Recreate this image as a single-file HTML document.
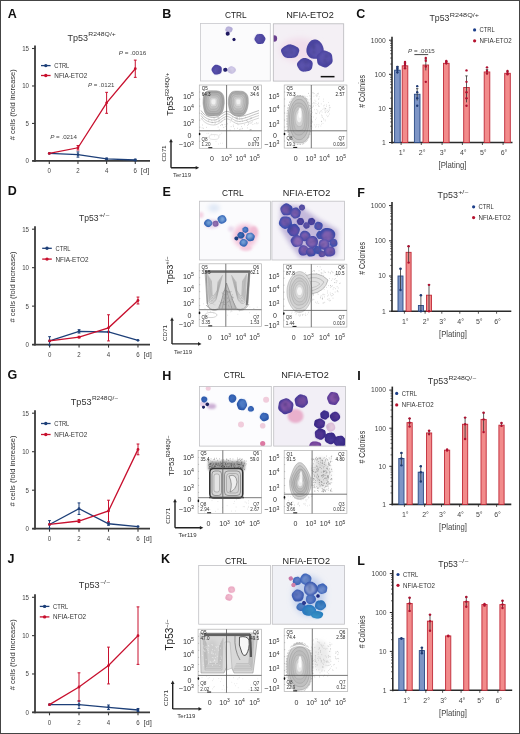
<!DOCTYPE html>
<html><head><meta charset="utf-8"><style>
html,body{margin:0;padding:0;background:#fff;}
svg{display:block;font-family:"Liberation Sans", sans-serif;will-change:transform;}
</style></head><body>
<svg width="520" height="734" viewBox="0 0 520 734">
<defs>
<filter id="bs" x="-50%" y="-50%" width="200%" height="200%"><feGaussianBlur stdDeviation="0.35"/></filter>
<filter id="bc" x="-50%" y="-50%" width="200%" height="200%"><feGaussianBlur stdDeviation="0.55"/></filter>
<filter id="b1" x="-50%" y="-50%" width="200%" height="200%"><feGaussianBlur stdDeviation="1"/></filter>
<filter id="b2" x="-50%" y="-50%" width="200%" height="200%"><feGaussianBlur stdDeviation="2"/></filter>
<filter id="b3" x="-50%" y="-50%" width="200%" height="200%"><feGaussianBlur stdDeviation="3"/></filter>
</defs>
<rect x="0" y="0" width="520" height="734" fill="#fff"/>
<text x="7.70" y="17.90" font-size="12.5" text-anchor="start" fill="#111" font-weight="bold" >A</text>
<text x="162.20" y="17.80" font-size="12.5" text-anchor="start" fill="#111" font-weight="bold" >B</text>
<text x="356.30" y="18.10" font-size="12.5" text-anchor="start" fill="#111" font-weight="bold" >C</text>
<text x="67.50" y="40.50" font-size="9.2" text-anchor="start" fill="#333" textLength="20.50" lengthAdjust="spacingAndGlyphs" >Tp53</text>
<text x="88.30" y="36.30" font-size="5.2" text-anchor="start" fill="#333" textLength="27.50" lengthAdjust="spacingAndGlyphs" >R248Q/+</text>
<text transform="translate(15.30,104.70) rotate(-90)" font-size="7.8" text-anchor="middle" fill="#333" textLength="71" lengthAdjust="spacingAndGlyphs"># cells (fold increase)</text>
<line x1="35.00" y1="45.50" x2="35.00" y2="161.80" stroke="#3a3a3a" stroke-width="1.8" />
<line x1="32.20" y1="160.90" x2="150.00" y2="160.90" stroke="#3a3a3a" stroke-width="1.8" />
<line x1="32.00" y1="160.90" x2="35.00" y2="160.90" stroke="#3a3a3a" stroke-width="1.1" />
<text x="29.00" y="163.30" font-size="6.8" text-anchor="end" fill="#444" textLength="3.40" lengthAdjust="spacingAndGlyphs" >0</text>
<line x1="32.00" y1="123.43" x2="35.00" y2="123.43" stroke="#3a3a3a" stroke-width="1.1" />
<text x="29.00" y="125.83" font-size="6.8" text-anchor="end" fill="#444" textLength="3.40" lengthAdjust="spacingAndGlyphs" >5</text>
<line x1="32.00" y1="85.97" x2="35.00" y2="85.97" stroke="#3a3a3a" stroke-width="1.1" />
<text x="29.00" y="88.37" font-size="6.8" text-anchor="end" fill="#444" textLength="6.80" lengthAdjust="spacingAndGlyphs" >10</text>
<line x1="32.00" y1="48.50" x2="35.00" y2="48.50" stroke="#3a3a3a" stroke-width="1.1" />
<text x="29.00" y="50.90" font-size="6.8" text-anchor="end" fill="#444" textLength="6.80" lengthAdjust="spacingAndGlyphs" >15</text>
<line x1="49.30" y1="160.90" x2="49.30" y2="163.90" stroke="#3a3a3a" stroke-width="1.1" />
<text x="49.30" y="173.40" font-size="6.8" text-anchor="middle" fill="#444" textLength="3.40" lengthAdjust="spacingAndGlyphs" >0</text>
<line x1="77.96" y1="160.90" x2="77.96" y2="163.90" stroke="#3a3a3a" stroke-width="1.1" />
<text x="77.96" y="173.40" font-size="6.8" text-anchor="middle" fill="#444" textLength="3.40" lengthAdjust="spacingAndGlyphs" >2</text>
<line x1="106.62" y1="160.90" x2="106.62" y2="163.90" stroke="#3a3a3a" stroke-width="1.1" />
<text x="106.62" y="173.40" font-size="6.8" text-anchor="middle" fill="#444" textLength="3.40" lengthAdjust="spacingAndGlyphs" >4</text>
<line x1="135.28" y1="160.90" x2="135.28" y2="163.90" stroke="#3a3a3a" stroke-width="1.1" />
<text x="135.28" y="173.40" font-size="6.8" text-anchor="middle" fill="#444" textLength="3.40" lengthAdjust="spacingAndGlyphs" >6</text>
<text x="140.78" y="173.40" font-size="6.8" text-anchor="start" fill="#444" textLength="8.50" lengthAdjust="spacingAndGlyphs" >[d]</text>
<line x1="41.00" y1="65.60" x2="50.60" y2="65.60" stroke="#1d3f78" stroke-width="1.3" />
<circle cx="45.80" cy="65.60" r="1.7" fill="#1d3f78"/>
<text x="54.30" y="68.00" font-size="7.0" text-anchor="start" fill="#333" textLength="15.00" lengthAdjust="spacingAndGlyphs" >CTRL</text>
<line x1="41.00" y1="75.50" x2="50.60" y2="75.50" stroke="#c8102e" stroke-width="1.3" />
<circle cx="45.80" cy="75.50" r="1.7" fill="#c8102e"/>
<text x="54.30" y="77.90" font-size="7.0" text-anchor="start" fill="#333" textLength="33.00" lengthAdjust="spacingAndGlyphs" >NFIA-ETO2</text>
<polyline points="49.30,153.41 77.96,154.53 106.62,158.88 135.28,160.00" fill="none" stroke="#1d3f78" stroke-width="1.3"/>
<circle cx="49.30" cy="153.41" r="1.4" fill="#1d3f78"/>
<line x1="77.96" y1="151.91" x2="77.96" y2="157.15" stroke="#1d3f78" stroke-width="1.0" />
<line x1="76.56" y1="151.91" x2="79.36" y2="151.91" stroke="#1d3f78" stroke-width="1.0" />
<line x1="76.56" y1="157.15" x2="79.36" y2="157.15" stroke="#1d3f78" stroke-width="1.0" />
<circle cx="77.96" cy="154.53" r="1.4" fill="#1d3f78"/>
<line x1="106.62" y1="158.13" x2="106.62" y2="159.63" stroke="#1d3f78" stroke-width="1.0" />
<line x1="105.22" y1="158.13" x2="108.02" y2="158.13" stroke="#1d3f78" stroke-width="1.0" />
<line x1="105.22" y1="159.63" x2="108.02" y2="159.63" stroke="#1d3f78" stroke-width="1.0" />
<circle cx="106.62" cy="158.88" r="1.4" fill="#1d3f78"/>
<line x1="135.28" y1="159.25" x2="135.28" y2="160.75" stroke="#1d3f78" stroke-width="1.0" />
<line x1="133.88" y1="159.25" x2="136.68" y2="159.25" stroke="#1d3f78" stroke-width="1.0" />
<line x1="133.88" y1="160.75" x2="136.68" y2="160.75" stroke="#1d3f78" stroke-width="1.0" />
<circle cx="135.28" cy="160.00" r="1.4" fill="#1d3f78"/>
<polyline points="49.30,153.41 77.96,147.79 106.62,102.83 135.28,68.73" fill="none" stroke="#c8102e" stroke-width="1.3"/>
<circle cx="49.30" cy="153.41" r="1.4" fill="#c8102e"/>
<line x1="77.96" y1="145.54" x2="77.96" y2="150.03" stroke="#c8102e" stroke-width="1.0" />
<line x1="76.56" y1="145.54" x2="79.36" y2="145.54" stroke="#c8102e" stroke-width="1.0" />
<line x1="76.56" y1="150.03" x2="79.36" y2="150.03" stroke="#c8102e" stroke-width="1.0" />
<circle cx="77.96" cy="147.79" r="1.4" fill="#c8102e"/>
<line x1="106.62" y1="92.34" x2="106.62" y2="113.32" stroke="#c8102e" stroke-width="1.0" />
<line x1="105.22" y1="92.34" x2="108.02" y2="92.34" stroke="#c8102e" stroke-width="1.0" />
<line x1="105.22" y1="113.32" x2="108.02" y2="113.32" stroke="#c8102e" stroke-width="1.0" />
<circle cx="106.62" cy="102.83" r="1.4" fill="#c8102e"/>
<line x1="135.28" y1="60.11" x2="135.28" y2="77.35" stroke="#c8102e" stroke-width="1.0" />
<line x1="133.88" y1="60.11" x2="136.68" y2="60.11" stroke="#c8102e" stroke-width="1.0" />
<line x1="133.88" y1="77.35" x2="136.68" y2="77.35" stroke="#c8102e" stroke-width="1.0" />
<circle cx="135.28" cy="68.73" r="1.4" fill="#c8102e"/>
<text x="50.20" y="139.00" font-size="6.2" text-anchor="start" fill="#444" textLength="26.80" lengthAdjust="spacingAndGlyphs" ><tspan font-style="italic">P</tspan> = .0214</text>
<text x="88.00" y="87.20" font-size="6.2" text-anchor="start" fill="#444" textLength="26.50" lengthAdjust="spacingAndGlyphs" ><tspan font-style="italic">P</tspan> = .0121</text>
<text x="118.75" y="54.70" font-size="6.2" text-anchor="start" fill="#444" textLength="27.50" lengthAdjust="spacingAndGlyphs" ><tspan font-style="italic">P</tspan> = .0016</text>
<text x="429.50" y="21.30" font-size="9.2" text-anchor="start" fill="#333" textLength="20.00" lengthAdjust="spacingAndGlyphs" >Tp53</text>
<text x="449.80" y="17.10" font-size="5.2" text-anchor="start" fill="#333" textLength="29.30" lengthAdjust="spacingAndGlyphs" >R248Q/+</text>
<text transform="translate(364.60,91.35) rotate(-90)" font-size="8.4" text-anchor="middle" fill="#333" textLength="32.7" lengthAdjust="spacingAndGlyphs"># Colonies</text>
<line x1="392.00" y1="36.70" x2="392.00" y2="143.40" stroke="#2a2a2a" stroke-width="1.6" />
<line x1="391.20" y1="142.50" x2="512.50" y2="142.50" stroke="#2a2a2a" stroke-width="1.6" />
<line x1="389.00" y1="142.50" x2="392.00" y2="142.50" stroke="#2a2a2a" stroke-width="1.0" />
<text x="385.80" y="144.80" font-size="6.4" text-anchor="end" fill="#444" textLength="3.75" lengthAdjust="spacingAndGlyphs" >1</text>
<line x1="390.20" y1="132.23" x2="392.00" y2="132.23" stroke="#2a2a2a" stroke-width="0.7" />
<line x1="390.20" y1="126.23" x2="392.00" y2="126.23" stroke="#2a2a2a" stroke-width="0.7" />
<line x1="390.20" y1="121.97" x2="392.00" y2="121.97" stroke="#2a2a2a" stroke-width="0.7" />
<line x1="390.20" y1="118.67" x2="392.00" y2="118.67" stroke="#2a2a2a" stroke-width="0.7" />
<line x1="390.20" y1="115.97" x2="392.00" y2="115.97" stroke="#2a2a2a" stroke-width="0.7" />
<line x1="390.20" y1="113.68" x2="392.00" y2="113.68" stroke="#2a2a2a" stroke-width="0.7" />
<line x1="390.20" y1="111.70" x2="392.00" y2="111.70" stroke="#2a2a2a" stroke-width="0.7" />
<line x1="390.20" y1="109.96" x2="392.00" y2="109.96" stroke="#2a2a2a" stroke-width="0.7" />
<line x1="389.00" y1="108.40" x2="392.00" y2="108.40" stroke="#2a2a2a" stroke-width="1.0" />
<text x="385.80" y="110.70" font-size="6.4" text-anchor="end" fill="#444" textLength="7.50" lengthAdjust="spacingAndGlyphs" >10</text>
<line x1="390.20" y1="98.13" x2="392.00" y2="98.13" stroke="#2a2a2a" stroke-width="0.7" />
<line x1="390.20" y1="92.13" x2="392.00" y2="92.13" stroke="#2a2a2a" stroke-width="0.7" />
<line x1="390.20" y1="87.87" x2="392.00" y2="87.87" stroke="#2a2a2a" stroke-width="0.7" />
<line x1="390.20" y1="84.57" x2="392.00" y2="84.57" stroke="#2a2a2a" stroke-width="0.7" />
<line x1="390.20" y1="81.87" x2="392.00" y2="81.87" stroke="#2a2a2a" stroke-width="0.7" />
<line x1="390.20" y1="79.58" x2="392.00" y2="79.58" stroke="#2a2a2a" stroke-width="0.7" />
<line x1="390.20" y1="77.60" x2="392.00" y2="77.60" stroke="#2a2a2a" stroke-width="0.7" />
<line x1="390.20" y1="75.86" x2="392.00" y2="75.86" stroke="#2a2a2a" stroke-width="0.7" />
<line x1="389.00" y1="74.30" x2="392.00" y2="74.30" stroke="#2a2a2a" stroke-width="1.0" />
<text x="385.80" y="76.60" font-size="6.4" text-anchor="end" fill="#444" textLength="11.25" lengthAdjust="spacingAndGlyphs" >100</text>
<line x1="390.20" y1="64.03" x2="392.00" y2="64.03" stroke="#2a2a2a" stroke-width="0.7" />
<line x1="390.20" y1="58.03" x2="392.00" y2="58.03" stroke="#2a2a2a" stroke-width="0.7" />
<line x1="390.20" y1="53.77" x2="392.00" y2="53.77" stroke="#2a2a2a" stroke-width="0.7" />
<line x1="390.20" y1="50.47" x2="392.00" y2="50.47" stroke="#2a2a2a" stroke-width="0.7" />
<line x1="390.20" y1="47.77" x2="392.00" y2="47.77" stroke="#2a2a2a" stroke-width="0.7" />
<line x1="390.20" y1="45.48" x2="392.00" y2="45.48" stroke="#2a2a2a" stroke-width="0.7" />
<line x1="390.20" y1="43.50" x2="392.00" y2="43.50" stroke="#2a2a2a" stroke-width="0.7" />
<line x1="390.20" y1="41.76" x2="392.00" y2="41.76" stroke="#2a2a2a" stroke-width="0.7" />
<line x1="389.00" y1="40.20" x2="392.00" y2="40.20" stroke="#2a2a2a" stroke-width="1.0" />
<text x="385.80" y="42.50" font-size="6.4" text-anchor="end" fill="#444" textLength="15.00" lengthAdjust="spacingAndGlyphs" >1000</text>
<line x1="401.10" y1="142.50" x2="401.10" y2="145.00" stroke="#2a2a2a" stroke-width="0.8" />
<text x="402.00" y="155.30" font-size="7.0" text-anchor="middle" fill="#444" >1°</text>
<line x1="421.30" y1="142.50" x2="421.30" y2="145.00" stroke="#2a2a2a" stroke-width="0.8" />
<text x="422.20" y="155.30" font-size="7.0" text-anchor="middle" fill="#444" >2°</text>
<line x1="442.10" y1="142.50" x2="442.10" y2="145.00" stroke="#2a2a2a" stroke-width="0.8" />
<text x="443.00" y="155.30" font-size="7.0" text-anchor="middle" fill="#444" >3°</text>
<line x1="462.40" y1="142.50" x2="462.40" y2="145.00" stroke="#2a2a2a" stroke-width="0.8" />
<text x="463.30" y="155.30" font-size="7.0" text-anchor="middle" fill="#444" >4°</text>
<line x1="482.40" y1="142.50" x2="482.40" y2="145.00" stroke="#2a2a2a" stroke-width="0.8" />
<text x="483.30" y="155.30" font-size="7.0" text-anchor="middle" fill="#444" >5°</text>
<line x1="503.10" y1="142.50" x2="503.10" y2="145.00" stroke="#2a2a2a" stroke-width="0.8" />
<text x="504.00" y="155.30" font-size="7.0" text-anchor="middle" fill="#444" >6°</text>
<text x="452.50" y="168.30" font-size="8.4" text-anchor="middle" fill="#444" textLength="28.00" lengthAdjust="spacingAndGlyphs" >[Plating]</text>
<circle cx="474.60" cy="29.90" r="1.6" fill="#1d3f8a"/>
<text x="479.60" y="32.10" font-size="6.3" text-anchor="start" fill="#333" textLength="15.20" lengthAdjust="spacingAndGlyphs" >CTRL</text>
<circle cx="474.60" cy="40.80" r="1.6" fill="#b5122e"/>
<text x="479.60" y="43.00" font-size="6.3" text-anchor="start" fill="#333" textLength="32.00" lengthAdjust="spacingAndGlyphs" >NFIA-ETO2</text>
<rect x="394.60" y="70.19" width="5.60" height="72.31" fill="#7d95c6" stroke="#2b4a85" stroke-width="0.9"/>
<line x1="397.40" y1="66.44" x2="397.40" y2="73.58" stroke="#333" stroke-width="0.8" />
<line x1="396.20" y1="66.44" x2="398.60" y2="66.44" stroke="#333" stroke-width="0.8" />
<circle cx="397.40" cy="72.23" r="1.2" fill="#1f3a74"/>
<circle cx="397.40" cy="69.86" r="1.2" fill="#1f3a74"/>
<circle cx="397.40" cy="68.30" r="1.2" fill="#1f3a74"/>
<circle cx="397.40" cy="66.88" r="1.2" fill="#1f3a74"/>
<rect x="402.20" y="65.84" width="5.60" height="76.66" fill="#f28b8b" stroke="#c02a38" stroke-width="0.9"/>
<line x1="405.00" y1="62.96" x2="405.00" y2="68.30" stroke="#333" stroke-width="0.8" />
<line x1="403.80" y1="62.96" x2="406.20" y2="62.96" stroke="#333" stroke-width="0.8" />
<circle cx="405.00" cy="68.30" r="1.2" fill="#b01030"/>
<circle cx="405.00" cy="65.60" r="1.2" fill="#b01030"/>
<circle cx="405.00" cy="64.03" r="1.2" fill="#b01030"/>
<circle cx="405.00" cy="61.97" r="1.2" fill="#b01030"/>
<rect x="414.40" y="94.25" width="5.60" height="48.25" fill="#7d95c6" stroke="#2b4a85" stroke-width="0.9"/>
<line x1="417.20" y1="88.63" x2="417.20" y2="100.54" stroke="#333" stroke-width="0.8" />
<line x1="416.00" y1="88.63" x2="418.40" y2="88.63" stroke="#333" stroke-width="0.8" />
<circle cx="417.20" cy="105.70" r="1.2" fill="#1f3a74"/>
<circle cx="417.20" cy="98.13" r="1.2" fill="#1f3a74"/>
<circle cx="417.20" cy="92.13" r="1.2" fill="#1f3a74"/>
<circle cx="417.20" cy="86.13" r="1.2" fill="#1f3a74"/>
<rect x="423.00" y="65.03" width="5.60" height="77.47" fill="#f28b8b" stroke="#c02a38" stroke-width="0.9"/>
<line x1="425.80" y1="59.05" x2="425.80" y2="70.41" stroke="#333" stroke-width="0.8" />
<line x1="424.60" y1="59.05" x2="427.00" y2="59.05" stroke="#333" stroke-width="0.8" />
<circle cx="425.80" cy="81.87" r="1.2" fill="#b01030"/>
<circle cx="425.80" cy="66.44" r="1.2" fill="#b01030"/>
<circle cx="425.80" cy="60.73" r="1.2" fill="#b01030"/>
<circle cx="425.80" cy="58.03" r="1.2" fill="#b01030"/>
<rect x="443.50" y="63.31" width="5.60" height="79.19" fill="#f28b8b" stroke="#c02a38" stroke-width="0.9"/>
<line x1="446.30" y1="61.33" x2="446.30" y2="64.41" stroke="#333" stroke-width="0.8" />
<line x1="445.10" y1="61.33" x2="447.50" y2="61.33" stroke="#333" stroke-width="0.8" />
<circle cx="446.30" cy="63.31" r="1.2" fill="#b01030"/>
<circle cx="446.30" cy="61.97" r="1.2" fill="#b01030"/>
<circle cx="446.30" cy="61.03" r="1.2" fill="#b01030"/>
<rect x="463.70" y="87.50" width="5.60" height="55.00" fill="#f28b8b" stroke="#c02a38" stroke-width="0.9"/>
<line x1="466.50" y1="75.86" x2="466.50" y2="102.40" stroke="#333" stroke-width="0.8" />
<line x1="465.30" y1="75.86" x2="467.70" y2="75.86" stroke="#333" stroke-width="0.8" />
<circle cx="466.50" cy="105.70" r="1.2" fill="#b01030"/>
<circle cx="466.50" cy="98.13" r="1.2" fill="#b01030"/>
<circle cx="466.50" cy="92.13" r="1.2" fill="#b01030"/>
<circle cx="466.50" cy="81.87" r="1.2" fill="#b01030"/>
<circle cx="466.50" cy="70.41" r="1.2" fill="#b01030"/>
<rect x="484.20" y="71.97" width="5.60" height="70.53" fill="#f28b8b" stroke="#c02a38" stroke-width="0.9"/>
<line x1="487.00" y1="69.32" x2="487.00" y2="74.30" stroke="#333" stroke-width="0.8" />
<line x1="485.80" y1="69.32" x2="488.20" y2="69.32" stroke="#333" stroke-width="0.8" />
<circle cx="487.00" cy="73.58" r="1.2" fill="#b01030"/>
<circle cx="487.00" cy="71.00" r="1.2" fill="#b01030"/>
<circle cx="487.00" cy="67.34" r="1.2" fill="#b01030"/>
<rect x="504.70" y="73.30" width="5.60" height="69.20" fill="#f28b8b" stroke="#c02a38" stroke-width="0.9"/>
<line x1="507.50" y1="71.36" x2="507.50" y2="74.60" stroke="#333" stroke-width="0.8" />
<line x1="506.30" y1="71.36" x2="508.70" y2="71.36" stroke="#333" stroke-width="0.8" />
<circle cx="507.50" cy="74.30" r="1.2" fill="#b01030"/>
<circle cx="507.50" cy="72.89" r="1.2" fill="#b01030"/>
<circle cx="507.50" cy="71.00" r="1.2" fill="#b01030"/>
<text x="408.00" y="53.00" font-size="6.2" text-anchor="start" fill="#444" textLength="26.80" lengthAdjust="spacingAndGlyphs" ><tspan font-style="italic">P</tspan> = .0015</text>
<line x1="414.40" y1="54.60" x2="428.20" y2="54.60" stroke="#333" stroke-width="0.9" />
<text x="235.90" y="17.50" font-size="9.7" text-anchor="middle" fill="#222" textLength="21.70" lengthAdjust="spacingAndGlyphs" >CTRL</text>
<text x="310.00" y="17.50" font-size="9.7" text-anchor="middle" fill="#222" textLength="47.50" lengthAdjust="spacingAndGlyphs" >NFIA-ETO2</text>
<clipPath id="clip174"><rect x="200.40" y="23.50" width="69.90" height="57.50"/></clipPath>
<rect x="200.40" y="23.50" width="69.90" height="57.50" fill="#fbfbfc"/>
<g clip-path="url(#clip174)">
<path d="M232.58,29.50 L232.51,29.79 L232.43,30.07 L232.33,30.34 L232.21,30.61 L232.08,30.87 L231.93,31.13 L231.76,31.39 L231.56,31.63 L231.33,31.86 L231.06,32.07 L230.76,32.24 L230.43,32.37 L230.08,32.46 L229.72,32.50 L229.36,32.51 L229.00,32.48 L228.65,32.43 L228.32,32.36 L227.99,32.27 L227.67,32.18 L227.35,32.07 L227.04,31.94 L226.73,31.80 L226.44,31.63 L226.16,31.44 L225.92,31.21 L225.72,30.96 L225.56,30.69 L225.45,30.40 L225.40,30.10 L225.39,29.80 L225.42,29.50 L225.49,29.21 L225.57,28.93 L225.67,28.66 L225.79,28.39 L225.92,28.13 L226.07,27.87 L226.24,27.61 L226.44,27.37 L226.67,27.14 L226.94,26.93 L227.24,26.76 L227.57,26.63 L227.92,26.54 L228.28,26.50 L228.64,26.49 L229.00,26.52 L229.35,26.57 L229.68,26.64 L230.01,26.73 L230.33,26.82 L230.65,26.93 L230.96,27.06 L231.27,27.20 L231.56,27.37 L231.84,27.56 L232.08,27.79 L232.28,28.04 L232.44,28.31 L232.55,28.60 L232.60,28.90 L232.61,29.20 Z" fill="#aea6d4" filter="url(#bc)"/>
<path d="M231.00,29.67 L230.95,29.87 L230.91,30.07 L230.88,30.27 L230.85,30.48 L230.80,30.69 L230.72,30.90 L230.60,31.10 L230.43,31.28 L230.22,31.42 L229.99,31.52 L229.73,31.59 L229.48,31.63 L229.23,31.65 L228.98,31.68 L228.74,31.71 L228.50,31.75 L228.25,31.79 L227.99,31.81 L227.73,31.81 L227.46,31.76 L227.22,31.68 L227.00,31.55 L226.82,31.38 L226.67,31.20 L226.55,31.01 L226.44,30.82 L226.34,30.64 L226.23,30.46 L226.11,30.28 L225.99,30.09 L225.89,29.89 L225.82,29.67 L225.79,29.45 L225.83,29.23 L225.92,29.02 L226.06,28.83 L226.23,28.66 L226.41,28.50 L226.59,28.36 L226.77,28.22 L226.94,28.08 L227.11,27.93 L227.29,27.78 L227.49,27.64 L227.72,27.52 L227.97,27.44 L228.24,27.41 L228.50,27.43 L228.76,27.49 L229.00,27.57 L229.23,27.67 L229.45,27.77 L229.66,27.87 L229.88,27.95 L230.11,28.04 L230.33,28.14 L230.55,28.27 L230.75,28.42 L230.91,28.60 L231.01,28.80 L231.07,29.02 L231.07,29.24 L231.05,29.46 Z" fill="#c8c2e4" filter="url(#b1)" opacity="0.85"/>
<ellipse cx="228.63" cy="28.26" rx="0.78" ry="0.47" fill="#827c9f" opacity="0.3" filter="url(#b1)"/>
<ellipse cx="227.64" cy="30.42" rx="0.94" ry="0.71" fill="#827c9f" opacity="0.3" filter="url(#b1)"/>
<ellipse cx="231.09" cy="29.42" rx="0.78" ry="0.51" fill="#827c9f" opacity="0.3" filter="url(#b1)"/>
<path d="M235.84,70.00 L235.80,70.36 L235.70,70.72 L235.55,71.05 L235.35,71.37 L235.13,71.66 L234.89,71.94 L234.64,72.21 L234.37,72.46 L234.09,72.70 L233.79,72.93 L233.47,73.15 L233.12,73.35 L232.74,73.51 L232.34,73.63 L231.93,73.71 L231.50,73.72 L231.08,73.69 L230.66,73.60 L230.27,73.47 L229.90,73.30 L229.56,73.11 L229.23,72.91 L228.93,72.69 L228.63,72.46 L228.35,72.22 L228.08,71.96 L227.82,71.69 L227.59,71.39 L227.40,71.07 L227.26,70.72 L227.18,70.36 L227.16,70.00 L227.20,69.64 L227.30,69.28 L227.45,68.95 L227.65,68.63 L227.87,68.34 L228.11,68.06 L228.36,67.79 L228.63,67.54 L228.91,67.30 L229.21,67.07 L229.53,66.85 L229.88,66.65 L230.26,66.49 L230.66,66.37 L231.07,66.29 L231.50,66.28 L231.92,66.31 L232.34,66.40 L232.73,66.53 L233.10,66.70 L233.44,66.89 L233.77,67.09 L234.07,67.31 L234.37,67.54 L234.65,67.78 L234.92,68.04 L235.18,68.31 L235.41,68.61 L235.60,68.93 L235.74,69.28 L235.82,69.64 Z" fill="#c4bce0" filter="url(#bc)"/>
<path d="M234.61,69.91 L234.62,70.15 L234.60,70.39 L234.57,70.64 L234.52,70.89 L234.43,71.14 L234.31,71.38 L234.16,71.61 L233.98,71.82 L233.76,72.01 L233.51,72.17 L233.24,72.30 L232.95,72.40 L232.64,72.46 L232.34,72.49 L232.04,72.49 L231.74,72.46 L231.45,72.41 L231.17,72.35 L230.90,72.27 L230.64,72.18 L230.39,72.07 L230.14,71.96 L229.90,71.83 L229.66,71.69 L229.43,71.53 L229.22,71.35 L229.02,71.15 L228.86,70.93 L228.72,70.69 L228.63,70.44 L228.57,70.17 L228.56,69.91 L228.60,69.64 L228.67,69.38 L228.79,69.14 L228.93,68.91 L229.10,68.70 L229.29,68.50 L229.49,68.32 L229.70,68.16 L229.92,68.01 L230.15,67.86 L230.38,67.73 L230.63,67.61 L230.89,67.50 L231.16,67.41 L231.44,67.33 L231.74,67.28 L232.05,67.25 L232.35,67.26 L232.66,67.31 L232.96,67.39 L233.24,67.50 L233.50,67.65 L233.73,67.83 L233.93,68.03 L234.11,68.24 L234.25,68.47 L234.36,68.71 L234.44,68.95 L234.51,69.19 L234.56,69.43 L234.59,69.67 Z" fill="#dcd6ee" filter="url(#b1)" opacity="0.85"/>
<ellipse cx="233.90" cy="70.53" rx="1.12" ry="0.73" fill="#938da8" opacity="0.3" filter="url(#b1)"/>
<ellipse cx="230.25" cy="70.82" rx="1.22" ry="1.01" fill="#938da8" opacity="0.3" filter="url(#b1)"/>
<ellipse cx="230.35" cy="70.55" rx="1.06" ry="0.84" fill="#938da8" opacity="0.3" filter="url(#b1)"/>
<path d="M265.47,39.00 L265.38,39.51 L265.20,39.99 L264.97,40.45 L264.74,40.89 L264.51,41.32 L264.30,41.76 L264.07,42.21 L263.80,42.65 L263.46,43.06 L263.05,43.39 L262.57,43.63 L262.06,43.77 L261.53,43.85 L261.01,43.88 L260.50,43.90 L260.00,43.94 L259.49,43.98 L258.97,44.00 L258.43,43.98 L257.91,43.86 L257.42,43.65 L256.98,43.35 L256.62,42.97 L256.30,42.56 L256.02,42.14 L255.75,41.73 L255.46,41.33 L255.17,40.93 L254.89,40.49 L254.67,40.02 L254.54,39.52 L254.53,39.00 L254.62,38.49 L254.80,38.01 L255.03,37.55 L255.26,37.11 L255.49,36.68 L255.70,36.24 L255.93,35.79 L256.20,35.35 L256.54,34.94 L256.95,34.61 L257.43,34.37 L257.94,34.23 L258.47,34.15 L258.99,34.12 L259.50,34.10 L260.00,34.06 L260.51,34.02 L261.03,34.00 L261.57,34.02 L262.09,34.14 L262.58,34.35 L263.02,34.65 L263.38,35.03 L263.70,35.44 L263.98,35.86 L264.25,36.27 L264.54,36.67 L264.83,37.07 L265.11,37.51 L265.33,37.98 L265.46,38.48 Z" fill="#4c45a0" filter="url(#bc)"/>
<path d="M263.20,38.51 L263.13,38.88 L263.01,39.24 L262.84,39.57 L262.65,39.88 L262.44,40.17 L262.22,40.45 L262.00,40.72 L261.78,40.99 L261.54,41.25 L261.29,41.51 L261.01,41.76 L260.70,41.98 L260.36,42.16 L259.99,42.29 L259.60,42.36 L259.21,42.36 L258.82,42.29 L258.45,42.17 L258.10,42.01 L257.78,41.82 L257.48,41.62 L257.19,41.41 L256.91,41.20 L256.63,40.99 L256.36,40.76 L256.08,40.52 L255.83,40.25 L255.60,39.95 L255.41,39.62 L255.28,39.26 L255.21,38.89 L255.21,38.51 L255.28,38.14 L255.40,37.78 L255.57,37.45 L255.76,37.14 L255.97,36.85 L256.19,36.57 L256.41,36.30 L256.63,36.04 L256.87,35.77 L257.12,35.51 L257.40,35.26 L257.71,35.04 L258.05,34.86 L258.42,34.73 L258.81,34.67 L259.21,34.67 L259.59,34.73 L259.96,34.85 L260.31,35.01 L260.63,35.20 L260.93,35.40 L261.22,35.61 L261.50,35.82 L261.78,36.04 L262.05,36.26 L262.33,36.51 L262.58,36.77 L262.81,37.07 L263.00,37.40 L263.13,37.76 L263.20,38.13 Z" fill="#5d55ae" filter="url(#b1)" opacity="0.85"/>
<ellipse cx="260.95" cy="38.44" rx="0.93" ry="1.18" fill="#393478" opacity="0.3" filter="url(#b1)"/>
<ellipse cx="261.46" cy="40.77" rx="1.16" ry="1.50" fill="#393478" opacity="0.3" filter="url(#b1)"/>
<ellipse cx="262.11" cy="37.17" rx="1.08" ry="0.99" fill="#393478" opacity="0.3" filter="url(#b1)"/>
<path d="M221.73,69.70 L221.70,70.16 L221.66,70.63 L221.61,71.10 L221.52,71.58 L221.38,72.05 L221.17,72.50 L220.88,72.92 L220.52,73.27 L220.10,73.57 L219.65,73.79 L219.17,73.97 L218.70,74.11 L218.23,74.23 L217.76,74.34 L217.29,74.45 L216.80,74.54 L216.30,74.60 L215.78,74.61 L215.27,74.54 L214.78,74.39 L214.32,74.15 L213.92,73.85 L213.56,73.49 L213.25,73.11 L212.97,72.72 L212.71,72.33 L212.45,71.93 L212.20,71.53 L211.96,71.11 L211.75,70.66 L211.60,70.19 L211.53,69.70 L211.55,69.20 L211.66,68.72 L211.85,68.26 L212.10,67.83 L212.39,67.43 L212.69,67.06 L213.00,66.70 L213.31,66.34 L213.63,65.99 L213.98,65.64 L214.37,65.33 L214.80,65.05 L215.27,64.85 L215.77,64.73 L216.29,64.70 L216.80,64.74 L217.30,64.85 L217.77,65.00 L218.23,65.16 L218.68,65.33 L219.13,65.51 L219.58,65.70 L220.03,65.92 L220.46,66.18 L220.85,66.50 L221.19,66.88 L221.45,67.31 L221.62,67.78 L221.72,68.27 L221.76,68.75 L221.75,69.23 Z" fill="#4c45a0" filter="url(#bc)"/>
<path d="M220.73,70.19 L220.70,70.55 L220.57,70.90 L220.37,71.21 L220.16,71.50 L219.95,71.77 L219.77,72.05 L219.61,72.35 L219.45,72.66 L219.25,72.98 L219.00,73.25 L218.69,73.46 L218.33,73.59 L217.95,73.62 L217.58,73.60 L217.22,73.56 L216.87,73.53 L216.53,73.53 L216.17,73.56 L215.80,73.57 L215.42,73.55 L215.05,73.45 L214.73,73.27 L214.46,73.01 L214.25,72.70 L214.10,72.38 L213.95,72.06 L213.80,71.76 L213.62,71.48 L213.42,71.19 L213.22,70.89 L213.07,70.55 L213.01,70.19 L213.04,69.83 L213.17,69.48 L213.37,69.17 L213.58,68.88 L213.79,68.61 L213.97,68.33 L214.13,68.03 L214.29,67.71 L214.49,67.40 L214.74,67.12 L215.05,66.91 L215.41,66.79 L215.79,66.75 L216.16,66.77 L216.52,66.81 L216.87,66.84 L217.21,66.84 L217.57,66.82 L217.94,66.80 L218.32,66.83 L218.69,66.92 L219.01,67.11 L219.28,67.36 L219.49,67.67 L219.64,68.00 L219.79,68.32 L219.94,68.61 L220.12,68.90 L220.32,69.18 L220.52,69.49 L220.67,69.83 Z" fill="#5d55ae" filter="url(#b1)" opacity="0.85"/>
<ellipse cx="219.13" cy="69.55" rx="1.34" ry="1.21" fill="#393478" opacity="0.3" filter="url(#b1)"/>
<ellipse cx="218.48" cy="71.90" rx="1.13" ry="1.28" fill="#393478" opacity="0.3" filter="url(#b1)"/>
<ellipse cx="218.89" cy="71.72" rx="1.51" ry="0.75" fill="#393478" opacity="0.3" filter="url(#b1)"/>
<path d="M229.64,33.70 L229.66,33.89 L229.65,34.09 L229.63,34.29 L229.59,34.48 L229.52,34.67 L229.42,34.85 L229.30,35.01 L229.15,35.15 L228.99,35.27 L228.82,35.37 L228.63,35.45 L228.45,35.51 L228.26,35.56 L228.08,35.59 L227.89,35.62 L227.70,35.64 L227.51,35.66 L227.31,35.65 L227.11,35.63 L226.92,35.59 L226.73,35.52 L226.55,35.42 L226.39,35.30 L226.25,35.15 L226.13,34.99 L226.03,34.82 L225.95,34.63 L225.89,34.45 L225.84,34.26 L225.81,34.08 L225.78,33.89 L225.76,33.70 L225.74,33.51 L225.75,33.31 L225.77,33.11 L225.81,32.92 L225.88,32.73 L225.98,32.55 L226.10,32.39 L226.25,32.25 L226.41,32.13 L226.58,32.03 L226.77,31.95 L226.95,31.89 L227.14,31.84 L227.32,31.81 L227.51,31.78 L227.70,31.76 L227.89,31.74 L228.09,31.75 L228.29,31.77 L228.48,31.81 L228.67,31.88 L228.85,31.98 L229.01,32.10 L229.15,32.25 L229.27,32.41 L229.37,32.58 L229.45,32.77 L229.51,32.95 L229.56,33.14 L229.59,33.32 L229.62,33.51 Z" fill="#1b185e" filter="url(#bc)"/>
<path d="M235.64,39.50 L235.64,39.66 L235.62,39.82 L235.58,39.98 L235.52,40.13 L235.43,40.27 L235.33,40.39 L235.22,40.50 L235.10,40.60 L234.98,40.70 L234.86,40.78 L234.73,40.86 L234.60,40.94 L234.46,41.01 L234.31,41.07 L234.16,41.11 L234.00,41.14 L233.84,41.14 L233.68,41.12 L233.52,41.08 L233.37,41.02 L233.23,40.93 L233.11,40.83 L233.00,40.72 L232.90,40.60 L232.80,40.48 L232.72,40.36 L232.64,40.23 L232.56,40.10 L232.49,39.96 L232.43,39.81 L232.39,39.66 L232.36,39.50 L232.36,39.34 L232.38,39.18 L232.42,39.02 L232.48,38.87 L232.57,38.73 L232.67,38.61 L232.78,38.50 L232.90,38.40 L233.02,38.30 L233.14,38.22 L233.27,38.14 L233.40,38.06 L233.54,37.99 L233.69,37.93 L233.84,37.89 L234.00,37.86 L234.16,37.86 L234.32,37.88 L234.48,37.92 L234.63,37.98 L234.77,38.07 L234.89,38.17 L235.00,38.28 L235.10,38.40 L235.20,38.52 L235.28,38.64 L235.36,38.77 L235.44,38.90 L235.51,39.04 L235.57,39.19 L235.61,39.34 Z" fill="#1b185e" filter="url(#bc)"/>
<path d="M227.34,69.80 L227.35,69.99 L227.35,70.19 L227.33,70.39 L227.28,70.58 L227.21,70.77 L227.11,70.95 L226.98,71.11 L226.83,71.25 L226.66,71.37 L226.47,71.47 L226.28,71.55 L226.09,71.61 L225.89,71.66 L225.70,71.69 L225.50,71.72 L225.30,71.74 L225.10,71.76 L224.89,71.75 L224.68,71.73 L224.48,71.69 L224.28,71.62 L224.09,71.52 L223.92,71.40 L223.77,71.25 L223.65,71.09 L223.55,70.92 L223.46,70.73 L223.40,70.55 L223.35,70.36 L223.31,70.18 L223.28,69.99 L223.26,69.80 L223.25,69.61 L223.25,69.41 L223.27,69.21 L223.32,69.02 L223.39,68.83 L223.49,68.65 L223.62,68.49 L223.77,68.35 L223.94,68.23 L224.13,68.13 L224.32,68.05 L224.51,67.99 L224.71,67.94 L224.90,67.91 L225.10,67.88 L225.30,67.86 L225.50,67.84 L225.71,67.85 L225.92,67.87 L226.12,67.91 L226.32,67.98 L226.51,68.08 L226.68,68.20 L226.83,68.35 L226.95,68.51 L227.05,68.68 L227.14,68.87 L227.20,69.05 L227.25,69.24 L227.29,69.42 L227.32,69.61 Z" fill="#25226e" filter="url(#bc)"/>
</g>
<rect x="200.40" y="23.50" width="69.90" height="57.50" fill="none" stroke="#c8c8cc" stroke-width="0.8"/>
<clipPath id="clip202"><rect x="273.30" y="23.80" width="70.40" height="57.30"/></clipPath>
<rect x="273.30" y="23.80" width="70.40" height="57.30" fill="#f4f0f5"/>
<g clip-path="url(#clip202)">
<ellipse cx="300.00" cy="50.00" rx="20.00" ry="12.00" fill="#f0d8e8" fill-opacity="0.8" filter="url(#b3)"/>
<ellipse cx="274.10" cy="38.50" rx="3.00" ry="3.20" fill="#6b3f8f" fill-opacity="1" filter="url(#bs)"/>
<path d="M299.12,51.40 L298.94,52.05 L298.73,52.68 L298.52,53.31 L298.28,53.93 L298.02,54.56 L297.70,55.19 L297.29,55.79 L296.76,56.35 L296.11,56.84 L295.36,57.23 L294.53,57.52 L293.66,57.71 L292.78,57.83 L291.91,57.89 L291.05,57.94 L290.20,57.97 L289.34,58.00 L288.46,58.00 L287.57,57.95 L286.68,57.82 L285.82,57.59 L285.03,57.25 L284.32,56.81 L283.73,56.29 L283.24,55.72 L282.83,55.12 L282.49,54.51 L282.17,53.91 L281.87,53.31 L281.58,52.70 L281.31,52.06 L281.12,51.40 L281.03,50.72 L281.08,50.03 L281.29,49.36 L281.66,48.73 L282.15,48.15 L282.74,47.63 L283.37,47.17 L284.03,46.74 L284.69,46.33 L285.36,45.92 L286.04,45.52 L286.77,45.15 L287.55,44.81 L288.40,44.55 L289.29,44.40 L290.20,44.37 L291.10,44.46 L291.98,44.66 L292.80,44.93 L293.57,45.25 L294.31,45.59 L295.03,45.94 L295.74,46.30 L296.45,46.68 L297.15,47.09 L297.80,47.56 L298.36,48.10 L298.80,48.71 L299.09,49.36 L299.23,50.04 L299.23,50.73 Z" fill="#4c45a0" filter="url(#bc)"/>
<path d="M296.00,51.92 L295.88,52.38 L295.78,52.83 L295.70,53.28 L295.62,53.76 L295.49,54.24 L295.29,54.72 L294.99,55.17 L294.58,55.57 L294.06,55.88 L293.46,56.11 L292.83,56.27 L292.18,56.36 L291.56,56.42 L290.95,56.48 L290.36,56.55 L289.75,56.63 L289.13,56.72 L288.48,56.77 L287.81,56.76 L287.15,56.66 L286.54,56.47 L285.99,56.17 L285.54,55.80 L285.17,55.39 L284.86,54.95 L284.60,54.52 L284.34,54.11 L284.06,53.70 L283.76,53.29 L283.47,52.87 L283.21,52.41 L283.04,51.92 L282.98,51.42 L283.07,50.92 L283.30,50.44 L283.64,50.01 L284.06,49.62 L284.52,49.28 L284.97,48.96 L285.41,48.64 L285.83,48.31 L286.26,47.97 L286.72,47.63 L287.23,47.31 L287.80,47.05 L288.42,46.87 L289.09,46.80 L289.75,46.84 L290.40,46.97 L291.01,47.16 L291.57,47.39 L292.11,47.62 L292.65,47.83 L293.19,48.03 L293.76,48.23 L294.33,48.46 L294.88,48.74 L295.37,49.08 L295.77,49.49 L296.03,49.96 L296.16,50.45 L296.18,50.96 L296.11,51.45 Z" fill="#5d55ae" filter="url(#b1)" opacity="0.85"/>
<ellipse cx="286.09" cy="52.64" rx="2.68" ry="1.43" fill="#393478" opacity="0.3" filter="url(#b1)"/>
<ellipse cx="291.78" cy="52.80" rx="1.82" ry="1.48" fill="#393478" opacity="0.3" filter="url(#b1)"/>
<ellipse cx="290.56" cy="48.78" rx="1.71" ry="1.83" fill="#393478" opacity="0.3" filter="url(#b1)"/>
<path d="M323.65,49.50 L323.69,50.47 L323.64,51.44 L323.48,52.40 L323.22,53.34 L322.85,54.23 L322.38,55.07 L321.83,55.82 L321.20,56.50 L320.52,57.08 L319.78,57.57 L319.02,57.98 L318.23,58.30 L317.43,58.54 L316.62,58.71 L315.81,58.82 L315.00,58.87 L314.18,58.85 L313.37,58.77 L312.55,58.62 L311.73,58.39 L310.94,58.07 L310.16,57.67 L309.43,57.16 L308.75,56.55 L308.13,55.86 L307.60,55.08 L307.16,54.23 L306.82,53.32 L306.58,52.38 L306.44,51.42 L306.40,50.46 L306.45,49.50 L306.57,48.56 L306.77,47.65 L307.02,46.77 L307.33,45.91 L307.68,45.09 L308.08,44.29 L308.54,43.52 L309.04,42.78 L309.61,42.09 L310.23,41.44 L310.91,40.87 L311.65,40.37 L312.44,39.97 L313.27,39.68 L314.13,39.51 L315.00,39.47 L315.87,39.54 L316.72,39.74 L317.54,40.06 L318.32,40.47 L319.04,40.97 L319.72,41.53 L320.34,42.16 L320.91,42.84 L321.43,43.55 L321.90,44.30 L322.33,45.08 L322.71,45.90 L323.04,46.75 L323.31,47.63 L323.52,48.55 Z" fill="#4c45a0" filter="url(#bc)"/>
<path d="M322.09,50.54 L322.10,51.19 L322.08,51.85 L322.01,52.52 L321.89,53.19 L321.72,53.86 L321.48,54.51 L321.17,55.13 L320.79,55.70 L320.34,56.21 L319.83,56.65 L319.27,57.00 L318.68,57.25 L318.06,57.42 L317.44,57.50 L316.82,57.49 L316.21,57.42 L315.62,57.29 L315.05,57.11 L314.50,56.90 L313.96,56.65 L313.44,56.38 L312.93,56.07 L312.43,55.73 L311.95,55.35 L311.48,54.92 L311.04,54.43 L310.65,53.89 L310.31,53.29 L310.03,52.65 L309.83,51.97 L309.73,51.26 L309.71,50.54 L309.78,49.82 L309.93,49.13 L310.16,48.46 L310.45,47.85 L310.80,47.27 L311.18,46.75 L311.60,46.27 L312.03,45.82 L312.48,45.41 L312.95,45.03 L313.43,44.68 L313.94,44.35 L314.47,44.05 L315.02,43.80 L315.60,43.59 L316.21,43.45 L316.83,43.39 L317.47,43.41 L318.09,43.53 L318.70,43.75 L319.28,44.06 L319.81,44.46 L320.29,44.93 L320.70,45.47 L321.05,46.05 L321.34,46.67 L321.57,47.31 L321.75,47.95 L321.88,48.60 L321.98,49.24 L322.05,49.89 Z" fill="#5d55ae" filter="url(#b1)" opacity="0.85"/>
<ellipse cx="313.59" cy="46.07" rx="1.48" ry="2.47" fill="#393478" opacity="0.3" filter="url(#b1)"/>
<ellipse cx="313.68" cy="52.35" rx="1.94" ry="1.97" fill="#393478" opacity="0.3" filter="url(#b1)"/>
<ellipse cx="313.51" cy="47.70" rx="1.53" ry="2.28" fill="#393478" opacity="0.3" filter="url(#b1)"/>
<path d="M312.59,64.90 L312.50,65.54 L312.39,66.18 L312.28,66.82 L312.13,67.47 L311.92,68.13 L311.63,68.76 L311.22,69.35 L310.71,69.88 L310.09,70.31 L309.41,70.65 L308.68,70.90 L307.94,71.08 L307.20,71.22 L306.47,71.34 L305.74,71.45 L305.00,71.55 L304.24,71.62 L303.46,71.63 L302.68,71.56 L301.92,71.39 L301.20,71.10 L300.55,70.71 L299.98,70.23 L299.50,69.70 L299.08,69.13 L298.71,68.56 L298.36,67.99 L298.02,67.42 L297.69,66.83 L297.38,66.22 L297.14,65.58 L296.99,64.90 L296.97,64.21 L297.09,63.53 L297.35,62.88 L297.72,62.27 L298.16,61.71 L298.65,61.20 L299.16,60.72 L299.68,60.26 L300.20,59.80 L300.74,59.34 L301.33,58.91 L301.97,58.52 L302.67,58.21 L303.43,58.00 L304.21,57.91 L305.00,57.95 L305.77,58.08 L306.51,58.29 L307.21,58.55 L307.89,58.83 L308.55,59.11 L309.21,59.40 L309.88,59.72 L310.53,60.08 L311.14,60.50 L311.68,61.01 L312.12,61.58 L312.43,62.22 L312.61,62.89 L312.68,63.57 L312.66,64.24 Z" fill="#4c45a0" filter="url(#bc)"/>
<path d="M310.46,65.36 L310.36,65.85 L310.18,66.33 L309.93,66.77 L309.64,67.19 L309.33,67.57 L309.01,67.94 L308.69,68.30 L308.36,68.66 L308.02,69.01 L307.64,69.36 L307.23,69.69 L306.78,69.99 L306.27,70.23 L305.73,70.40 L305.15,70.48 L304.58,70.48 L304.01,70.40 L303.46,70.24 L302.95,70.02 L302.48,69.77 L302.03,69.50 L301.61,69.22 L301.20,68.94 L300.79,68.66 L300.38,68.36 L299.98,68.03 L299.60,67.67 L299.27,67.27 L298.99,66.83 L298.79,66.36 L298.69,65.86 L298.70,65.36 L298.79,64.86 L298.98,64.39 L299.22,63.94 L299.51,63.53 L299.82,63.14 L300.14,62.77 L300.46,62.41 L300.79,62.06 L301.14,61.70 L301.51,61.35 L301.92,61.02 L302.38,60.73 L302.88,60.49 L303.43,60.32 L304.00,60.23 L304.58,60.23 L305.14,60.32 L305.69,60.47 L306.20,60.69 L306.67,60.94 L307.12,61.21 L307.54,61.49 L307.95,61.77 L308.36,62.06 L308.77,62.36 L309.17,62.68 L309.55,63.04 L309.89,63.44 L310.16,63.88 L310.36,64.35 L310.46,64.85 Z" fill="#5d55ae" filter="url(#b1)" opacity="0.85"/>
<ellipse cx="307.09" cy="62.76" rx="1.47" ry="1.23" fill="#393478" opacity="0.3" filter="url(#b1)"/>
<ellipse cx="306.22" cy="68.25" rx="2.31" ry="1.66" fill="#393478" opacity="0.3" filter="url(#b1)"/>
<ellipse cx="305.10" cy="61.66" rx="2.16" ry="1.97" fill="#393478" opacity="0.3" filter="url(#b1)"/>
<path d="M332.49,59.00 L332.59,59.81 L332.63,60.64 L332.57,61.48 L332.35,62.29 L331.97,63.03 L331.46,63.68 L330.86,64.24 L330.23,64.74 L329.60,65.20 L329.00,65.67 L328.39,66.16 L327.75,66.65 L327.06,67.08 L326.31,67.39 L325.51,67.55 L324.70,67.52 L323.91,67.34 L323.16,67.05 L322.44,66.72 L321.75,66.40 L321.04,66.10 L320.33,65.79 L319.60,65.44 L318.91,65.00 L318.31,64.44 L317.83,63.76 L317.49,63.00 L317.29,62.18 L317.18,61.37 L317.10,60.57 L317.02,59.79 L316.91,59.00 L316.81,58.19 L316.77,57.36 L316.83,56.52 L317.05,55.71 L317.43,54.97 L317.94,54.32 L318.54,53.76 L319.17,53.26 L319.80,52.80 L320.40,52.33 L321.01,51.84 L321.65,51.35 L322.34,50.92 L323.09,50.61 L323.89,50.45 L324.70,50.48 L325.49,50.66 L326.24,50.95 L326.96,51.28 L327.65,51.60 L328.36,51.90 L329.07,52.21 L329.80,52.56 L330.49,53.00 L331.09,53.56 L331.57,54.24 L331.91,55.00 L332.11,55.82 L332.22,56.63 L332.30,57.43 L332.38,58.21 Z" fill="#4c45a0" filter="url(#bc)"/>
<path d="M330.94,57.95 L330.88,58.56 L330.68,59.15 L330.38,59.68 L330.03,60.16 L329.71,60.63 L329.42,61.10 L329.17,61.61 L328.92,62.14 L328.61,62.67 L328.22,63.14 L327.74,63.50 L327.18,63.70 L326.58,63.77 L325.99,63.73 L325.42,63.66 L324.88,63.61 L324.34,63.61 L323.78,63.65 L323.20,63.68 L322.61,63.64 L322.03,63.48 L321.52,63.17 L321.10,62.73 L320.77,62.21 L320.53,61.65 L320.30,61.12 L320.06,60.62 L319.78,60.14 L319.46,59.65 L319.16,59.13 L318.92,58.56 L318.82,57.95 L318.87,57.33 L319.08,56.75 L319.38,56.22 L319.72,55.73 L320.05,55.27 L320.33,54.80 L320.58,54.29 L320.84,53.76 L321.14,53.23 L321.53,52.76 L322.02,52.40 L322.58,52.19 L323.18,52.13 L323.77,52.16 L324.34,52.23 L324.88,52.28 L325.42,52.28 L325.97,52.25 L326.55,52.21 L327.15,52.25 L327.73,52.42 L328.24,52.73 L328.66,53.17 L328.98,53.69 L329.23,54.24 L329.45,54.78 L329.69,55.28 L329.98,55.76 L330.29,56.24 L330.60,56.77 L330.83,57.34 Z" fill="#5d55ae" filter="url(#b1)" opacity="0.85"/>
<ellipse cx="326.56" cy="56.24" rx="1.91" ry="2.12" fill="#393478" opacity="0.3" filter="url(#b1)"/>
<ellipse cx="324.49" cy="60.70" rx="1.70" ry="1.90" fill="#393478" opacity="0.3" filter="url(#b1)"/>
<ellipse cx="326.73" cy="62.89" rx="1.47" ry="2.02" fill="#393478" opacity="0.3" filter="url(#b1)"/>
</g>
<rect x="273.30" y="23.80" width="70.40" height="57.30" fill="none" stroke="#b8b8bc" stroke-width="0.8"/>
<rect x="320.7" y="75.9" width="13.8" height="1.5" fill="#111"/>
<clipPath id="fclip230"><rect x="199.30" y="85.00" width="62.30" height="63.30"/></clipPath>
<rect x="199.30" y="85.00" width="62.30" height="63.30" fill="#fff"/>
<g clip-path="url(#fclip230)">
<path d="M201,110.5 C205,116.5 210,117.5 214,117.5 C219,117.5 222,112.5 226,111.5 C230,110.5 234,116.5 239,116.5 C245,116.5 252,112.5 259,110.5" fill="none" stroke="#777" stroke-width="0.5"/>
<path d="M201,113 C205,119 210,120 214,120 C219,120 222,115 226,114 C230,113 234,119 239,119 C245,119 252,115 259,113" fill="none" stroke="#888" stroke-width="0.5"/>
<path d="M201,115.5 C205,121.5 210,122.5 214,122.5 C219,122.5 222,117.5 226,116.5 C230,115.5 234,121.5 239,121.5 C245,121.5 252,117.5 259,115.5" fill="none" stroke="#999" stroke-width="0.5"/>
<path d="M201,118 C205,124 210,125 214,125 C219,125 222,120 226,119 C230,118 234,124 239,124 C245,124 252,120 259,118" fill="none" stroke="#aaa" stroke-width="0.5"/>
<path d="M224.26,103.50 L223.73,107.03 L223.42,108.68 L223.09,109.96 L222.74,111.02 L222.34,111.92 L221.91,112.68 L221.44,113.33 L220.94,113.88 L220.40,114.35 L219.83,114.73 L219.21,115.06 L218.55,115.33 L217.81,115.55 L216.95,115.72 L215.85,115.85 L213.50,115.93 L211.13,115.96 L210.00,115.93 L209.09,115.83 L208.31,115.66 L207.61,115.41 L206.98,115.07 L206.42,114.63 L205.91,114.10 L205.45,113.47 L205.04,112.73 L204.68,111.89 L204.37,110.94 L204.09,109.84 L203.82,108.56 L203.56,106.93 L203.06,103.50 L203.12,100.10 L203.22,98.52 L203.36,97.29 L203.54,96.24 L203.76,95.32 L204.03,94.50 L204.36,93.76 L204.75,93.09 L205.21,92.50 L205.76,91.99 L206.41,91.56 L207.17,91.21 L208.06,90.96 L209.14,90.79 L210.53,90.72 L213.50,90.73 L216.44,90.83 L217.79,91.00 L218.82,91.24 L219.66,91.55 L220.39,91.91 L221.02,92.32 L221.57,92.79 L222.07,93.31 L222.51,93.90 L222.91,94.56 L223.27,95.30 L223.58,96.16 L223.84,97.17 L224.04,98.39 L224.18,100.00 Z" fill="#a6a6a6" stroke="#888" stroke-width="0.45"/>
<path d="M222.35,103.18 L221.94,106.09 L221.72,107.48 L221.49,108.56 L221.24,109.48 L220.96,110.28 L220.63,110.97 L220.27,111.56 L219.86,112.06 L219.42,112.48 L218.93,112.82 L218.40,113.09 L217.81,113.29 L217.16,113.43 L216.41,113.52 L215.48,113.56 L213.50,113.56 L211.53,113.52 L210.60,113.45 L209.87,113.34 L209.23,113.18 L208.66,112.98 L208.13,112.72 L207.64,112.39 L207.19,111.99 L206.77,111.52 L206.38,110.95 L206.04,110.29 L205.73,109.51 L205.45,108.60 L205.21,107.51 L204.97,106.12 L204.55,103.18 L204.62,100.27 L204.75,98.94 L204.91,97.92 L205.11,97.07 L205.35,96.34 L205.62,95.70 L205.93,95.12 L206.28,94.60 L206.68,94.13 L207.14,93.71 L207.66,93.35 L208.27,93.03 L208.99,92.77 L209.86,92.57 L211.01,92.45 L213.50,92.39 L216.00,92.41 L217.16,92.51 L218.05,92.68 L218.79,92.93 L219.41,93.24 L219.93,93.61 L220.39,94.05 L220.77,94.53 L221.11,95.08 L221.39,95.68 L221.64,96.35 L221.85,97.10 L222.03,97.95 L222.17,98.98 L222.28,100.30 Z" fill="#b0b0b0" stroke="#8e8e8e" stroke-width="0.45"/>
<path d="M220.85,102.86 L220.46,105.26 L220.21,106.37 L219.95,107.21 L219.68,107.89 L219.39,108.47 L219.09,108.96 L218.78,109.40 L218.46,109.79 L218.13,110.14 L217.79,110.48 L217.41,110.78 L216.99,111.05 L216.51,111.27 L215.92,111.45 L215.16,111.56 L213.50,111.60 L211.84,111.57 L211.07,111.46 L210.48,111.30 L210.00,111.07 L209.57,110.80 L209.20,110.49 L208.86,110.15 L208.54,109.79 L208.23,109.39 L207.93,108.95 L207.63,108.45 L207.34,107.88 L207.06,107.20 L206.80,106.36 L206.55,105.26 L206.15,102.86 L206.17,100.46 L206.26,99.35 L206.40,98.51 L206.59,97.83 L206.82,97.25 L207.08,96.76 L207.36,96.32 L207.67,95.93 L208.01,95.58 L208.38,95.24 L208.80,94.94 L209.28,94.67 L209.85,94.45 L210.55,94.27 L211.48,94.16 L213.50,94.12 L215.52,94.15 L216.45,94.26 L217.16,94.42 L217.73,94.65 L218.22,94.92 L218.63,95.23 L219.00,95.57 L219.33,95.93 L219.63,96.33 L219.91,96.77 L220.16,97.27 L220.39,97.84 L220.58,98.52 L220.72,99.36 L220.82,100.46 Z" fill="#bababa" stroke="#999" stroke-width="0.45"/>
<path d="M219.12,102.54 L218.83,104.38 L218.65,105.23 L218.46,105.88 L218.26,106.42 L218.05,106.87 L217.82,107.26 L217.58,107.59 L217.32,107.88 L217.05,108.12 L216.77,108.34 L216.46,108.53 L216.12,108.69 L215.75,108.83 L215.30,108.94 L214.74,109.03 L213.50,109.08 L212.25,109.10 L211.66,109.08 L211.18,109.03 L210.78,108.92 L210.42,108.77 L210.10,108.57 L209.82,108.32 L209.57,108.03 L209.35,107.68 L209.15,107.29 L208.97,106.85 L208.81,106.36 L208.66,105.80 L208.52,105.14 L208.37,104.31 L208.10,102.54 L208.11,100.77 L208.14,99.94 L208.20,99.29 L208.27,98.73 L208.38,98.24 L208.51,97.80 L208.69,97.41 L208.89,97.07 L209.15,96.77 L209.45,96.51 L209.80,96.31 L210.21,96.15 L210.68,96.04 L211.25,95.98 L211.97,95.96 L213.50,95.98 L215.01,96.03 L215.70,96.12 L216.23,96.24 L216.68,96.38 L217.06,96.55 L217.40,96.74 L217.70,96.97 L217.98,97.22 L218.23,97.51 L218.45,97.84 L218.64,98.22 L218.81,98.67 L218.94,99.21 L219.04,99.86 L219.10,100.70 Z" fill="#c6c6c6" stroke="#a4a4a4" stroke-width="0.45"/>
<path d="M217.26,102.22 L217.05,103.44 L216.93,104.01 L216.83,104.47 L216.74,104.86 L216.64,105.21 L216.53,105.53 L216.39,105.80 L216.23,106.04 L216.05,106.22 L215.83,106.36 L215.60,106.46 L215.34,106.53 L215.06,106.58 L214.74,106.62 L214.35,106.66 L213.50,106.69 L212.64,106.72 L212.23,106.72 L211.90,106.70 L211.61,106.64 L211.37,106.53 L211.16,106.38 L210.97,106.19 L210.82,105.96 L210.68,105.71 L210.55,105.44 L210.43,105.15 L210.29,104.83 L210.16,104.47 L210.01,104.04 L209.86,103.48 L209.63,102.22 L209.62,100.95 L209.65,100.35 L209.72,99.90 L209.82,99.54 L209.95,99.24 L210.09,98.98 L210.25,98.76 L210.42,98.55 L210.59,98.36 L210.78,98.17 L210.99,98.00 L211.25,97.85 L211.55,97.73 L211.93,97.64 L212.43,97.61 L213.50,97.62 L214.56,97.67 L215.03,97.75 L215.40,97.85 L215.70,97.96 L215.96,98.07 L216.21,98.19 L216.43,98.33 L216.65,98.48 L216.84,98.67 L217.00,98.89 L217.13,99.17 L217.22,99.51 L217.27,99.91 L217.29,100.38 L217.28,100.98 Z" fill="#d6d6d6" stroke="#b4b4b4" stroke-width="0.45"/>
<path d="M215.58,101.90 L215.48,102.58 L215.42,102.90 L215.37,103.16 L215.31,103.37 L215.25,103.57 L215.18,103.73 L215.10,103.88 L215.01,104.01 L214.92,104.13 L214.81,104.22 L214.68,104.29 L214.55,104.35 L214.39,104.39 L214.21,104.41 L213.98,104.41 L213.50,104.41 L213.03,104.39 L212.81,104.36 L212.64,104.31 L212.49,104.26 L212.36,104.20 L212.24,104.13 L212.13,104.05 L212.03,103.96 L211.93,103.85 L211.83,103.72 L211.74,103.57 L211.66,103.40 L211.59,103.19 L211.52,102.94 L211.45,102.61 L211.34,101.90 L211.35,101.19 L211.38,100.87 L211.41,100.62 L211.47,100.42 L211.53,100.25 L211.60,100.10 L211.69,99.97 L211.78,99.86 L211.89,99.76 L212.00,99.67 L212.13,99.59 L212.28,99.53 L212.45,99.47 L212.65,99.42 L212.92,99.39 L213.50,99.37 L214.09,99.36 L214.37,99.37 L214.59,99.40 L214.77,99.44 L214.92,99.50 L215.06,99.58 L215.17,99.68 L215.27,99.80 L215.35,99.93 L215.41,100.08 L215.46,100.25 L215.50,100.44 L215.53,100.65 L215.56,100.90 L215.57,101.22 Z" fill="#f0f0f0"/>
<path d="M248.28,103.50 L247.71,106.90 L247.35,108.45 L246.99,109.63 L246.61,110.59 L246.23,111.41 L245.85,112.13 L245.46,112.79 L245.06,113.38 L244.64,113.94 L244.18,114.44 L243.68,114.89 L243.10,115.28 L242.42,115.59 L241.61,115.80 L240.56,115.91 L238.30,115.92 L236.06,115.83 L235.03,115.65 L234.24,115.39 L233.59,115.07 L233.01,114.71 L232.49,114.30 L232.00,113.86 L231.54,113.38 L231.09,112.85 L230.65,112.25 L230.23,111.54 L229.84,110.72 L229.47,109.73 L229.14,108.51 L228.83,106.92 L228.32,103.50 L228.40,100.10 L228.54,98.55 L228.75,97.37 L229.01,96.41 L229.30,95.59 L229.62,94.87 L229.98,94.21 L230.36,93.62 L230.79,93.06 L231.27,92.56 L231.84,92.11 L232.50,91.72 L233.30,91.41 L234.27,91.20 L235.55,91.09 L238.30,91.08 L241.03,91.17 L242.28,91.35 L243.22,91.61 L244.00,91.93 L244.66,92.29 L245.24,92.70 L245.76,93.14 L246.24,93.62 L246.68,94.15 L247.09,94.75 L247.45,95.46 L247.76,96.28 L248.01,97.27 L248.18,98.49 L248.27,100.08 Z" fill="#acacac" stroke="#888" stroke-width="0.45"/>
<path d="M246.69,103.18 L246.24,106.05 L245.93,107.36 L245.60,108.33 L245.26,109.12 L244.94,109.80 L244.64,110.43 L244.36,111.03 L244.07,111.61 L243.74,112.14 L243.36,112.59 L242.90,112.93 L242.36,113.14 L241.74,113.25 L241.02,113.27 L240.13,113.25 L238.30,113.23 L236.47,113.22 L235.60,113.21 L234.88,113.19 L234.26,113.10 L233.70,112.92 L233.23,112.61 L232.83,112.18 L232.50,111.66 L232.22,111.07 L231.95,110.45 L231.67,109.79 L231.37,109.09 L231.04,108.30 L230.71,107.33 L230.38,106.04 L229.91,103.18 L229.94,100.31 L230.07,99.00 L230.27,98.03 L230.52,97.24 L230.77,96.56 L231.01,95.93 L231.26,95.33 L231.53,94.75 L231.85,94.22 L232.26,93.77 L232.77,93.43 L233.39,93.22 L234.13,93.11 L235.00,93.09 L236.07,93.11 L238.30,93.13 L240.52,93.14 L241.59,93.15 L242.44,93.17 L243.19,93.26 L243.82,93.44 L244.35,93.75 L244.78,94.18 L245.11,94.70 L245.37,95.29 L245.60,95.91 L245.82,96.57 L246.05,97.27 L246.28,98.06 L246.48,99.03 L246.63,100.32 Z" fill="#b6b6b6" stroke="#8e8e8e" stroke-width="0.45"/>
<path d="M244.99,102.86 L244.58,105.13 L244.33,106.16 L244.10,106.95 L243.89,107.63 L243.69,108.24 L243.49,108.79 L243.27,109.31 L243.03,109.77 L242.74,110.17 L242.41,110.50 L242.02,110.74 L241.57,110.89 L241.07,110.98 L240.49,111.01 L239.78,111.01 L238.30,110.99 L236.82,110.97 L236.12,110.95 L235.55,110.90 L235.05,110.82 L234.60,110.69 L234.20,110.48 L233.84,110.19 L233.54,109.82 L233.28,109.37 L233.06,108.85 L232.87,108.27 L232.69,107.65 L232.50,106.95 L232.30,106.14 L232.07,105.11 L231.67,102.86 L231.62,100.57 L231.62,99.47 L231.67,98.61 L231.80,97.90 L231.99,97.31 L232.24,96.83 L232.53,96.43 L232.86,96.09 L233.21,95.79 L233.59,95.52 L233.99,95.26 L234.44,95.01 L234.96,94.79 L235.59,94.60 L236.44,94.46 L238.30,94.40 L240.17,94.43 L241.03,94.53 L241.67,94.71 L242.20,94.95 L242.64,95.22 L243.02,95.51 L243.37,95.81 L243.70,96.13 L244.02,96.48 L244.31,96.88 L244.57,97.35 L244.78,97.92 L244.93,98.60 L245.02,99.45 L245.03,100.55 Z" fill="#c0c0c0" stroke="#999" stroke-width="0.45"/>
<path d="M243.35,102.54 L243.05,104.26 L242.88,105.05 L242.75,105.68 L242.63,106.24 L242.51,106.74 L242.36,107.18 L242.17,107.56 L241.94,107.87 L241.67,108.09 L241.38,108.26 L241.06,108.39 L240.73,108.50 L240.37,108.61 L239.97,108.73 L239.45,108.85 L238.30,108.94 L237.13,108.98 L236.58,108.94 L236.15,108.83 L235.81,108.65 L235.52,108.43 L235.27,108.18 L235.03,107.93 L234.79,107.68 L234.54,107.42 L234.29,107.12 L234.06,106.77 L233.86,106.33 L233.69,105.79 L233.56,105.13 L233.46,104.29 L233.25,102.54 L233.31,100.82 L233.36,100.03 L233.41,99.40 L233.46,98.84 L233.52,98.34 L233.63,97.90 L233.80,97.52 L234.02,97.21 L234.30,96.99 L234.63,96.82 L234.98,96.69 L235.37,96.58 L235.79,96.47 L236.27,96.35 L236.90,96.23 L238.30,96.14 L239.73,96.10 L240.40,96.14 L240.90,96.25 L241.31,96.43 L241.64,96.65 L241.92,96.90 L242.18,97.15 L242.43,97.40 L242.67,97.66 L242.90,97.96 L243.11,98.31 L243.27,98.75 L243.37,99.29 L243.41,99.95 L243.40,100.79 Z" fill="#cacaca" stroke="#a4a4a4" stroke-width="0.45"/>
<path d="M241.85,102.22 L241.63,103.42 L241.49,103.96 L241.37,104.39 L241.27,104.75 L241.17,105.08 L241.08,105.39 L240.96,105.67 L240.83,105.91 L240.66,106.10 L240.46,106.23 L240.24,106.32 L240.00,106.38 L239.74,106.43 L239.45,106.48 L239.08,106.53 L238.30,106.59 L237.50,106.63 L237.11,106.63 L236.81,106.59 L236.56,106.50 L236.35,106.35 L236.17,106.18 L236.02,105.98 L235.87,105.77 L235.72,105.57 L235.56,105.35 L235.41,105.11 L235.25,104.82 L235.11,104.47 L235.00,104.03 L234.90,103.45 L234.75,102.22 L234.80,101.02 L234.86,100.48 L234.93,100.05 L234.98,99.69 L235.04,99.36 L235.11,99.05 L235.20,98.77 L235.33,98.53 L235.51,98.34 L235.72,98.21 L235.97,98.12 L236.25,98.06 L236.56,98.01 L236.91,97.96 L237.34,97.91 L238.30,97.85 L239.28,97.81 L239.74,97.81 L240.11,97.85 L240.41,97.94 L240.65,98.09 L240.84,98.26 L241.01,98.46 L241.15,98.67 L241.30,98.87 L241.44,99.09 L241.58,99.33 L241.71,99.62 L241.80,99.97 L241.86,100.41 L241.87,100.99 Z" fill="#d8d8d8" stroke="#b4b4b4" stroke-width="0.45"/>
<path d="M240.27,101.90 L240.15,102.57 L240.07,102.87 L240.01,103.10 L239.94,103.30 L239.89,103.48 L239.83,103.65 L239.77,103.80 L239.69,103.94 L239.61,104.05 L239.51,104.15 L239.39,104.21 L239.26,104.26 L239.11,104.28 L238.94,104.29 L238.74,104.29 L238.30,104.29 L237.87,104.29 L237.66,104.28 L237.49,104.27 L237.34,104.25 L237.21,104.21 L237.09,104.14 L236.99,104.06 L236.90,103.95 L236.83,103.81 L236.76,103.66 L236.70,103.49 L236.65,103.31 L236.60,103.10 L236.53,102.87 L236.46,102.56 L236.35,101.90 L236.33,101.22 L236.33,100.90 L236.35,100.65 L236.39,100.44 L236.44,100.27 L236.52,100.13 L236.61,100.01 L236.70,99.91 L236.81,99.82 L236.91,99.74 L237.03,99.66 L237.16,99.59 L237.32,99.52 L237.50,99.47 L237.75,99.43 L238.30,99.41 L238.85,99.42 L239.10,99.45 L239.29,99.51 L239.44,99.58 L239.57,99.65 L239.69,99.74 L239.79,99.83 L239.89,99.92 L239.98,100.02 L240.07,100.14 L240.15,100.28 L240.21,100.44 L240.25,100.65 L240.27,100.90 L240.28,101.22 Z" fill="#f0f0f0"/>
<path d="M214.6,124.1h0.6 M222.1,124.9h0.6 M236.7,117.9h0.6 M201.8,127.9h0.6 M215.8,120.0h0.6 M257.8,123.1h0.6 M248.7,123.2h0.6 M237.4,119.0h0.6 M237.2,128.3h0.6 M230.8,126.6h0.6 M239.3,117.8h0.6 M244.2,124.7h0.6 M218.2,117.4h0.6 M250.3,123.1h0.6 M242.0,128.4h0.6 M241.7,129.0h0.6 M223.5,127.4h0.6 M226.3,129.2h0.6 M251.1,118.3h0.6 M208.8,119.8h0.6 M256.0,122.7h0.6 M236.7,120.9h0.6 M229.9,122.0h0.6 M221.0,124.6h0.6 M234.3,128.8h0.6 M239.9,129.1h0.6 M249.8,129.9h0.6 M239.3,119.1h0.6 M250.1,129.5h0.6 M252.6,124.4h0.6 M241.7,119.7h0.6 M248.4,124.5h0.6 M217.2,117.8h0.6 M249.7,129.9h0.6 M206.0,127.4h0.6 M224.4,119.0h0.6 M217.8,127.0h0.6 M250.7,117.6h0.6 M236.0,117.6h0.6 M242.0,121.3h0.6 M251.2,129.7h0.6 M229.8,130.0h0.6 M218.7,118.0h0.6 M235.2,117.4h0.6 M212.3,122.3h0.6 M235.8,119.0h0.6 M203.4,128.3h0.6 M218.9,129.5h0.6 M252.1,121.9h0.6 M227.2,123.8h0.6 M237.7,124.7h0.6 M232.9,125.1h0.6 M254.6,123.6h0.6 M225.6,126.4h0.6 M214.5,120.9h0.6 M256.7,123.8h0.6 M232.3,117.1h0.6 M224.7,124.5h0.6 M202.1,125.0h0.6 M237.0,117.8h0.6 M236.8,123.1h0.6 M239.7,121.6h0.6 M241.3,126.6h0.6 M202.3,117.8h0.6 M239.5,129.5h0.6 M215.3,122.9h0.6 M234.8,121.2h0.6 M221.7,121.1h0.6 M222.0,124.7h0.6 M218.1,121.9h0.6 M245.0,117.3h0.6 M233.4,126.6h0.6 M218.7,119.9h0.6 M246.8,120.1h0.6 M211.7,122.7h0.6 M240.8,118.3h0.6 M219.4,121.3h0.6 M248.5,122.7h0.6 M249.8,119.2h0.6 M220.2,125.5h0.6 M251.4,122.9h0.6 M213.8,118.6h0.6 M231.2,119.5h0.6 M247.0,127.9h0.6 M211.5,120.6h0.6 M247.0,125.3h0.6 M247.0,121.5h0.6 M208.4,120.8h0.6 M246.3,120.5h0.6 M220.7,122.4h0.6" stroke="#777" stroke-width="0.60" stroke-opacity="0.7" fill="none"/>
<path d="M208.0,133.4h0.6 M211.3,134.2h0.6 M204.4,137.6h0.6 M222.3,143.2h0.6 M219.1,135.1h0.6 M214.3,135.9h0.6 M206.6,133.5h0.6 M207.5,145.0h0.6 M220.4,143.3h0.6 M219.8,134.7h0.6 M209.5,140.8h0.6 M218.4,144.0h0.6 M221.5,133.2h0.6 M215.7,141.4h0.6" stroke="#999" stroke-width="0.60" stroke-opacity="0.6" fill="none"/>
<ellipse cx="214.00" cy="137.00" rx="5.00" ry="2.50" fill="none" stroke="#bbb" stroke-width="0.4" stroke-opacity="1"/>
</g>
<rect x="199.30" y="85.00" width="62.30" height="63.30" fill="none" stroke="#b0b0b0" stroke-width="0.7"/>
<line x1="226.60" y1="85.00" x2="226.60" y2="148.30" stroke="#555" stroke-width="0.8" />
<line x1="199.30" y1="130.80" x2="261.60" y2="130.80" stroke="#555" stroke-width="0.8" />
<text x="201.70" y="90.00" font-size="4.6" text-anchor="start" fill="#222" >Q5</text>
<text x="201.70" y="95.50" font-size="4.6" text-anchor="start" fill="#222" >64.3</text>
<text x="259.20" y="90.00" font-size="4.6" text-anchor="end" fill="#222" >Q6</text>
<text x="259.20" y="95.50" font-size="4.6" text-anchor="end" fill="#222" >34.6</text>
<text x="201.50" y="140.60" font-size="4.6" text-anchor="start" fill="#333" >Q8</text>
<text x="201.50" y="146.10" font-size="4.6" text-anchor="start" fill="#333" >1.20</text>
<text x="259.40" y="140.60" font-size="4.6" text-anchor="end" fill="#333" >Q7</text>
<text x="259.40" y="146.10" font-size="4.6" text-anchor="end" fill="#333" >0.073</text>
<line x1="199.30" y1="92.03" x2="200.30" y2="92.03" stroke="#777" stroke-width="0.4" />
<line x1="199.30" y1="99.07" x2="200.30" y2="99.07" stroke="#777" stroke-width="0.4" />
<line x1="199.30" y1="106.10" x2="200.30" y2="106.10" stroke="#777" stroke-width="0.4" />
<line x1="199.30" y1="113.13" x2="200.30" y2="113.13" stroke="#777" stroke-width="0.4" />
<line x1="199.30" y1="120.17" x2="200.30" y2="120.17" stroke="#777" stroke-width="0.4" />
<line x1="199.30" y1="127.20" x2="200.30" y2="127.20" stroke="#777" stroke-width="0.4" />
<line x1="199.30" y1="134.23" x2="200.30" y2="134.23" stroke="#777" stroke-width="0.4" />
<line x1="199.30" y1="141.27" x2="200.30" y2="141.27" stroke="#777" stroke-width="0.4" />
<ellipse cx="199.60" cy="134.00" rx="0.8" ry="1.3" fill="#111"/>
<rect x="208.30" y="147.10" width="4" height="1.1" fill="#222"/>
<clipPath id="fclip274"><rect x="284.20" y="85.00" width="62.70" height="63.10"/></clipPath>
<rect x="284.20" y="85.00" width="62.70" height="63.10" fill="#fff"/>
<g clip-path="url(#fclip274)">
<path d="M304.1,99.2h0.6 M318.4,93.2h0.6 M313.0,92.7h0.6 M324.7,112.2h0.6 M326.1,104.9h0.6 M318.4,106.5h0.6 M306.2,111.7h0.6 M302.3,106.3h0.6 M321.4,110.7h0.6 M311.2,126.9h0.6 M314.6,102.8h0.6 M315.7,103.6h0.6 M309.8,105.7h0.6 M328.9,110.2h0.6 M315.9,118.1h0.6 M328.9,108.1h0.6 M310.2,127.1h0.6 M301.2,106.4h0.6 M318.4,126.8h0.6 M308.3,93.5h0.6 M320.9,103.9h0.6 M309.8,115.6h0.6 M316.5,113.6h0.6 M310.1,123.3h0.6 M327.2,110.3h0.6 M309.3,118.5h0.6 M318.6,98.7h0.6 M309.5,121.4h0.6 M312.9,105.9h0.6 M316.4,109.6h0.6 M314.0,93.5h0.6 M328.1,111.8h0.6 M305.9,120.2h0.6 M317.5,110.2h0.6 M320.6,126.0h0.6 M318.6,124.8h0.6 M328.0,102.5h0.6 M308.7,118.9h0.6 M300.1,107.5h0.6 M324.8,119.8h0.6 M318.3,94.0h0.6 M329.2,114.0h0.6 M321.8,115.7h0.6 M302.2,98.9h0.6 M305.8,124.6h0.6 M305.4,107.2h0.6 M311.3,116.9h0.6 M319.4,113.3h0.6 M308.0,93.3h0.6 M315.9,113.4h0.6 M325.6,108.9h0.6 M307.5,114.9h0.6 M301.9,100.9h0.6 M304.0,113.2h0.6 M328.4,115.9h0.6 M325.0,112.6h0.6 M317.0,104.5h0.6 M312.2,92.6h0.6 M304.3,98.3h0.6 M322.3,117.4h0.6 M322.7,123.3h0.6 M311.0,121.6h0.6 M328.8,109.9h0.6 M324.7,108.2h0.6 M300.4,111.1h0.6 M305.4,111.3h0.6 M309.0,113.9h0.6 M302.6,122.5h0.6 M326.3,106.4h0.6 M304.7,110.0h0.6 M321.1,115.0h0.6 M317.0,93.6h0.6 M304.9,122.2h0.6 M316.1,95.2h0.6 M306.8,96.5h0.6 M305.2,121.4h0.6 M311.9,122.3h0.6 M315.6,95.2h0.6 M309.8,126.8h0.6 M306.8,98.9h0.6 M325.8,111.0h0.6 M313.9,124.8h0.6 M299.9,113.8h0.6 M305.4,97.1h0.6 M306.6,121.8h0.6 M312.9,93.7h0.6 M305.4,123.4h0.6 M323.1,99.1h0.6 M329.5,107.4h0.6 M302.4,108.5h0.6 M321.4,124.2h0.6 M324.2,105.2h0.6 M309.1,95.8h0.6 M313.2,102.6h0.6 M316.3,96.5h0.6 M308.7,99.9h0.6 M304.0,98.9h0.6 M305.1,98.4h0.6 M320.3,111.2h0.6 M302.0,115.3h0.6 M316.6,124.6h0.6 M311.8,107.3h0.6 M306.5,111.5h0.6 M319.5,112.2h0.6 M311.2,117.0h0.6 M315.1,113.2h0.6 M304.4,112.4h0.6 M304.6,101.1h0.6 M315.2,127.1h0.6 M324.2,110.0h0.6 M312.2,121.3h0.6 M324.9,120.9h0.6 M311.9,112.4h0.6 M310.3,106.4h0.6 M305.1,107.1h0.6 M300.3,101.4h0.6 M318.3,99.4h0.6 M318.9,96.7h0.6 M309.9,115.0h0.6 M304.1,102.3h0.6 M329.2,105.3h0.6 M306.6,103.3h0.6 M314.4,109.7h0.6 M323.4,118.5h0.6 M309.5,105.5h0.6 M303.6,97.7h0.6 M306.5,118.3h0.6 M315.3,119.6h0.6 M323.7,108.1h0.6 M328.8,105.8h0.6 M307.3,104.8h0.6 M325.2,108.5h0.6 M306.2,115.1h0.6 M325.2,108.8h0.6 M311.5,122.1h0.6 M323.1,119.8h0.6 M305.9,113.4h0.6 M316.9,94.0h0.6 M325.6,111.1h0.6 M311.7,127.2h0.6 M315.6,101.3h0.6 M313.3,117.0h0.6 M322.6,109.3h0.6 M305.4,102.2h0.6 M306.4,99.0h0.6 M313.8,103.8h0.6 M314.6,100.2h0.6 M304.9,107.8h0.6 M310.6,122.5h0.6 M304.6,112.4h0.6 M313.6,96.2h0.6 M321.8,112.1h0.6 M299.3,114.7h0.6 M323.0,101.4h0.6 M328.1,111.5h0.6 M303.1,116.0h0.6 M310.7,96.2h0.6 M298.8,112.0h0.6 M306.5,117.4h0.6 M318.2,103.6h0.6 M309.8,125.7h0.6 M327.4,116.6h0.6 M310.4,98.9h0.6 M310.8,125.5h0.6 M319.1,106.4h0.6 M302.3,111.8h0.6 M304.8,110.2h0.6 M321.0,121.3h0.6 M315.6,105.6h0.6 M315.8,126.2h0.6 M317.4,95.8h0.6 M327.4,112.4h0.6 M329.8,107.6h0.6 M312.9,106.2h0.6 M318.1,102.9h0.6 M304.5,96.1h0.6 M312.6,103.6h0.6 M310.0,126.6h0.6 M321.4,121.4h0.6 M308.5,113.7h0.6 M311.6,107.4h0.6 M321.7,117.0h0.6 M317.5,111.9h0.6 M301.7,102.9h0.6 M318.2,105.4h0.6 M305.8,114.2h0.6 M305.0,102.6h0.6 M323.1,105.9h0.6 M326.5,115.2h0.6 M321.4,121.6h0.6" stroke="#999" stroke-width="0.60" stroke-opacity="0.7" fill="none"/>
<path d="M310.44,120.00 L310.46,123.39 L310.39,126.06 L310.22,128.48 L309.94,130.72 L309.57,132.79 L309.08,134.69 L308.50,136.40 L307.81,137.91 L307.04,139.23 L306.19,140.33 L305.26,141.24 L304.26,141.95 L303.20,142.47 L302.06,142.82 L300.80,143.01 L299.20,143.05 L297.60,142.94 L296.36,142.68 L295.24,142.28 L294.19,141.73 L293.21,141.01 L292.29,140.12 L291.43,139.04 L290.65,137.78 L289.95,136.31 L289.34,134.66 L288.82,132.80 L288.41,130.76 L288.11,128.54 L287.91,126.11 L287.82,123.43 L287.84,120.00 L287.95,116.61 L288.15,114.02 L288.43,111.71 L288.79,109.61 L289.21,107.68 L289.70,105.89 L290.26,104.23 L290.88,102.70 L291.57,101.30 L292.34,100.03 L293.18,98.91 L294.11,97.95 L295.14,97.17 L296.27,96.58 L297.54,96.20 L299.20,96.05 L300.86,96.13 L302.15,96.44 L303.30,96.97 L304.34,97.73 L305.28,98.68 L306.14,99.82 L306.90,101.12 L307.58,102.57 L308.19,104.15 L308.72,105.86 L309.18,107.69 L309.57,109.66 L309.89,111.77 L310.15,114.07 L310.33,116.64 Z" fill="#cacaca" stroke="#888" stroke-width="0.45"/>
<path d="M308.88,119.52 L308.83,122.42 L308.68,124.65 L308.43,126.63 L308.10,128.40 L307.70,130.00 L307.23,131.46 L306.72,132.79 L306.17,134.01 L305.57,135.15 L304.93,136.19 L304.23,137.14 L303.46,137.97 L302.61,138.67 L301.66,139.20 L300.59,139.53 L299.20,139.65 L297.80,139.55 L296.73,139.24 L295.78,138.72 L294.93,138.03 L294.16,137.19 L293.46,136.23 L292.82,135.16 L292.23,134.01 L291.69,132.77 L291.18,131.43 L290.73,129.97 L290.33,128.37 L289.99,126.61 L289.74,124.64 L289.58,122.42 L289.52,119.52 L289.57,116.62 L289.72,114.39 L289.97,112.41 L290.30,110.64 L290.70,109.04 L291.17,107.58 L291.68,106.25 L292.23,105.03 L292.83,103.89 L293.47,102.85 L294.17,101.90 L294.94,101.07 L295.79,100.37 L296.74,99.84 L297.81,99.51 L299.20,99.39 L300.60,99.49 L301.67,99.80 L302.62,100.32 L303.47,101.01 L304.24,101.85 L304.94,102.81 L305.58,103.88 L306.17,105.03 L306.71,106.27 L307.22,107.61 L307.67,109.07 L308.07,110.67 L308.41,112.43 L308.66,114.40 L308.82,116.62 Z" fill="#c0c0c0" stroke="#909090" stroke-width="0.45"/>
<path d="M307.04,119.04 L307.00,121.39 L306.89,123.21 L306.71,124.82 L306.46,126.28 L306.15,127.61 L305.77,128.81 L305.35,129.89 L304.88,130.86 L304.37,131.72 L303.82,132.48 L303.22,133.14 L302.59,133.71 L301.90,134.19 L301.14,134.57 L300.30,134.84 L299.20,134.99 L298.09,135.02 L297.21,134.91 L296.42,134.66 L295.69,134.26 L295.01,133.71 L294.40,133.01 L293.84,132.17 L293.36,131.20 L292.93,130.10 L292.57,128.89 L292.28,127.58 L292.05,126.17 L291.88,124.68 L291.76,123.07 L291.69,121.30 L291.67,119.04 L291.70,116.78 L291.77,115.02 L291.90,113.42 L292.07,111.93 L292.31,110.53 L292.60,109.23 L292.95,108.02 L293.37,106.91 L293.85,105.93 L294.40,105.08 L295.01,104.36 L295.68,103.79 L296.41,103.38 L297.21,103.12 L298.08,103.01 L299.20,103.03 L300.30,103.19 L301.15,103.47 L301.90,103.86 L302.59,104.35 L303.23,104.93 L303.81,105.61 L304.36,106.38 L304.87,107.25 L305.33,108.22 L305.75,109.30 L306.12,110.50 L306.44,111.82 L306.69,113.28 L306.88,114.88 L307.00,116.69 Z" fill="#bcbcbc" stroke="#999" stroke-width="0.45"/>
<path d="M304.99,118.56 L304.94,120.29 L304.87,121.63 L304.78,122.85 L304.66,124.00 L304.50,125.10 L304.29,126.13 L304.02,127.07 L303.69,127.90 L303.29,128.60 L302.84,129.16 L302.35,129.59 L301.82,129.92 L301.26,130.16 L300.68,130.35 L300.03,130.50 L299.20,130.60 L298.36,130.66 L297.69,130.63 L297.08,130.49 L296.51,130.21 L296.00,129.78 L295.54,129.21 L295.14,128.52 L294.80,127.72 L294.50,126.85 L294.24,125.92 L294.01,124.96 L293.80,123.95 L293.61,122.86 L293.44,121.68 L293.32,120.33 L293.24,118.56 L293.24,116.76 L293.30,115.37 L293.45,114.13 L293.66,113.03 L293.92,112.04 L294.22,111.15 L294.54,110.34 L294.89,109.59 L295.25,108.87 L295.64,108.20 L296.07,107.58 L296.54,107.04 L297.07,106.60 L297.67,106.30 L298.34,106.16 L299.20,106.16 L300.05,106.31 L300.70,106.58 L301.27,106.93 L301.79,107.33 L302.28,107.77 L302.74,108.26 L303.18,108.80 L303.60,109.41 L303.98,110.12 L304.32,110.95 L304.60,111.90 L304.80,112.97 L304.94,114.14 L305.01,115.42 L305.02,116.81 Z" fill="#c4c4c4" stroke="#a0a0a0" stroke-width="0.45"/>
<path d="M303.19,118.08 L303.18,119.28 L303.15,120.22 L303.09,121.07 L303.00,121.87 L302.88,122.62 L302.72,123.31 L302.53,123.95 L302.30,124.53 L302.04,125.04 L301.74,125.48 L301.41,125.84 L301.06,126.12 L300.67,126.33 L300.25,126.46 L299.79,126.51 L299.20,126.49 L298.62,126.42 L298.17,126.28 L297.78,126.09 L297.41,125.84 L297.07,125.55 L296.75,125.20 L296.46,124.81 L296.18,124.36 L295.93,123.84 L295.71,123.27 L295.51,122.63 L295.34,121.93 L295.21,121.15 L295.12,120.29 L295.07,119.33 L295.05,118.08 L295.08,116.84 L295.14,115.88 L295.25,115.04 L295.38,114.27 L295.55,113.57 L295.74,112.94 L295.96,112.37 L296.21,111.85 L296.47,111.39 L296.76,110.97 L297.07,110.60 L297.40,110.29 L297.77,110.02 L298.16,109.81 L298.61,109.66 L299.20,109.57 L299.79,109.56 L300.26,109.63 L300.68,109.78 L301.06,110.00 L301.42,110.31 L301.74,110.70 L302.02,111.15 L302.28,111.68 L302.50,112.26 L302.68,112.90 L302.84,113.59 L302.96,114.33 L303.06,115.11 L303.13,115.95 L303.17,116.88 Z" fill="#d4d4d4" stroke="#aaa" stroke-width="0.45"/>
<path d="M301.50,117.60 L301.48,118.29 L301.44,118.81 L301.38,119.27 L301.30,119.69 L301.20,120.07 L301.10,120.43 L300.99,120.75 L300.86,121.06 L300.73,121.34 L300.58,121.60 L300.41,121.84 L300.22,122.04 L300.02,122.20 L299.79,122.31 L299.53,122.37 L299.20,122.38 L298.87,122.34 L298.62,122.25 L298.39,122.12 L298.19,121.96 L298.01,121.77 L297.84,121.55 L297.68,121.32 L297.54,121.06 L297.40,120.77 L297.27,120.46 L297.16,120.11 L297.07,119.73 L296.99,119.30 L296.93,118.83 L296.90,118.29 L296.90,117.60 L296.92,116.91 L296.96,116.39 L297.02,115.93 L297.10,115.51 L297.20,115.13 L297.30,114.77 L297.41,114.45 L297.54,114.14 L297.67,113.86 L297.82,113.60 L297.99,113.36 L298.18,113.16 L298.38,113.00 L298.61,112.89 L298.87,112.83 L299.20,112.82 L299.53,112.86 L299.78,112.95 L300.01,113.08 L300.21,113.24 L300.39,113.43 L300.56,113.65 L300.72,113.88 L300.86,114.14 L301.00,114.43 L301.13,114.74 L301.24,115.09 L301.33,115.47 L301.41,115.90 L301.47,116.37 L301.50,116.91 Z" fill="#f0f0f0"/>
<path d="M311.50,120.00 L311.45,123.54 L311.30,126.28 L311.06,128.74 L310.71,131.00 L310.28,133.09 L309.75,135.01 L309.12,136.77 L308.41,138.35 L307.62,139.77 L306.74,141.01 L305.77,142.06 L304.72,142.94 L303.59,143.62 L302.35,144.11 L300.98,144.40 L299.20,144.50 L297.42,144.40 L296.05,144.11 L294.81,143.62 L293.68,142.94 L292.63,142.06 L291.66,141.01 L290.78,139.77 L289.99,138.35 L289.28,136.77 L288.65,135.01 L288.12,133.09 L287.69,131.00 L287.34,128.74 L287.10,126.28 L286.95,123.54 L286.90,120.00 L286.95,116.46 L287.10,113.72 L287.34,111.26 L287.69,109.00 L288.12,106.91 L288.65,104.99 L289.28,103.23 L289.99,101.65 L290.78,100.23 L291.66,98.99 L292.63,97.94 L293.68,97.06 L294.81,96.38 L296.05,95.89 L297.42,95.60 L299.20,95.50 L300.98,95.60 L302.35,95.89 L303.59,96.38 L304.72,97.06 L305.77,97.94 L306.74,98.99 L307.62,100.23 L308.41,101.65 L309.12,103.23 L309.75,104.99 L310.28,106.91 L310.71,109.00 L311.06,111.26 L311.30,113.72 L311.45,116.46 Z" fill="none" stroke="#555" stroke-width="0.6" stroke-dasharray="0.6 1"/>
<ellipse cx="300.00" cy="113.00" rx="1.60" ry="5.00" fill="#fff" fill-opacity="0.9" filter="url(#bs)"/>
</g>
<rect x="284.20" y="85.00" width="62.70" height="63.10" fill="none" stroke="#b0b0b0" stroke-width="0.7"/>
<line x1="311.30" y1="85.00" x2="311.30" y2="148.10" stroke="#555" stroke-width="0.8" />
<line x1="284.20" y1="130.80" x2="346.90" y2="130.80" stroke="#555" stroke-width="0.8" />
<text x="286.60" y="90.00" font-size="4.6" text-anchor="start" fill="#222" >Q5</text>
<text x="286.60" y="95.50" font-size="4.6" text-anchor="start" fill="#222" >78.3</text>
<text x="344.50" y="90.00" font-size="4.6" text-anchor="end" fill="#222" >Q6</text>
<text x="344.50" y="95.50" font-size="4.6" text-anchor="end" fill="#222" >2.57</text>
<text x="286.40" y="140.40" font-size="4.6" text-anchor="start" fill="#333" >Q8</text>
<text x="286.40" y="145.90" font-size="4.6" text-anchor="start" fill="#333" >19.1</text>
<text x="344.70" y="140.40" font-size="4.6" text-anchor="end" fill="#333" >Q7</text>
<text x="344.70" y="145.90" font-size="4.6" text-anchor="end" fill="#333" >0.036</text>
<line x1="284.20" y1="92.01" x2="285.20" y2="92.01" stroke="#777" stroke-width="0.4" />
<line x1="284.20" y1="99.02" x2="285.20" y2="99.02" stroke="#777" stroke-width="0.4" />
<line x1="284.20" y1="106.03" x2="285.20" y2="106.03" stroke="#777" stroke-width="0.4" />
<line x1="284.20" y1="113.04" x2="285.20" y2="113.04" stroke="#777" stroke-width="0.4" />
<line x1="284.20" y1="120.06" x2="285.20" y2="120.06" stroke="#777" stroke-width="0.4" />
<line x1="284.20" y1="127.07" x2="285.20" y2="127.07" stroke="#777" stroke-width="0.4" />
<line x1="284.20" y1="134.08" x2="285.20" y2="134.08" stroke="#777" stroke-width="0.4" />
<line x1="284.20" y1="141.09" x2="285.20" y2="141.09" stroke="#777" stroke-width="0.4" />
<ellipse cx="284.50" cy="134.00" rx="0.8" ry="1.3" fill="#111"/>
<rect x="293.20" y="146.90" width="4" height="1.1" fill="#222"/>
<text x="194.00" y="98.90" font-size="7.3" text-anchor="end" fill="#333">10<tspan font-size="5.26" dy="-2.77">5</tspan></text>
<text x="194.00" y="111.10" font-size="7.3" text-anchor="end" fill="#333">10<tspan font-size="5.26" dy="-2.77">4</tspan></text>
<text x="194.00" y="126.10" font-size="7.3" text-anchor="end" fill="#333">10<tspan font-size="5.26" dy="-2.77">3</tspan></text>
<text x="191.40" y="137.90" font-size="7.0" text-anchor="end" fill="#333" >0</text>
<text x="194.00" y="147.30" font-size="7.3" text-anchor="end" fill="#333">−10<tspan font-size="5.26" dy="-2.77">3</tspan></text>
<text x="212.00" y="160.80" font-size="7.0" text-anchor="middle" fill="#333" >0</text>
<text x="221.10" y="160.80" font-size="7.0" fill="#333">10<tspan font-size="5.0" dy="-2.7">3</tspan></text>
<text x="235.40" y="160.80" font-size="7.0" fill="#333">10<tspan font-size="5.0" dy="-2.7">4</tspan></text>
<text x="249.30" y="160.80" font-size="7.0" fill="#333">10<tspan font-size="5.0" dy="-2.7">5</tspan></text>
<text x="279.50" y="99.40" font-size="7.3" text-anchor="end" fill="#333">10<tspan font-size="5.26" dy="-2.77">5</tspan></text>
<text x="279.50" y="111.50" font-size="7.3" text-anchor="end" fill="#333">10<tspan font-size="5.26" dy="-2.77">4</tspan></text>
<text x="279.50" y="126.90" font-size="7.3" text-anchor="end" fill="#333">10<tspan font-size="5.26" dy="-2.77">3</tspan></text>
<text x="276.90" y="137.50" font-size="7.0" text-anchor="end" fill="#333" >0</text>
<text x="279.50" y="146.90" font-size="7.3" text-anchor="end" fill="#333">−10<tspan font-size="5.26" dy="-2.77">3</tspan></text>
<text x="295.80" y="160.80" font-size="7.0" text-anchor="middle" fill="#333" >0</text>
<text x="305.60" y="160.80" font-size="7.0" fill="#333">10<tspan font-size="5.0" dy="-2.7">3</tspan></text>
<text x="319.10" y="160.80" font-size="7.0" fill="#333">10<tspan font-size="5.0" dy="-2.7">4</tspan></text>
<text x="335.40" y="160.80" font-size="7.0" fill="#333">10<tspan font-size="5.0" dy="-2.7">5</tspan></text>
<path d="M171.00,167.70 L171.00,141.80 M171.00,167.70 L196.20,167.70" stroke="#222" stroke-width="1.4" fill="none"/>
<path d="M169.20,142.30 L171.00,138.80 L172.80,142.30 Z" fill="#222"/>
<path d="M195.70,165.90 L199.20,167.70 L195.70,169.50 Z" fill="#222"/>
<text transform="translate(166.40,153.40) rotate(-90)" font-size="6.2" text-anchor="middle" fill="#333" textLength="16" lengthAdjust="spacingAndGlyphs">CD71</text>
<text x="173.00" y="176.90" font-size="6.2" text-anchor="start" fill="#333" textLength="18.00" lengthAdjust="spacingAndGlyphs" >Ter119</text>
<text transform="translate(172.6,94.2) rotate(-90)" font-size="8.6" text-anchor="middle" fill="#222">Tp53<tspan font-size="5.8" dy="-3.4">R248Q/+</tspan></text>
<text x="7.80" y="195.10" font-size="12.5" text-anchor="start" fill="#111" font-weight="bold" >D</text>
<text x="162.60" y="196.40" font-size="12.5" text-anchor="start" fill="#111" font-weight="bold" >E</text>
<text x="357.20" y="196.60" font-size="12.5" text-anchor="start" fill="#111" font-weight="bold" >F</text>
<text x="79.00" y="220.80" font-size="9.2" text-anchor="start" fill="#333" textLength="19.60" lengthAdjust="spacingAndGlyphs" >Tp53</text>
<text x="98.90" y="216.60" font-size="5.2" text-anchor="start" fill="#333" textLength="10.50" lengthAdjust="spacingAndGlyphs" >+/−</text>
<text transform="translate(15.30,286.90) rotate(-90)" font-size="7.8" text-anchor="middle" fill="#333" textLength="71" lengthAdjust="spacingAndGlyphs"># cells (fold increase)</text>
<line x1="35.00" y1="226.20" x2="35.00" y2="345.50" stroke="#3a3a3a" stroke-width="1.8" />
<line x1="32.20" y1="344.60" x2="150.00" y2="344.60" stroke="#3a3a3a" stroke-width="1.8" />
<line x1="32.00" y1="344.60" x2="35.00" y2="344.60" stroke="#3a3a3a" stroke-width="1.1" />
<text x="29.00" y="347.00" font-size="6.8" text-anchor="end" fill="#444" textLength="3.40" lengthAdjust="spacingAndGlyphs" >0</text>
<line x1="32.00" y1="306.13" x2="35.00" y2="306.13" stroke="#3a3a3a" stroke-width="1.1" />
<text x="29.00" y="308.53" font-size="6.8" text-anchor="end" fill="#444" textLength="3.40" lengthAdjust="spacingAndGlyphs" >5</text>
<line x1="32.00" y1="267.67" x2="35.00" y2="267.67" stroke="#3a3a3a" stroke-width="1.1" />
<text x="29.00" y="270.07" font-size="6.8" text-anchor="end" fill="#444" textLength="6.80" lengthAdjust="spacingAndGlyphs" >10</text>
<line x1="32.00" y1="229.20" x2="35.00" y2="229.20" stroke="#3a3a3a" stroke-width="1.1" />
<text x="29.00" y="231.60" font-size="6.8" text-anchor="end" fill="#444" textLength="6.80" lengthAdjust="spacingAndGlyphs" >15</text>
<line x1="49.60" y1="344.60" x2="49.60" y2="347.60" stroke="#3a3a3a" stroke-width="1.1" />
<text x="49.60" y="357.10" font-size="6.8" text-anchor="middle" fill="#444" textLength="3.40" lengthAdjust="spacingAndGlyphs" >0</text>
<line x1="79.06" y1="344.60" x2="79.06" y2="347.60" stroke="#3a3a3a" stroke-width="1.1" />
<text x="79.06" y="357.10" font-size="6.8" text-anchor="middle" fill="#444" textLength="3.40" lengthAdjust="spacingAndGlyphs" >2</text>
<line x1="108.52" y1="344.60" x2="108.52" y2="347.60" stroke="#3a3a3a" stroke-width="1.1" />
<text x="108.52" y="357.10" font-size="6.8" text-anchor="middle" fill="#444" textLength="3.40" lengthAdjust="spacingAndGlyphs" >4</text>
<line x1="137.98" y1="344.60" x2="137.98" y2="347.60" stroke="#3a3a3a" stroke-width="1.1" />
<text x="137.98" y="357.10" font-size="6.8" text-anchor="middle" fill="#444" textLength="3.40" lengthAdjust="spacingAndGlyphs" >6</text>
<text x="143.48" y="357.10" font-size="6.8" text-anchor="start" fill="#444" textLength="8.50" lengthAdjust="spacingAndGlyphs" >[d]</text>
<line x1="42.20" y1="248.30" x2="51.80" y2="248.30" stroke="#1d3f78" stroke-width="1.3" />
<circle cx="47.00" cy="248.30" r="1.7" fill="#1d3f78"/>
<text x="55.50" y="250.70" font-size="7.0" text-anchor="start" fill="#333" textLength="15.00" lengthAdjust="spacingAndGlyphs" >CTRL</text>
<line x1="42.20" y1="259.10" x2="51.80" y2="259.10" stroke="#c8102e" stroke-width="1.3" />
<circle cx="47.00" cy="259.10" r="1.7" fill="#c8102e"/>
<text x="55.50" y="261.50" font-size="7.0" text-anchor="start" fill="#333" textLength="33.00" lengthAdjust="spacingAndGlyphs" >NFIA-ETO2</text>
<polyline points="49.60,340.91 79.06,331.37 108.52,331.98 137.98,340.29" fill="none" stroke="#1d3f78" stroke-width="1.3"/>
<line x1="49.60" y1="336.68" x2="49.60" y2="345.14" stroke="#1d3f78" stroke-width="1.0" />
<line x1="48.20" y1="336.68" x2="51.00" y2="336.68" stroke="#1d3f78" stroke-width="1.0" />
<line x1="48.20" y1="345.14" x2="51.00" y2="345.14" stroke="#1d3f78" stroke-width="1.0" />
<circle cx="49.60" cy="340.91" r="1.4" fill="#1d3f78"/>
<line x1="79.06" y1="329.67" x2="79.06" y2="333.06" stroke="#1d3f78" stroke-width="1.0" />
<line x1="77.66" y1="329.67" x2="80.46" y2="329.67" stroke="#1d3f78" stroke-width="1.0" />
<line x1="77.66" y1="333.06" x2="80.46" y2="333.06" stroke="#1d3f78" stroke-width="1.0" />
<circle cx="79.06" cy="331.37" r="1.4" fill="#1d3f78"/>
<circle cx="108.52" cy="331.98" r="1.4" fill="#1d3f78"/>
<circle cx="137.98" cy="340.29" r="1.4" fill="#1d3f78"/>
<polyline points="49.60,340.91 79.06,337.14 108.52,327.83 137.98,300.52" fill="none" stroke="#c8102e" stroke-width="1.3"/>
<circle cx="49.60" cy="340.91" r="1.4" fill="#c8102e"/>
<line x1="79.06" y1="336.37" x2="79.06" y2="337.91" stroke="#c8102e" stroke-width="1.0" />
<line x1="77.66" y1="336.37" x2="80.46" y2="336.37" stroke="#c8102e" stroke-width="1.0" />
<line x1="77.66" y1="337.91" x2="80.46" y2="337.91" stroke="#c8102e" stroke-width="1.0" />
<circle cx="79.06" cy="337.14" r="1.4" fill="#c8102e"/>
<line x1="108.52" y1="314.75" x2="108.52" y2="340.91" stroke="#c8102e" stroke-width="1.0" />
<line x1="107.12" y1="314.75" x2="109.92" y2="314.75" stroke="#c8102e" stroke-width="1.0" />
<line x1="107.12" y1="340.91" x2="109.92" y2="340.91" stroke="#c8102e" stroke-width="1.0" />
<circle cx="108.52" cy="327.83" r="1.4" fill="#c8102e"/>
<line x1="137.98" y1="297.06" x2="137.98" y2="303.98" stroke="#c8102e" stroke-width="1.0" />
<line x1="136.58" y1="297.06" x2="139.38" y2="297.06" stroke="#c8102e" stroke-width="1.0" />
<line x1="136.58" y1="303.98" x2="139.38" y2="303.98" stroke="#c8102e" stroke-width="1.0" />
<circle cx="137.98" cy="300.52" r="1.4" fill="#c8102e"/>
<text x="437.60" y="198.00" font-size="9.2" text-anchor="start" fill="#333" textLength="20.30" lengthAdjust="spacingAndGlyphs" >Tp53</text>
<text x="458.20" y="193.80" font-size="5.2" text-anchor="start" fill="#333" textLength="10.40" lengthAdjust="spacingAndGlyphs" >+/−</text>
<text transform="translate(364.60,258.40) rotate(-90)" font-size="8.4" text-anchor="middle" fill="#333" textLength="32.7" lengthAdjust="spacingAndGlyphs"># Colonies</text>
<line x1="392.00" y1="202.10" x2="392.00" y2="312.10" stroke="#2a2a2a" stroke-width="1.6" />
<line x1="391.20" y1="311.20" x2="511.30" y2="311.20" stroke="#2a2a2a" stroke-width="1.6" />
<line x1="389.00" y1="311.20" x2="392.00" y2="311.20" stroke="#2a2a2a" stroke-width="1.0" />
<text x="385.80" y="313.50" font-size="6.4" text-anchor="end" fill="#444" textLength="3.75" lengthAdjust="spacingAndGlyphs" >1</text>
<line x1="390.20" y1="300.60" x2="392.00" y2="300.60" stroke="#2a2a2a" stroke-width="0.7" />
<line x1="390.20" y1="294.41" x2="392.00" y2="294.41" stroke="#2a2a2a" stroke-width="0.7" />
<line x1="390.20" y1="290.01" x2="392.00" y2="290.01" stroke="#2a2a2a" stroke-width="0.7" />
<line x1="390.20" y1="286.60" x2="392.00" y2="286.60" stroke="#2a2a2a" stroke-width="0.7" />
<line x1="390.20" y1="283.81" x2="392.00" y2="283.81" stroke="#2a2a2a" stroke-width="0.7" />
<line x1="390.20" y1="281.45" x2="392.00" y2="281.45" stroke="#2a2a2a" stroke-width="0.7" />
<line x1="390.20" y1="279.41" x2="392.00" y2="279.41" stroke="#2a2a2a" stroke-width="0.7" />
<line x1="390.20" y1="277.61" x2="392.00" y2="277.61" stroke="#2a2a2a" stroke-width="0.7" />
<line x1="389.00" y1="276.00" x2="392.00" y2="276.00" stroke="#2a2a2a" stroke-width="1.0" />
<text x="385.80" y="278.30" font-size="6.4" text-anchor="end" fill="#444" textLength="7.50" lengthAdjust="spacingAndGlyphs" >10</text>
<line x1="390.20" y1="265.40" x2="392.00" y2="265.40" stroke="#2a2a2a" stroke-width="0.7" />
<line x1="390.20" y1="259.21" x2="392.00" y2="259.21" stroke="#2a2a2a" stroke-width="0.7" />
<line x1="390.20" y1="254.81" x2="392.00" y2="254.81" stroke="#2a2a2a" stroke-width="0.7" />
<line x1="390.20" y1="251.40" x2="392.00" y2="251.40" stroke="#2a2a2a" stroke-width="0.7" />
<line x1="390.20" y1="248.61" x2="392.00" y2="248.61" stroke="#2a2a2a" stroke-width="0.7" />
<line x1="390.20" y1="246.25" x2="392.00" y2="246.25" stroke="#2a2a2a" stroke-width="0.7" />
<line x1="390.20" y1="244.21" x2="392.00" y2="244.21" stroke="#2a2a2a" stroke-width="0.7" />
<line x1="390.20" y1="242.41" x2="392.00" y2="242.41" stroke="#2a2a2a" stroke-width="0.7" />
<line x1="389.00" y1="240.80" x2="392.00" y2="240.80" stroke="#2a2a2a" stroke-width="1.0" />
<text x="385.80" y="243.10" font-size="6.4" text-anchor="end" fill="#444" textLength="11.25" lengthAdjust="spacingAndGlyphs" >100</text>
<line x1="390.20" y1="230.20" x2="392.00" y2="230.20" stroke="#2a2a2a" stroke-width="0.7" />
<line x1="390.20" y1="224.01" x2="392.00" y2="224.01" stroke="#2a2a2a" stroke-width="0.7" />
<line x1="390.20" y1="219.61" x2="392.00" y2="219.61" stroke="#2a2a2a" stroke-width="0.7" />
<line x1="390.20" y1="216.20" x2="392.00" y2="216.20" stroke="#2a2a2a" stroke-width="0.7" />
<line x1="390.20" y1="213.41" x2="392.00" y2="213.41" stroke="#2a2a2a" stroke-width="0.7" />
<line x1="390.20" y1="211.05" x2="392.00" y2="211.05" stroke="#2a2a2a" stroke-width="0.7" />
<line x1="390.20" y1="209.01" x2="392.00" y2="209.01" stroke="#2a2a2a" stroke-width="0.7" />
<line x1="390.20" y1="207.21" x2="392.00" y2="207.21" stroke="#2a2a2a" stroke-width="0.7" />
<line x1="389.00" y1="205.60" x2="392.00" y2="205.60" stroke="#2a2a2a" stroke-width="1.0" />
<text x="385.80" y="207.90" font-size="6.4" text-anchor="end" fill="#444" textLength="15.00" lengthAdjust="spacingAndGlyphs" >1000</text>
<line x1="404.40" y1="311.20" x2="404.40" y2="313.70" stroke="#2a2a2a" stroke-width="0.8" />
<text x="405.30" y="324.00" font-size="7.0" text-anchor="middle" fill="#444" >1°</text>
<line x1="425.10" y1="311.20" x2="425.10" y2="313.70" stroke="#2a2a2a" stroke-width="0.8" />
<text x="426.00" y="324.00" font-size="7.0" text-anchor="middle" fill="#444" >2°</text>
<line x1="441.80" y1="311.20" x2="441.80" y2="313.70" stroke="#2a2a2a" stroke-width="0.8" />
<text x="442.70" y="324.00" font-size="7.0" text-anchor="middle" fill="#444" >3°</text>
<line x1="459.80" y1="311.20" x2="459.80" y2="313.70" stroke="#2a2a2a" stroke-width="0.8" />
<text x="460.70" y="324.00" font-size="7.0" text-anchor="middle" fill="#444" >4°</text>
<line x1="478.40" y1="311.20" x2="478.40" y2="313.70" stroke="#2a2a2a" stroke-width="0.8" />
<text x="479.30" y="324.00" font-size="7.0" text-anchor="middle" fill="#444" >5°</text>
<line x1="496.60" y1="311.20" x2="496.60" y2="313.70" stroke="#2a2a2a" stroke-width="0.8" />
<text x="497.50" y="324.00" font-size="7.0" text-anchor="middle" fill="#444" >6°</text>
<text x="453.00" y="337.00" font-size="8.4" text-anchor="middle" fill="#444" textLength="28.00" lengthAdjust="spacingAndGlyphs" >[Plating]</text>
<circle cx="473.60" cy="206.80" r="1.6" fill="#1d3f8a"/>
<text x="478.60" y="209.00" font-size="6.3" text-anchor="start" fill="#333" textLength="15.20" lengthAdjust="spacingAndGlyphs" >CTRL</text>
<circle cx="473.60" cy="217.60" r="1.6" fill="#b5122e"/>
<text x="478.60" y="219.80" font-size="6.3" text-anchor="start" fill="#333" textLength="32.00" lengthAdjust="spacingAndGlyphs" >NFIA-ETO2</text>
<rect x="398.00" y="276.00" width="5.00" height="35.20" fill="#7d95c6" stroke="#2b4a85" stroke-width="0.9"/>
<line x1="400.50" y1="268.81" x2="400.50" y2="290.01" stroke="#333" stroke-width="0.8" />
<line x1="399.30" y1="268.81" x2="401.70" y2="268.81" stroke="#333" stroke-width="0.8" />
<circle cx="400.50" cy="290.01" r="1.2" fill="#1f3a74"/>
<circle cx="400.50" cy="268.81" r="1.2" fill="#1f3a74"/>
<rect x="406.10" y="252.34" width="5.00" height="58.86" fill="#f28b8b" stroke="#c02a38" stroke-width="0.9"/>
<line x1="408.60" y1="246.25" x2="408.60" y2="262.62" stroke="#333" stroke-width="0.8" />
<line x1="407.40" y1="246.25" x2="409.80" y2="246.25" stroke="#333" stroke-width="0.8" />
<circle cx="408.60" cy="262.62" r="1.2" fill="#b01030"/>
<circle cx="408.60" cy="246.25" r="1.2" fill="#b01030"/>
<rect x="418.40" y="305.52" width="5.00" height="5.68" fill="#7d95c6" stroke="#2b4a85" stroke-width="0.9"/>
<line x1="420.90" y1="295.19" x2="420.90" y2="311.20" stroke="#333" stroke-width="0.8" />
<line x1="419.70" y1="295.19" x2="422.10" y2="295.19" stroke="#333" stroke-width="0.8" />
<circle cx="420.90" cy="311.20" r="1.2" fill="#1f3a74"/>
<circle cx="420.90" cy="295.19" r="1.2" fill="#1f3a74"/>
<rect x="426.50" y="295.19" width="5.00" height="16.01" fill="#f28b8b" stroke="#c02a38" stroke-width="0.9"/>
<line x1="429.00" y1="284.86" x2="429.00" y2="311.20" stroke="#333" stroke-width="0.8" />
<line x1="427.80" y1="284.86" x2="430.20" y2="284.86" stroke="#333" stroke-width="0.8" />
<circle cx="429.00" cy="311.20" r="1.2" fill="#b01030"/>
<circle cx="429.00" cy="284.86" r="1.2" fill="#b01030"/>
<text x="232.90" y="195.60" font-size="9.7" text-anchor="middle" fill="#222" textLength="21.60" lengthAdjust="spacingAndGlyphs" >CTRL</text>
<text x="306.50" y="195.60" font-size="9.7" text-anchor="middle" fill="#222" textLength="47.40" lengthAdjust="spacingAndGlyphs" >NFIA-ETO2</text>
<clipPath id="clip464"><rect x="199.50" y="201.20" width="70.90" height="58.80"/></clipPath>
<rect x="199.50" y="201.20" width="70.90" height="58.80" fill="#fbfbfd"/>
<g clip-path="url(#clip464)">
<ellipse cx="245.00" cy="236.00" rx="12.00" ry="12.00" fill="#f4c4da" fill-opacity="1.0" filter="url(#b2)"/>
<ellipse cx="254.00" cy="232.00" rx="4.00" ry="6.00" fill="#f0b8d0" fill-opacity="0.9" filter="url(#b1)"/>
<ellipse cx="246.00" cy="248.00" rx="6.00" ry="3.00" fill="#f4c8dc" fill-opacity="0.9" filter="url(#b1)"/>
<ellipse cx="214.00" cy="208.00" rx="6.00" ry="4.00" fill="#d8e4f4" fill-opacity="0.8" filter="url(#b2)"/>
<ellipse cx="231.00" cy="229.00" rx="3.00" ry="3.00" fill="#e8d8ec" fill-opacity="0.8" filter="url(#b1)"/>
<ellipse cx="201.00" cy="215.00" rx="2.50" ry="3.00" fill="#f2c8dc" fill-opacity="0.8" filter="url(#b1)"/>
<ellipse cx="212.00" cy="224.00" rx="8.00" ry="5.00" fill="#e8d0e8" fill-opacity="0.6" filter="url(#b1)"/>
<path d="M212.34,223.20 L212.30,223.58 L212.20,223.96 L212.06,224.31 L211.87,224.64 L211.66,224.96 L211.43,225.25 L211.19,225.53 L210.93,225.79 L210.66,226.05 L210.38,226.30 L210.07,226.53 L209.74,226.73 L209.38,226.91 L209.00,227.03 L208.61,227.11 L208.20,227.13 L207.80,227.09 L207.40,227.00 L207.03,226.86 L206.68,226.69 L206.35,226.49 L206.04,226.27 L205.75,226.04 L205.47,225.79 L205.20,225.54 L204.94,225.27 L204.70,224.98 L204.48,224.66 L204.30,224.32 L204.16,223.96 L204.08,223.59 L204.06,223.20 L204.10,222.82 L204.20,222.44 L204.34,222.09 L204.53,221.76 L204.74,221.44 L204.97,221.15 L205.21,220.87 L205.47,220.61 L205.74,220.35 L206.02,220.10 L206.33,219.87 L206.66,219.67 L207.02,219.49 L207.40,219.37 L207.79,219.29 L208.20,219.27 L208.60,219.31 L209.00,219.40 L209.37,219.54 L209.72,219.71 L210.05,219.91 L210.36,220.13 L210.65,220.36 L210.93,220.61 L211.20,220.86 L211.46,221.13 L211.70,221.42 L211.92,221.74 L212.10,222.08 L212.24,222.44 L212.32,222.81 Z" fill="#2a5cb0" filter="url(#bc)"/>
<path d="M211.49,222.86 L211.44,223.11 L211.39,223.36 L211.36,223.62 L211.32,223.88 L211.26,224.15 L211.18,224.42 L211.04,224.67 L210.86,224.89 L210.63,225.07 L210.36,225.20 L210.08,225.28 L209.79,225.34 L209.52,225.37 L209.25,225.40 L208.98,225.44 L208.71,225.49 L208.44,225.54 L208.15,225.57 L207.85,225.56 L207.56,225.51 L207.28,225.40 L207.04,225.23 L206.84,225.03 L206.68,224.79 L206.54,224.55 L206.42,224.31 L206.31,224.08 L206.18,223.85 L206.05,223.62 L205.92,223.39 L205.81,223.13 L205.73,222.86 L205.70,222.58 L205.74,222.30 L205.84,222.03 L206.00,221.79 L206.18,221.57 L206.39,221.38 L206.59,221.20 L206.78,221.02 L206.97,220.84 L207.16,220.65 L207.36,220.46 L207.59,220.28 L207.84,220.13 L208.12,220.04 L208.42,220.00 L208.71,220.02 L209.00,220.09 L209.27,220.20 L209.52,220.32 L209.76,220.45 L210.00,220.57 L210.24,220.68 L210.49,220.80 L210.75,220.92 L210.99,221.08 L211.21,221.27 L211.39,221.50 L211.50,221.76 L211.56,222.04 L211.57,222.32 L211.54,222.59 Z" fill="#8ab4e4" filter="url(#b1)" opacity="0.85"/>
<ellipse cx="206.00" cy="222.61" rx="0.82" ry="0.93" fill="#204584" opacity="0.3" filter="url(#b1)"/>
<ellipse cx="209.49" cy="224.64" rx="0.96" ry="0.77" fill="#204584" opacity="0.3" filter="url(#b1)"/>
<ellipse cx="208.61" cy="222.41" rx="1.04" ry="0.92" fill="#204584" opacity="0.3" filter="url(#b1)"/>
<path d="M218.52,223.70 L218.54,223.99 L218.53,224.28 L218.50,224.58 L218.43,224.87 L218.33,225.16 L218.18,225.42 L218.00,225.67 L217.78,225.88 L217.53,226.06 L217.27,226.20 L217.00,226.32 L216.72,226.41 L216.44,226.48 L216.16,226.54 L215.88,226.59 L215.60,226.62 L215.31,226.64 L215.02,226.63 L214.72,226.60 L214.43,226.53 L214.14,226.43 L213.88,226.28 L213.63,226.10 L213.42,225.88 L213.24,225.63 L213.10,225.37 L212.98,225.10 L212.89,224.82 L212.82,224.54 L212.76,224.26 L212.71,223.98 L212.68,223.70 L212.66,223.41 L212.67,223.12 L212.70,222.82 L212.77,222.53 L212.87,222.24 L213.02,221.98 L213.20,221.73 L213.42,221.52 L213.67,221.34 L213.93,221.20 L214.20,221.08 L214.48,220.99 L214.76,220.92 L215.04,220.86 L215.32,220.81 L215.60,220.78 L215.89,220.76 L216.18,220.77 L216.48,220.80 L216.77,220.87 L217.06,220.97 L217.32,221.12 L217.57,221.30 L217.78,221.52 L217.96,221.77 L218.10,222.03 L218.22,222.30 L218.31,222.58 L218.38,222.86 L218.44,223.14 L218.49,223.42 Z" fill="#7a5aa0" filter="url(#bc)"/>
<path d="M217.21,223.78 L217.21,223.99 L217.21,224.19 L217.18,224.40 L217.14,224.61 L217.08,224.81 L217.00,225.01 L216.89,225.20 L216.76,225.38 L216.60,225.54 L216.42,225.67 L216.23,225.78 L216.02,225.86 L215.81,225.91 L215.59,225.94 L215.37,225.94 L215.16,225.91 L214.95,225.87 L214.76,225.82 L214.56,225.75 L214.38,225.68 L214.20,225.59 L214.02,225.50 L213.84,225.39 L213.67,225.27 L213.51,225.14 L213.36,224.99 L213.22,224.82 L213.10,224.64 L213.01,224.44 L212.94,224.23 L212.90,224.01 L212.89,223.78 L212.92,223.56 L212.97,223.35 L213.05,223.14 L213.15,222.95 L213.27,222.78 L213.41,222.61 L213.55,222.46 L213.70,222.33 L213.86,222.20 L214.02,222.08 L214.19,221.97 L214.37,221.87 L214.55,221.78 L214.75,221.70 L214.95,221.64 L215.16,221.59 L215.38,221.57 L215.60,221.58 L215.82,221.62 L216.03,221.68 L216.23,221.78 L216.42,221.90 L216.58,222.05 L216.73,222.22 L216.85,222.40 L216.95,222.59 L217.03,222.79 L217.09,222.98 L217.14,223.18 L217.17,223.38 L217.20,223.58 Z" fill="#9a7ab8" filter="url(#b1)" opacity="0.85"/>
<path d="M226.46,219.40 L226.49,219.82 L226.46,220.25 L226.36,220.66 L226.20,221.06 L225.98,221.43 L225.71,221.76 L225.40,222.06 L225.07,222.33 L224.72,222.57 L224.37,222.78 L224.00,222.97 L223.63,223.16 L223.25,223.32 L222.85,223.47 L222.43,223.58 L222.00,223.66 L221.56,223.68 L221.11,223.65 L220.68,223.56 L220.26,223.41 L219.87,223.20 L219.52,222.94 L219.21,222.65 L218.93,222.33 L218.68,222.00 L218.46,221.66 L218.26,221.31 L218.07,220.96 L217.89,220.59 L217.74,220.21 L217.62,219.81 L217.54,219.40 L217.51,218.98 L217.54,218.55 L217.64,218.14 L217.80,217.74 L218.02,217.37 L218.29,217.04 L218.60,216.74 L218.93,216.47 L219.28,216.23 L219.63,216.02 L220.00,215.83 L220.37,215.64 L220.75,215.48 L221.15,215.33 L221.57,215.22 L222.00,215.14 L222.44,215.12 L222.89,215.15 L223.32,215.24 L223.74,215.39 L224.13,215.60 L224.48,215.86 L224.79,216.15 L225.07,216.47 L225.32,216.80 L225.54,217.14 L225.74,217.49 L225.93,217.84 L226.11,218.21 L226.26,218.59 L226.38,218.99 Z" fill="#2a5cb0" filter="url(#bc)"/>
<path d="M225.27,219.25 L225.21,219.55 L225.11,219.85 L224.97,220.12 L224.81,220.38 L224.64,220.62 L224.46,220.84 L224.27,221.07 L224.09,221.29 L223.89,221.51 L223.68,221.72 L223.45,221.93 L223.19,222.11 L222.91,222.26 L222.60,222.36 L222.28,222.42 L221.95,222.41 L221.63,222.36 L221.32,222.26 L221.04,222.13 L220.77,221.98 L220.52,221.81 L220.28,221.64 L220.05,221.46 L219.82,221.29 L219.59,221.10 L219.36,220.90 L219.15,220.68 L218.96,220.43 L218.80,220.16 L218.69,219.87 L218.63,219.56 L218.64,219.25 L218.69,218.94 L218.79,218.65 L218.93,218.37 L219.09,218.12 L219.27,217.88 L219.45,217.65 L219.63,217.43 L219.82,217.21 L220.01,216.99 L220.22,216.78 L220.45,216.57 L220.71,216.39 L221.00,216.24 L221.30,216.13 L221.63,216.08 L221.95,216.08 L222.27,216.14 L222.58,216.23 L222.87,216.37 L223.14,216.52 L223.39,216.69 L223.62,216.86 L223.86,217.03 L224.09,217.21 L224.32,217.40 L224.54,217.60 L224.76,217.82 L224.95,218.06 L225.10,218.34 L225.21,218.63 L225.27,218.94 Z" fill="#8ab4e4" filter="url(#b1)" opacity="0.85"/>
<ellipse cx="219.86" cy="220.21" rx="1.03" ry="0.81" fill="#204584" opacity="0.3" filter="url(#b1)"/>
<ellipse cx="219.68" cy="218.62" rx="0.67" ry="1.05" fill="#204584" opacity="0.3" filter="url(#b1)"/>
<ellipse cx="220.05" cy="218.72" rx="1.31" ry="0.91" fill="#204584" opacity="0.3" filter="url(#b1)"/>
<path d="M248.31,229.80 L248.34,230.09 L248.36,230.39 L248.34,230.69 L248.27,230.99 L248.13,231.26 L247.95,231.50 L247.72,231.71 L247.48,231.88 L247.24,232.05 L247.01,232.21 L246.78,232.38 L246.54,232.55 L246.28,232.70 L246.00,232.83 L245.70,232.89 L245.40,232.89 L245.10,232.83 L244.82,232.73 L244.55,232.60 L244.29,232.48 L244.03,232.36 L243.77,232.24 L243.50,232.12 L243.24,231.96 L243.01,231.76 L242.82,231.52 L242.69,231.25 L242.61,230.96 L242.56,230.66 L242.54,230.37 L242.52,230.08 L242.49,229.80 L242.46,229.51 L242.44,229.21 L242.46,228.91 L242.53,228.61 L242.67,228.34 L242.85,228.10 L243.08,227.89 L243.32,227.72 L243.56,227.55 L243.79,227.39 L244.02,227.22 L244.26,227.05 L244.52,226.90 L244.80,226.77 L245.10,226.71 L245.40,226.71 L245.70,226.77 L245.98,226.87 L246.25,227.00 L246.51,227.12 L246.77,227.24 L247.03,227.36 L247.30,227.48 L247.56,227.64 L247.79,227.84 L247.98,228.08 L248.11,228.35 L248.19,228.64 L248.24,228.94 L248.26,229.23 L248.28,229.52 Z" fill="#2a5cb0" filter="url(#bc)"/>
<path d="M247.35,229.55 L247.33,229.77 L247.25,229.98 L247.14,230.17 L247.01,230.35 L246.89,230.52 L246.78,230.69 L246.69,230.87 L246.59,231.06 L246.48,231.26 L246.33,231.42 L246.15,231.55 L245.94,231.63 L245.71,231.65 L245.49,231.64 L245.28,231.61 L245.07,231.60 L244.87,231.60 L244.66,231.61 L244.45,231.62 L244.22,231.61 L244.01,231.55 L243.81,231.44 L243.66,231.28 L243.54,231.09 L243.44,230.89 L243.36,230.69 L243.27,230.51 L243.16,230.34 L243.04,230.16 L242.93,229.97 L242.84,229.77 L242.80,229.55 L242.82,229.33 L242.90,229.12 L243.01,228.92 L243.14,228.75 L243.26,228.58 L243.37,228.41 L243.46,228.23 L243.56,228.03 L243.67,227.84 L243.82,227.67 L244.00,227.54 L244.21,227.47 L244.44,227.44 L244.66,227.46 L244.87,227.48 L245.07,227.50 L245.28,227.50 L245.48,227.49 L245.70,227.48 L245.93,227.49 L246.14,227.55 L246.34,227.66 L246.49,227.82 L246.61,228.01 L246.71,228.21 L246.79,228.40 L246.88,228.58 L246.99,228.76 L247.10,228.93 L247.22,229.12 L247.31,229.33 Z" fill="#6a94d4" filter="url(#b1)" opacity="0.85"/>
<path d="M244.59,235.30 L244.60,235.63 L244.54,235.96 L244.41,236.28 L244.23,236.56 L244.03,236.83 L243.82,237.07 L243.61,237.32 L243.41,237.58 L243.21,237.83 L242.97,238.08 L242.70,238.30 L242.39,238.46 L242.05,238.55 L241.69,238.58 L241.34,238.56 L241.00,238.52 L240.67,238.47 L240.34,238.43 L240.00,238.40 L239.66,238.35 L239.32,238.27 L238.99,238.13 L238.70,237.94 L238.46,237.69 L238.28,237.41 L238.13,237.11 L238.00,236.81 L237.88,236.52 L237.75,236.23 L237.61,235.94 L237.49,235.63 L237.41,235.30 L237.40,234.97 L237.46,234.64 L237.59,234.32 L237.77,234.04 L237.97,233.77 L238.18,233.53 L238.39,233.28 L238.59,233.02 L238.79,232.77 L239.03,232.52 L239.30,232.30 L239.61,232.14 L239.95,232.05 L240.31,232.02 L240.66,232.04 L241.00,232.08 L241.33,232.13 L241.66,232.17 L242.00,232.20 L242.34,232.25 L242.68,232.33 L243.01,232.47 L243.30,232.66 L243.54,232.91 L243.72,233.19 L243.87,233.49 L244.00,233.79 L244.12,234.08 L244.25,234.37 L244.39,234.66 L244.51,234.97 Z" fill="#244f9c" filter="url(#bc)"/>
<path d="M243.12,235.38 L243.04,235.61 L242.95,235.83 L242.86,236.04 L242.78,236.24 L242.70,236.45 L242.62,236.67 L242.52,236.89 L242.40,237.11 L242.24,237.30 L242.04,237.46 L241.81,237.57 L241.56,237.64 L241.30,237.67 L241.05,237.67 L240.80,237.65 L240.57,237.63 L240.33,237.62 L240.09,237.62 L239.85,237.61 L239.60,237.59 L239.34,237.54 L239.10,237.45 L238.89,237.31 L238.71,237.14 L238.57,236.93 L238.47,236.70 L238.40,236.47 L238.34,236.25 L238.28,236.03 L238.22,235.82 L238.15,235.60 L238.08,235.38 L238.03,235.14 L238.01,234.90 L238.04,234.66 L238.12,234.42 L238.25,234.21 L238.43,234.03 L238.63,233.88 L238.83,233.75 L239.04,233.63 L239.24,233.51 L239.44,233.38 L239.63,233.25 L239.84,233.12 L240.07,233.01 L240.31,232.92 L240.57,232.88 L240.83,232.90 L241.08,232.96 L241.31,233.07 L241.52,233.20 L241.72,233.35 L241.90,233.50 L242.08,233.64 L242.27,233.78 L242.46,233.91 L242.66,234.06 L242.84,234.23 L242.99,234.43 L243.10,234.65 L243.16,234.89 L243.16,235.14 Z" fill="#4a78c0" filter="url(#b1)" opacity="0.85"/>
<ellipse cx="242.00" cy="236.37" rx="0.89" ry="0.97" fill="#1b3b75" opacity="0.3" filter="url(#b1)"/>
<ellipse cx="242.61" cy="236.12" rx="0.53" ry="0.61" fill="#1b3b75" opacity="0.3" filter="url(#b1)"/>
<ellipse cx="240.66" cy="236.48" rx="0.80" ry="0.86" fill="#1b3b75" opacity="0.3" filter="url(#b1)"/>
<path d="M238.34,238.40 L238.32,238.59 L238.29,238.78 L238.25,238.96 L238.20,239.15 L238.13,239.33 L238.05,239.50 L237.95,239.67 L237.83,239.83 L237.70,239.98 L237.54,240.11 L237.37,240.22 L237.19,240.31 L237.00,240.38 L236.80,240.42 L236.60,240.43 L236.40,240.43 L236.20,240.40 L236.01,240.35 L235.83,240.28 L235.65,240.20 L235.49,240.11 L235.33,240.01 L235.18,239.89 L235.03,239.77 L234.90,239.63 L234.77,239.49 L234.65,239.33 L234.55,239.17 L234.47,238.99 L234.40,238.80 L234.36,238.60 L234.34,238.40 L234.34,238.20 L234.37,238.00 L234.43,237.80 L234.51,237.62 L234.61,237.44 L234.73,237.28 L234.86,237.14 L235.00,237.00 L235.16,236.89 L235.32,236.79 L235.49,236.70 L235.66,236.62 L235.84,236.55 L236.02,236.50 L236.21,236.45 L236.40,236.43 L236.60,236.42 L236.79,236.42 L236.99,236.45 L237.18,236.51 L237.37,236.58 L237.55,236.68 L237.71,236.80 L237.86,236.94 L237.99,237.10 L238.10,237.27 L238.18,237.45 L238.25,237.63 L238.29,237.83 L238.32,238.02 L238.34,238.21 Z" fill="#1d3f80" filter="url(#bc)"/>
<path d="M254.71,237.00 L254.60,237.41 L254.48,237.81 L254.36,238.20 L254.25,238.60 L254.13,239.01 L253.98,239.42 L253.77,239.80 L253.49,240.15 L253.14,240.43 L252.74,240.63 L252.31,240.78 L251.88,240.88 L251.46,240.98 L251.05,241.08 L250.63,241.19 L250.20,241.29 L249.75,241.35 L249.29,241.35 L248.85,241.26 L248.43,241.08 L248.06,240.83 L247.73,240.54 L247.42,240.23 L247.13,239.93 L246.83,239.64 L246.52,239.35 L246.21,239.04 L245.95,238.68 L245.75,238.29 L245.64,237.87 L245.63,237.43 L245.69,237.00 L245.80,236.59 L245.92,236.19 L246.04,235.80 L246.15,235.40 L246.27,234.99 L246.42,234.58 L246.63,234.20 L246.91,233.85 L247.26,233.57 L247.66,233.37 L248.09,233.22 L248.52,233.12 L248.94,233.02 L249.35,232.92 L249.77,232.81 L250.20,232.71 L250.65,232.65 L251.11,232.65 L251.55,232.74 L251.97,232.92 L252.34,233.17 L252.67,233.46 L252.98,233.77 L253.27,234.07 L253.57,234.36 L253.88,234.65 L254.19,234.96 L254.45,235.32 L254.65,235.71 L254.76,236.13 L254.77,236.57 Z" fill="#2a5cb0" filter="url(#bc)"/>
<path d="M253.26,236.42 L253.15,236.72 L253.02,237.00 L252.91,237.27 L252.83,237.55 L252.76,237.85 L252.68,238.15 L252.56,238.45 L252.38,238.72 L252.13,238.94 L251.83,239.08 L251.51,239.17 L251.18,239.21 L250.87,239.25 L250.57,239.30 L250.28,239.38 L249.97,239.47 L249.65,239.55 L249.32,239.58 L248.98,239.54 L248.68,239.42 L248.41,239.22 L248.18,238.98 L247.99,238.74 L247.80,238.50 L247.59,238.29 L247.37,238.09 L247.13,237.87 L246.91,237.64 L246.73,237.36 L246.63,237.06 L246.62,236.74 L246.68,236.42 L246.80,236.12 L246.92,235.84 L247.03,235.57 L247.12,235.29 L247.19,235.00 L247.27,234.69 L247.39,234.39 L247.57,234.12 L247.81,233.91 L248.11,233.76 L248.44,233.68 L248.76,233.63 L249.08,233.60 L249.37,233.55 L249.67,233.47 L249.97,233.38 L250.30,233.30 L250.63,233.26 L250.96,233.31 L251.27,233.43 L251.54,233.62 L251.76,233.86 L251.96,234.11 L252.15,234.34 L252.35,234.56 L252.58,234.76 L252.82,234.97 L253.04,235.21 L253.22,235.48 L253.32,235.79 L253.33,236.11 Z" fill="#9abce8" filter="url(#b1)" opacity="0.85"/>
<ellipse cx="251.81" cy="238.81" rx="1.33" ry="1.08" fill="#204584" opacity="0.3" filter="url(#b1)"/>
<ellipse cx="250.73" cy="237.74" rx="0.96" ry="1.20" fill="#204584" opacity="0.3" filter="url(#b1)"/>
<ellipse cx="250.94" cy="238.26" rx="0.81" ry="0.87" fill="#204584" opacity="0.3" filter="url(#b1)"/>
<path d="M247.69,242.80 L247.62,243.18 L247.51,243.54 L247.37,243.89 L247.20,244.22 L247.01,244.53 L246.81,244.84 L246.60,245.14 L246.36,245.43 L246.11,245.71 L245.83,245.97 L245.52,246.20 L245.17,246.40 L244.80,246.56 L244.41,246.66 L244.00,246.70 L243.60,246.69 L243.20,246.62 L242.82,246.52 L242.46,246.38 L242.11,246.22 L241.78,246.04 L241.46,245.85 L241.14,245.65 L240.84,245.43 L240.54,245.18 L240.27,244.92 L240.02,244.62 L239.81,244.29 L239.64,243.94 L239.54,243.57 L239.50,243.18 L239.51,242.80 L239.58,242.42 L239.69,242.06 L239.83,241.71 L240.00,241.38 L240.19,241.07 L240.39,240.76 L240.60,240.46 L240.84,240.17 L241.09,239.89 L241.37,239.63 L241.68,239.40 L242.03,239.20 L242.40,239.04 L242.79,238.94 L243.20,238.90 L243.60,238.91 L244.00,238.98 L244.38,239.08 L244.74,239.22 L245.09,239.38 L245.42,239.56 L245.74,239.75 L246.06,239.95 L246.36,240.17 L246.66,240.42 L246.93,240.68 L247.18,240.98 L247.39,241.31 L247.56,241.66 L247.66,242.03 L247.70,242.42 Z" fill="#2a5cb0" filter="url(#bc)"/>
<path d="M246.42,242.40 L246.33,242.66 L246.23,242.91 L246.13,243.15 L246.04,243.39 L245.95,243.64 L245.86,243.89 L245.76,244.14 L245.61,244.39 L245.43,244.61 L245.20,244.79 L244.93,244.92 L244.65,244.99 L244.35,245.02 L244.06,245.02 L243.78,245.01 L243.51,244.99 L243.25,244.98 L242.97,244.98 L242.69,244.98 L242.40,244.95 L242.11,244.89 L241.83,244.78 L241.59,244.62 L241.39,244.41 L241.24,244.17 L241.12,243.91 L241.04,243.65 L240.97,243.40 L240.90,243.15 L240.82,242.90 L240.74,242.66 L240.66,242.40 L240.60,242.12 L240.58,241.84 L240.62,241.56 L240.72,241.30 L240.87,241.06 L241.08,240.85 L241.30,240.67 L241.54,240.52 L241.77,240.38 L242.00,240.24 L242.22,240.09 L242.44,239.94 L242.68,239.79 L242.94,239.65 L243.22,239.56 L243.51,239.52 L243.81,239.54 L244.10,239.62 L244.36,239.74 L244.60,239.90 L244.82,240.07 L245.04,240.23 L245.25,240.39 L245.46,240.54 L245.69,240.70 L245.91,240.87 L246.12,241.07 L246.29,241.30 L246.41,241.56 L246.47,241.84 L246.47,242.12 Z" fill="#8ab4e4" filter="url(#b1)" opacity="0.85"/>
<ellipse cx="245.13" cy="243.22" rx="1.04" ry="1.12" fill="#204584" opacity="0.3" filter="url(#b1)"/>
<ellipse cx="244.05" cy="244.00" rx="0.96" ry="0.80" fill="#204584" opacity="0.3" filter="url(#b1)"/>
<ellipse cx="241.56" cy="243.62" rx="0.88" ry="0.70" fill="#204584" opacity="0.3" filter="url(#b1)"/>
</g>
<rect x="199.50" y="201.20" width="70.90" height="58.80" fill="none" stroke="#c0c0c4" stroke-width="0.8"/>
<clipPath id="clip506"><rect x="271.90" y="201.20" width="72.70" height="58.80"/></clipPath>
<rect x="271.90" y="201.20" width="72.70" height="58.80" fill="#f5f3f8"/>
<g clip-path="url(#clip506)">
<path d="M281,204 L300,206 L320,220 L338,230 L337,256 L300,258 L291,246 L280,228 Z" fill="#7a62b0" opacity="0.4" filter="url(#b2)"/>
<ellipse cx="318.00" cy="262.00" rx="10.00" ry="4.00" fill="#e0b8d8" fill-opacity="0.8" filter="url(#b2)"/>
<path d="M304.98,207.50 L305.02,207.80 L305.03,208.10 L304.97,208.40 L304.85,208.68 L304.68,208.93 L304.48,209.16 L304.26,209.36 L304.05,209.55 L303.84,209.74 L303.63,209.94 L303.41,210.14 L303.17,210.32 L302.90,210.46 L302.61,210.54 L302.30,210.56 L302.00,210.52 L301.71,210.45 L301.43,210.36 L301.16,210.27 L300.89,210.19 L300.61,210.11 L300.32,210.01 L300.05,209.87 L299.81,209.69 L299.61,209.47 L299.46,209.20 L299.35,208.92 L299.28,208.63 L299.22,208.34 L299.16,208.07 L299.09,207.79 L299.02,207.50 L298.98,207.20 L298.97,206.90 L299.03,206.60 L299.15,206.32 L299.32,206.07 L299.52,205.84 L299.74,205.64 L299.95,205.45 L300.16,205.26 L300.37,205.06 L300.59,204.86 L300.83,204.68 L301.10,204.54 L301.39,204.46 L301.70,204.44 L302.00,204.48 L302.29,204.55 L302.57,204.64 L302.84,204.73 L303.11,204.81 L303.39,204.89 L303.68,204.99 L303.95,205.13 L304.19,205.31 L304.39,205.53 L304.54,205.80 L304.65,206.08 L304.72,206.37 L304.78,206.66 L304.84,206.93 L304.91,207.21 Z" fill="#4a48a0" filter="url(#bc)"/>
<path d="M304.04,207.82 L304.00,208.03 L303.97,208.22 L303.94,208.43 L303.91,208.63 L303.87,208.85 L303.81,209.06 L303.71,209.26 L303.57,209.43 L303.39,209.57 L303.20,209.67 L302.98,209.74 L302.77,209.78 L302.56,209.81 L302.36,209.83 L302.16,209.87 L301.96,209.90 L301.75,209.94 L301.53,209.96 L301.31,209.96 L301.09,209.92 L300.89,209.83 L300.71,209.70 L300.56,209.54 L300.43,209.35 L300.33,209.16 L300.24,208.97 L300.15,208.79 L300.06,208.61 L299.96,208.43 L299.87,208.24 L299.78,208.04 L299.72,207.82 L299.70,207.60 L299.73,207.38 L299.81,207.17 L299.92,206.98 L300.06,206.81 L300.22,206.66 L300.37,206.52 L300.51,206.38 L300.65,206.23 L300.80,206.08 L300.95,205.93 L301.12,205.79 L301.31,205.67 L301.52,205.60 L301.74,205.57 L301.96,205.58 L302.18,205.64 L302.38,205.73 L302.57,205.82 L302.75,205.92 L302.93,206.02 L303.11,206.11 L303.30,206.20 L303.49,206.30 L303.67,206.42 L303.83,206.57 L303.96,206.75 L304.05,206.96 L304.10,207.18 L304.10,207.40 L304.08,207.62 Z" fill="#6a58a8" filter="url(#b1)" opacity="0.85"/>
<path d="M292.43,209.50 L292.32,210.07 L292.18,210.63 L292.05,211.18 L291.90,211.74 L291.73,212.30 L291.52,212.85 L291.24,213.39 L290.88,213.88 L290.44,214.30 L289.93,214.64 L289.38,214.89 L288.80,215.05 L288.22,215.15 L287.64,215.22 L287.07,215.26 L286.50,215.30 L285.93,215.33 L285.34,215.34 L284.74,215.29 L284.15,215.17 L283.58,214.97 L283.05,214.66 L282.59,214.27 L282.19,213.81 L281.87,213.30 L281.60,212.77 L281.37,212.24 L281.15,211.72 L280.94,211.19 L280.74,210.65 L280.56,210.09 L280.43,209.50 L280.37,208.90 L280.42,208.29 L280.56,207.70 L280.81,207.14 L281.15,206.64 L281.54,206.18 L281.96,205.77 L282.39,205.39 L282.83,205.02 L283.27,204.66 L283.72,204.30 L284.21,203.96 L284.73,203.67 L285.30,203.45 L285.89,203.32 L286.50,203.30 L287.10,203.39 L287.68,203.57 L288.23,203.81 L288.74,204.09 L289.23,204.38 L289.72,204.68 L290.20,204.99 L290.68,205.32 L291.15,205.69 L291.58,206.11 L291.95,206.59 L292.24,207.12 L292.42,207.70 L292.51,208.31 L292.50,208.91 Z" fill="#3d4aa8" filter="url(#bc)"/>
<path d="M289.86,209.69 L289.87,210.09 L289.85,210.50 L289.81,210.91 L289.73,211.33 L289.60,211.74 L289.44,212.14 L289.22,212.52 L288.95,212.88 L288.64,213.20 L288.29,213.47 L287.90,213.68 L287.48,213.84 L287.05,213.94 L286.62,213.99 L286.18,213.99 L285.76,213.94 L285.35,213.86 L284.95,213.75 L284.57,213.62 L284.19,213.47 L283.83,213.30 L283.47,213.11 L283.12,212.90 L282.78,212.66 L282.46,212.39 L282.15,212.09 L281.88,211.76 L281.64,211.39 L281.45,210.99 L281.31,210.57 L281.24,210.13 L281.22,209.69 L281.27,209.24 L281.38,208.81 L281.54,208.40 L281.74,208.02 L281.98,207.67 L282.25,207.34 L282.54,207.04 L282.85,206.77 L283.16,206.52 L283.49,206.28 L283.82,206.06 L284.18,205.86 L284.54,205.68 L284.93,205.52 L285.34,205.39 L285.76,205.30 L286.20,205.27 L286.64,205.28 L287.07,205.35 L287.50,205.49 L287.90,205.68 L288.27,205.92 L288.61,206.22 L288.89,206.55 L289.14,206.91 L289.34,207.29 L289.50,207.69 L289.62,208.09 L289.72,208.48 L289.79,208.88 L289.83,209.28 Z" fill="#7a5aa8" filter="url(#b1)" opacity="0.85"/>
<ellipse cx="286.51" cy="207.24" rx="1.66" ry="1.15" fill="#2e387e" opacity="0.3" filter="url(#b1)"/>
<ellipse cx="288.97" cy="209.88" rx="1.68" ry="1.43" fill="#2e387e" opacity="0.3" filter="url(#b1)"/>
<ellipse cx="289.41" cy="208.67" rx="0.93" ry="1.73" fill="#2e387e" opacity="0.3" filter="url(#b1)"/>
<path d="M300.67,213.00 L300.55,213.53 L300.43,214.04 L300.31,214.54 L300.21,215.06 L300.08,215.59 L299.90,216.11 L299.65,216.60 L299.30,217.02 L298.88,217.36 L298.41,217.61 L297.92,217.79 L297.43,217.94 L296.96,218.08 L296.48,218.23 L296.00,218.39 L295.50,218.53 L294.98,218.60 L294.45,218.58 L293.94,218.44 L293.47,218.19 L293.05,217.86 L292.66,217.49 L292.31,217.12 L291.95,216.75 L291.58,216.40 L291.21,216.03 L290.86,215.62 L290.56,215.16 L290.35,214.65 L290.25,214.10 L290.25,213.55 L290.33,213.00 L290.45,212.47 L290.57,211.96 L290.69,211.46 L290.79,210.94 L290.92,210.41 L291.10,209.89 L291.35,209.40 L291.70,208.98 L292.12,208.64 L292.59,208.39 L293.08,208.21 L293.57,208.06 L294.04,207.92 L294.52,207.77 L295.00,207.61 L295.50,207.47 L296.02,207.40 L296.55,207.42 L297.06,207.56 L297.53,207.81 L297.95,208.14 L298.34,208.51 L298.69,208.88 L299.05,209.25 L299.42,209.60 L299.79,209.97 L300.14,210.38 L300.44,210.84 L300.65,211.35 L300.75,211.90 L300.75,212.45 Z" fill="#3d4aa8" filter="url(#bc)"/>
<path d="M299.12,213.23 L299.06,213.63 L298.94,214.02 L298.77,214.38 L298.58,214.71 L298.37,215.02 L298.16,215.32 L297.94,215.61 L297.73,215.90 L297.50,216.19 L297.25,216.47 L296.97,216.74 L296.67,216.98 L296.33,217.17 L295.97,217.31 L295.59,217.38 L295.20,217.38 L294.82,217.31 L294.46,217.18 L294.12,217.01 L293.80,216.80 L293.51,216.59 L293.23,216.36 L292.95,216.13 L292.68,215.90 L292.41,215.66 L292.14,215.40 L291.89,215.11 L291.66,214.78 L291.48,214.43 L291.35,214.04 L291.28,213.64 L291.28,213.23 L291.35,212.83 L291.47,212.45 L291.63,212.09 L291.82,211.75 L292.03,211.44 L292.24,211.14 L292.46,210.85 L292.68,210.56 L292.91,210.28 L293.16,209.99 L293.43,209.73 L293.74,209.49 L294.07,209.29 L294.44,209.15 L294.82,209.08 L295.20,209.09 L295.58,209.15 L295.94,209.28 L296.28,209.46 L296.60,209.66 L296.90,209.88 L297.18,210.10 L297.45,210.33 L297.73,210.56 L298.00,210.81 L298.26,211.07 L298.52,211.36 L298.74,211.68 L298.93,212.04 L299.06,212.42 L299.12,212.82 Z" fill="#8a64b0" filter="url(#b1)" opacity="0.85"/>
<ellipse cx="297.64" cy="213.91" rx="1.08" ry="1.63" fill="#2e387e" opacity="0.3" filter="url(#b1)"/>
<ellipse cx="295.96" cy="211.72" rx="1.25" ry="0.99" fill="#2e387e" opacity="0.3" filter="url(#b1)"/>
<ellipse cx="294.34" cy="212.87" rx="1.46" ry="1.19" fill="#2e387e" opacity="0.3" filter="url(#b1)"/>
<path d="M291.91,222.50 L291.99,223.11 L292.00,223.73 L291.91,224.35 L291.72,224.96 L291.41,225.51 L291.01,226.01 L290.55,226.45 L290.04,226.83 L289.51,227.17 L288.99,227.48 L288.46,227.78 L287.92,228.08 L287.37,228.37 L286.78,228.62 L286.15,228.80 L285.50,228.90 L284.84,228.89 L284.19,228.76 L283.58,228.53 L283.01,228.23 L282.48,227.88 L281.99,227.51 L281.52,227.13 L281.05,226.74 L280.59,226.34 L280.14,225.92 L279.71,225.45 L279.35,224.93 L279.07,224.36 L278.91,223.75 L278.85,223.12 L278.91,222.50 L279.05,221.89 L279.25,221.31 L279.47,220.76 L279.70,220.21 L279.95,219.67 L280.20,219.12 L280.50,218.58 L280.85,218.06 L281.27,217.58 L281.77,217.17 L282.33,216.85 L282.95,216.63 L283.59,216.50 L284.24,216.46 L284.88,216.46 L285.50,216.50 L286.11,216.55 L286.73,216.60 L287.35,216.67 L287.99,216.78 L288.61,216.95 L289.21,217.20 L289.77,217.54 L290.25,217.97 L290.64,218.48 L290.94,219.03 L291.18,219.61 L291.36,220.18 L291.51,220.76 L291.66,221.33 L291.79,221.91 Z" fill="#3a50b0" filter="url(#bc)"/>
<path d="M290.45,221.96 L290.41,222.42 L290.24,222.86 L290.00,223.25 L289.72,223.62 L289.45,223.96 L289.22,224.31 L289.02,224.69 L288.81,225.09 L288.57,225.49 L288.25,225.84 L287.85,226.10 L287.40,226.26 L286.91,226.31 L286.43,226.28 L285.97,226.23 L285.53,226.19 L285.09,226.19 L284.64,226.22 L284.17,226.24 L283.68,226.21 L283.21,226.09 L282.80,225.86 L282.46,225.53 L282.20,225.14 L281.99,224.73 L281.81,224.33 L281.62,223.95 L281.39,223.60 L281.13,223.23 L280.88,222.84 L280.69,222.42 L280.61,221.96 L280.65,221.50 L280.82,221.07 L281.06,220.67 L281.34,220.31 L281.61,219.96 L281.84,219.61 L282.04,219.23 L282.25,218.83 L282.49,218.43 L282.81,218.08 L283.21,217.82 L283.66,217.66 L284.15,217.61 L284.63,217.64 L285.09,217.69 L285.53,217.73 L285.97,217.73 L286.42,217.70 L286.89,217.68 L287.38,217.71 L287.85,217.83 L288.26,218.06 L288.60,218.39 L288.86,218.78 L289.07,219.19 L289.25,219.59 L289.44,219.97 L289.67,220.32 L289.93,220.69 L290.18,221.08 L290.37,221.51 Z" fill="#7a5aa8" filter="url(#b1)" opacity="0.85"/>
<ellipse cx="287.44" cy="223.73" rx="1.94" ry="1.06" fill="#2c3c84" opacity="0.3" filter="url(#b1)"/>
<ellipse cx="284.98" cy="220.48" rx="1.26" ry="1.54" fill="#2c3c84" opacity="0.3" filter="url(#b1)"/>
<ellipse cx="287.91" cy="225.06" rx="1.65" ry="1.23" fill="#2c3c84" opacity="0.3" filter="url(#b1)"/>
<path d="M304.19,221.50 L304.21,221.87 L304.14,222.22 L304.01,222.56 L303.82,222.87 L303.61,223.16 L303.39,223.43 L303.19,223.71 L302.99,223.99 L302.77,224.27 L302.53,224.54 L302.25,224.77 L301.93,224.94 L301.57,225.04 L301.21,225.07 L300.85,225.05 L300.50,225.01 L300.16,224.96 L299.82,224.92 L299.47,224.88 L299.12,224.83 L298.77,224.74 L298.43,224.59 L298.14,224.38 L297.89,224.11 L297.70,223.80 L297.55,223.47 L297.42,223.15 L297.29,222.83 L297.15,222.52 L297.01,222.19 L296.89,221.86 L296.81,221.50 L296.79,221.13 L296.86,220.78 L296.99,220.44 L297.18,220.13 L297.39,219.84 L297.61,219.57 L297.81,219.29 L298.01,219.01 L298.23,218.73 L298.47,218.46 L298.75,218.23 L299.07,218.06 L299.43,217.96 L299.79,217.93 L300.15,217.95 L300.50,217.99 L300.84,218.04 L301.18,218.08 L301.53,218.12 L301.88,218.17 L302.23,218.26 L302.57,218.41 L302.86,218.62 L303.11,218.89 L303.30,219.20 L303.45,219.53 L303.58,219.85 L303.71,220.17 L303.85,220.48 L303.99,220.81 L304.11,221.14 Z" fill="#3d3a98" filter="url(#bc)"/>
<path d="M302.66,221.44 L302.58,221.69 L302.49,221.92 L302.39,222.15 L302.31,222.38 L302.23,222.61 L302.15,222.85 L302.05,223.09 L301.92,223.32 L301.76,223.53 L301.55,223.71 L301.32,223.83 L301.06,223.91 L300.80,223.93 L300.53,223.93 L300.28,223.91 L300.04,223.90 L299.80,223.89 L299.55,223.88 L299.30,223.87 L299.04,223.85 L298.78,223.80 L298.53,223.69 L298.31,223.55 L298.12,223.35 L297.98,223.12 L297.88,222.88 L297.80,222.63 L297.74,222.39 L297.69,222.15 L297.62,221.92 L297.55,221.68 L297.48,221.44 L297.42,221.18 L297.40,220.91 L297.43,220.65 L297.52,220.39 L297.66,220.16 L297.84,219.97 L298.04,219.80 L298.25,219.65 L298.47,219.52 L298.67,219.39 L298.87,219.26 L299.08,219.12 L299.29,218.97 L299.52,218.85 L299.77,218.76 L300.04,218.71 L300.30,218.73 L300.56,218.80 L300.80,218.91 L301.02,219.06 L301.22,219.22 L301.41,219.38 L301.60,219.54 L301.79,219.69 L301.99,219.84 L302.19,220.00 L302.38,220.19 L302.53,220.40 L302.65,220.65 L302.70,220.91 L302.71,221.17 Z" fill="#5a4aa0" filter="url(#b1)" opacity="0.85"/>
<ellipse cx="299.51" cy="222.35" rx="0.65" ry="0.76" fill="#2e2c72" opacity="0.3" filter="url(#b1)"/>
<ellipse cx="299.78" cy="221.71" rx="0.61" ry="0.69" fill="#2e2c72" opacity="0.3" filter="url(#b1)"/>
<ellipse cx="300.52" cy="219.85" rx="0.98" ry="0.85" fill="#2e2c72" opacity="0.3" filter="url(#b1)"/>
<path d="M309.60,225.50 L309.62,225.81 L309.62,226.12 L309.60,226.44 L309.53,226.76 L309.42,227.06 L309.25,227.34 L309.04,227.58 L308.79,227.79 L308.52,227.96 L308.24,228.11 L307.96,228.23 L307.68,228.35 L307.40,228.47 L307.11,228.58 L306.81,228.68 L306.50,228.75 L306.18,228.77 L305.85,228.75 L305.54,228.66 L305.25,228.53 L304.98,228.35 L304.74,228.14 L304.52,227.92 L304.31,227.69 L304.11,227.46 L303.91,227.23 L303.72,226.99 L303.54,226.73 L303.38,226.45 L303.27,226.14 L303.20,225.82 L303.20,225.50 L303.25,225.18 L303.35,224.87 L303.47,224.58 L303.62,224.31 L303.77,224.04 L303.93,223.78 L304.09,223.52 L304.26,223.26 L304.46,223.01 L304.69,222.78 L304.94,222.59 L305.23,222.44 L305.54,222.35 L305.86,222.30 L306.19,222.31 L306.50,222.35 L306.80,222.40 L307.10,222.47 L307.40,222.54 L307.70,222.61 L308.00,222.70 L308.29,222.82 L308.58,222.97 L308.84,223.16 L309.06,223.40 L309.24,223.67 L309.36,223.97 L309.45,224.28 L309.51,224.59 L309.54,224.89 L309.57,225.20 Z" fill="#4a48a0" filter="url(#bc)"/>
<path d="M309.11,225.07 L309.04,225.29 L308.99,225.50 L308.97,225.71 L308.95,225.94 L308.91,226.17 L308.84,226.40 L308.73,226.61 L308.56,226.78 L308.35,226.90 L308.13,226.98 L307.91,227.04 L307.69,227.09 L307.49,227.16 L307.29,227.25 L307.08,227.35 L306.85,227.43 L306.62,227.47 L306.38,227.45 L306.16,227.37 L305.96,227.24 L305.78,227.08 L305.62,226.91 L305.47,226.76 L305.30,226.62 L305.12,226.49 L304.93,226.35 L304.76,226.19 L304.62,226.00 L304.54,225.77 L304.51,225.53 L304.54,225.30 L304.60,225.07 L304.66,224.85 L304.71,224.64 L304.74,224.43 L304.76,224.20 L304.80,223.97 L304.86,223.74 L304.98,223.53 L305.15,223.36 L305.35,223.24 L305.58,223.16 L305.80,223.10 L306.02,223.05 L306.22,222.98 L306.42,222.89 L306.63,222.79 L306.85,222.71 L307.09,222.67 L307.33,222.69 L307.55,222.77 L307.75,222.90 L307.93,223.06 L308.08,223.23 L308.24,223.38 L308.41,223.52 L308.59,223.65 L308.77,223.79 L308.95,223.95 L309.09,224.14 L309.17,224.37 L309.19,224.60 L309.16,224.84 Z" fill="#6a58a8" filter="url(#b1)" opacity="0.85"/>
<ellipse cx="307.94" cy="226.25" rx="0.68" ry="0.72" fill="#383678" opacity="0.3" filter="url(#b1)"/>
<ellipse cx="307.03" cy="227.29" rx="0.84" ry="0.78" fill="#383678" opacity="0.3" filter="url(#b1)"/>
<ellipse cx="308.05" cy="226.31" rx="0.66" ry="0.79" fill="#383678" opacity="0.3" filter="url(#b1)"/>
<path d="M315.13,221.50 L315.04,221.85 L314.93,222.18 L314.82,222.51 L314.73,222.84 L314.63,223.17 L314.51,223.51 L314.35,223.84 L314.13,224.13 L313.86,224.37 L313.54,224.56 L313.20,224.68 L312.85,224.77 L312.51,224.84 L312.18,224.91 L311.84,224.99 L311.50,225.07 L311.14,225.13 L310.78,225.13 L310.42,225.07 L310.08,224.93 L309.78,224.72 L309.51,224.48 L309.27,224.22 L309.04,223.96 L308.81,223.71 L308.57,223.46 L308.33,223.19 L308.11,222.90 L307.95,222.58 L307.85,222.23 L307.82,221.86 L307.87,221.50 L307.96,221.15 L308.07,220.82 L308.18,220.49 L308.27,220.16 L308.37,219.83 L308.49,219.49 L308.65,219.16 L308.87,218.87 L309.14,218.63 L309.46,218.44 L309.80,218.32 L310.15,218.23 L310.49,218.16 L310.82,218.09 L311.16,218.01 L311.50,217.93 L311.86,217.87 L312.22,217.87 L312.58,217.93 L312.92,218.07 L313.22,218.28 L313.49,218.52 L313.73,218.78 L313.96,219.04 L314.19,219.29 L314.43,219.54 L314.67,219.81 L314.89,220.10 L315.05,220.42 L315.15,220.77 L315.18,221.14 Z" fill="#3a3a98" filter="url(#bc)"/>
<path d="M314.37,221.85 L314.28,222.10 L314.18,222.34 L314.09,222.57 L314.03,222.80 L313.97,223.05 L313.91,223.30 L313.81,223.55 L313.67,223.78 L313.47,223.96 L313.23,224.08 L312.97,224.15 L312.71,224.19 L312.46,224.22 L312.22,224.26 L311.99,224.33 L311.74,224.41 L311.48,224.47 L311.22,224.50 L310.95,224.46 L310.70,224.36 L310.49,224.20 L310.31,224.00 L310.15,223.79 L310.00,223.60 L309.84,223.42 L309.66,223.25 L309.47,223.07 L309.29,222.87 L309.15,222.64 L309.07,222.39 L309.06,222.12 L309.11,221.85 L309.20,221.60 L309.30,221.37 L309.39,221.14 L309.46,220.91 L309.51,220.66 L309.58,220.41 L309.67,220.16 L309.82,219.93 L310.01,219.75 L310.25,219.63 L310.51,219.56 L310.77,219.52 L311.02,219.49 L311.26,219.45 L311.50,219.38 L311.74,219.30 L312.00,219.24 L312.27,219.21 L312.53,219.24 L312.78,219.35 L312.99,219.51 L313.17,219.71 L313.33,219.92 L313.48,220.11 L313.64,220.29 L313.82,220.46 L314.02,220.64 L314.19,220.84 L314.34,221.07 L314.42,221.32 L314.43,221.59 Z" fill="#5a4aa0" filter="url(#b1)" opacity="0.85"/>
<ellipse cx="312.24" cy="220.87" rx="0.63" ry="0.99" fill="#2c2c72" opacity="0.3" filter="url(#b1)"/>
<ellipse cx="313.06" cy="221.55" rx="0.56" ry="0.85" fill="#2c2c72" opacity="0.3" filter="url(#b1)"/>
<ellipse cx="310.33" cy="220.79" rx="0.69" ry="1.08" fill="#2c2c72" opacity="0.3" filter="url(#b1)"/>
<path d="M322.65,226.00 L322.58,226.40 L322.49,226.79 L322.38,227.18 L322.25,227.55 L322.11,227.93 L321.94,228.30 L321.74,228.66 L321.50,229.00 L321.23,229.32 L320.91,229.60 L320.55,229.83 L320.16,230.01 L319.75,230.13 L319.33,230.18 L318.91,230.19 L318.50,230.15 L318.10,230.08 L317.71,229.99 L317.32,229.88 L316.95,229.75 L316.57,229.61 L316.20,229.44 L315.84,229.24 L315.50,229.00 L315.18,228.73 L314.90,228.41 L314.67,228.05 L314.49,227.66 L314.37,227.25 L314.32,226.83 L314.31,226.41 L314.35,226.00 L314.42,225.60 L314.51,225.21 L314.62,224.82 L314.75,224.45 L314.89,224.07 L315.06,223.70 L315.26,223.34 L315.50,223.00 L315.77,222.68 L316.09,222.40 L316.45,222.17 L316.84,221.99 L317.25,221.87 L317.67,221.82 L318.09,221.81 L318.50,221.85 L318.90,221.92 L319.29,222.01 L319.68,222.12 L320.05,222.25 L320.43,222.39 L320.80,222.56 L321.16,222.76 L321.50,223.00 L321.82,223.27 L322.10,223.59 L322.33,223.95 L322.51,224.34 L322.63,224.75 L322.68,225.17 L322.69,225.59 Z" fill="#3a50b0" filter="url(#bc)"/>
<path d="M321.55,226.13 L321.46,226.42 L321.36,226.70 L321.25,226.96 L321.15,227.23 L321.06,227.50 L320.97,227.78 L320.86,228.06 L320.71,228.33 L320.51,228.58 L320.27,228.78 L319.99,228.92 L319.69,229.00 L319.38,229.03 L319.08,229.03 L318.79,229.01 L318.50,229.00 L318.22,228.99 L317.93,228.99 L317.64,228.98 L317.33,228.96 L317.03,228.89 L316.74,228.77 L316.48,228.59 L316.27,228.36 L316.11,228.09 L315.99,227.81 L315.91,227.52 L315.83,227.24 L315.76,226.96 L315.68,226.69 L315.59,226.42 L315.50,226.13 L315.44,225.83 L315.42,225.52 L315.46,225.21 L315.57,224.91 L315.73,224.65 L315.94,224.42 L316.18,224.22 L316.43,224.06 L316.68,223.90 L316.91,223.75 L317.14,223.58 L317.38,223.41 L317.63,223.25 L317.90,223.10 L318.19,222.99 L318.50,222.95 L318.81,222.97 L319.11,223.06 L319.39,223.20 L319.65,223.37 L319.88,223.56 L320.10,223.74 L320.32,223.91 L320.55,224.08 L320.79,224.26 L321.02,224.45 L321.24,224.67 L321.42,224.92 L321.55,225.21 L321.61,225.51 L321.61,225.82 Z" fill="#6a58a8" filter="url(#b1)" opacity="0.85"/>
<ellipse cx="317.48" cy="226.63" rx="0.77" ry="1.26" fill="#2c3c84" opacity="0.3" filter="url(#b1)"/>
<ellipse cx="319.40" cy="223.83" rx="0.68" ry="1.11" fill="#2c3c84" opacity="0.3" filter="url(#b1)"/>
<ellipse cx="320.09" cy="224.74" rx="0.64" ry="0.91" fill="#2c3c84" opacity="0.3" filter="url(#b1)"/>
<path d="M299.83,230.00 L299.68,230.61 L299.47,231.19 L299.25,231.74 L299.03,232.29 L298.83,232.85 L298.61,233.42 L298.35,233.98 L298.01,234.51 L297.57,234.96 L297.05,235.31 L296.47,235.55 L295.86,235.70 L295.26,235.79 L294.67,235.87 L294.09,235.97 L293.50,236.07 L292.89,236.16 L292.27,236.19 L291.64,236.12 L291.05,235.93 L290.50,235.61 L290.03,235.20 L289.61,234.74 L289.24,234.26 L288.87,233.80 L288.50,233.34 L288.11,232.88 L287.74,232.38 L287.43,231.84 L287.21,231.25 L287.13,230.63 L287.17,230.00 L287.32,229.39 L287.53,228.81 L287.75,228.26 L287.97,227.71 L288.17,227.15 L288.39,226.58 L288.65,226.02 L288.99,225.49 L289.43,225.04 L289.95,224.69 L290.53,224.45 L291.14,224.30 L291.74,224.21 L292.33,224.13 L292.91,224.03 L293.50,223.93 L294.11,223.84 L294.73,223.81 L295.36,223.88 L295.95,224.07 L296.50,224.39 L296.97,224.80 L297.39,225.26 L297.76,225.74 L298.13,226.20 L298.50,226.66 L298.89,227.12 L299.26,227.62 L299.57,228.16 L299.79,228.75 L299.87,229.37 Z" fill="#3a4aa8" filter="url(#bc)"/>
<path d="M298.69,230.84 L298.64,231.30 L298.52,231.75 L298.34,232.16 L298.10,232.55 L297.84,232.90 L297.56,233.23 L297.27,233.54 L296.98,233.84 L296.69,234.13 L296.39,234.43 L296.06,234.71 L295.71,234.98 L295.32,235.21 L294.90,235.39 L294.45,235.51 L293.99,235.54 L293.53,235.50 L293.09,235.38 L292.67,235.19 L292.29,234.96 L291.94,234.69 L291.61,234.41 L291.30,234.12 L291.00,233.84 L290.70,233.54 L290.41,233.24 L290.12,232.91 L289.86,232.56 L289.62,232.17 L289.44,231.75 L289.33,231.30 L289.29,230.84 L289.34,230.39 L289.46,229.94 L289.65,229.53 L289.88,229.14 L290.14,228.79 L290.43,228.46 L290.71,228.15 L291.00,227.85 L291.29,227.56 L291.60,227.26 L291.92,226.98 L292.28,226.71 L292.67,226.48 L293.09,226.29 L293.53,226.18 L293.99,226.15 L294.45,226.19 L294.89,226.31 L295.31,226.50 L295.70,226.73 L296.05,227.00 L296.37,227.28 L296.68,227.56 L296.98,227.85 L297.28,228.15 L297.57,228.45 L297.86,228.78 L298.13,229.13 L298.36,229.52 L298.54,229.94 L298.65,230.38 Z" fill="#6a50a8" filter="url(#b1)" opacity="0.85"/>
<ellipse cx="290.84" cy="229.71" rx="1.35" ry="1.76" fill="#2c387e" opacity="0.3" filter="url(#b1)"/>
<ellipse cx="290.37" cy="228.34" rx="0.94" ry="1.41" fill="#2c387e" opacity="0.3" filter="url(#b1)"/>
<ellipse cx="292.43" cy="228.63" rx="1.01" ry="1.61" fill="#2c387e" opacity="0.3" filter="url(#b1)"/>
<path d="M310.58,236.00 L310.56,236.53 L310.48,237.05 L310.32,237.55 L310.11,238.04 L309.83,238.49 L309.51,238.90 L309.15,239.28 L308.76,239.62 L308.34,239.92 L307.91,240.19 L307.46,240.43 L306.99,240.64 L306.52,240.81 L306.02,240.96 L305.52,241.07 L305.00,241.14 L304.47,241.17 L303.94,241.14 L303.40,241.07 L302.88,240.93 L302.37,240.73 L301.90,240.47 L301.46,240.16 L301.06,239.79 L300.72,239.38 L300.43,238.94 L300.20,238.47 L300.02,237.99 L299.89,237.49 L299.82,236.99 L299.78,236.50 L299.78,236.00 L299.81,235.51 L299.88,235.02 L299.99,234.54 L300.13,234.06 L300.31,233.58 L300.53,233.13 L300.80,232.68 L301.12,232.27 L301.49,231.89 L301.91,231.55 L302.37,231.26 L302.86,231.03 L303.38,230.86 L303.92,230.76 L304.46,230.72 L305.00,230.74 L305.53,230.82 L306.04,230.94 L306.54,231.11 L307.01,231.32 L307.46,231.56 L307.90,231.83 L308.31,232.12 L308.70,232.44 L309.07,232.79 L309.41,233.16 L309.72,233.57 L310.00,234.01 L310.23,234.47 L310.41,234.96 L310.53,235.48 Z" fill="#3d4aa8" filter="url(#bc)"/>
<path d="M308.84,236.06 L308.87,236.44 L308.83,236.83 L308.73,237.20 L308.56,237.55 L308.34,237.87 L308.07,238.15 L307.78,238.40 L307.48,238.62 L307.18,238.82 L306.87,239.01 L306.56,239.19 L306.25,239.37 L305.92,239.55 L305.58,239.71 L305.21,239.84 L304.82,239.92 L304.42,239.95 L304.02,239.92 L303.64,239.82 L303.27,239.66 L302.94,239.44 L302.65,239.19 L302.39,238.91 L302.16,238.62 L301.95,238.32 L301.76,238.03 L301.57,237.73 L301.38,237.43 L301.20,237.12 L301.03,236.78 L300.90,236.43 L300.81,236.06 L300.78,235.67 L300.81,235.29 L300.91,234.92 L301.08,234.57 L301.31,234.25 L301.57,233.96 L301.86,233.72 L302.16,233.50 L302.47,233.30 L302.77,233.11 L303.08,232.92 L303.40,232.74 L303.72,232.57 L304.07,232.41 L304.44,232.28 L304.82,232.19 L305.22,232.16 L305.62,232.19 L306.01,232.29 L306.37,232.46 L306.70,232.67 L307.00,232.93 L307.25,233.21 L307.48,233.50 L307.69,233.79 L307.89,234.09 L308.08,234.38 L308.27,234.68 L308.45,235.00 L308.61,235.33 L308.75,235.69 Z" fill="#8a64b0" filter="url(#b1)" opacity="0.85"/>
<ellipse cx="306.42" cy="237.85" rx="1.31" ry="1.48" fill="#2e387e" opacity="0.3" filter="url(#b1)"/>
<ellipse cx="306.13" cy="237.18" rx="0.86" ry="0.94" fill="#2e387e" opacity="0.3" filter="url(#b1)"/>
<ellipse cx="303.37" cy="238.24" rx="1.56" ry="1.19" fill="#2e387e" opacity="0.3" filter="url(#b1)"/>
<path d="M303.04,241.00 L302.96,241.57 L302.88,242.13 L302.78,242.70 L302.67,243.27 L302.50,243.85 L302.27,244.41 L301.95,244.93 L301.54,245.39 L301.05,245.77 L300.50,246.07 L299.92,246.30 L299.33,246.46 L298.75,246.58 L298.17,246.68 L297.59,246.78 L297.00,246.86 L296.40,246.93 L295.78,246.94 L295.16,246.88 L294.55,246.73 L293.98,246.47 L293.46,246.13 L293.01,245.70 L292.63,245.23 L292.30,244.73 L292.00,244.23 L291.72,243.73 L291.45,243.22 L291.19,242.71 L290.94,242.17 L290.75,241.60 L290.64,241.00 L290.62,240.39 L290.71,239.79 L290.92,239.21 L291.21,238.68 L291.57,238.19 L291.96,237.74 L292.36,237.32 L292.77,236.91 L293.18,236.50 L293.61,236.10 L294.08,235.71 L294.59,235.37 L295.15,235.09 L295.75,234.91 L296.37,234.83 L297.00,234.86 L297.61,234.98 L298.20,235.17 L298.76,235.40 L299.29,235.64 L299.82,235.89 L300.35,236.15 L300.88,236.43 L301.40,236.75 L301.88,237.12 L302.31,237.56 L302.66,238.07 L302.91,238.63 L303.05,239.22 L303.11,239.82 L303.09,240.42 Z" fill="#4a4aa8" filter="url(#bc)"/>
<path d="M301.99,241.39 L302.04,241.81 L302.04,242.25 L301.99,242.68 L301.88,243.11 L301.71,243.53 L301.49,243.91 L301.21,244.27 L300.88,244.58 L300.51,244.84 L300.11,245.06 L299.70,245.22 L299.27,245.34 L298.85,245.42 L298.42,245.47 L298.00,245.49 L297.58,245.49 L297.17,245.46 L296.75,245.42 L296.34,245.35 L295.92,245.26 L295.51,245.14 L295.10,244.98 L294.71,244.77 L294.34,244.53 L293.99,244.24 L293.69,243.90 L293.44,243.53 L293.24,243.13 L293.11,242.70 L293.04,242.26 L293.02,241.82 L293.07,241.39 L293.16,240.97 L293.29,240.56 L293.45,240.17 L293.63,239.81 L293.84,239.45 L294.06,239.11 L294.30,238.79 L294.56,238.47 L294.85,238.16 L295.15,237.87 L295.49,237.60 L295.86,237.36 L296.25,237.16 L296.68,237.00 L297.12,236.89 L297.58,236.85 L298.04,236.86 L298.49,236.94 L298.93,237.08 L299.34,237.28 L299.72,237.52 L300.06,237.79 L300.37,238.10 L300.65,238.42 L300.89,238.76 L301.11,239.10 L301.31,239.46 L301.49,239.82 L301.65,240.19 L301.79,240.58 L301.91,240.98 Z" fill="#9a70b8" filter="url(#b1)" opacity="0.85"/>
<ellipse cx="294.36" cy="240.38" rx="1.45" ry="1.06" fill="#38387e" opacity="0.3" filter="url(#b1)"/>
<ellipse cx="294.80" cy="243.69" rx="0.95" ry="1.15" fill="#38387e" opacity="0.3" filter="url(#b1)"/>
<ellipse cx="298.76" cy="241.75" rx="1.27" ry="1.00" fill="#38387e" opacity="0.3" filter="url(#b1)"/>
<path d="M317.98,242.00 L317.96,242.57 L317.89,243.13 L317.78,243.70 L317.63,244.26 L317.43,244.81 L317.17,245.34 L316.86,245.86 L316.48,246.34 L316.05,246.77 L315.56,247.16 L315.02,247.48 L314.45,247.73 L313.85,247.91 L313.24,248.02 L312.62,248.05 L312.00,248.02 L311.40,247.93 L310.81,247.79 L310.24,247.60 L309.70,247.37 L309.18,247.11 L308.68,246.81 L308.19,246.49 L307.74,246.13 L307.30,245.73 L306.90,245.30 L306.53,244.83 L306.22,244.32 L305.95,243.78 L305.76,243.20 L305.63,242.61 L305.58,242.00 L305.62,241.39 L305.73,240.79 L305.92,240.21 L306.18,239.67 L306.49,239.15 L306.86,238.68 L307.27,238.24 L307.71,237.85 L308.18,237.50 L308.67,237.18 L309.18,236.89 L309.71,236.64 L310.25,236.43 L310.82,236.25 L311.40,236.11 L312.00,236.02 L312.61,235.99 L313.23,236.02 L313.84,236.12 L314.45,236.29 L315.02,236.53 L315.56,236.84 L316.06,237.21 L316.50,237.64 L316.89,238.12 L317.21,238.63 L317.47,239.17 L317.67,239.73 L317.82,240.29 L317.92,240.86 L317.97,241.43 Z" fill="#4a4aa8" filter="url(#bc)"/>
<path d="M316.37,242.12 L316.23,242.55 L316.03,242.95 L315.82,243.32 L315.63,243.69 L315.48,244.06 L315.35,244.46 L315.20,244.88 L314.99,245.28 L314.70,245.63 L314.33,245.89 L313.90,246.05 L313.44,246.13 L312.99,246.15 L312.56,246.16 L312.14,246.19 L311.72,246.27 L311.29,246.36 L310.84,246.42 L310.38,246.42 L309.93,246.32 L309.52,246.10 L309.18,245.80 L308.91,245.44 L308.67,245.07 L308.45,244.72 L308.20,244.40 L307.92,244.09 L307.62,243.77 L307.34,243.41 L307.14,243.00 L307.05,242.56 L307.08,242.12 L307.22,241.69 L307.42,241.29 L307.63,240.92 L307.82,240.55 L307.97,240.18 L308.10,239.78 L308.25,239.36 L308.46,238.96 L308.75,238.61 L309.12,238.35 L309.55,238.18 L310.01,238.11 L310.46,238.09 L310.89,238.08 L311.31,238.04 L311.72,237.97 L312.16,237.88 L312.61,237.82 L313.07,237.82 L313.52,237.92 L313.93,238.13 L314.26,238.44 L314.54,238.80 L314.77,239.17 L315.00,239.52 L315.25,239.84 L315.53,240.15 L315.83,240.47 L316.10,240.83 L316.31,241.24 L316.40,241.67 Z" fill="#9068b0" filter="url(#b1)" opacity="0.85"/>
<ellipse cx="310.50" cy="241.88" rx="1.81" ry="1.01" fill="#38387e" opacity="0.3" filter="url(#b1)"/>
<ellipse cx="314.31" cy="240.89" rx="1.83" ry="1.16" fill="#38387e" opacity="0.3" filter="url(#b1)"/>
<ellipse cx="314.77" cy="241.55" rx="1.38" ry="0.97" fill="#38387e" opacity="0.3" filter="url(#b1)"/>
<path d="M324.85,235.00 L324.80,235.42 L324.68,235.83 L324.49,236.21 L324.29,236.57 L324.08,236.91 L323.88,237.26 L323.68,237.61 L323.47,237.97 L323.22,238.31 L322.91,238.60 L322.55,238.83 L322.15,238.98 L321.73,239.05 L321.31,239.07 L320.90,239.06 L320.50,239.05 L320.10,239.06 L319.69,239.06 L319.27,239.05 L318.85,238.98 L318.45,238.83 L318.09,238.61 L317.78,238.31 L317.53,237.97 L317.32,237.61 L317.12,237.26 L316.92,236.91 L316.72,236.57 L316.51,236.21 L316.33,235.83 L316.20,235.42 L316.15,235.00 L316.20,234.58 L316.32,234.17 L316.51,233.79 L316.71,233.43 L316.92,233.09 L317.12,232.74 L317.32,232.39 L317.53,232.03 L317.78,231.69 L318.09,231.40 L318.45,231.17 L318.85,231.02 L319.27,230.95 L319.69,230.93 L320.10,230.94 L320.50,230.95 L320.90,230.94 L321.31,230.94 L321.73,230.95 L322.15,231.02 L322.55,231.17 L322.91,231.39 L323.22,231.69 L323.47,232.03 L323.68,232.39 L323.88,232.74 L324.08,233.09 L324.28,233.43 L324.49,233.79 L324.67,234.17 L324.80,234.58 Z" fill="#3a50b0" filter="url(#bc)"/>
<path d="M323.69,235.50 L323.60,235.79 L323.51,236.06 L323.43,236.33 L323.35,236.61 L323.28,236.89 L323.19,237.18 L323.07,237.46 L322.91,237.73 L322.70,237.96 L322.45,238.14 L322.16,238.26 L321.86,238.33 L321.55,238.36 L321.25,238.36 L320.97,238.36 L320.69,238.37 L320.40,238.38 L320.11,238.40 L319.81,238.40 L319.50,238.37 L319.20,238.29 L318.92,238.15 L318.68,237.95 L318.48,237.71 L318.33,237.44 L318.21,237.15 L318.12,236.87 L318.03,236.60 L317.94,236.34 L317.84,236.07 L317.73,235.79 L317.64,235.50 L317.58,235.20 L317.58,234.88 L317.64,234.58 L317.76,234.29 L317.94,234.04 L318.16,233.82 L318.40,233.63 L318.64,233.45 L318.87,233.29 L319.09,233.11 L319.31,232.93 L319.54,232.75 L319.80,232.57 L320.07,232.43 L320.37,232.34 L320.69,232.32 L320.99,232.36 L321.29,232.47 L321.56,232.61 L321.81,232.78 L322.05,232.95 L322.28,233.12 L322.51,233.28 L322.76,233.43 L323.00,233.60 L323.24,233.79 L323.45,234.02 L323.62,234.29 L323.73,234.58 L323.77,234.89 L323.75,235.20 Z" fill="#5a58a8" filter="url(#b1)" opacity="0.85"/>
<ellipse cx="318.61" cy="235.66" rx="0.78" ry="0.94" fill="#2c3c84" opacity="0.3" filter="url(#b1)"/>
<ellipse cx="319.25" cy="234.13" rx="1.14" ry="0.97" fill="#2c3c84" opacity="0.3" filter="url(#b1)"/>
<ellipse cx="321.52" cy="235.16" rx="1.20" ry="0.92" fill="#2c3c84" opacity="0.3" filter="url(#b1)"/>
<path d="M335.26,235.00 L335.15,235.71 L334.96,236.41 L334.71,237.07 L334.39,237.71 L334.03,238.31 L333.62,238.87 L333.17,239.41 L332.69,239.92 L332.17,240.39 L331.61,240.83 L331.02,241.24 L330.38,241.60 L329.71,241.90 L329.00,242.15 L328.26,242.32 L327.50,242.40 L326.73,242.40 L325.97,242.31 L325.22,242.12 L324.50,241.85 L323.83,241.50 L323.22,241.07 L322.66,240.59 L322.16,240.06 L321.71,239.50 L321.33,238.91 L321.00,238.29 L320.72,237.66 L320.48,237.02 L320.29,236.36 L320.15,235.69 L320.06,235.00 L320.02,234.30 L320.06,233.60 L320.16,232.89 L320.35,232.19 L320.62,231.52 L320.98,230.87 L321.42,230.27 L321.94,229.73 L322.53,229.26 L323.17,228.86 L323.85,228.54 L324.57,228.29 L325.30,228.12 L326.04,228.02 L326.77,227.99 L327.50,228.00 L328.22,228.07 L328.93,228.19 L329.63,228.34 L330.32,228.55 L331.00,228.80 L331.66,229.10 L332.30,229.46 L332.90,229.88 L333.46,230.36 L333.97,230.90 L334.40,231.50 L334.76,232.15 L335.03,232.84 L335.20,233.55 L335.27,234.27 Z" fill="#3d4aa8" filter="url(#bc)"/>
<path d="M333.26,235.92 L333.25,236.45 L333.10,236.97 L332.82,237.44 L332.49,237.86 L332.14,238.25 L331.83,238.64 L331.56,239.06 L331.31,239.50 L331.02,239.96 L330.67,240.38 L330.23,240.72 L329.72,240.94 L329.16,241.03 L328.59,241.01 L328.04,240.93 L327.52,240.85 L327.01,240.81 L326.50,240.80 L325.95,240.81 L325.39,240.79 L324.83,240.68 L324.32,240.45 L323.90,240.10 L323.57,239.66 L323.33,239.18 L323.14,238.69 L322.94,238.23 L322.72,237.80 L322.45,237.37 L322.17,236.92 L321.93,236.44 L321.79,235.92 L321.79,235.38 L321.95,234.86 L322.22,234.39 L322.56,233.97 L322.90,233.58 L323.21,233.19 L323.48,232.77 L323.74,232.33 L324.02,231.87 L324.37,231.45 L324.81,231.11 L325.33,230.89 L325.89,230.80 L326.45,230.82 L327.00,230.90 L327.52,230.98 L328.03,231.02 L328.55,231.03 L329.09,231.02 L329.66,231.04 L330.21,231.15 L330.72,231.38 L331.15,231.73 L331.48,232.17 L331.72,232.65 L331.91,233.14 L332.10,233.60 L332.33,234.03 L332.60,234.46 L332.88,234.91 L333.12,235.39 Z" fill="#8a64b0" filter="url(#b1)" opacity="0.85"/>
<ellipse cx="331.63" cy="234.70" rx="1.51" ry="1.33" fill="#2e387e" opacity="0.3" filter="url(#b1)"/>
<ellipse cx="325.72" cy="237.77" rx="1.90" ry="1.09" fill="#2e387e" opacity="0.3" filter="url(#b1)"/>
<ellipse cx="330.97" cy="237.43" rx="1.28" ry="1.37" fill="#2e387e" opacity="0.3" filter="url(#b1)"/>
<path d="M329.62,244.50 L329.65,245.03 L329.58,245.55 L329.42,246.05 L329.17,246.52 L328.85,246.95 L328.50,247.34 L328.13,247.70 L327.75,248.05 L327.38,248.39 L326.99,248.73 L326.58,249.05 L326.13,249.35 L325.64,249.60 L325.11,249.77 L324.56,249.85 L324.00,249.84 L323.45,249.74 L322.93,249.58 L322.43,249.38 L321.96,249.16 L321.50,248.93 L321.04,248.69 L320.58,248.44 L320.12,248.16 L319.69,247.84 L319.30,247.47 L318.98,247.04 L318.75,246.56 L318.61,246.05 L318.55,245.52 L318.56,245.01 L318.62,244.50 L318.70,244.01 L318.79,243.52 L318.89,243.03 L319.00,242.54 L319.15,242.05 L319.35,241.56 L319.62,241.11 L319.98,240.69 L320.40,240.35 L320.88,240.08 L321.39,239.88 L321.92,239.74 L322.44,239.65 L322.96,239.57 L323.48,239.50 L324.00,239.44 L324.53,239.39 L325.08,239.38 L325.63,239.43 L326.17,239.55 L326.68,239.75 L327.15,240.04 L327.56,240.40 L327.90,240.81 L328.19,241.25 L328.45,241.69 L328.68,242.13 L328.91,242.58 L329.13,243.03 L329.34,243.50 L329.51,243.99 Z" fill="#4a4aa8" filter="url(#bc)"/>
<path d="M327.89,243.83 L327.85,244.18 L327.80,244.52 L327.72,244.87 L327.63,245.21 L327.51,245.55 L327.36,245.88 L327.18,246.21 L326.96,246.52 L326.70,246.81 L326.41,247.07 L326.07,247.30 L325.71,247.47 L325.32,247.60 L324.92,247.67 L324.52,247.69 L324.12,247.66 L323.72,247.59 L323.35,247.48 L322.99,247.34 L322.65,247.17 L322.33,246.99 L322.03,246.79 L321.74,246.57 L321.46,246.35 L321.19,246.11 L320.93,245.85 L320.69,245.56 L320.47,245.26 L320.28,244.93 L320.13,244.58 L320.02,244.21 L319.97,243.83 L319.97,243.45 L320.03,243.06 L320.15,242.69 L320.31,242.34 L320.53,242.02 L320.78,241.72 L321.06,241.46 L321.36,241.23 L321.68,241.03 L322.01,240.85 L322.34,240.69 L322.68,240.55 L323.03,240.43 L323.38,240.33 L323.74,240.24 L324.12,240.17 L324.50,240.14 L324.89,240.13 L325.29,240.17 L325.68,240.25 L326.07,240.38 L326.43,240.56 L326.76,240.79 L327.06,241.05 L327.31,241.35 L327.51,241.68 L327.67,242.03 L327.79,242.39 L327.86,242.76 L327.90,243.12 L327.91,243.48 Z" fill="#9a70b8" filter="url(#b1)" opacity="0.85"/>
<ellipse cx="322.69" cy="244.46" rx="1.64" ry="1.33" fill="#38387e" opacity="0.3" filter="url(#b1)"/>
<ellipse cx="325.60" cy="243.52" rx="1.39" ry="1.20" fill="#38387e" opacity="0.3" filter="url(#b1)"/>
<ellipse cx="322.57" cy="244.84" rx="1.04" ry="1.32" fill="#38387e" opacity="0.3" filter="url(#b1)"/>
<path d="M337.40,243.00 L337.42,243.39 L337.42,243.78 L337.38,244.18 L337.29,244.57 L337.14,244.95 L336.94,245.30 L336.69,245.62 L336.40,245.90 L336.07,246.14 L335.72,246.33 L335.36,246.48 L334.99,246.61 L334.62,246.71 L334.25,246.79 L333.88,246.85 L333.50,246.90 L333.11,246.92 L332.72,246.92 L332.32,246.88 L331.93,246.79 L331.55,246.64 L331.20,246.44 L330.88,246.19 L330.60,245.90 L330.36,245.57 L330.17,245.22 L330.02,244.86 L329.89,244.49 L329.79,244.12 L329.71,243.75 L329.65,243.38 L329.60,243.00 L329.58,242.61 L329.58,242.22 L329.62,241.82 L329.71,241.43 L329.86,241.05 L330.06,240.70 L330.31,240.38 L330.60,240.10 L330.93,239.86 L331.28,239.67 L331.64,239.52 L332.01,239.39 L332.38,239.29 L332.75,239.21 L333.12,239.15 L333.50,239.10 L333.89,239.08 L334.28,239.08 L334.68,239.12 L335.07,239.21 L335.45,239.36 L335.80,239.56 L336.12,239.81 L336.40,240.10 L336.64,240.43 L336.83,240.78 L336.98,241.14 L337.11,241.51 L337.21,241.88 L337.29,242.25 L337.35,242.62 Z" fill="#3a50b0" filter="url(#bc)"/>
<path d="M336.26,242.46 L336.30,242.74 L336.32,243.03 L336.30,243.32 L336.24,243.61 L336.13,243.89 L335.98,244.14 L335.79,244.37 L335.56,244.55 L335.31,244.71 L335.05,244.83 L334.78,244.92 L334.52,245.00 L334.26,245.07 L334.00,245.14 L333.73,245.20 L333.46,245.25 L333.18,245.29 L332.90,245.31 L332.60,245.29 L332.31,245.23 L332.04,245.13 L331.78,244.98 L331.56,244.78 L331.37,244.55 L331.21,244.30 L331.09,244.04 L331.00,243.78 L330.92,243.51 L330.85,243.25 L330.78,242.99 L330.72,242.73 L330.67,242.46 L330.63,242.18 L330.61,241.89 L330.63,241.60 L330.69,241.31 L330.79,241.03 L330.94,240.78 L331.14,240.55 L331.37,240.36 L331.62,240.21 L331.88,240.09 L332.14,239.99 L332.41,239.91 L332.67,239.84 L332.93,239.78 L333.19,239.72 L333.46,239.66 L333.74,239.62 L334.03,239.61 L334.32,239.62 L334.61,239.68 L334.89,239.79 L335.14,239.94 L335.37,240.13 L335.56,240.36 L335.71,240.61 L335.83,240.87 L335.93,241.14 L336.01,241.40 L336.08,241.67 L336.14,241.93 L336.20,242.19 Z" fill="#6a58a8" filter="url(#b1)" opacity="0.85"/>
<ellipse cx="334.65" cy="243.31" rx="1.02" ry="1.12" fill="#2c3c84" opacity="0.3" filter="url(#b1)"/>
<ellipse cx="335.59" cy="242.05" rx="0.85" ry="0.82" fill="#2c3c84" opacity="0.3" filter="url(#b1)"/>
<ellipse cx="332.71" cy="243.86" rx="0.83" ry="1.07" fill="#2c3c84" opacity="0.3" filter="url(#b1)"/>
<path d="M308.86,250.50 L308.85,251.03 L308.78,251.55 L308.63,252.06 L308.43,252.54 L308.17,253.00 L307.86,253.41 L307.51,253.79 L307.14,254.14 L306.73,254.44 L306.31,254.70 L305.87,254.94 L305.42,255.14 L304.96,255.31 L304.48,255.45 L304.00,255.55 L303.50,255.62 L302.99,255.65 L302.48,255.62 L301.97,255.55 L301.46,255.42 L300.98,255.22 L300.51,254.97 L300.09,254.66 L299.70,254.30 L299.37,253.89 L299.08,253.45 L298.86,252.98 L298.69,252.49 L298.56,252.00 L298.49,251.50 L298.46,251.00 L298.46,250.50 L298.50,250.01 L298.58,249.52 L298.68,249.04 L298.82,248.56 L299.00,248.09 L299.21,247.64 L299.48,247.20 L299.78,246.78 L300.13,246.40 L300.53,246.06 L300.97,245.76 L301.44,245.53 L301.94,245.35 L302.45,245.25 L302.98,245.20 L303.50,245.22 L304.01,245.30 L304.51,245.42 L304.99,245.60 L305.44,245.81 L305.88,246.05 L306.29,246.32 L306.68,246.62 L307.06,246.94 L307.41,247.29 L307.73,247.67 L308.03,248.08 L308.29,248.51 L308.52,248.98 L308.69,249.47 L308.81,249.98 Z" fill="#4a4aa8" filter="url(#bc)"/>
<path d="M308.00,249.79 L308.00,250.17 L307.91,250.55 L307.73,250.89 L307.50,251.20 L307.26,251.48 L307.03,251.76 L306.84,252.05 L306.66,252.36 L306.46,252.69 L306.23,253.00 L305.94,253.25 L305.59,253.42 L305.21,253.50 L304.82,253.49 L304.44,253.43 L304.08,253.36 L303.74,253.32 L303.38,253.30 L303.01,253.31 L302.63,253.29 L302.25,253.22 L301.89,253.06 L301.60,252.82 L301.36,252.51 L301.20,252.16 L301.07,251.80 L300.94,251.46 L300.80,251.15 L300.63,250.84 L300.44,250.51 L300.27,250.16 L300.17,249.79 L300.16,249.40 L300.26,249.03 L300.44,248.68 L300.67,248.37 L300.91,248.09 L301.13,247.82 L301.33,247.52 L301.51,247.21 L301.70,246.88 L301.94,246.58 L302.23,246.32 L302.58,246.15 L302.96,246.08 L303.35,246.09 L303.72,246.15 L304.08,246.21 L304.43,246.26 L304.78,246.27 L305.15,246.27 L305.53,246.28 L305.92,246.36 L306.27,246.51 L306.57,246.76 L306.80,247.07 L306.97,247.42 L307.10,247.77 L307.22,248.11 L307.37,248.43 L307.54,248.74 L307.73,249.06 L307.89,249.41 Z" fill="#8a64b0" filter="url(#b1)" opacity="0.85"/>
<ellipse cx="303.39" cy="251.64" rx="1.33" ry="0.78" fill="#38387e" opacity="0.3" filter="url(#b1)"/>
<ellipse cx="305.11" cy="248.77" rx="1.42" ry="1.28" fill="#38387e" opacity="0.3" filter="url(#b1)"/>
<ellipse cx="304.47" cy="249.87" rx="1.39" ry="1.25" fill="#38387e" opacity="0.3" filter="url(#b1)"/>
<path d="M315.86,252.00 L315.80,252.44 L315.74,252.87 L315.67,253.30 L315.57,253.74 L315.44,254.18 L315.25,254.61 L314.99,255.01 L314.66,255.37 L314.26,255.66 L313.82,255.89 L313.36,256.06 L312.88,256.18 L312.41,256.27 L311.94,256.35 L311.47,256.43 L311.00,256.50 L310.51,256.55 L310.01,256.56 L309.51,256.51 L309.02,256.39 L308.56,256.20 L308.15,255.93 L307.79,255.60 L307.48,255.24 L307.21,254.86 L306.97,254.48 L306.74,254.09 L306.52,253.71 L306.31,253.31 L306.11,252.89 L305.96,252.46 L305.86,252.00 L305.85,251.53 L305.93,251.07 L306.10,250.63 L306.33,250.22 L306.62,249.85 L306.94,249.50 L307.26,249.18 L307.59,248.86 L307.92,248.55 L308.27,248.24 L308.64,247.94 L309.05,247.68 L309.51,247.47 L309.99,247.33 L310.49,247.27 L311.00,247.30 L311.49,247.39 L311.97,247.54 L312.42,247.71 L312.85,247.89 L313.28,248.08 L313.70,248.28 L314.13,248.49 L314.55,248.74 L314.94,249.02 L315.29,249.37 L315.56,249.76 L315.76,250.19 L315.88,250.64 L315.92,251.10 L315.91,251.56 Z" fill="#3d4aa8" filter="url(#bc)"/>
<path d="M314.15,251.35 L314.20,251.67 L314.22,252.01 L314.18,252.35 L314.09,252.68 L313.94,252.99 L313.73,253.27 L313.47,253.52 L313.18,253.72 L312.86,253.89 L312.54,254.03 L312.22,254.15 L311.90,254.25 L311.59,254.35 L311.27,254.45 L310.94,254.54 L310.60,254.61 L310.24,254.66 L309.87,254.68 L309.51,254.65 L309.15,254.56 L308.81,254.42 L308.50,254.23 L308.24,253.99 L308.01,253.72 L307.83,253.43 L307.68,253.14 L307.55,252.84 L307.44,252.55 L307.33,252.26 L307.23,251.96 L307.13,251.66 L307.05,251.35 L306.99,251.02 L306.97,250.68 L307.01,250.35 L307.10,250.01 L307.26,249.70 L307.47,249.42 L307.72,249.18 L308.01,248.97 L308.33,248.80 L308.65,248.66 L308.97,248.55 L309.29,248.44 L309.60,248.34 L309.93,248.25 L310.25,248.16 L310.60,248.08 L310.95,248.03 L311.32,248.01 L311.68,248.05 L312.04,248.13 L312.38,248.27 L312.69,248.47 L312.95,248.70 L313.18,248.97 L313.36,249.26 L313.51,249.55 L313.64,249.85 L313.75,250.14 L313.86,250.44 L313.97,250.73 L314.06,251.03 Z" fill="#7a5aa8" filter="url(#b1)" opacity="0.85"/>
<ellipse cx="308.81" cy="253.83" rx="0.78" ry="1.26" fill="#2e387e" opacity="0.3" filter="url(#b1)"/>
<ellipse cx="310.05" cy="253.73" rx="1.36" ry="1.35" fill="#2e387e" opacity="0.3" filter="url(#b1)"/>
<ellipse cx="308.47" cy="251.84" rx="0.77" ry="0.79" fill="#2e387e" opacity="0.3" filter="url(#b1)"/>
<path d="M321.61,250.00 L321.62,250.41 L321.54,250.80 L321.39,251.18 L321.18,251.52 L320.95,251.84 L320.71,252.15 L320.49,252.45 L320.27,252.77 L320.03,253.08 L319.76,253.38 L319.44,253.64 L319.08,253.82 L318.69,253.93 L318.29,253.96 L317.89,253.94 L317.50,253.89 L317.12,253.84 L316.74,253.80 L316.36,253.77 L315.96,253.71 L315.57,253.61 L315.20,253.44 L314.88,253.19 L314.61,252.89 L314.40,252.54 L314.23,252.18 L314.08,251.83 L313.93,251.48 L313.77,251.13 L313.61,250.77 L313.48,250.40 L313.39,250.00 L313.38,249.59 L313.46,249.20 L313.61,248.82 L313.82,248.48 L314.05,248.16 L314.29,247.85 L314.51,247.55 L314.73,247.23 L314.97,246.92 L315.24,246.62 L315.56,246.36 L315.92,246.18 L316.31,246.07 L316.71,246.04 L317.11,246.06 L317.50,246.11 L317.88,246.16 L318.26,246.20 L318.64,246.23 L319.04,246.29 L319.43,246.39 L319.80,246.56 L320.12,246.81 L320.39,247.11 L320.60,247.46 L320.77,247.82 L320.92,248.17 L321.07,248.52 L321.23,248.87 L321.39,249.23 L321.52,249.60 Z" fill="#3a50b0" filter="url(#bc)"/>
<path d="M320.43,249.50 L320.49,249.79 L320.52,250.08 L320.50,250.38 L320.42,250.66 L320.28,250.93 L320.09,251.16 L319.87,251.35 L319.62,251.51 L319.38,251.65 L319.14,251.78 L318.91,251.91 L318.68,252.06 L318.44,252.21 L318.18,252.35 L317.91,252.46 L317.62,252.52 L317.32,252.52 L317.03,252.46 L316.76,252.34 L316.51,252.18 L316.29,251.99 L316.08,251.80 L315.89,251.62 L315.68,251.44 L315.47,251.27 L315.26,251.08 L315.05,250.88 L314.87,250.64 L314.73,250.38 L314.65,250.10 L314.63,249.80 L314.67,249.50 L314.75,249.22 L314.87,248.96 L314.98,248.71 L315.10,248.46 L315.20,248.21 L315.30,247.96 L315.41,247.69 L315.55,247.44 L315.72,247.19 L315.94,246.99 L316.19,246.83 L316.47,246.74 L316.77,246.70 L317.06,246.70 L317.34,246.72 L317.62,246.76 L317.89,246.79 L318.15,246.81 L318.43,246.83 L318.72,246.86 L319.00,246.91 L319.28,247.01 L319.54,247.16 L319.76,247.37 L319.93,247.61 L320.05,247.88 L320.13,248.16 L320.19,248.44 L320.24,248.71 L320.30,248.97 L320.36,249.23 Z" fill="#5a58a8" filter="url(#b1)" opacity="0.85"/>
<ellipse cx="316.14" cy="248.09" rx="0.92" ry="0.75" fill="#2c3c84" opacity="0.3" filter="url(#b1)"/>
<ellipse cx="317.06" cy="250.76" rx="0.68" ry="1.19" fill="#2c3c84" opacity="0.3" filter="url(#b1)"/>
<ellipse cx="317.33" cy="252.20" rx="0.73" ry="1.06" fill="#2c3c84" opacity="0.3" filter="url(#b1)"/>
<path d="M335.15,251.50 L335.19,252.00 L335.18,252.51 L335.12,253.03 L334.99,253.54 L334.78,254.03 L334.49,254.49 L334.13,254.91 L333.70,255.27 L333.23,255.58 L332.72,255.83 L332.20,256.03 L331.67,256.19 L331.13,256.32 L330.59,256.42 L330.05,256.51 L329.50,256.57 L328.94,256.60 L328.37,256.60 L327.79,256.54 L327.23,256.42 L326.68,256.23 L326.16,255.97 L325.70,255.65 L325.30,255.27 L324.95,254.85 L324.67,254.39 L324.45,253.92 L324.27,253.44 L324.13,252.96 L324.01,252.48 L323.92,251.99 L323.85,251.50 L323.81,251.00 L323.82,250.49 L323.88,249.97 L324.01,249.46 L324.22,248.97 L324.51,248.51 L324.87,248.09 L325.30,247.73 L325.77,247.42 L326.28,247.17 L326.80,246.97 L327.33,246.81 L327.87,246.68 L328.41,246.58 L328.95,246.49 L329.50,246.43 L330.06,246.40 L330.63,246.40 L331.21,246.46 L331.77,246.58 L332.32,246.77 L332.84,247.03 L333.30,247.35 L333.70,247.73 L334.05,248.15 L334.33,248.61 L334.55,249.08 L334.73,249.56 L334.87,250.04 L334.99,250.52 L335.08,251.01 Z" fill="#4a4aa8" filter="url(#bc)"/>
<path d="M333.82,251.05 L333.80,251.40 L333.77,251.75 L333.73,252.10 L333.67,252.47 L333.57,252.83 L333.43,253.19 L333.22,253.53 L332.96,253.83 L332.65,254.10 L332.28,254.30 L331.89,254.46 L331.48,254.55 L331.06,254.61 L330.65,254.62 L330.25,254.62 L329.86,254.60 L329.47,254.58 L329.08,254.56 L328.69,254.52 L328.28,254.47 L327.88,254.38 L327.48,254.25 L327.10,254.07 L326.76,253.83 L326.46,253.55 L326.23,253.22 L326.06,252.87 L325.95,252.50 L325.90,252.13 L325.88,251.76 L325.88,251.40 L325.90,251.05 L325.92,250.70 L325.95,250.35 L325.99,250.00 L326.05,249.64 L326.15,249.27 L326.29,248.91 L326.50,248.58 L326.76,248.27 L327.07,248.01 L327.44,247.80 L327.83,247.65 L328.24,247.55 L328.66,247.50 L329.07,247.48 L329.47,247.48 L329.86,247.50 L330.25,247.52 L330.64,247.54 L331.03,247.58 L331.44,247.64 L331.84,247.72 L332.24,247.85 L332.62,248.03 L332.96,248.27 L333.26,248.55 L333.49,248.88 L333.66,249.23 L333.77,249.60 L333.82,249.97 L333.84,250.34 L333.84,250.70 Z" fill="#8a64b0" filter="url(#b1)" opacity="0.85"/>
<ellipse cx="330.19" cy="252.37" rx="1.54" ry="1.34" fill="#38387e" opacity="0.3" filter="url(#b1)"/>
<ellipse cx="331.29" cy="252.13" rx="1.67" ry="1.48" fill="#38387e" opacity="0.3" filter="url(#b1)"/>
<ellipse cx="331.87" cy="250.67" rx="0.88" ry="1.05" fill="#38387e" opacity="0.3" filter="url(#b1)"/>
<path d="M325.58,254.00 L325.59,254.32 L325.55,254.65 L325.47,254.96 L325.34,255.26 L325.17,255.55 L324.97,255.81 L324.74,256.05 L324.48,256.26 L324.20,256.45 L323.91,256.61 L323.61,256.75 L323.30,256.86 L322.98,256.96 L322.66,257.03 L322.33,257.08 L322.00,257.12 L321.66,257.13 L321.32,257.11 L320.98,257.07 L320.64,256.99 L320.31,256.88 L320.00,256.74 L319.71,256.56 L319.44,256.34 L319.20,256.10 L319.00,255.83 L318.84,255.54 L318.72,255.24 L318.64,254.93 L318.59,254.62 L318.57,254.31 L318.58,254.00 L318.62,253.70 L318.68,253.40 L318.77,253.10 L318.87,252.82 L319.00,252.53 L319.15,252.26 L319.32,251.99 L319.53,251.74 L319.76,251.50 L320.02,251.29 L320.31,251.10 L320.62,250.95 L320.95,250.83 L321.29,250.75 L321.65,250.72 L322.00,250.72 L322.35,250.76 L322.69,250.84 L323.01,250.95 L323.32,251.08 L323.61,251.24 L323.89,251.42 L324.15,251.61 L324.39,251.82 L324.61,252.04 L324.82,252.27 L325.02,252.53 L325.19,252.79 L325.33,253.08 L325.45,253.37 L325.54,253.68 Z" fill="#4a48a0" filter="url(#bc)"/>
<path d="M324.72,254.09 L324.68,254.32 L324.61,254.55 L324.51,254.76 L324.39,254.95 L324.26,255.14 L324.11,255.32 L323.96,255.48 L323.80,255.64 L323.63,255.78 L323.45,255.92 L323.26,256.06 L323.06,256.18 L322.84,256.29 L322.61,256.38 L322.37,256.44 L322.11,256.48 L321.85,256.49 L321.59,256.47 L321.34,256.41 L321.10,256.32 L320.88,256.21 L320.67,256.06 L320.49,255.90 L320.33,255.72 L320.19,255.53 L320.08,255.33 L319.98,255.13 L319.90,254.93 L319.83,254.73 L319.77,254.52 L319.72,254.31 L319.68,254.09 L319.66,253.87 L319.66,253.65 L319.69,253.42 L319.74,253.19 L319.81,252.97 L319.92,252.76 L320.07,252.56 L320.24,252.38 L320.43,252.22 L320.65,252.09 L320.88,251.99 L321.13,251.92 L321.38,251.88 L321.63,251.86 L321.87,251.86 L322.11,251.87 L322.35,251.91 L322.58,251.95 L322.81,252.00 L323.03,252.07 L323.25,252.14 L323.47,252.23 L323.69,252.34 L323.89,252.46 L324.09,252.61 L324.27,252.77 L324.43,252.96 L324.55,253.17 L324.65,253.39 L324.71,253.62 L324.74,253.86 Z" fill="#7a5aa8" filter="url(#b1)" opacity="0.85"/>
<ellipse cx="320.66" cy="253.75" rx="0.65" ry="0.77" fill="#383678" opacity="0.3" filter="url(#b1)"/>
<ellipse cx="321.34" cy="255.12" rx="0.73" ry="0.63" fill="#383678" opacity="0.3" filter="url(#b1)"/>
<ellipse cx="322.03" cy="252.32" rx="0.99" ry="0.61" fill="#383678" opacity="0.3" filter="url(#b1)"/>
</g>
<rect x="271.90" y="201.20" width="72.70" height="58.80" fill="none" stroke="#c0c0c4" stroke-width="0.8"/>
<clipPath id="fclip615"><rect x="199.20" y="263.80" width="62.30" height="62.70"/></clipPath>
<rect x="199.20" y="263.80" width="62.30" height="62.70" fill="#fff"/>
<g clip-path="url(#fclip615)">
<path d="M205,271 L250,271 L248,303 Q245,311 237,309 L230,296 Q227,289 224,296 L218,309 Q209,312 207,303 Z" fill="#dedede" stroke="#888" stroke-width="0.6"/>
<path d="M207.5,274.0 L209.0,302.0 Q212.0,306.0 216.0,300.0 L222.5,275.0" fill="none" stroke="#9a9a9a" stroke-width="0.45"/>
<path d="M246.5,274.0 L245.0,302.0 Q242.0,306.0 238.0,300.0 L231.5,275.0" fill="none" stroke="#9a9a9a" stroke-width="0.45"/>
<path d="M208.3,275.3 L209.7,300.4 Q212.0,304.7 216.3,298.1 L221.6,276.3" fill="none" stroke="#9a9a9a" stroke-width="0.45"/>
<path d="M245.7,275.3 L244.3,300.4 Q242.0,304.7 237.7,298.1 L232.4,276.3" fill="none" stroke="#9a9a9a" stroke-width="0.45"/>
<path d="M209.1,276.6 L210.3,298.9 Q212.0,303.4 216.5,296.1 L220.7,277.6" fill="none" stroke="#9a9a9a" stroke-width="0.45"/>
<path d="M244.9,276.6 L243.7,298.9 Q242.0,303.4 237.5,296.1 L233.3,277.6" fill="none" stroke="#9a9a9a" stroke-width="0.45"/>
<path d="M209.8,277.9 L210.9,297.3 Q212.0,302.1 216.8,294.1 L219.8,278.9" fill="none" stroke="#9a9a9a" stroke-width="0.45"/>
<path d="M244.2,277.9 L243.1,297.3 Q242.0,302.1 237.2,294.1 L234.2,278.9" fill="none" stroke="#9a9a9a" stroke-width="0.45"/>
<path d="M210.6,279.2 L211.6,295.8 Q212.0,300.8 217.0,292.2 L218.9,280.2" fill="none" stroke="#9a9a9a" stroke-width="0.45"/>
<path d="M243.4,279.2 L242.4,295.8 Q242.0,300.8 237.0,292.2 L235.1,280.2" fill="none" stroke="#9a9a9a" stroke-width="0.45"/>
<path d="M211.4,280.5 L212.2,294.2 Q212.0,299.5 217.3,290.2 L217.9,281.5" fill="none" stroke="#9a9a9a" stroke-width="0.45"/>
<path d="M242.6,280.5 L241.8,294.2 Q242.0,299.5 236.7,290.2 L236.1,281.5" fill="none" stroke="#9a9a9a" stroke-width="0.45"/>
<path d="M219,309 L226.5,283 L236,309 Z" fill="#bdbdbd" stroke="#777" stroke-width="0.5"/>
<path d="M222,309 L226.5,290 L232,309" fill="none" stroke="#888" stroke-width="0.5"/>
<path d="M222.3,302.6h0.6 M228.8,306.9h0.6 M224.3,294.6h0.6 M229.8,301.9h0.6 M224.6,302.3h0.6 M225.8,304.0h0.6 M222.4,294.0h0.6 M231.8,296.4h0.6 M224.1,304.5h0.6 M228.6,292.7h0.6 M227.6,302.0h0.6 M223.0,301.7h0.6 M222.5,296.1h0.6 M222.0,293.7h0.6 M232.7,297.3h0.6 M232.9,297.9h0.6 M228.3,305.7h0.6 M229.2,292.0h0.6 M228.1,301.4h0.6 M223.2,291.7h0.6 M231.5,299.2h0.6 M223.3,298.1h0.6 M223.6,304.4h0.6 M227.0,291.8h0.6 M230.8,291.6h0.6 M224.4,290.5h0.6 M229.9,292.0h0.6 M227.3,291.7h0.6 M226.8,302.3h0.6 M227.4,298.2h0.6 M226.8,297.9h0.6 M228.1,291.7h0.6 M226.7,294.3h0.6 M231.4,306.9h0.6 M221.8,292.6h0.6 M229.4,300.3h0.6 M221.2,302.7h0.6 M232.3,297.6h0.6 M225.2,300.2h0.6 M232.3,294.7h0.6" stroke="#666" stroke-width="0.60" stroke-opacity="0.7" fill="none"/>
<rect x="205" y="270.4" width="45" height="2.4" fill="#6a6a6a" filter="url(#bs)"/>
<path d="M249.2,272 L246.8,305" stroke="#777" stroke-width="2" filter="url(#bs)"/>
<path d="M206.2,273 L207.5,304" stroke="#999" stroke-width="1.1" filter="url(#bs)"/>
<path d="M206,305 Q212,313 219,309 M236,309 Q244,313 249,304" fill="none" stroke="#888" stroke-width="0.6"/>
<ellipse cx="211.00" cy="315.00" rx="6.00" ry="2.60" fill="none" stroke="#aaa" stroke-width="0.5" stroke-opacity="1"/>
<path d="M227.9,310.1h0.6 M253.8,308.4h0.6 M230.9,310.6h0.6 M213.2,309.2h0.6 M237.6,314.3h0.6 M208.2,305.5h0.6 M208.0,314.6h0.6 M241.1,300.8h0.6 M257.0,317.4h0.6 M239.0,311.1h0.6 M211.7,300.3h0.6 M232.1,301.1h0.6 M213.5,304.4h0.6 M204.7,308.4h0.6 M227.2,315.2h0.6 M231.6,311.5h0.6 M230.5,311.9h0.6 M228.2,305.0h0.6 M257.9,317.9h0.6 M249.2,312.7h0.6 M220.3,304.1h0.6 M218.9,301.3h0.6 M245.1,307.2h0.6 M249.6,307.0h0.6 M255.7,315.3h0.6 M203.0,303.8h0.6 M253.1,308.5h0.6 M256.9,307.2h0.6 M207.0,311.3h0.6 M245.8,304.9h0.6 M207.8,306.0h0.6 M256.0,313.6h0.6 M209.5,304.4h0.6 M208.6,301.1h0.6 M246.8,303.2h0.6 M233.8,308.1h0.6 M213.5,313.2h0.6 M210.2,311.6h0.6 M209.4,307.6h0.6 M214.7,304.9h0.6" stroke="#999" stroke-width="0.60" stroke-opacity="0.6" fill="none"/>
</g>
<rect x="199.20" y="263.80" width="62.30" height="62.70" fill="none" stroke="#b0b0b0" stroke-width="0.7"/>
<line x1="225.80" y1="263.80" x2="225.80" y2="326.50" stroke="#555" stroke-width="0.8" />
<line x1="199.20" y1="309.70" x2="261.50" y2="309.70" stroke="#555" stroke-width="0.8" />
<text x="201.60" y="268.80" font-size="4.6" text-anchor="start" fill="#222" >Q5</text>
<text x="201.60" y="274.30" font-size="4.6" text-anchor="start" fill="#222" >33.5</text>
<text x="259.10" y="268.80" font-size="4.6" text-anchor="end" fill="#222" >Q6</text>
<text x="259.10" y="274.30" font-size="4.6" text-anchor="end" fill="#222" >62.1</text>
<text x="201.40" y="318.80" font-size="4.6" text-anchor="start" fill="#333" >Q8</text>
<text x="201.40" y="324.30" font-size="4.6" text-anchor="start" fill="#333" >3.35</text>
<text x="259.30" y="318.80" font-size="4.6" text-anchor="end" fill="#333" >Q7</text>
<text x="259.30" y="324.30" font-size="4.6" text-anchor="end" fill="#333" >1.53</text>
<line x1="199.20" y1="270.77" x2="200.20" y2="270.77" stroke="#777" stroke-width="0.4" />
<line x1="199.20" y1="277.73" x2="200.20" y2="277.73" stroke="#777" stroke-width="0.4" />
<line x1="199.20" y1="284.70" x2="200.20" y2="284.70" stroke="#777" stroke-width="0.4" />
<line x1="199.20" y1="291.67" x2="200.20" y2="291.67" stroke="#777" stroke-width="0.4" />
<line x1="199.20" y1="298.63" x2="200.20" y2="298.63" stroke="#777" stroke-width="0.4" />
<line x1="199.20" y1="305.60" x2="200.20" y2="305.60" stroke="#777" stroke-width="0.4" />
<line x1="199.20" y1="312.57" x2="200.20" y2="312.57" stroke="#777" stroke-width="0.4" />
<line x1="199.20" y1="319.53" x2="200.20" y2="319.53" stroke="#777" stroke-width="0.4" />
<ellipse cx="199.50" cy="312.90" rx="0.8" ry="1.3" fill="#111"/>
<rect x="208.20" y="325.30" width="4" height="1.1" fill="#222"/>
<clipPath id="fclip662"><rect x="283.50" y="264.20" width="63.40" height="62.90"/></clipPath>
<rect x="283.50" y="264.20" width="63.40" height="62.90" fill="#fff"/>
<g clip-path="url(#fclip662)">
<path d="M304.0,287.5h0.6 M316.2,278.8h0.6 M332.2,285.8h0.6 M317.3,301.9h0.6 M314.3,271.3h0.6 M304.8,279.5h0.6 M328.1,295.0h0.6 M330.0,300.4h0.6 M336.9,291.2h0.6 M334.8,292.1h0.6 M313.4,295.3h0.6 M321.5,282.8h0.6 M337.8,291.8h0.6 M314.0,284.7h0.6 M339.4,283.5h0.6 M329.9,293.0h0.6 M327.4,293.0h0.6 M314.2,279.7h0.6 M318.5,280.9h0.6 M328.6,300.1h0.6 M309.5,292.2h0.6 M308.6,277.6h0.6 M317.4,287.2h0.6 M317.1,266.5h0.6 M336.1,282.7h0.6 M312.5,294.0h0.6 M314.0,270.5h0.6 M327.3,291.0h0.6 M310.7,295.3h0.6 M325.2,272.5h0.6 M337.9,288.0h0.6 M307.0,290.8h0.6 M322.3,297.2h0.6 M306.6,295.8h0.6 M331.9,293.5h0.6 M327.3,299.3h0.6 M330.2,287.3h0.6 M311.1,297.6h0.6 M332.8,289.1h0.6 M322.7,294.8h0.6 M300.6,287.8h0.6 M300.6,287.2h0.6 M329.5,300.9h0.6 M314.3,291.2h0.6 M319.8,266.9h0.6 M330.3,285.4h0.6 M321.5,274.0h0.6 M320.1,286.8h0.6 M335.2,288.7h0.6 M339.9,283.1h0.6 M316.9,284.9h0.6 M312.2,300.1h0.6 M327.9,271.8h0.6 M321.9,298.7h0.6 M304.3,287.1h0.6 M318.5,303.4h0.6 M326.3,280.3h0.6 M315.2,302.2h0.6 M316.6,303.2h0.6 M303.4,283.5h0.6 M317.4,276.6h0.6 M317.8,294.4h0.6 M313.2,270.5h0.6 M332.7,298.2h0.6 M311.4,289.5h0.6 M301.8,292.4h0.6 M305.3,279.5h0.6 M337.2,276.0h0.6 M320.8,272.7h0.6 M303.9,275.5h0.6 M323.7,271.0h0.6 M313.0,294.4h0.6 M318.7,270.8h0.6 M336.8,286.7h0.6 M334.7,275.4h0.6 M335.3,274.1h0.6 M302.7,281.3h0.6 M315.4,289.1h0.6 M313.3,293.5h0.6 M335.2,278.6h0.6 M304.8,281.1h0.6 M330.4,294.8h0.6 M316.2,273.6h0.6 M320.3,297.1h0.6 M312.6,299.1h0.6 M323.8,289.4h0.6 M313.6,299.6h0.6 M321.0,269.6h0.6 M331.1,280.4h0.6 M333.7,287.5h0.6 M312.1,287.8h0.6 M314.2,275.4h0.6 M320.8,295.8h0.6 M321.6,284.4h0.6 M313.2,292.7h0.6 M324.0,296.9h0.6 M323.5,302.9h0.6 M303.3,284.9h0.6 M327.1,296.0h0.6 M305.6,274.2h0.6 M320.0,297.9h0.6 M331.2,271.3h0.6 M322.1,298.8h0.6 M320.9,273.1h0.6 M312.5,271.3h0.6 M334.7,282.6h0.6 M315.0,274.8h0.6 M318.7,274.3h0.6 M308.0,285.0h0.6 M317.4,291.6h0.6 M322.2,298.9h0.6 M320.0,289.1h0.6 M323.5,275.4h0.6 M334.2,279.3h0.6 M305.7,296.4h0.6 M329.0,278.5h0.6 M331.3,295.8h0.6 M328.6,272.6h0.6 M322.7,273.1h0.6 M312.4,278.4h0.6 M309.7,291.5h0.6 M310.5,293.0h0.6 M322.9,277.7h0.6 M322.8,294.2h0.6 M334.2,282.5h0.6 M337.3,290.7h0.6 M332.7,272.7h0.6 M309.2,297.6h0.6 M317.5,291.6h0.6 M332.1,272.0h0.6 M324.5,302.3h0.6 M331.0,286.6h0.6 M328.2,285.6h0.6 M328.8,298.7h0.6 M317.5,292.9h0.6 M324.5,294.7h0.6 M330.1,273.7h0.6 M333.2,294.4h0.6 M307.0,282.1h0.6 M304.1,282.4h0.6 M324.5,272.2h0.6 M311.0,275.2h0.6 M311.7,276.2h0.6 M307.6,292.0h0.6 M317.7,275.2h0.6 M332.5,278.9h0.6 M330.2,272.6h0.6 M335.9,280.7h0.6 M308.6,290.4h0.6 M306.5,274.7h0.6 M323.8,279.2h0.6 M326.1,287.4h0.6 M324.1,287.3h0.6 M330.0,285.5h0.6 M332.5,295.3h0.6 M305.3,272.6h0.6 M336.8,281.0h0.6 M323.2,284.0h0.6 M322.7,303.1h0.6 M311.0,286.3h0.6" stroke="#888" stroke-width="0.60" stroke-opacity="0.75" fill="none"/>
<path d="M305,276 Q318,270 328,280 Q325,292 311,294 Z" fill="#e2e2e2" stroke="#888" stroke-width="0.5"/>
<path d="M307,279 Q317,275 324,282 Q320,289 311,291" stroke="#999" stroke-width="0.5" fill="none"/>
<path d="M309,282 Q316,280 320,284 Q317,287 311,288" stroke="#aaa" stroke-width="0.5" fill="none"/>
<path d="M312.05,292.00 L311.98,294.23 L311.76,296.28 L311.40,298.21 L310.92,300.02 L310.34,301.71 L309.68,303.28 L308.95,304.73 L308.17,306.09 L307.32,307.35 L306.42,308.52 L305.46,309.58 L304.42,310.52 L303.31,311.30 L302.13,311.89 L300.87,312.26 L299.50,312.40 L298.13,312.29 L296.87,311.93 L295.68,311.35 L294.57,310.58 L293.53,309.63 L292.56,308.56 L291.67,307.37 L290.83,306.09 L290.06,304.72 L289.34,303.25 L288.69,301.68 L288.11,300.00 L287.63,298.20 L287.27,296.27 L287.04,294.23 L286.95,292.00 L287.02,289.77 L287.24,287.72 L287.60,285.79 L288.08,283.98 L288.66,282.29 L289.32,280.72 L290.05,279.27 L290.83,277.91 L291.68,276.65 L292.58,275.48 L293.54,274.42 L294.58,273.48 L295.69,272.70 L296.87,272.11 L298.13,271.74 L299.50,271.60 L300.87,271.71 L302.13,272.07 L303.32,272.65 L304.43,273.42 L305.47,274.37 L306.44,275.44 L307.33,276.63 L308.17,277.91 L308.94,279.28 L309.66,280.75 L310.31,282.32 L310.89,284.00 L311.37,285.80 L311.73,287.73 L311.96,289.77 Z" fill="#dcdcdc" stroke="#999" stroke-width="0.45"/>
<path d="M310.04,291.84 L309.99,293.72 L309.82,295.44 L309.55,297.09 L309.17,298.63 L308.70,300.08 L308.15,301.42 L307.52,302.65 L306.83,303.76 L306.09,304.77 L305.29,305.66 L304.45,306.45 L303.56,307.12 L302.63,307.68 L301.65,308.13 L300.62,308.44 L299.50,308.61 L298.36,308.63 L297.30,308.49 L296.27,308.18 L295.29,307.70 L294.35,307.04 L293.48,306.21 L292.68,305.23 L291.96,304.10 L291.33,302.85 L290.78,301.49 L290.34,300.05 L289.98,298.53 L289.70,296.95 L289.52,295.33 L289.41,293.65 L289.37,291.84 L289.42,290.04 L289.54,288.36 L289.73,286.74 L290.01,285.17 L290.37,283.66 L290.81,282.22 L291.35,280.86 L291.98,279.61 L292.69,278.47 L293.48,277.48 L294.35,276.64 L295.28,275.96 L296.27,275.46 L297.29,275.14 L298.36,274.99 L299.50,275.01 L300.63,275.19 L301.66,275.51 L302.64,275.96 L303.57,276.54 L304.45,277.23 L305.29,278.03 L306.07,278.94 L306.81,279.95 L307.50,281.07 L308.12,282.30 L308.67,283.63 L309.14,285.07 L309.52,286.61 L309.80,288.24 L309.98,289.97 Z" fill="#d2d2d2" stroke="#999" stroke-width="0.45"/>
<path d="M307.75,291.68 L307.67,293.14 L307.55,294.49 L307.40,295.80 L307.19,297.08 L306.93,298.34 L306.59,299.53 L306.16,300.65 L305.63,301.65 L305.02,302.51 L304.33,303.22 L303.60,303.77 L302.83,304.20 L302.04,304.52 L301.23,304.77 L300.40,304.96 L299.50,305.08 L298.59,305.14 L297.73,305.08 L296.89,304.88 L296.09,304.52 L295.33,303.99 L294.64,303.28 L294.03,302.43 L293.49,301.46 L293.01,300.42 L292.60,299.32 L292.23,298.19 L291.89,297.03 L291.58,295.81 L291.32,294.54 L291.13,293.18 L291.02,291.68 L291.02,290.16 L291.13,288.76 L291.35,287.43 L291.68,286.19 L292.09,285.05 L292.56,283.99 L293.07,283.02 L293.61,282.10 L294.17,281.23 L294.78,280.40 L295.42,279.64 L296.12,278.97 L296.89,278.44 L297.70,278.07 L298.57,277.88 L299.50,277.88 L300.42,278.06 L301.26,278.38 L302.04,278.80 L302.79,279.30 L303.51,279.85 L304.20,280.46 L304.87,281.14 L305.51,281.91 L306.11,282.78 L306.63,283.78 L307.07,284.90 L307.40,286.13 L307.62,287.44 L307.75,288.80 L307.78,290.20 Z" fill="#cacaca" stroke="#999" stroke-width="0.45"/>
<path d="M305.77,291.52 L305.76,292.64 L305.70,293.68 L305.58,294.70 L305.42,295.68 L305.19,296.62 L304.91,297.52 L304.57,298.36 L304.18,299.13 L303.73,299.82 L303.23,300.42 L302.68,300.92 L302.10,301.32 L301.49,301.61 L300.86,301.79 L300.20,301.88 L299.50,301.86 L298.81,301.76 L298.17,301.58 L297.57,301.31 L296.99,300.97 L296.44,300.57 L295.91,300.09 L295.41,299.54 L294.95,298.92 L294.52,298.23 L294.13,297.47 L293.78,296.64 L293.50,295.74 L293.27,294.77 L293.10,293.75 L293.01,292.68 L292.98,291.52 L293.03,290.36 L293.14,289.30 L293.32,288.29 L293.55,287.34 L293.84,286.46 L294.18,285.63 L294.56,284.87 L294.98,284.17 L295.43,283.54 L295.92,282.97 L296.43,282.47 L296.98,282.03 L297.55,281.66 L298.16,281.37 L298.80,281.17 L299.50,281.06 L300.21,281.06 L300.87,281.16 L301.51,281.36 L302.11,281.68 L302.69,282.11 L303.22,282.64 L303.71,283.26 L304.14,283.97 L304.53,284.75 L304.86,285.59 L305.13,286.48 L305.36,287.41 L305.53,288.37 L305.66,289.37 L305.74,290.40 Z" fill="#cecece" stroke="#a0a0a0" stroke-width="0.45"/>
<path d="M304.01,291.36 L303.97,292.16 L303.87,292.89 L303.74,293.57 L303.57,294.22 L303.37,294.82 L303.14,295.40 L302.90,295.93 L302.63,296.44 L302.33,296.92 L302.01,297.36 L301.67,297.76 L301.29,298.10 L300.88,298.37 L300.45,298.56 L299.99,298.67 L299.50,298.69 L299.01,298.62 L298.56,298.47 L298.14,298.25 L297.74,297.98 L297.37,297.65 L297.02,297.28 L296.69,296.88 L296.37,296.44 L296.08,295.97 L295.81,295.45 L295.57,294.88 L295.36,294.27 L295.19,293.61 L295.07,292.91 L295.00,292.16 L294.99,291.36 L295.03,290.56 L295.13,289.83 L295.26,289.15 L295.43,288.50 L295.63,287.90 L295.86,287.32 L296.10,286.79 L296.37,286.28 L296.67,285.80 L296.99,285.36 L297.33,284.96 L297.71,284.62 L298.12,284.35 L298.55,284.16 L299.01,284.05 L299.50,284.03 L299.99,284.10 L300.44,284.25 L300.86,284.47 L301.26,284.74 L301.63,285.07 L301.98,285.44 L302.31,285.84 L302.63,286.28 L302.92,286.75 L303.19,287.27 L303.43,287.84 L303.64,288.45 L303.81,289.11 L303.93,289.81 L304.00,290.56 Z" fill="#dadada" stroke="#aaa" stroke-width="0.45"/>
<path d="M302.01,291.20 L301.99,291.65 L301.94,292.05 L301.86,292.43 L301.75,292.78 L301.64,293.12 L301.52,293.44 L301.40,293.76 L301.26,294.07 L301.11,294.36 L300.93,294.61 L300.73,294.82 L300.50,294.97 L300.26,295.06 L300.02,295.11 L299.77,295.12 L299.50,295.12 L299.24,295.11 L298.99,295.09 L298.74,295.04 L298.50,294.95 L298.28,294.82 L298.07,294.62 L297.88,294.37 L297.73,294.08 L297.59,293.77 L297.47,293.45 L297.36,293.12 L297.26,292.78 L297.16,292.42 L297.07,292.05 L297.01,291.64 L296.99,291.20 L297.01,290.75 L297.06,290.35 L297.14,289.97 L297.25,289.62 L297.36,289.28 L297.48,288.96 L297.60,288.64 L297.74,288.33 L297.89,288.04 L298.07,287.79 L298.27,287.58 L298.50,287.43 L298.74,287.34 L298.98,287.29 L299.23,287.28 L299.50,287.28 L299.76,287.29 L300.01,287.31 L300.26,287.36 L300.50,287.45 L300.72,287.58 L300.93,287.78 L301.12,288.03 L301.27,288.32 L301.41,288.63 L301.53,288.95 L301.64,289.28 L301.74,289.62 L301.84,289.98 L301.93,290.35 L301.99,290.76 Z" fill="#f6f6f6"/>
<path d="M299.5,315.9h0.6 M296.3,310.0h0.6 M301.9,314.5h0.6 M302.9,314.3h0.6 M299.6,311.7h0.6 M295.5,312.7h0.6 M298.2,315.2h0.6 M304.1,310.7h0.6 M305.2,313.2h0.6 M305.6,315.6h0.6 M303.3,310.1h0.6 M304.0,310.3h0.6 M308.5,312.0h0.6 M299.6,316.2h0.6 M291.3,313.3h0.6 M294.0,312.1h0.6 M295.7,314.7h0.6 M298.7,314.1h0.6 M303.8,310.2h0.6 M308.3,312.7h0.6 M291.8,312.0h0.6 M305.4,315.2h0.6 M296.1,313.5h0.6 M302.1,315.4h0.6 M299.9,315.4h0.6 M295.0,311.6h0.6 M304.8,314.8h0.6 M300.4,314.7h0.6 M302.1,315.0h0.6 M307.2,314.3h0.6" stroke="#999" stroke-width="0.60" stroke-opacity="0.6" fill="none"/>
</g>
<rect x="283.50" y="264.20" width="63.40" height="62.90" fill="none" stroke="#b0b0b0" stroke-width="0.7"/>
<line x1="311.30" y1="264.20" x2="311.30" y2="327.10" stroke="#555" stroke-width="0.8" />
<line x1="283.50" y1="310.40" x2="346.90" y2="310.40" stroke="#555" stroke-width="0.8" />
<text x="285.90" y="269.20" font-size="4.6" text-anchor="start" fill="#222" >Q5</text>
<text x="285.90" y="274.70" font-size="4.6" text-anchor="start" fill="#222" >87.8</text>
<text x="344.50" y="269.20" font-size="4.6" text-anchor="end" fill="#222" >Q6</text>
<text x="344.50" y="274.70" font-size="4.6" text-anchor="end" fill="#222" >10.5</text>
<text x="285.70" y="319.40" font-size="4.6" text-anchor="start" fill="#333" >Q8</text>
<text x="285.70" y="324.90" font-size="4.6" text-anchor="start" fill="#333" >1.44</text>
<text x="344.70" y="319.40" font-size="4.6" text-anchor="end" fill="#333" >Q7</text>
<text x="344.70" y="324.90" font-size="4.6" text-anchor="end" fill="#333" >0.019</text>
<line x1="283.50" y1="271.19" x2="284.50" y2="271.19" stroke="#777" stroke-width="0.4" />
<line x1="283.50" y1="278.18" x2="284.50" y2="278.18" stroke="#777" stroke-width="0.4" />
<line x1="283.50" y1="285.17" x2="284.50" y2="285.17" stroke="#777" stroke-width="0.4" />
<line x1="283.50" y1="292.16" x2="284.50" y2="292.16" stroke="#777" stroke-width="0.4" />
<line x1="283.50" y1="299.14" x2="284.50" y2="299.14" stroke="#777" stroke-width="0.4" />
<line x1="283.50" y1="306.13" x2="284.50" y2="306.13" stroke="#777" stroke-width="0.4" />
<line x1="283.50" y1="313.12" x2="284.50" y2="313.12" stroke="#777" stroke-width="0.4" />
<line x1="283.50" y1="320.11" x2="284.50" y2="320.11" stroke="#777" stroke-width="0.4" />
<ellipse cx="283.80" cy="313.60" rx="0.8" ry="1.3" fill="#111"/>
<rect x="292.50" y="325.90" width="4" height="1.1" fill="#222"/>
<text x="194.00" y="279.20" font-size="7.3" text-anchor="end" fill="#333">10<tspan font-size="5.26" dy="-2.77">5</tspan></text>
<text x="194.00" y="291.90" font-size="7.3" text-anchor="end" fill="#333">10<tspan font-size="5.26" dy="-2.77">4</tspan></text>
<text x="194.00" y="305.80" font-size="7.3" text-anchor="end" fill="#333">10<tspan font-size="5.26" dy="-2.77">3</tspan></text>
<text x="191.40" y="318.00" font-size="7.0" text-anchor="end" fill="#333" >0</text>
<text x="194.00" y="326.50" font-size="7.3" text-anchor="end" fill="#333">−10<tspan font-size="5.26" dy="-2.77">3</tspan></text>
<text x="209.60" y="340.10" font-size="7.0" text-anchor="middle" fill="#333" >0</text>
<text x="220.40" y="340.10" font-size="7.0" fill="#333">10<tspan font-size="5.0" dy="-2.7">3</tspan></text>
<text x="235.40" y="340.10" font-size="7.0" fill="#333">10<tspan font-size="5.0" dy="-2.7">4</tspan></text>
<text x="249.30" y="340.10" font-size="7.0" fill="#333">10<tspan font-size="5.0" dy="-2.7">5</tspan></text>
<text x="279.50" y="279.40" font-size="7.3" text-anchor="end" fill="#333">10<tspan font-size="5.26" dy="-2.77">5</tspan></text>
<text x="279.50" y="291.90" font-size="7.3" text-anchor="end" fill="#333">10<tspan font-size="5.26" dy="-2.77">4</tspan></text>
<text x="279.50" y="306.30" font-size="7.3" text-anchor="end" fill="#333">10<tspan font-size="5.26" dy="-2.77">3</tspan></text>
<text x="276.90" y="318.10" font-size="7.0" text-anchor="end" fill="#333" >0</text>
<text x="279.50" y="327.50" font-size="7.3" text-anchor="end" fill="#333">−10<tspan font-size="5.26" dy="-2.77">3</tspan></text>
<text x="293.80" y="340.10" font-size="7.0" text-anchor="middle" fill="#333" >0</text>
<text x="303.10" y="340.10" font-size="7.0" fill="#333">10<tspan font-size="5.0" dy="-2.7">3</tspan></text>
<text x="319.10" y="340.10" font-size="7.0" fill="#333">10<tspan font-size="5.0" dy="-2.7">4</tspan></text>
<text x="334.50" y="340.10" font-size="7.0" fill="#333">10<tspan font-size="5.0" dy="-2.7">5</tspan></text>
<path d="M172.00,343.90 L172.00,320.30 M172.00,343.90 L198.50,343.90" stroke="#222" stroke-width="1.4" fill="none"/>
<path d="M170.20,320.80 L172.00,317.30 L173.80,320.80 Z" fill="#222"/>
<path d="M198.00,342.10 L201.50,343.90 L198.00,345.70 Z" fill="#222"/>
<text transform="translate(167.40,333.00) rotate(-90)" font-size="6.2" text-anchor="middle" fill="#333" textLength="16" lengthAdjust="spacingAndGlyphs">CD71</text>
<text x="174.00" y="354.00" font-size="6.2" text-anchor="start" fill="#333" textLength="18.00" lengthAdjust="spacingAndGlyphs" >Ter119</text>
<text transform="translate(172.6,270.3) rotate(-90)" font-size="8.6" text-anchor="middle" fill="#222">Tp53<tspan font-size="5.8" dy="-3.4">+/−</tspan></text>
<text x="7.50" y="379.20" font-size="12.5" text-anchor="start" fill="#111" font-weight="bold" >G</text>
<text x="162.30" y="379.50" font-size="12.5" text-anchor="start" fill="#111" font-weight="bold" >H</text>
<text x="357.20" y="380.10" font-size="12.5" text-anchor="start" fill="#111" font-weight="bold" >I</text>
<text x="70.80" y="404.50" font-size="9.2" text-anchor="start" fill="#333" textLength="20.80" lengthAdjust="spacingAndGlyphs" >Tp53</text>
<text x="91.90" y="400.30" font-size="5.2" text-anchor="start" fill="#333" textLength="26.30" lengthAdjust="spacingAndGlyphs" >R248Q/−</text>
<text transform="translate(15.30,470.95) rotate(-90)" font-size="7.8" text-anchor="middle" fill="#333" textLength="71" lengthAdjust="spacingAndGlyphs"># cells (fold increase)</text>
<line x1="35.00" y1="410.20" x2="35.00" y2="529.60" stroke="#3a3a3a" stroke-width="1.8" />
<line x1="32.20" y1="528.70" x2="150.00" y2="528.70" stroke="#3a3a3a" stroke-width="1.8" />
<line x1="32.00" y1="528.70" x2="35.00" y2="528.70" stroke="#3a3a3a" stroke-width="1.1" />
<text x="29.00" y="531.10" font-size="6.8" text-anchor="end" fill="#444" textLength="3.40" lengthAdjust="spacingAndGlyphs" >0</text>
<line x1="32.00" y1="490.20" x2="35.00" y2="490.20" stroke="#3a3a3a" stroke-width="1.1" />
<text x="29.00" y="492.60" font-size="6.8" text-anchor="end" fill="#444" textLength="3.40" lengthAdjust="spacingAndGlyphs" >5</text>
<line x1="32.00" y1="451.70" x2="35.00" y2="451.70" stroke="#3a3a3a" stroke-width="1.1" />
<text x="29.00" y="454.10" font-size="6.8" text-anchor="end" fill="#444" textLength="6.80" lengthAdjust="spacingAndGlyphs" >10</text>
<line x1="32.00" y1="413.20" x2="35.00" y2="413.20" stroke="#3a3a3a" stroke-width="1.1" />
<text x="29.00" y="415.60" font-size="6.8" text-anchor="end" fill="#444" textLength="6.80" lengthAdjust="spacingAndGlyphs" >15</text>
<line x1="49.50" y1="528.70" x2="49.50" y2="531.70" stroke="#3a3a3a" stroke-width="1.1" />
<text x="49.50" y="541.20" font-size="6.8" text-anchor="middle" fill="#444" textLength="3.40" lengthAdjust="spacingAndGlyphs" >0</text>
<line x1="79.00" y1="528.70" x2="79.00" y2="531.70" stroke="#3a3a3a" stroke-width="1.1" />
<text x="79.00" y="541.20" font-size="6.8" text-anchor="middle" fill="#444" textLength="3.40" lengthAdjust="spacingAndGlyphs" >2</text>
<line x1="108.50" y1="528.70" x2="108.50" y2="531.70" stroke="#3a3a3a" stroke-width="1.1" />
<text x="108.50" y="541.20" font-size="6.8" text-anchor="middle" fill="#444" textLength="3.40" lengthAdjust="spacingAndGlyphs" >4</text>
<line x1="138.00" y1="528.70" x2="138.00" y2="531.70" stroke="#3a3a3a" stroke-width="1.1" />
<text x="138.00" y="541.20" font-size="6.8" text-anchor="middle" fill="#444" textLength="3.40" lengthAdjust="spacingAndGlyphs" >6</text>
<text x="143.50" y="541.20" font-size="6.8" text-anchor="start" fill="#444" textLength="8.50" lengthAdjust="spacingAndGlyphs" >[d]</text>
<line x1="41.00" y1="423.50" x2="50.60" y2="423.50" stroke="#1d3f78" stroke-width="1.3" />
<circle cx="45.80" cy="423.50" r="1.7" fill="#1d3f78"/>
<text x="54.30" y="425.90" font-size="7.0" text-anchor="start" fill="#333" textLength="15.00" lengthAdjust="spacingAndGlyphs" >CTRL</text>
<line x1="41.00" y1="434.50" x2="50.60" y2="434.50" stroke="#c8102e" stroke-width="1.3" />
<circle cx="45.80" cy="434.50" r="1.7" fill="#c8102e"/>
<text x="54.30" y="436.90" font-size="7.0" text-anchor="start" fill="#333" textLength="33.00" lengthAdjust="spacingAndGlyphs" >NFIA-ETO2</text>
<polyline points="49.50,524.47 79.00,508.68 108.50,523.77 138.00,526.62" fill="none" stroke="#1d3f78" stroke-width="1.3"/>
<line x1="49.50" y1="520.62" x2="49.50" y2="528.32" stroke="#1d3f78" stroke-width="1.0" />
<line x1="48.10" y1="520.62" x2="50.90" y2="520.62" stroke="#1d3f78" stroke-width="1.0" />
<line x1="48.10" y1="528.32" x2="50.90" y2="528.32" stroke="#1d3f78" stroke-width="1.0" />
<circle cx="49.50" cy="524.47" r="1.4" fill="#1d3f78"/>
<line x1="79.00" y1="502.91" x2="79.00" y2="514.46" stroke="#1d3f78" stroke-width="1.0" />
<line x1="77.60" y1="502.91" x2="80.40" y2="502.91" stroke="#1d3f78" stroke-width="1.0" />
<line x1="77.60" y1="514.46" x2="80.40" y2="514.46" stroke="#1d3f78" stroke-width="1.0" />
<circle cx="79.00" cy="508.68" r="1.4" fill="#1d3f78"/>
<line x1="108.50" y1="522.23" x2="108.50" y2="525.31" stroke="#1d3f78" stroke-width="1.0" />
<line x1="107.10" y1="522.23" x2="109.90" y2="522.23" stroke="#1d3f78" stroke-width="1.0" />
<line x1="107.10" y1="525.31" x2="109.90" y2="525.31" stroke="#1d3f78" stroke-width="1.0" />
<circle cx="108.50" cy="523.77" r="1.4" fill="#1d3f78"/>
<circle cx="138.00" cy="526.62" r="1.4" fill="#1d3f78"/>
<polyline points="49.50,524.47 79.00,521.00 108.50,510.99 138.00,449.39" fill="none" stroke="#c8102e" stroke-width="1.3"/>
<circle cx="49.50" cy="524.47" r="1.4" fill="#c8102e"/>
<line x1="79.00" y1="519.46" x2="79.00" y2="522.54" stroke="#c8102e" stroke-width="1.0" />
<line x1="77.60" y1="519.46" x2="80.40" y2="519.46" stroke="#c8102e" stroke-width="1.0" />
<line x1="77.60" y1="522.54" x2="80.40" y2="522.54" stroke="#c8102e" stroke-width="1.0" />
<circle cx="79.00" cy="521.00" r="1.4" fill="#c8102e"/>
<line x1="108.50" y1="500.21" x2="108.50" y2="521.77" stroke="#c8102e" stroke-width="1.0" />
<line x1="107.10" y1="500.21" x2="109.90" y2="500.21" stroke="#c8102e" stroke-width="1.0" />
<line x1="107.10" y1="521.77" x2="109.90" y2="521.77" stroke="#c8102e" stroke-width="1.0" />
<circle cx="108.50" cy="510.99" r="1.4" fill="#c8102e"/>
<line x1="138.00" y1="444.00" x2="138.00" y2="454.78" stroke="#c8102e" stroke-width="1.0" />
<line x1="136.60" y1="444.00" x2="139.40" y2="444.00" stroke="#c8102e" stroke-width="1.0" />
<line x1="136.60" y1="454.78" x2="139.40" y2="454.78" stroke="#c8102e" stroke-width="1.0" />
<circle cx="138.00" cy="449.39" r="1.4" fill="#c8102e"/>
<text x="427.80" y="384.00" font-size="9.2" text-anchor="start" fill="#333" textLength="20.30" lengthAdjust="spacingAndGlyphs" >Tp53</text>
<text x="448.40" y="379.80" font-size="5.2" text-anchor="start" fill="#333" textLength="27.80" lengthAdjust="spacingAndGlyphs" >R248Q/−</text>
<text transform="translate(364.60,447.25) rotate(-90)" font-size="8.4" text-anchor="middle" fill="#333" textLength="32.7" lengthAdjust="spacingAndGlyphs"># Colonies</text>
<line x1="392.30" y1="386.60" x2="392.30" y2="505.30" stroke="#2a2a2a" stroke-width="1.6" />
<line x1="391.50" y1="504.40" x2="511.30" y2="504.40" stroke="#2a2a2a" stroke-width="1.6" />
<line x1="389.30" y1="504.40" x2="392.30" y2="504.40" stroke="#2a2a2a" stroke-width="1.0" />
<text x="386.10" y="506.70" font-size="6.4" text-anchor="end" fill="#444" textLength="3.75" lengthAdjust="spacingAndGlyphs" >1</text>
<line x1="390.50" y1="492.93" x2="392.30" y2="492.93" stroke="#2a2a2a" stroke-width="0.7" />
<line x1="390.50" y1="486.22" x2="392.30" y2="486.22" stroke="#2a2a2a" stroke-width="0.7" />
<line x1="390.50" y1="481.46" x2="392.30" y2="481.46" stroke="#2a2a2a" stroke-width="0.7" />
<line x1="390.50" y1="477.77" x2="392.30" y2="477.77" stroke="#2a2a2a" stroke-width="0.7" />
<line x1="390.50" y1="474.75" x2="392.30" y2="474.75" stroke="#2a2a2a" stroke-width="0.7" />
<line x1="390.50" y1="472.20" x2="392.30" y2="472.20" stroke="#2a2a2a" stroke-width="0.7" />
<line x1="390.50" y1="469.99" x2="392.30" y2="469.99" stroke="#2a2a2a" stroke-width="0.7" />
<line x1="390.50" y1="468.04" x2="392.30" y2="468.04" stroke="#2a2a2a" stroke-width="0.7" />
<line x1="389.30" y1="466.30" x2="392.30" y2="466.30" stroke="#2a2a2a" stroke-width="1.0" />
<text x="386.10" y="468.60" font-size="6.4" text-anchor="end" fill="#444" textLength="7.50" lengthAdjust="spacingAndGlyphs" >10</text>
<line x1="390.50" y1="454.83" x2="392.30" y2="454.83" stroke="#2a2a2a" stroke-width="0.7" />
<line x1="390.50" y1="448.12" x2="392.30" y2="448.12" stroke="#2a2a2a" stroke-width="0.7" />
<line x1="390.50" y1="443.36" x2="392.30" y2="443.36" stroke="#2a2a2a" stroke-width="0.7" />
<line x1="390.50" y1="439.67" x2="392.30" y2="439.67" stroke="#2a2a2a" stroke-width="0.7" />
<line x1="390.50" y1="436.65" x2="392.30" y2="436.65" stroke="#2a2a2a" stroke-width="0.7" />
<line x1="390.50" y1="434.10" x2="392.30" y2="434.10" stroke="#2a2a2a" stroke-width="0.7" />
<line x1="390.50" y1="431.89" x2="392.30" y2="431.89" stroke="#2a2a2a" stroke-width="0.7" />
<line x1="390.50" y1="429.94" x2="392.30" y2="429.94" stroke="#2a2a2a" stroke-width="0.7" />
<line x1="389.30" y1="428.20" x2="392.30" y2="428.20" stroke="#2a2a2a" stroke-width="1.0" />
<text x="386.10" y="430.50" font-size="6.4" text-anchor="end" fill="#444" textLength="11.25" lengthAdjust="spacingAndGlyphs" >100</text>
<line x1="390.50" y1="416.73" x2="392.30" y2="416.73" stroke="#2a2a2a" stroke-width="0.7" />
<line x1="390.50" y1="410.02" x2="392.30" y2="410.02" stroke="#2a2a2a" stroke-width="0.7" />
<line x1="390.50" y1="405.26" x2="392.30" y2="405.26" stroke="#2a2a2a" stroke-width="0.7" />
<line x1="390.50" y1="401.57" x2="392.30" y2="401.57" stroke="#2a2a2a" stroke-width="0.7" />
<line x1="390.50" y1="398.55" x2="392.30" y2="398.55" stroke="#2a2a2a" stroke-width="0.7" />
<line x1="390.50" y1="396.00" x2="392.30" y2="396.00" stroke="#2a2a2a" stroke-width="0.7" />
<line x1="390.50" y1="393.79" x2="392.30" y2="393.79" stroke="#2a2a2a" stroke-width="0.7" />
<line x1="390.50" y1="391.84" x2="392.30" y2="391.84" stroke="#2a2a2a" stroke-width="0.7" />
<line x1="389.30" y1="390.10" x2="392.30" y2="390.10" stroke="#2a2a2a" stroke-width="1.0" />
<text x="386.10" y="392.40" font-size="6.4" text-anchor="end" fill="#444" textLength="15.00" lengthAdjust="spacingAndGlyphs" >1000</text>
<line x1="404.40" y1="504.40" x2="404.40" y2="506.90" stroke="#2a2a2a" stroke-width="0.8" />
<text x="405.30" y="517.20" font-size="7.0" text-anchor="middle" fill="#444" >1°</text>
<line x1="424.60" y1="504.40" x2="424.60" y2="506.90" stroke="#2a2a2a" stroke-width="0.8" />
<text x="425.50" y="517.20" font-size="7.0" text-anchor="middle" fill="#444" >2°</text>
<line x1="441.50" y1="504.40" x2="441.50" y2="506.90" stroke="#2a2a2a" stroke-width="0.8" />
<text x="442.40" y="517.20" font-size="7.0" text-anchor="middle" fill="#444" >3°</text>
<line x1="459.60" y1="504.40" x2="459.60" y2="506.90" stroke="#2a2a2a" stroke-width="0.8" />
<text x="460.50" y="517.20" font-size="7.0" text-anchor="middle" fill="#444" >4°</text>
<line x1="478.40" y1="504.40" x2="478.40" y2="506.90" stroke="#2a2a2a" stroke-width="0.8" />
<text x="479.30" y="517.20" font-size="7.0" text-anchor="middle" fill="#444" >5°</text>
<line x1="496.60" y1="504.40" x2="496.60" y2="506.90" stroke="#2a2a2a" stroke-width="0.8" />
<text x="497.50" y="517.20" font-size="7.0" text-anchor="middle" fill="#444" >6°</text>
<text x="453.00" y="530.20" font-size="8.4" text-anchor="middle" fill="#444" textLength="28.00" lengthAdjust="spacingAndGlyphs" >[Plating]</text>
<circle cx="396.70" cy="393.40" r="1.6" fill="#1d3f8a"/>
<text x="401.70" y="395.60" font-size="6.3" text-anchor="start" fill="#333" textLength="15.20" lengthAdjust="spacingAndGlyphs" >CTRL</text>
<circle cx="396.70" cy="404.90" r="1.6" fill="#b5122e"/>
<text x="401.70" y="407.10" font-size="6.3" text-anchor="start" fill="#333" textLength="32.00" lengthAdjust="spacingAndGlyphs" >NFIA-ETO2</text>
<rect x="398.80" y="458.52" width="5.20" height="45.88" fill="#7d95c6" stroke="#2b4a85" stroke-width="0.9"/>
<line x1="401.40" y1="452.88" x2="401.40" y2="465.34" stroke="#333" stroke-width="0.8" />
<line x1="400.20" y1="452.88" x2="402.60" y2="452.88" stroke="#333" stroke-width="0.8" />
<circle cx="401.40" cy="465.34" r="1.2" fill="#1f3a74"/>
<circle cx="401.40" cy="458.52" r="1.2" fill="#1f3a74"/>
<circle cx="401.40" cy="452.88" r="1.2" fill="#1f3a74"/>
<rect x="407.00" y="422.63" width="5.20" height="81.77" fill="#f28b8b" stroke="#c02a38" stroke-width="0.9"/>
<line x1="409.60" y1="418.47" x2="409.60" y2="426.62" stroke="#333" stroke-width="0.8" />
<line x1="408.40" y1="418.47" x2="410.80" y2="418.47" stroke="#333" stroke-width="0.8" />
<circle cx="409.60" cy="426.62" r="1.2" fill="#b01030"/>
<circle cx="409.60" cy="422.63" r="1.2" fill="#b01030"/>
<circle cx="409.60" cy="418.47" r="1.2" fill="#b01030"/>
<rect x="418.20" y="472.20" width="5.20" height="32.20" fill="#7d95c6" stroke="#2b4a85" stroke-width="0.9"/>
<line x1="420.80" y1="466.30" x2="420.80" y2="481.46" stroke="#333" stroke-width="0.8" />
<line x1="419.60" y1="466.30" x2="422.00" y2="466.30" stroke="#333" stroke-width="0.8" />
<circle cx="420.80" cy="481.46" r="1.2" fill="#1f3a74"/>
<circle cx="420.80" cy="472.20" r="1.2" fill="#1f3a74"/>
<circle cx="420.80" cy="466.30" r="1.2" fill="#1f3a74"/>
<rect x="426.50" y="432.96" width="5.20" height="71.44" fill="#f28b8b" stroke="#c02a38" stroke-width="0.9"/>
<line x1="429.10" y1="430.70" x2="429.10" y2="435.33" stroke="#333" stroke-width="0.8" />
<line x1="427.90" y1="430.70" x2="430.30" y2="430.70" stroke="#333" stroke-width="0.8" />
<circle cx="429.10" cy="434.10" r="1.2" fill="#b01030"/>
<circle cx="429.10" cy="430.70" r="1.2" fill="#b01030"/>
<rect x="444.50" y="450.17" width="5.20" height="54.23" fill="#f28b8b" stroke="#c02a38" stroke-width="0.9"/>
<circle cx="447.10" cy="450.49" r="1.2" fill="#b01030"/>
<circle cx="447.10" cy="449.56" r="1.2" fill="#b01030"/>
<rect x="462.50" y="424.25" width="5.20" height="80.15" fill="#f28b8b" stroke="#c02a38" stroke-width="0.9"/>
<line x1="465.10" y1="417.58" x2="465.10" y2="439.02" stroke="#333" stroke-width="0.8" />
<line x1="463.90" y1="417.58" x2="466.30" y2="417.58" stroke="#333" stroke-width="0.8" />
<circle cx="465.10" cy="439.02" r="1.2" fill="#b01030"/>
<circle cx="465.10" cy="424.25" r="1.2" fill="#b01030"/>
<circle cx="465.10" cy="417.58" r="1.2" fill="#b01030"/>
<rect x="481.00" y="419.42" width="5.20" height="84.98" fill="#f28b8b" stroke="#c02a38" stroke-width="0.9"/>
<line x1="483.60" y1="412.71" x2="483.60" y2="432.10" stroke="#333" stroke-width="0.8" />
<line x1="482.40" y1="412.71" x2="484.80" y2="412.71" stroke="#333" stroke-width="0.8" />
<circle cx="483.60" cy="432.10" r="1.2" fill="#b01030"/>
<circle cx="483.60" cy="419.42" r="1.2" fill="#b01030"/>
<circle cx="483.60" cy="412.71" r="1.2" fill="#b01030"/>
<rect x="498.90" y="425.18" width="5.20" height="79.22" fill="#f28b8b" stroke="#c02a38" stroke-width="0.9"/>
<line x1="501.50" y1="422.99" x2="501.50" y2="426.62" stroke="#333" stroke-width="0.8" />
<line x1="500.30" y1="422.99" x2="502.70" y2="422.99" stroke="#333" stroke-width="0.8" />
<circle cx="501.50" cy="425.89" r="1.2" fill="#b01030"/>
<circle cx="501.50" cy="422.99" r="1.2" fill="#b01030"/>
<text x="234.40" y="377.70" font-size="9.7" text-anchor="middle" fill="#222" textLength="21.30" lengthAdjust="spacingAndGlyphs" >CTRL</text>
<text x="305.00" y="377.70" font-size="9.7" text-anchor="middle" fill="#222" textLength="47.50" lengthAdjust="spacingAndGlyphs" >NFIA-ETO2</text>
<clipPath id="clip880"><rect x="199.50" y="386.40" width="71.80" height="59.70"/></clipPath>
<rect x="199.50" y="386.40" width="71.80" height="59.70" fill="#fcfcfe"/>
<g clip-path="url(#clip880)">
<ellipse cx="211.60" cy="406.30" rx="4.50" ry="2.80" fill="#c8a8d0" fill-opacity="0.9" filter="url(#b1)"/>
<ellipse cx="266.10" cy="399.80" rx="3.00" ry="3.00" fill="#f0c8d8" fill-opacity="0.9" filter="url(#bs)"/>
<ellipse cx="241.00" cy="424.50" rx="3.00" ry="3.00" fill="#f0c8d8" fill-opacity="0.9" filter="url(#bs)"/>
<ellipse cx="262.70" cy="425.70" rx="2.80" ry="2.80" fill="#ecc8d8" fill-opacity="0.9" filter="url(#bs)"/>
<ellipse cx="262.70" cy="443.50" rx="2.60" ry="2.60" fill="#d86a98" fill-opacity="0.9" filter="url(#bs)"/>
<ellipse cx="208.20" cy="388.20" rx="2.50" ry="2.50" fill="#f0c8d8" fill-opacity="0.9" filter="url(#bs)"/>
<ellipse cx="203.00" cy="404.00" rx="3.00" ry="3.00" fill="#e8d0e8" fill-opacity="0.9" filter="url(#bs)"/>
<path d="M207.26,399.40 L207.22,399.70 L207.15,399.99 L207.05,400.26 L206.92,400.53 L206.78,400.78 L206.62,401.01 L206.44,401.24 L206.25,401.45 L206.04,401.65 L205.82,401.83 L205.59,402.00 L205.34,402.15 L205.07,402.27 L204.79,402.38 L204.50,402.45 L204.20,402.48 L203.90,402.48 L203.59,402.45 L203.30,402.37 L203.02,402.26 L202.75,402.11 L202.51,401.93 L202.29,401.73 L202.09,401.51 L201.91,401.28 L201.76,401.03 L201.63,400.77 L201.52,400.51 L201.43,400.24 L201.35,399.97 L201.30,399.69 L201.26,399.40 L201.25,399.11 L201.26,398.82 L201.31,398.52 L201.38,398.23 L201.49,397.95 L201.63,397.68 L201.80,397.43 L202.01,397.21 L202.24,397.01 L202.49,396.84 L202.76,396.71 L203.04,396.60 L203.33,396.53 L203.62,396.49 L203.91,396.48 L204.20,396.48 L204.48,396.51 L204.76,396.56 L205.04,396.63 L205.31,396.71 L205.58,396.82 L205.84,396.94 L206.09,397.09 L206.33,397.27 L206.55,397.47 L206.75,397.69 L206.92,397.94 L207.07,398.21 L207.17,398.50 L207.24,398.80 L207.27,399.10 Z" fill="#2a56a8" filter="url(#bc)"/>
<path d="M206.63,399.77 L206.60,399.97 L206.56,400.17 L206.54,400.37 L206.51,400.58 L206.47,400.79 L206.40,401.01 L206.30,401.21 L206.16,401.38 L205.99,401.52 L205.79,401.62 L205.58,401.69 L205.36,401.73 L205.16,401.76 L204.95,401.78 L204.75,401.81 L204.55,401.85 L204.34,401.89 L204.13,401.91 L203.91,401.91 L203.69,401.86 L203.48,401.78 L203.30,401.65 L203.15,401.48 L203.02,401.30 L202.92,401.11 L202.83,400.92 L202.75,400.74 L202.65,400.56 L202.56,400.38 L202.46,400.19 L202.37,399.99 L202.31,399.77 L202.30,399.55 L202.33,399.33 L202.40,399.12 L202.52,398.93 L202.66,398.76 L202.81,398.61 L202.96,398.46 L203.11,398.32 L203.25,398.18 L203.39,398.03 L203.54,397.88 L203.71,397.74 L203.90,397.62 L204.11,397.54 L204.33,397.51 L204.55,397.53 L204.77,397.59 L204.97,397.67 L205.16,397.77 L205.34,397.87 L205.52,397.97 L205.70,398.06 L205.89,398.14 L206.08,398.25 L206.26,398.37 L206.43,398.52 L206.56,398.70 L206.65,398.91 L206.69,399.12 L206.70,399.35 L206.67,399.56 Z" fill="#3d6cc0" filter="url(#b1)" opacity="0.85"/>
<path d="M209.16,404.30 L209.14,404.48 L209.10,404.66 L209.04,404.83 L208.95,404.98 L208.86,405.13 L208.75,405.27 L208.64,405.40 L208.53,405.53 L208.41,405.65 L208.28,405.77 L208.14,405.88 L207.99,405.97 L207.83,406.06 L207.66,406.12 L207.48,406.15 L207.30,406.16 L207.12,406.14 L206.94,406.10 L206.77,406.04 L206.62,405.95 L206.47,405.86 L206.33,405.75 L206.20,405.64 L206.07,405.53 L205.95,405.41 L205.83,405.28 L205.72,405.14 L205.63,404.99 L205.54,404.83 L205.48,404.66 L205.45,404.48 L205.44,404.30 L205.46,404.12 L205.50,403.94 L205.56,403.77 L205.65,403.62 L205.74,403.47 L205.85,403.33 L205.96,403.20 L206.07,403.07 L206.19,402.95 L206.32,402.83 L206.46,402.72 L206.61,402.63 L206.77,402.54 L206.94,402.48 L207.12,402.45 L207.30,402.44 L207.48,402.46 L207.66,402.50 L207.83,402.56 L207.98,402.65 L208.13,402.74 L208.27,402.85 L208.40,402.96 L208.53,403.07 L208.65,403.19 L208.77,403.32 L208.88,403.46 L208.97,403.61 L209.06,403.77 L209.12,403.94 L209.15,404.12 Z" fill="#1a2060" filter="url(#bc)"/>
<path d="M205.02,407.20 L205.00,407.35 L204.96,407.49 L204.91,407.63 L204.85,407.76 L204.78,407.89 L204.70,408.00 L204.62,408.12 L204.53,408.23 L204.43,408.33 L204.32,408.42 L204.20,408.51 L204.07,408.58 L203.94,408.65 L203.80,408.70 L203.65,408.73 L203.50,408.75 L203.35,408.74 L203.20,408.72 L203.05,408.68 L202.91,408.62 L202.78,408.55 L202.66,408.46 L202.55,408.36 L202.45,408.25 L202.37,408.13 L202.29,408.01 L202.22,407.88 L202.16,407.75 L202.11,407.62 L202.07,407.48 L202.04,407.34 L202.02,407.20 L202.01,407.05 L202.02,406.91 L202.04,406.76 L202.08,406.61 L202.14,406.47 L202.21,406.34 L202.30,406.22 L202.40,406.10 L202.52,406.01 L202.65,405.93 L202.79,405.86 L202.93,405.81 L203.07,405.78 L203.21,405.76 L203.36,405.75 L203.50,405.75 L203.64,405.76 L203.78,405.78 L203.92,405.81 L204.06,405.85 L204.19,405.90 L204.33,405.96 L204.45,406.04 L204.57,406.13 L204.68,406.23 L204.78,406.34 L204.87,406.47 L204.93,406.61 L204.98,406.75 L205.01,406.90 L205.03,407.05 Z" fill="#1a2060" filter="url(#bc)"/>
<path d="M236.31,398.50 L236.26,398.92 L236.17,399.33 L236.05,399.72 L235.88,400.10 L235.69,400.45 L235.48,400.77 L235.25,401.08 L234.99,401.37 L234.73,401.63 L234.44,401.88 L234.14,402.11 L233.83,402.31 L233.49,402.48 L233.14,402.62 L232.78,402.72 L232.40,402.78 L232.02,402.79 L231.63,402.75 L231.26,402.66 L230.90,402.51 L230.55,402.32 L230.24,402.08 L229.95,401.80 L229.70,401.49 L229.47,401.15 L229.28,400.80 L229.12,400.43 L228.99,400.06 L228.89,399.68 L228.80,399.29 L228.74,398.90 L228.71,398.50 L228.70,398.10 L228.72,397.69 L228.77,397.28 L228.86,396.88 L228.99,396.49 L229.16,396.11 L229.37,395.75 L229.62,395.43 L229.91,395.14 L230.22,394.90 L230.56,394.70 L230.92,394.55 L231.29,394.44 L231.66,394.38 L232.03,394.37 L232.40,394.38 L232.76,394.43 L233.12,394.51 L233.46,394.62 L233.80,394.75 L234.14,394.91 L234.46,395.09 L234.77,395.31 L235.07,395.55 L235.35,395.82 L235.60,396.13 L235.83,396.48 L236.01,396.85 L236.16,397.24 L236.26,397.65 L236.31,398.07 Z" fill="#2a56a8" filter="url(#bc)"/>
<path d="M235.36,398.60 L235.33,398.91 L235.24,399.20 L235.09,399.47 L234.93,399.72 L234.78,399.95 L234.64,400.19 L234.52,400.45 L234.40,400.72 L234.26,400.99 L234.07,401.23 L233.84,401.40 L233.57,401.51 L233.29,401.54 L233.01,401.53 L232.74,401.49 L232.48,401.47 L232.23,401.46 L231.96,401.48 L231.69,401.50 L231.40,401.48 L231.13,401.40 L230.88,401.24 L230.69,401.02 L230.53,400.75 L230.41,400.47 L230.31,400.20 L230.20,399.95 L230.06,399.71 L229.91,399.46 L229.76,399.20 L229.65,398.91 L229.60,398.60 L229.63,398.29 L229.73,397.99 L229.87,397.72 L230.03,397.48 L230.19,397.24 L230.32,397.00 L230.44,396.75 L230.56,396.48 L230.71,396.21 L230.89,395.97 L231.12,395.79 L231.39,395.69 L231.67,395.65 L231.96,395.67 L232.22,395.71 L232.48,395.73 L232.74,395.73 L233.00,395.71 L233.28,395.70 L233.56,395.72 L233.84,395.80 L234.08,395.96 L234.28,396.18 L234.43,396.44 L234.55,396.72 L234.65,396.99 L234.77,397.25 L234.90,397.49 L235.05,397.74 L235.20,398.00 L235.31,398.29 Z" fill="#4a78c8" filter="url(#b1)" opacity="0.85"/>
<ellipse cx="233.62" cy="399.78" rx="1.12" ry="1.01" fill="#20407e" opacity="0.3" filter="url(#b1)"/>
<ellipse cx="233.34" cy="399.05" rx="0.73" ry="1.20" fill="#20407e" opacity="0.3" filter="url(#b1)"/>
<ellipse cx="233.04" cy="399.02" rx="0.87" ry="1.13" fill="#20407e" opacity="0.3" filter="url(#b1)"/>
<path d="M247.02,404.60 L247.05,405.19 L246.96,405.77 L246.78,406.32 L246.52,406.82 L246.22,407.28 L245.92,407.72 L245.63,408.15 L245.35,408.60 L245.05,409.05 L244.72,409.49 L244.33,409.86 L243.88,410.15 L243.39,410.31 L242.89,410.36 L242.39,410.33 L241.90,410.26 L241.43,410.17 L240.96,410.10 L240.48,410.04 L239.99,409.96 L239.50,409.82 L239.03,409.58 L238.62,409.24 L238.28,408.80 L238.01,408.30 L237.80,407.78 L237.62,407.25 L237.44,406.74 L237.25,406.23 L237.06,405.72 L236.89,405.17 L236.78,404.60 L236.75,404.01 L236.84,403.43 L237.02,402.88 L237.28,402.38 L237.58,401.92 L237.88,401.48 L238.17,401.05 L238.45,400.60 L238.75,400.15 L239.08,399.71 L239.47,399.34 L239.92,399.05 L240.41,398.89 L240.91,398.84 L241.41,398.87 L241.90,398.94 L242.37,399.03 L242.84,399.10 L243.32,399.16 L243.81,399.24 L244.30,399.38 L244.77,399.62 L245.18,399.96 L245.52,400.40 L245.79,400.90 L246.00,401.42 L246.18,401.95 L246.36,402.46 L246.55,402.97 L246.74,403.48 L246.91,404.03 Z" fill="#2a56a8" filter="url(#bc)"/>
<path d="M246.23,403.92 L246.12,404.32 L245.99,404.71 L245.86,405.07 L245.74,405.44 L245.63,405.81 L245.52,406.19 L245.38,406.58 L245.21,406.95 L244.98,407.29 L244.69,407.57 L244.37,407.78 L244.01,407.90 L243.64,407.94 L243.28,407.94 L242.93,407.91 L242.59,407.88 L242.25,407.86 L241.91,407.86 L241.56,407.85 L241.20,407.81 L240.84,407.72 L240.49,407.56 L240.19,407.32 L239.93,407.00 L239.73,406.64 L239.59,406.24 L239.49,405.84 L239.40,405.45 L239.32,405.07 L239.23,404.69 L239.13,404.32 L239.03,403.92 L238.96,403.51 L238.93,403.08 L238.97,402.65 L239.09,402.24 L239.28,401.87 L239.53,401.55 L239.82,401.28 L240.11,401.05 L240.41,400.84 L240.69,400.63 L240.97,400.41 L241.25,400.18 L241.55,399.95 L241.87,399.75 L242.22,399.60 L242.59,399.53 L242.96,399.55 L243.32,399.67 L243.65,399.86 L243.96,400.09 L244.23,400.35 L244.49,400.61 L244.75,400.86 L245.02,401.10 L245.30,401.34 L245.58,401.60 L245.84,401.91 L246.06,402.25 L246.21,402.64 L246.29,403.07 L246.30,403.50 Z" fill="#5a88d0" filter="url(#b1)" opacity="0.85"/>
<ellipse cx="244.80" cy="404.48" rx="1.02" ry="1.02" fill="#20407e" opacity="0.3" filter="url(#b1)"/>
<ellipse cx="239.93" cy="406.85" rx="1.06" ry="1.45" fill="#20407e" opacity="0.3" filter="url(#b1)"/>
<ellipse cx="242.99" cy="403.49" rx="0.75" ry="1.24" fill="#20407e" opacity="0.3" filter="url(#b1)"/>
<path d="M253.94,408.90 L253.95,409.18 L253.93,409.46 L253.87,409.74 L253.77,410.01 L253.64,410.26 L253.47,410.50 L253.27,410.72 L253.05,410.91 L252.81,411.08 L252.56,411.22 L252.29,411.33 L252.02,411.43 L251.74,411.50 L251.47,411.55 L251.18,411.59 L250.90,411.61 L250.61,411.61 L250.33,411.59 L250.04,411.55 L249.75,411.48 L249.47,411.39 L249.20,411.27 L248.95,411.12 L248.71,410.94 L248.50,410.74 L248.32,410.51 L248.17,410.26 L248.06,410.00 L247.98,409.73 L247.93,409.45 L247.92,409.17 L247.94,408.90 L247.98,408.63 L248.04,408.37 L248.12,408.11 L248.23,407.87 L248.34,407.62 L248.48,407.39 L248.64,407.17 L248.81,406.95 L249.01,406.75 L249.22,406.56 L249.46,406.39 L249.72,406.25 L250.00,406.14 L250.29,406.06 L250.60,406.02 L250.90,406.01 L251.20,406.04 L251.50,406.10 L251.78,406.19 L252.05,406.31 L252.30,406.45 L252.54,406.61 L252.75,406.79 L252.95,406.98 L253.14,407.19 L253.31,407.40 L253.46,407.62 L253.60,407.86 L253.72,408.10 L253.82,408.36 L253.89,408.63 Z" fill="#2a56a8" filter="url(#bc)"/>
<path d="M252.63,408.87 L252.57,409.06 L252.53,409.24 L252.50,409.43 L252.48,409.63 L252.45,409.83 L252.39,410.03 L252.28,410.22 L252.12,410.36 L251.93,410.47 L251.72,410.54 L251.51,410.59 L251.31,410.64 L251.11,410.70 L250.93,410.78 L250.73,410.86 L250.52,410.93 L250.30,410.97 L250.08,410.95 L249.87,410.88 L249.68,410.77 L249.51,410.63 L249.37,410.48 L249.22,410.35 L249.06,410.23 L248.89,410.11 L248.72,409.99 L248.55,409.85 L248.43,409.68 L248.35,409.49 L248.33,409.28 L248.35,409.07 L248.41,408.87 L248.47,408.68 L248.51,408.50 L248.54,408.31 L248.56,408.11 L248.59,407.91 L248.65,407.71 L248.76,407.52 L248.92,407.38 L249.11,407.27 L249.32,407.20 L249.53,407.15 L249.73,407.10 L249.92,407.04 L250.11,406.96 L250.31,406.88 L250.52,406.81 L250.74,406.77 L250.96,406.79 L251.17,406.86 L251.36,406.98 L251.52,407.12 L251.67,407.26 L251.82,407.39 L251.97,407.51 L252.14,407.63 L252.32,407.75 L252.48,407.89 L252.61,408.06 L252.69,408.26 L252.71,408.46 L252.69,408.67 Z" fill="#4a78c8" filter="url(#b1)" opacity="0.85"/>
<path d="M268.77,417.00 L268.81,417.41 L268.82,417.82 L268.78,418.24 L268.68,418.65 L268.51,419.05 L268.26,419.41 L267.95,419.72 L267.60,419.99 L267.22,420.21 L266.84,420.40 L266.45,420.58 L266.06,420.75 L265.67,420.91 L265.27,421.07 L264.84,421.20 L264.40,421.28 L263.95,421.31 L263.49,421.26 L263.05,421.14 L262.65,420.95 L262.27,420.71 L261.93,420.44 L261.62,420.16 L261.33,419.87 L261.04,419.58 L260.75,419.28 L260.47,418.96 L260.21,418.62 L260.00,418.25 L259.84,417.85 L259.77,417.43 L259.77,417.00 L259.85,416.58 L259.99,416.18 L260.17,415.80 L260.36,415.44 L260.57,415.09 L260.78,414.74 L261.00,414.39 L261.24,414.05 L261.51,413.72 L261.84,413.42 L262.21,413.17 L262.62,412.99 L263.06,412.87 L263.51,412.83 L263.96,412.84 L264.40,412.88 L264.83,412.95 L265.25,413.02 L265.67,413.10 L266.09,413.19 L266.52,413.31 L266.93,413.46 L267.33,413.66 L267.69,413.93 L267.99,414.25 L268.23,414.61 L268.41,415.00 L268.53,415.40 L268.61,415.81 L268.67,416.21 L268.72,416.60 Z" fill="#2a56a8" filter="url(#bc)"/>
<path d="M267.08,416.42 L266.97,416.71 L266.84,416.98 L266.73,417.25 L266.64,417.52 L266.57,417.81 L266.50,418.11 L266.38,418.40 L266.19,418.66 L265.95,418.87 L265.65,419.02 L265.32,419.10 L265.00,419.14 L264.69,419.18 L264.39,419.23 L264.09,419.31 L263.79,419.40 L263.47,419.47 L263.13,419.50 L262.80,419.46 L262.49,419.34 L262.22,419.15 L262.00,418.92 L261.80,418.68 L261.61,418.45 L261.41,418.24 L261.19,418.04 L260.95,417.84 L260.72,417.60 L260.55,417.34 L260.45,417.04 L260.43,416.73 L260.50,416.42 L260.61,416.13 L260.74,415.85 L260.85,415.59 L260.93,415.32 L261.00,415.03 L261.08,414.73 L261.20,414.44 L261.38,414.17 L261.63,413.96 L261.93,413.82 L262.25,413.74 L262.58,413.69 L262.89,413.66 L263.19,413.61 L263.48,413.53 L263.79,413.44 L264.11,413.36 L264.45,413.33 L264.78,413.37 L265.09,413.50 L265.35,413.69 L265.58,413.92 L265.78,414.16 L265.97,414.39 L266.17,414.60 L266.39,414.80 L266.63,415.00 L266.86,415.23 L267.03,415.50 L267.13,415.80 L267.14,416.11 Z" fill="#4a78c8" filter="url(#b1)" opacity="0.85"/>
<ellipse cx="265.29" cy="419.33" rx="1.19" ry="0.77" fill="#20407e" opacity="0.3" filter="url(#b1)"/>
<ellipse cx="262.62" cy="415.53" rx="0.97" ry="0.71" fill="#20407e" opacity="0.3" filter="url(#b1)"/>
<ellipse cx="264.60" cy="415.90" rx="0.86" ry="1.17" fill="#20407e" opacity="0.3" filter="url(#b1)"/>
</g>
<rect x="199.50" y="386.40" width="71.80" height="59.70" fill="none" stroke="#c0c0c4" stroke-width="0.8"/>
<clipPath id="clip913"><rect x="273.70" y="386.40" width="71.70" height="59.70"/></clipPath>
<rect x="273.70" y="386.40" width="71.70" height="59.70" fill="#f2eff6"/>
<g clip-path="url(#clip913)">
<ellipse cx="295.50" cy="416.00" rx="8.00" ry="7.00" fill="#e8a8c8" fill-opacity="0.9" filter="url(#b1)"/>
<path d="M293.27,406.30 L293.13,407.04 L292.99,407.77 L292.88,408.50 L292.75,409.26 L292.57,410.02 L292.29,410.75 L291.88,411.42 L291.34,411.98 L290.70,412.43 L290.01,412.76 L289.30,413.02 L288.61,413.26 L287.93,413.52 L287.25,413.78 L286.54,414.04 L285.80,414.23 L285.03,414.30 L284.27,414.22 L283.53,413.96 L282.86,413.58 L282.26,413.11 L281.69,412.61 L281.15,412.12 L280.59,411.65 L280.02,411.17 L279.46,410.65 L278.95,410.06 L278.54,409.39 L278.28,408.64 L278.18,407.85 L278.21,407.07 L278.33,406.30 L278.47,405.56 L278.61,404.83 L278.72,404.10 L278.85,403.34 L279.03,402.58 L279.31,401.85 L279.72,401.18 L280.26,400.62 L280.90,400.17 L281.59,399.84 L282.30,399.58 L282.99,399.34 L283.67,399.08 L284.35,398.82 L285.06,398.56 L285.80,398.37 L286.57,398.30 L287.33,398.38 L288.07,398.64 L288.74,399.02 L289.34,399.49 L289.91,399.99 L290.45,400.48 L291.01,400.95 L291.58,401.43 L292.14,401.95 L292.65,402.54 L293.06,403.21 L293.32,403.96 L293.42,404.75 L293.39,405.53 Z" fill="#4a3a98" filter="url(#bc)"/>
<path d="M291.22,405.78 L291.12,406.30 L291.04,406.81 L290.97,407.34 L290.90,407.88 L290.79,408.43 L290.63,408.98 L290.37,409.50 L290.02,409.96 L289.58,410.32 L289.08,410.58 L288.54,410.76 L288.00,410.86 L287.47,410.93 L286.96,411.00 L286.46,411.08 L285.95,411.18 L285.42,411.28 L284.87,411.34 L284.31,411.33 L283.75,411.21 L283.23,410.99 L282.77,410.65 L282.39,410.23 L282.07,409.75 L281.82,409.25 L281.59,408.76 L281.37,408.28 L281.14,407.82 L280.89,407.35 L280.64,406.86 L280.42,406.33 L280.27,405.78 L280.23,405.20 L280.30,404.62 L280.50,404.08 L280.79,403.58 L281.14,403.14 L281.53,402.74 L281.91,402.38 L282.28,402.01 L282.64,401.64 L283.00,401.25 L283.38,400.85 L283.81,400.49 L284.29,400.19 L284.82,399.98 L285.38,399.90 L285.95,399.95 L286.49,400.10 L287.00,400.32 L287.48,400.58 L287.94,400.84 L288.39,401.08 L288.85,401.31 L289.33,401.54 L289.81,401.81 L290.28,402.13 L290.69,402.52 L291.02,402.99 L291.25,403.52 L291.36,404.09 L291.37,404.67 L291.31,405.23 Z" fill="#8a58a8" filter="url(#b1)" opacity="0.85"/>
<ellipse cx="284.96" cy="404.39" rx="1.60" ry="2.00" fill="#382c72" opacity="0.3" filter="url(#b1)"/>
<ellipse cx="287.91" cy="408.67" rx="2.27" ry="1.78" fill="#382c72" opacity="0.3" filter="url(#b1)"/>
<ellipse cx="285.48" cy="404.26" rx="1.63" ry="1.67" fill="#382c72" opacity="0.3" filter="url(#b1)"/>
<path d="M307.85,401.10 L307.95,401.76 L307.96,402.42 L307.84,403.08 L307.58,403.70 L307.20,404.26 L306.76,404.74 L306.28,405.19 L305.81,405.61 L305.35,406.04 L304.89,406.48 L304.41,406.92 L303.87,407.31 L303.28,407.62 L302.63,407.80 L301.96,407.83 L301.30,407.75 L300.66,407.59 L300.05,407.39 L299.45,407.19 L298.85,407.02 L298.23,406.84 L297.61,406.62 L297.01,406.32 L296.47,405.93 L296.03,405.42 L295.70,404.84 L295.47,404.21 L295.32,403.58 L295.19,402.95 L295.05,402.34 L294.90,401.73 L294.75,401.10 L294.65,400.44 L294.64,399.78 L294.76,399.12 L295.02,398.50 L295.40,397.94 L295.84,397.46 L296.32,397.01 L296.79,396.59 L297.25,396.16 L297.71,395.72 L298.19,395.28 L298.73,394.89 L299.32,394.58 L299.97,394.40 L300.64,394.37 L301.30,394.45 L301.94,394.61 L302.55,394.81 L303.15,395.01 L303.75,395.18 L304.37,395.36 L304.99,395.58 L305.59,395.88 L306.13,396.27 L306.57,396.78 L306.90,397.36 L307.13,397.99 L307.28,398.62 L307.41,399.25 L307.55,399.86 L307.70,400.47 Z" fill="#4a3a98" filter="url(#bc)"/>
<path d="M306.43,400.99 L306.44,401.44 L306.42,401.89 L306.37,402.34 L306.28,402.80 L306.15,403.25 L305.97,403.70 L305.73,404.12 L305.44,404.51 L305.09,404.86 L304.70,405.15 L304.27,405.39 L303.82,405.57 L303.34,405.68 L302.86,405.73 L302.39,405.73 L301.92,405.68 L301.47,405.59 L301.03,405.47 L300.61,405.32 L300.20,405.16 L299.80,404.97 L299.41,404.76 L299.02,404.53 L298.65,404.27 L298.29,403.97 L297.96,403.64 L297.65,403.28 L297.39,402.87 L297.18,402.43 L297.03,401.97 L296.95,401.48 L296.93,400.99 L296.98,400.51 L297.10,400.03 L297.28,399.58 L297.50,399.16 L297.77,398.77 L298.06,398.42 L298.38,398.09 L298.72,397.79 L299.06,397.51 L299.42,397.25 L299.79,397.01 L300.18,396.79 L300.58,396.58 L301.01,396.41 L301.46,396.27 L301.92,396.18 L302.40,396.13 L302.89,396.15 L303.37,396.23 L303.84,396.37 L304.28,396.59 L304.69,396.86 L305.05,397.18 L305.37,397.55 L305.64,397.94 L305.86,398.36 L306.03,398.80 L306.17,399.23 L306.27,399.67 L306.35,400.11 L306.40,400.55 Z" fill="#7a50a0" filter="url(#b1)" opacity="0.85"/>
<ellipse cx="302.63" cy="404.79" rx="1.04" ry="1.62" fill="#382c72" opacity="0.3" filter="url(#b1)"/>
<ellipse cx="301.10" cy="397.64" rx="1.32" ry="1.15" fill="#382c72" opacity="0.3" filter="url(#b1)"/>
<ellipse cx="298.60" cy="401.44" rx="1.28" ry="1.33" fill="#382c72" opacity="0.3" filter="url(#b1)"/>
<path d="M339.47,398.50 L339.48,399.16 L339.36,399.81 L339.13,400.42 L338.82,400.98 L338.47,401.49 L338.12,401.99 L337.78,402.49 L337.45,403.00 L337.10,403.51 L336.69,404.00 L336.22,404.41 L335.68,404.71 L335.09,404.89 L334.48,404.93 L333.88,404.90 L333.30,404.82 L332.73,404.74 L332.17,404.68 L331.59,404.62 L330.99,404.53 L330.41,404.36 L329.85,404.09 L329.37,403.69 L328.97,403.20 L328.65,402.63 L328.40,402.05 L328.17,401.47 L327.95,400.90 L327.71,400.34 L327.47,399.76 L327.26,399.14 L327.13,398.50 L327.12,397.84 L327.24,397.19 L327.47,396.58 L327.78,396.02 L328.13,395.51 L328.48,395.01 L328.82,394.51 L329.15,394.00 L329.50,393.49 L329.91,393.00 L330.38,392.59 L330.92,392.29 L331.51,392.11 L332.12,392.07 L332.72,392.10 L333.30,392.18 L333.87,392.26 L334.43,392.32 L335.01,392.38 L335.61,392.47 L336.19,392.64 L336.75,392.91 L337.23,393.31 L337.63,393.80 L337.95,394.37 L338.20,394.95 L338.43,395.53 L338.65,396.10 L338.89,396.66 L339.13,397.24 L339.34,397.86 Z" fill="#5a3a98" filter="url(#bc)"/>
<path d="M338.09,397.89 L338.01,398.36 L337.87,398.82 L337.68,399.24 L337.46,399.64 L337.22,400.01 L336.98,400.36 L336.73,400.70 L336.47,401.04 L336.21,401.38 L335.92,401.71 L335.61,402.03 L335.26,402.31 L334.87,402.54 L334.45,402.71 L334.01,402.79 L333.56,402.79 L333.13,402.71 L332.71,402.55 L332.31,402.35 L331.95,402.11 L331.61,401.85 L331.28,401.59 L330.97,401.32 L330.65,401.04 L330.34,400.76 L330.03,400.45 L329.74,400.10 L329.48,399.72 L329.27,399.30 L329.12,398.85 L329.04,398.37 L329.04,397.89 L329.12,397.41 L329.26,396.96 L329.44,396.53 L329.67,396.14 L329.90,395.77 L330.15,395.42 L330.40,395.07 L330.65,394.73 L330.92,394.40 L331.20,394.06 L331.52,393.75 L331.87,393.46 L332.26,393.23 L332.68,393.07 L333.12,392.99 L333.56,392.99 L334.00,393.07 L334.42,393.22 L334.81,393.43 L335.18,393.67 L335.52,393.92 L335.84,394.19 L336.16,394.46 L336.47,394.73 L336.79,395.02 L337.10,395.33 L337.39,395.67 L337.65,396.06 L337.86,396.48 L338.01,396.93 L338.09,397.41 Z" fill="#8a58a8" filter="url(#b1)" opacity="0.85"/>
<ellipse cx="334.79" cy="395.73" rx="1.51" ry="1.13" fill="#442c72" opacity="0.3" filter="url(#b1)"/>
<ellipse cx="336.61" cy="397.34" rx="1.49" ry="1.70" fill="#442c72" opacity="0.3" filter="url(#b1)"/>
<ellipse cx="335.19" cy="397.67" rx="1.39" ry="1.93" fill="#442c72" opacity="0.3" filter="url(#b1)"/>
<path d="M329.08,415.00 L329.14,415.44 L329.16,415.89 L329.12,416.34 L329.00,416.78 L328.79,417.19 L328.50,417.54 L328.16,417.84 L327.81,418.11 L327.46,418.36 L327.12,418.62 L326.78,418.88 L326.42,419.15 L326.03,419.38 L325.61,419.55 L325.16,419.63 L324.70,419.62 L324.25,419.52 L323.83,419.37 L323.43,419.19 L323.04,419.01 L322.64,418.85 L322.24,418.68 L321.83,418.49 L321.45,418.25 L321.10,417.95 L320.83,417.58 L320.65,417.17 L320.53,416.73 L320.47,416.28 L320.42,415.85 L320.38,415.43 L320.32,415.00 L320.26,414.56 L320.24,414.11 L320.28,413.66 L320.40,413.22 L320.61,412.81 L320.90,412.46 L321.24,412.16 L321.59,411.89 L321.94,411.64 L322.28,411.38 L322.62,411.12 L322.98,410.85 L323.37,410.62 L323.79,410.45 L324.24,410.37 L324.70,410.38 L325.15,410.48 L325.57,410.63 L325.97,410.81 L326.36,410.99 L326.76,411.15 L327.16,411.32 L327.57,411.51 L327.95,411.75 L328.30,412.05 L328.57,412.42 L328.75,412.83 L328.87,413.27 L328.93,413.72 L328.98,414.15 L329.02,414.57 Z" fill="#3a2a88" filter="url(#bc)"/>
<path d="M328.67,414.74 L328.64,415.08 L328.53,415.39 L328.36,415.68 L328.16,415.95 L327.98,416.20 L327.82,416.45 L327.68,416.73 L327.54,417.02 L327.37,417.31 L327.14,417.56 L326.87,417.75 L326.56,417.86 L326.22,417.90 L325.89,417.88 L325.57,417.84 L325.26,417.82 L324.96,417.82 L324.65,417.84 L324.32,417.85 L323.98,417.83 L323.66,417.74 L323.37,417.58 L323.14,417.34 L322.95,417.05 L322.82,416.75 L322.69,416.46 L322.56,416.19 L322.40,415.93 L322.22,415.67 L322.05,415.38 L321.91,415.07 L321.86,414.74 L321.89,414.41 L322.00,414.10 L322.17,413.81 L322.36,413.54 L322.55,413.29 L322.71,413.04 L322.85,412.76 L322.99,412.47 L323.16,412.18 L323.38,411.93 L323.66,411.74 L323.97,411.63 L324.31,411.59 L324.64,411.61 L324.96,411.65 L325.26,411.67 L325.57,411.67 L325.88,411.65 L326.21,411.64 L326.54,411.66 L326.87,411.75 L327.16,411.91 L327.39,412.15 L327.57,412.44 L327.71,412.74 L327.84,413.03 L327.97,413.30 L328.13,413.56 L328.31,413.82 L328.48,414.10 L328.61,414.41 Z" fill="#4a3a98" filter="url(#b1)" opacity="0.85"/>
<ellipse cx="323.21" cy="416.17" rx="0.70" ry="0.90" fill="#2c2066" opacity="0.3" filter="url(#b1)"/>
<ellipse cx="325.55" cy="413.80" rx="1.07" ry="1.00" fill="#2c2066" opacity="0.3" filter="url(#b1)"/>
<ellipse cx="325.93" cy="414.60" rx="1.13" ry="0.85" fill="#2c2066" opacity="0.3" filter="url(#b1)"/>
<path d="M340.14,416.70 L340.14,417.19 L340.07,417.67 L339.93,418.14 L339.72,418.58 L339.45,418.99 L339.14,419.36 L338.80,419.69 L338.44,420.00 L338.07,420.29 L337.68,420.55 L337.28,420.80 L336.87,421.04 L336.44,421.25 L335.98,421.42 L335.50,421.56 L335.00,421.63 L334.49,421.64 L333.99,421.57 L333.50,421.43 L333.04,421.23 L332.62,420.98 L332.23,420.68 L331.88,420.35 L331.56,420.00 L331.26,419.64 L330.99,419.27 L330.73,418.89 L330.48,418.50 L330.26,418.08 L330.08,417.64 L329.94,417.18 L329.86,416.70 L329.86,416.21 L329.93,415.73 L330.07,415.26 L330.28,414.82 L330.55,414.41 L330.86,414.04 L331.20,413.71 L331.56,413.40 L331.93,413.11 L332.32,412.85 L332.72,412.60 L333.13,412.36 L333.56,412.15 L334.02,411.98 L334.50,411.84 L335.00,411.77 L335.51,411.76 L336.01,411.83 L336.50,411.97 L336.96,412.17 L337.38,412.42 L337.77,412.72 L338.12,413.05 L338.44,413.40 L338.74,413.76 L339.01,414.13 L339.27,414.51 L339.52,414.90 L339.74,415.32 L339.92,415.76 L340.06,416.22 Z" fill="#3a2a88" filter="url(#bc)"/>
<path d="M339.00,416.25 L338.89,416.58 L338.76,416.90 L338.63,417.20 L338.51,417.50 L338.40,417.81 L338.28,418.12 L338.15,418.45 L337.97,418.76 L337.74,419.04 L337.46,419.27 L337.13,419.44 L336.77,419.54 L336.41,419.58 L336.04,419.57 L335.69,419.55 L335.35,419.53 L335.02,419.51 L334.68,419.51 L334.33,419.50 L333.96,419.47 L333.60,419.39 L333.26,419.26 L332.95,419.06 L332.69,418.80 L332.50,418.50 L332.35,418.17 L332.25,417.84 L332.17,417.51 L332.09,417.20 L332.00,416.89 L331.90,416.57 L331.80,416.25 L331.72,415.90 L331.70,415.55 L331.74,415.19 L331.86,414.86 L332.05,414.55 L332.30,414.28 L332.58,414.06 L332.88,413.87 L333.17,413.70 L333.46,413.52 L333.74,413.34 L334.02,413.15 L334.32,412.96 L334.64,412.80 L334.99,412.67 L335.35,412.61 L335.72,412.63 L336.08,412.73 L336.42,412.88 L336.72,413.08 L337.00,413.30 L337.26,413.51 L337.52,413.72 L337.79,413.91 L338.06,414.11 L338.34,414.33 L338.60,414.58 L338.82,414.87 L338.98,415.19 L339.06,415.54 L339.06,415.90 Z" fill="#5a3a98" filter="url(#b1)" opacity="0.85"/>
<ellipse cx="333.92" cy="416.78" rx="1.47" ry="1.41" fill="#2c2066" opacity="0.3" filter="url(#b1)"/>
<ellipse cx="335.13" cy="418.41" rx="0.78" ry="1.03" fill="#2c2066" opacity="0.3" filter="url(#b1)"/>
<ellipse cx="332.21" cy="415.70" rx="1.41" ry="0.89" fill="#2c2066" opacity="0.3" filter="url(#b1)"/>
<path d="M324.90,423.60 L324.80,424.07 L324.71,424.54 L324.63,425.01 L324.54,425.50 L324.41,425.99 L324.20,426.46 L323.90,426.88 L323.50,427.24 L323.04,427.52 L322.54,427.73 L322.03,427.90 L321.53,428.06 L321.04,428.23 L320.55,428.41 L320.04,428.57 L319.50,428.69 L318.94,428.74 L318.39,428.67 L317.86,428.51 L317.38,428.25 L316.94,427.95 L316.53,427.64 L316.13,427.33 L315.73,427.03 L315.31,426.73 L314.90,426.39 L314.53,426.01 L314.25,425.58 L314.06,425.10 L314.00,424.60 L314.02,424.09 L314.10,423.60 L314.20,423.13 L314.29,422.66 L314.37,422.19 L314.46,421.70 L314.59,421.21 L314.80,420.74 L315.10,420.32 L315.50,419.96 L315.96,419.68 L316.46,419.47 L316.97,419.30 L317.47,419.14 L317.96,418.97 L318.45,418.79 L318.96,418.63 L319.50,418.51 L320.06,418.46 L320.61,418.53 L321.14,418.69 L321.62,418.95 L322.06,419.25 L322.47,419.56 L322.87,419.87 L323.27,420.17 L323.69,420.47 L324.10,420.81 L324.47,421.19 L324.75,421.62 L324.94,422.10 L325.00,422.60 L324.98,423.11 Z" fill="#3a2a88" filter="url(#bc)"/>
<path d="M324.11,423.33 L324.00,423.67 L323.92,424.00 L323.87,424.33 L323.83,424.68 L323.77,425.05 L323.66,425.41 L323.46,425.73 L323.17,426.00 L322.82,426.19 L322.43,426.32 L322.04,426.41 L321.68,426.49 L321.33,426.60 L320.98,426.74 L320.62,426.89 L320.24,427.01 L319.83,427.08 L319.42,427.05 L319.04,426.92 L318.69,426.72 L318.39,426.46 L318.12,426.21 L317.85,425.97 L317.57,425.76 L317.26,425.55 L316.93,425.34 L316.63,425.08 L316.40,424.78 L316.25,424.43 L316.22,424.06 L316.27,423.69 L316.37,423.33 L316.47,422.99 L316.56,422.67 L316.61,422.33 L316.64,421.98 L316.70,421.61 L316.81,421.25 L317.02,420.93 L317.30,420.66 L317.66,420.47 L318.04,420.35 L318.43,420.26 L318.80,420.17 L319.14,420.06 L319.49,419.92 L319.85,419.78 L320.24,419.65 L320.64,419.59 L321.05,419.62 L321.43,419.74 L321.78,419.95 L322.08,420.20 L322.35,420.45 L322.62,420.69 L322.90,420.91 L323.22,421.11 L323.54,421.33 L323.84,421.58 L324.08,421.89 L324.22,422.23 L324.26,422.60 L324.21,422.98 Z" fill="#5a3a98" filter="url(#b1)" opacity="0.85"/>
<ellipse cx="320.82" cy="426.15" rx="1.38" ry="1.07" fill="#2c2066" opacity="0.3" filter="url(#b1)"/>
<ellipse cx="316.70" cy="422.36" rx="1.52" ry="1.23" fill="#2c2066" opacity="0.3" filter="url(#b1)"/>
<ellipse cx="317.75" cy="422.60" rx="1.05" ry="0.98" fill="#2c2066" opacity="0.3" filter="url(#b1)"/>
<path d="M335.21,427.10 L335.24,427.55 L335.23,428.00 L335.15,428.45 L335.00,428.88 L334.79,429.29 L334.53,429.66 L334.22,429.99 L333.88,430.28 L333.51,430.53 L333.14,430.75 L332.75,430.94 L332.36,431.11 L331.96,431.27 L331.56,431.41 L331.14,431.52 L330.70,431.61 L330.25,431.64 L329.80,431.63 L329.35,431.55 L328.92,431.40 L328.51,431.19 L328.14,430.93 L327.81,430.62 L327.52,430.28 L327.27,429.91 L327.05,429.54 L326.86,429.15 L326.69,428.76 L326.53,428.36 L326.39,427.96 L326.28,427.54 L326.19,427.10 L326.16,426.65 L326.17,426.20 L326.25,425.75 L326.40,425.32 L326.61,424.91 L326.87,424.54 L327.18,424.21 L327.52,423.92 L327.89,423.67 L328.26,423.45 L328.65,423.26 L329.04,423.09 L329.44,422.93 L329.84,422.79 L330.26,422.68 L330.70,422.59 L331.15,422.56 L331.60,422.57 L332.05,422.65 L332.48,422.80 L332.89,423.01 L333.26,423.27 L333.59,423.58 L333.88,423.92 L334.13,424.29 L334.35,424.66 L334.54,425.05 L334.71,425.44 L334.87,425.84 L335.01,426.24 L335.12,426.66 Z" fill="#d8b8d8" filter="url(#bc)"/>
<path d="M334.42,426.69 L334.31,427.00 L334.18,427.29 L334.07,427.58 L333.99,427.87 L333.92,428.18 L333.84,428.50 L333.72,428.81 L333.54,429.09 L333.29,429.32 L332.99,429.47 L332.67,429.56 L332.34,429.61 L332.03,429.64 L331.73,429.70 L331.44,429.78 L331.13,429.88 L330.81,429.96 L330.48,429.99 L330.14,429.95 L329.84,429.82 L329.57,429.62 L329.34,429.37 L329.15,429.11 L328.96,428.86 L328.75,428.64 L328.53,428.43 L328.29,428.21 L328.07,427.96 L327.89,427.67 L327.79,427.35 L327.78,427.02 L327.84,426.69 L327.96,426.37 L328.08,426.08 L328.19,425.80 L328.28,425.51 L328.35,425.20 L328.43,424.88 L328.55,424.56 L328.73,424.28 L328.97,424.06 L329.27,423.90 L329.60,423.81 L329.92,423.77 L330.24,423.73 L330.53,423.68 L330.83,423.59 L331.13,423.50 L331.46,423.41 L331.79,423.38 L332.12,423.43 L332.43,423.55 L332.70,423.76 L332.92,424.01 L333.12,424.27 L333.31,424.51 L333.51,424.74 L333.74,424.95 L333.97,425.17 L334.20,425.42 L334.38,425.70 L334.48,426.02 L334.49,426.36 Z" fill="#e8d0e0" filter="url(#b1)" opacity="0.85"/>
<ellipse cx="328.52" cy="426.28" rx="0.81" ry="1.33" fill="#a28aa2" opacity="0.3" filter="url(#b1)"/>
<ellipse cx="331.71" cy="425.37" rx="0.80" ry="0.92" fill="#a28aa2" opacity="0.3" filter="url(#b1)"/>
<ellipse cx="328.38" cy="426.96" rx="1.19" ry="1.26" fill="#a28aa2" opacity="0.3" filter="url(#b1)"/>
<path d="M325.85,434.00 L325.92,434.54 L325.95,435.10 L325.91,435.67 L325.75,436.22 L325.49,436.72 L325.13,437.16 L324.71,437.54 L324.27,437.87 L323.83,438.18 L323.41,438.50 L322.98,438.83 L322.54,439.16 L322.05,439.45 L321.53,439.66 L320.97,439.77 L320.40,439.75 L319.85,439.63 L319.32,439.43 L318.82,439.21 L318.33,438.99 L317.84,438.79 L317.34,438.58 L316.83,438.35 L316.35,438.05 L315.93,437.67 L315.59,437.21 L315.35,436.70 L315.21,436.15 L315.13,435.60 L315.08,435.06 L315.02,434.53 L314.95,434.00 L314.88,433.46 L314.85,432.90 L314.89,432.33 L315.05,431.78 L315.31,431.28 L315.67,430.84 L316.09,430.46 L316.53,430.13 L316.97,429.82 L317.39,429.50 L317.82,429.17 L318.26,428.84 L318.75,428.55 L319.27,428.34 L319.83,428.23 L320.40,428.25 L320.95,428.37 L321.48,428.57 L321.98,428.79 L322.47,429.01 L322.96,429.21 L323.46,429.42 L323.97,429.65 L324.45,429.95 L324.87,430.33 L325.21,430.79 L325.45,431.30 L325.59,431.85 L325.67,432.40 L325.72,432.94 L325.78,433.47 Z" fill="#3a2a88" filter="url(#bc)"/>
<path d="M323.64,434.62 L323.52,435.00 L323.38,435.37 L323.24,435.73 L323.11,436.08 L322.99,436.44 L322.87,436.81 L322.71,437.19 L322.51,437.55 L322.25,437.88 L321.93,438.14 L321.56,438.33 L321.16,438.44 L320.75,438.49 L320.35,438.48 L319.95,438.46 L319.58,438.44 L319.20,438.43 L318.82,438.43 L318.42,438.42 L318.01,438.39 L317.61,438.29 L317.23,438.13 L316.88,437.89 L316.60,437.59 L316.39,437.23 L316.23,436.85 L316.11,436.47 L316.02,436.09 L315.92,435.72 L315.81,435.36 L315.69,435.00 L315.58,434.62 L315.50,434.21 L315.47,433.80 L315.52,433.39 L315.66,432.99 L315.88,432.64 L316.16,432.33 L316.48,432.08 L316.81,431.85 L317.14,431.65 L317.45,431.44 L317.76,431.22 L318.08,430.99 L318.41,430.77 L318.77,430.57 L319.16,430.44 L319.58,430.37 L319.99,430.40 L320.39,430.52 L320.76,430.70 L321.10,430.93 L321.41,431.18 L321.71,431.43 L322.00,431.66 L322.31,431.89 L322.62,432.12 L322.93,432.37 L323.23,432.66 L323.47,433.00 L323.64,433.38 L323.72,433.79 L323.72,434.21 Z" fill="#5a3a98" filter="url(#b1)" opacity="0.85"/>
<ellipse cx="320.17" cy="430.76" rx="1.31" ry="1.26" fill="#2c2066" opacity="0.3" filter="url(#b1)"/>
<ellipse cx="318.73" cy="436.07" rx="1.07" ry="0.90" fill="#2c2066" opacity="0.3" filter="url(#b1)"/>
<ellipse cx="318.80" cy="434.46" rx="1.19" ry="1.19" fill="#2c2066" opacity="0.3" filter="url(#b1)"/>
<path d="M336.43,438.30 L336.46,438.89 L336.39,439.47 L336.21,440.03 L335.95,440.56 L335.62,441.03 L335.24,441.47 L334.85,441.87 L334.46,442.26 L334.06,442.64 L333.65,443.02 L333.22,443.38 L332.74,443.71 L332.23,443.99 L331.67,444.18 L331.09,444.27 L330.50,444.26 L329.92,444.15 L329.37,443.97 L328.85,443.74 L328.35,443.49 L327.86,443.24 L327.38,442.97 L326.89,442.70 L326.41,442.39 L325.96,442.03 L325.55,441.61 L325.21,441.13 L324.96,440.59 L324.81,440.03 L324.75,439.44 L324.77,438.86 L324.83,438.30 L324.91,437.75 L325.01,437.21 L325.11,436.67 L325.23,436.12 L325.38,435.57 L325.60,435.02 L325.89,434.51 L326.26,434.06 L326.70,433.67 L327.21,433.37 L327.75,433.15 L328.30,433.00 L328.86,432.89 L329.41,432.80 L329.95,432.73 L330.50,432.66 L331.06,432.61 L331.64,432.59 L332.22,432.64 L332.79,432.78 L333.33,433.01 L333.82,433.33 L334.25,433.73 L334.62,434.18 L334.92,434.67 L335.19,435.16 L335.44,435.66 L335.68,436.15 L335.91,436.66 L336.13,437.18 L336.31,437.73 Z" fill="#3a2a88" filter="url(#bc)"/>
<path d="M334.76,438.45 L334.72,438.88 L334.60,439.30 L334.43,439.69 L334.21,440.05 L333.96,440.38 L333.70,440.68 L333.43,440.97 L333.16,441.25 L332.89,441.53 L332.60,441.80 L332.30,442.07 L331.97,442.32 L331.60,442.54 L331.21,442.71 L330.79,442.81 L330.36,442.85 L329.93,442.80 L329.52,442.69 L329.13,442.52 L328.77,442.30 L328.44,442.05 L328.13,441.79 L327.85,441.52 L327.57,441.25 L327.29,440.98 L327.01,440.69 L326.74,440.39 L326.49,440.06 L326.28,439.69 L326.11,439.30 L326.00,438.88 L325.97,438.45 L326.01,438.02 L326.12,437.61 L326.30,437.22 L326.52,436.86 L326.76,436.53 L327.03,436.22 L327.30,435.93 L327.57,435.65 L327.84,435.38 L328.12,435.10 L328.43,434.83 L328.76,434.58 L329.12,434.37 L329.52,434.20 L329.93,434.09 L330.36,434.06 L330.79,434.10 L331.21,434.21 L331.60,434.39 L331.96,434.61 L332.29,434.85 L332.59,435.12 L332.88,435.38 L333.16,435.65 L333.44,435.93 L333.71,436.21 L333.98,436.52 L334.23,436.85 L334.45,437.21 L334.62,437.61 L334.73,438.02 Z" fill="#4a3a98" filter="url(#b1)" opacity="0.85"/>
<ellipse cx="331.35" cy="436.64" rx="1.65" ry="1.13" fill="#2c2066" opacity="0.3" filter="url(#b1)"/>
<ellipse cx="331.89" cy="435.79" rx="1.10" ry="1.64" fill="#2c2066" opacity="0.3" filter="url(#b1)"/>
<ellipse cx="327.80" cy="438.35" rx="1.06" ry="1.72" fill="#2c2066" opacity="0.3" filter="url(#b1)"/>
<path d="M346.11,441.70 L345.97,442.29 L345.77,442.85 L345.55,443.38 L345.35,443.92 L345.16,444.46 L344.96,445.01 L344.70,445.56 L344.37,446.07 L343.94,446.50 L343.43,446.83 L342.86,447.06 L342.28,447.20 L341.70,447.30 L341.13,447.38 L340.57,447.48 L340.00,447.59 L339.41,447.68 L338.81,447.70 L338.20,447.63 L337.63,447.43 L337.10,447.12 L336.65,446.72 L336.25,446.27 L335.88,445.82 L335.52,445.37 L335.15,444.94 L334.78,444.49 L334.41,444.01 L334.11,443.49 L333.91,442.91 L333.84,442.31 L333.89,441.70 L334.03,441.11 L334.23,440.55 L334.45,440.02 L334.65,439.48 L334.84,438.94 L335.04,438.39 L335.30,437.84 L335.63,437.33 L336.06,436.90 L336.57,436.57 L337.14,436.34 L337.72,436.20 L338.30,436.10 L338.87,436.02 L339.43,435.92 L340.00,435.81 L340.59,435.72 L341.19,435.70 L341.80,435.77 L342.37,435.97 L342.90,436.28 L343.35,436.68 L343.75,437.13 L344.12,437.58 L344.48,438.03 L344.85,438.46 L345.22,438.91 L345.59,439.39 L345.89,439.91 L346.09,440.49 L346.16,441.09 Z" fill="#3a2a88" filter="url(#bc)"/>
<path d="M343.62,441.72 L343.66,442.16 L343.62,442.61 L343.51,443.04 L343.32,443.44 L343.07,443.81 L342.78,444.13 L342.45,444.42 L342.12,444.67 L341.78,444.91 L341.44,445.12 L341.10,445.34 L340.75,445.55 L340.39,445.75 L340.00,445.93 L339.59,446.08 L339.16,446.18 L338.72,446.22 L338.28,446.18 L337.85,446.06 L337.44,445.87 L337.07,445.63 L336.75,445.33 L336.46,445.01 L336.21,444.67 L335.98,444.33 L335.76,443.99 L335.55,443.65 L335.34,443.30 L335.13,442.94 L334.95,442.56 L334.80,442.15 L334.70,441.72 L334.67,441.28 L334.71,440.83 L334.82,440.40 L335.01,440.00 L335.26,439.63 L335.55,439.30 L335.87,439.02 L336.21,438.76 L336.55,438.53 L336.89,438.31 L337.23,438.10 L337.58,437.89 L337.94,437.69 L338.33,437.51 L338.73,437.36 L339.16,437.26 L339.61,437.22 L340.05,437.26 L340.48,437.38 L340.88,437.56 L341.25,437.81 L341.58,438.11 L341.86,438.43 L342.12,438.76 L342.35,439.10 L342.57,439.44 L342.78,439.79 L342.99,440.13 L343.19,440.50 L343.37,440.88 L343.52,441.29 Z" fill="#4a3a98" filter="url(#b1)" opacity="0.85"/>
<ellipse cx="337.41" cy="439.99" rx="1.42" ry="1.62" fill="#2c2066" opacity="0.3" filter="url(#b1)"/>
<ellipse cx="341.77" cy="443.68" rx="1.67" ry="1.77" fill="#2c2066" opacity="0.3" filter="url(#b1)"/>
<ellipse cx="339.39" cy="443.99" rx="0.92" ry="1.77" fill="#2c2066" opacity="0.3" filter="url(#b1)"/>
<path d="M321.13,445.40 L321.03,445.78 L320.90,446.16 L320.74,446.52 L320.56,446.88 L320.35,447.24 L320.11,447.59 L319.83,447.93 L319.49,448.26 L319.09,448.56 L318.64,448.83 L318.13,449.05 L317.57,449.22 L316.99,449.33 L316.39,449.39 L315.79,449.39 L315.20,449.36 L314.63,449.29 L314.07,449.20 L313.52,449.09 L312.98,448.97 L312.45,448.83 L311.92,448.67 L311.40,448.48 L310.91,448.26 L310.46,448.00 L310.06,447.69 L309.72,447.35 L309.47,446.98 L309.31,446.59 L309.22,446.19 L309.21,445.79 L309.27,445.40 L309.37,445.02 L309.50,444.64 L309.66,444.28 L309.84,443.92 L310.05,443.56 L310.29,443.21 L310.57,442.87 L310.91,442.54 L311.31,442.24 L311.76,441.97 L312.27,441.75 L312.83,441.58 L313.41,441.47 L314.01,441.41 L314.61,441.41 L315.20,441.44 L315.77,441.51 L316.33,441.60 L316.88,441.71 L317.42,441.83 L317.95,441.97 L318.48,442.13 L319.00,442.32 L319.49,442.54 L319.94,442.80 L320.34,443.11 L320.68,443.45 L320.93,443.82 L321.09,444.21 L321.18,444.61 L321.19,445.01 Z" fill="#6a3a98" filter="url(#bc)"/>
<path d="M319.61,445.24 L319.65,445.52 L319.65,445.81 L319.60,446.10 L319.50,446.39 L319.33,446.66 L319.12,446.92 L318.84,447.16 L318.53,447.36 L318.17,447.54 L317.79,447.68 L317.38,447.79 L316.97,447.87 L316.56,447.93 L316.15,447.96 L315.74,447.97 L315.33,447.97 L314.93,447.95 L314.53,447.92 L314.13,447.88 L313.73,447.82 L313.33,447.73 L312.94,447.63 L312.56,447.49 L312.19,447.33 L311.86,447.14 L311.57,446.91 L311.33,446.67 L311.14,446.40 L311.01,446.11 L310.94,445.82 L310.92,445.53 L310.97,445.24 L311.05,444.96 L311.18,444.69 L311.33,444.43 L311.51,444.18 L311.71,443.95 L311.93,443.72 L312.16,443.50 L312.42,443.29 L312.69,443.09 L312.99,442.89 L313.31,442.71 L313.67,442.55 L314.05,442.42 L314.46,442.31 L314.89,442.24 L315.33,442.21 L315.78,442.22 L316.22,442.27 L316.64,442.37 L317.04,442.50 L317.40,442.65 L317.74,442.84 L318.04,443.04 L318.30,443.26 L318.54,443.48 L318.75,443.71 L318.95,443.95 L319.12,444.19 L319.27,444.44 L319.41,444.70 L319.52,444.96 Z" fill="#8a58a8" filter="url(#b1)" opacity="0.85"/>
<ellipse cx="314.35" cy="446.83" rx="1.46" ry="0.93" fill="#502c72" opacity="0.3" filter="url(#b1)"/>
<ellipse cx="314.27" cy="446.69" rx="1.09" ry="1.15" fill="#502c72" opacity="0.3" filter="url(#b1)"/>
<ellipse cx="315.14" cy="443.75" rx="1.33" ry="0.83" fill="#502c72" opacity="0.3" filter="url(#b1)"/>
</g>
<rect x="273.70" y="386.40" width="71.70" height="59.70" fill="none" stroke="#c0c0c4" stroke-width="0.8"/>
<clipPath id="fclip974"><rect x="198.10" y="450.40" width="63.40" height="63.00"/></clipPath>
<rect x="198.10" y="450.40" width="63.40" height="63.00" fill="#fff"/>
<g clip-path="url(#fclip974)">
<rect x="208" y="461" width="37" height="10" rx="3" fill="#a0a0a0" filter="url(#b1)"/>
<path d="M213.4,463.5h0.7 M231.8,461.8h0.7 M215.4,464.3h0.7 M238.5,462.1h0.7 M226.7,459.9h0.7 M207.1,461.0h0.7 M229.8,458.6h0.7 M238.0,459.9h0.7 M216.1,458.3h0.7 M245.9,463.9h0.7 M241.1,462.9h0.7 M208.3,460.6h0.7 M226.4,458.9h0.7 M244.1,460.9h0.7 M213.0,464.5h0.7 M211.9,465.4h0.7 M224.7,462.4h0.7 M220.4,461.9h0.7 M214.3,458.3h0.7 M240.8,459.9h0.7 M237.4,459.7h0.7 M244.8,465.2h0.7 M236.4,464.1h0.7 M229.6,463.8h0.7 M211.8,461.8h0.7 M239.3,459.6h0.7 M243.0,465.1h0.7 M223.0,460.9h0.7 M224.6,461.1h0.7 M245.8,461.1h0.7 M208.0,458.7h0.7 M235.0,465.9h0.7 M226.3,461.9h0.7 M228.5,464.0h0.7 M215.7,462.9h0.7 M228.7,463.0h0.7 M214.0,459.4h0.7 M220.6,465.4h0.7 M220.5,462.8h0.7 M219.0,458.8h0.7 M209.6,464.5h0.7 M237.3,461.0h0.7 M233.7,463.4h0.7 M242.0,465.7h0.7 M222.9,465.9h0.7 M244.5,462.7h0.7 M241.4,461.9h0.7 M221.6,460.0h0.7 M241.2,459.3h0.7 M209.7,464.4h0.7 M237.2,461.9h0.7 M239.6,458.4h0.7 M217.1,460.3h0.7 M223.4,459.4h0.7 M209.7,460.7h0.7 M242.1,465.9h0.7 M236.1,461.8h0.7 M216.8,465.7h0.7 M227.5,463.8h0.7 M208.1,459.7h0.7 M239.7,464.4h0.7 M241.4,462.8h0.7 M223.6,462.6h0.7 M240.1,460.5h0.7 M227.8,460.2h0.7 M237.0,458.1h0.7 M233.7,465.6h0.7 M207.9,462.7h0.7 M232.1,464.8h0.7 M229.8,460.1h0.7 M222.8,465.7h0.7 M242.3,459.1h0.7 M210.7,458.8h0.7 M208.0,461.6h0.7 M212.5,464.9h0.7 M232.6,459.0h0.7 M228.0,460.6h0.7 M226.3,459.8h0.7 M213.5,459.5h0.7 M221.7,463.7h0.7" stroke="#444" stroke-width="0.66" stroke-opacity="0.7" fill="none"/>
<path d="M221.9,469.5h0.7 M239.2,464.5h0.7 M240.3,467.5h0.7 M209.6,469.7h0.7 M217.5,465.1h0.7 M223.7,467.1h0.7 M212.6,467.8h0.7 M238.8,466.6h0.7 M237.4,467.4h0.7 M238.5,464.3h0.7 M221.3,466.3h0.7 M211.8,469.8h0.7 M231.5,463.7h0.7 M229.6,465.9h0.7 M215.0,464.1h0.7 M225.0,463.5h0.7 M228.8,466.6h0.7 M212.7,469.1h0.7 M209.5,464.2h0.7 M238.2,464.5h0.7 M223.7,466.9h0.7 M224.1,466.5h0.7 M226.7,466.4h0.7 M210.1,468.7h0.7 M218.5,463.3h0.7 M223.1,468.7h0.7 M231.3,466.2h0.7 M225.7,464.5h0.7 M230.9,465.5h0.7 M210.4,463.9h0.7 M211.4,467.8h0.7 M240.6,468.3h0.7 M216.1,464.0h0.7 M243.2,465.6h0.7 M214.2,467.0h0.7 M230.9,466.8h0.7 M224.7,465.1h0.7 M226.3,466.2h0.7 M233.2,466.1h0.7 M221.1,469.9h0.7 M212.1,468.3h0.7 M223.4,468.6h0.7 M234.2,467.0h0.7 M230.6,464.6h0.7 M208.6,468.2h0.7 M217.6,463.8h0.7 M238.0,467.1h0.7 M209.2,466.6h0.7 M214.1,469.1h0.7 M218.0,469.6h0.7 M230.7,463.5h0.7 M223.1,469.8h0.7 M233.9,464.1h0.7 M221.6,464.9h0.7 M211.5,467.2h0.7 M233.7,464.5h0.7 M228.4,469.0h0.7 M241.0,464.2h0.7 M210.8,469.4h0.7 M220.1,464.2h0.7 M237.6,464.8h0.7 M234.6,467.8h0.7 M218.8,466.2h0.7 M218.7,468.6h0.7 M218.5,464.9h0.7 M239.7,464.9h0.7 M224.2,466.6h0.7 M208.1,465.0h0.7 M235.5,469.9h0.7 M220.6,466.3h0.7 M210.1,466.4h0.7 M221.3,466.5h0.7 M219.0,465.2h0.7 M241.8,468.4h0.7 M221.3,463.5h0.7 M209.9,463.7h0.7 M212.8,467.1h0.7 M227.3,463.9h0.7 M240.5,467.7h0.7 M234.3,469.3h0.7 M219.6,469.3h0.7 M244.1,469.4h0.7 M209.7,469.0h0.7 M244.4,463.7h0.7 M240.0,468.7h0.7 M209.2,468.0h0.7 M236.1,468.2h0.7 M210.1,469.8h0.7 M210.7,463.6h0.7 M243.0,466.4h0.7 M214.6,465.8h0.7 M231.1,464.9h0.7 M241.8,467.7h0.7 M222.3,465.6h0.7 M212.3,469.9h0.7 M219.4,469.6h0.7 M228.0,466.8h0.7 M214.5,466.5h0.7 M211.6,466.1h0.7 M230.7,469.5h0.7 M216.2,464.3h0.7 M237.1,463.9h0.7 M215.2,466.3h0.7 M223.8,470.0h0.7 M210.4,469.1h0.7 M225.1,464.0h0.7 M216.8,469.4h0.7 M214.5,466.0h0.7 M209.4,466.4h0.7 M233.9,468.2h0.7" stroke="#333" stroke-width="0.70" stroke-opacity="0.8" fill="none"/>
<rect x="209.8" y="468.5" width="33" height="29.5" rx="4" fill="#d0d0d0" stroke="#333" stroke-width="1.6"/>
<rect x="212" y="471" width="9.5" height="24.5" rx="3" fill="#d8d8d8" stroke="#666" stroke-width="0.6"/>
<rect x="214" y="474" width="5.5" height="18" rx="2" fill="#e4e4e4" stroke="#888" stroke-width="0.5"/>
<rect x="224.5" y="471" width="16" height="24.5" rx="3.5" fill="#d4d4d4" stroke="#666" stroke-width="0.6"/>
<rect x="226.5" y="473.5" width="12" height="19.5" rx="3" fill="none" stroke="#888" stroke-width="0.5"/>
<path d="M229,476 Q236,473 237,482 Q236,490 230,492 Q233,484 229,476 Z" fill="#eeeeee" stroke="#666" stroke-width="0.6"/>
<path d="M209,497.5 L244,497.5" stroke="#333" stroke-width="1.4"/>
<path d="M248.0,500.8h0.6 M204.1,512.0h0.6 M211.7,500.6h0.6 M233.6,503.5h0.6 M244.8,502.0h0.6 M248.1,503.2h0.6 M231.3,511.1h0.6 M235.2,511.0h0.6 M236.3,499.6h0.6 M244.4,506.7h0.6 M217.6,501.5h0.6 M242.9,506.6h0.6 M247.1,509.1h0.6 M248.2,506.4h0.6 M235.8,507.0h0.6 M215.1,511.4h0.6 M217.7,509.2h0.6 M247.9,507.5h0.6 M209.7,509.7h0.6 M234.4,501.4h0.6 M205.3,505.9h0.6 M204.5,511.0h0.6 M226.8,505.7h0.6 M222.2,507.6h0.6 M246.1,503.0h0.6" stroke="#999" stroke-width="0.60" stroke-opacity="0.6" fill="none"/>
</g>
<rect x="198.10" y="450.40" width="63.40" height="63.00" fill="none" stroke="#b0b0b0" stroke-width="0.7"/>
<line x1="222.80" y1="450.40" x2="222.80" y2="513.40" stroke="#555" stroke-width="0.8" />
<line x1="198.10" y1="497.70" x2="261.50" y2="497.70" stroke="#555" stroke-width="0.8" />
<text x="200.50" y="455.40" font-size="4.6" text-anchor="start" fill="#222" >Q5</text>
<text x="200.50" y="460.90" font-size="4.6" text-anchor="start" fill="#222" >35.4</text>
<text x="259.10" y="455.40" font-size="4.6" text-anchor="end" fill="#222" >Q6</text>
<text x="259.10" y="460.90" font-size="4.6" text-anchor="end" fill="#222" >59.0</text>
<text x="200.30" y="505.70" font-size="4.6" text-anchor="start" fill="#333" >Q8</text>
<text x="200.30" y="511.20" font-size="4.6" text-anchor="start" fill="#333" >2.94</text>
<text x="259.30" y="505.70" font-size="4.6" text-anchor="end" fill="#333" >Q7</text>
<text x="259.30" y="511.20" font-size="4.6" text-anchor="end" fill="#333" >2.67</text>
<line x1="198.10" y1="457.40" x2="199.10" y2="457.40" stroke="#777" stroke-width="0.4" />
<line x1="198.10" y1="464.40" x2="199.10" y2="464.40" stroke="#777" stroke-width="0.4" />
<line x1="198.10" y1="471.40" x2="199.10" y2="471.40" stroke="#777" stroke-width="0.4" />
<line x1="198.10" y1="478.40" x2="199.10" y2="478.40" stroke="#777" stroke-width="0.4" />
<line x1="198.10" y1="485.40" x2="199.10" y2="485.40" stroke="#777" stroke-width="0.4" />
<line x1="198.10" y1="492.40" x2="199.10" y2="492.40" stroke="#777" stroke-width="0.4" />
<line x1="198.10" y1="499.40" x2="199.10" y2="499.40" stroke="#777" stroke-width="0.4" />
<line x1="198.10" y1="506.40" x2="199.10" y2="506.40" stroke="#777" stroke-width="0.4" />
<ellipse cx="198.40" cy="500.90" rx="0.8" ry="1.3" fill="#111"/>
<rect x="207.10" y="512.20" width="4" height="1.1" fill="#222"/>
<clipPath id="fclip1010"><rect x="284.20" y="450.60" width="62.70" height="62.90"/></clipPath>
<rect x="284.20" y="450.60" width="62.70" height="62.90" fill="#fff"/>
<g clip-path="url(#fclip1010)">
<ellipse cx="321.00" cy="473.00" rx="9.00" ry="15.00" fill="#d4d4d4" fill-opacity="0.8" filter="url(#b2)"/>
<path d="M330.4,490.1h0.6 M329.7,459.0h0.6 M323.4,471.3h0.6 M322.1,460.7h0.6 M315.0,472.0h0.6 M315.6,472.4h0.6 M311.5,459.1h0.6 M325.9,471.2h0.6 M321.8,482.4h0.6 M318.5,458.1h0.6 M327.4,477.2h0.6 M324.8,478.4h0.6 M331.4,469.1h0.6 M327.0,469.3h0.6 M323.0,479.8h0.6 M317.6,459.1h0.6 M321.0,481.8h0.6 M323.4,472.1h0.6 M324.5,462.6h0.6 M314.7,467.6h0.6 M328.1,463.0h0.6 M313.4,459.5h0.6 M311.8,465.9h0.6 M323.0,485.5h0.6 M317.9,469.3h0.6 M317.1,467.0h0.6 M327.3,475.8h0.6 M316.4,459.9h0.6 M327.5,481.5h0.6 M328.4,464.6h0.6 M322.5,489.1h0.6 M323.4,490.0h0.6 M314.5,491.1h0.6 M312.2,471.0h0.6 M311.5,485.1h0.6 M325.4,491.1h0.6 M327.9,490.2h0.6 M322.3,491.6h0.6 M326.7,468.5h0.6 M331.5,469.6h0.6 M315.1,458.7h0.6 M320.8,463.1h0.6 M330.6,490.2h0.6 M315.5,459.7h0.6 M322.1,462.1h0.6 M322.4,485.3h0.6 M316.3,471.2h0.6 M329.9,472.0h0.6 M318.2,488.1h0.6 M328.1,488.2h0.6 M325.4,470.9h0.6 M325.6,485.9h0.6 M324.4,464.6h0.6 M317.2,470.7h0.6 M327.2,476.1h0.6 M322.5,485.8h0.6 M313.3,478.7h0.6 M318.0,476.1h0.6 M328.5,464.9h0.6 M331.0,458.8h0.6 M322.8,475.5h0.6 M315.9,476.2h0.6 M320.9,472.2h0.6 M326.1,456.1h0.6 M318.9,484.3h0.6 M314.0,487.2h0.6 M315.3,480.5h0.6 M314.6,472.2h0.6 M319.9,458.9h0.6 M325.7,473.3h0.6 M325.5,475.4h0.6 M322.7,474.9h0.6 M317.3,488.4h0.6 M312.8,487.6h0.6 M329.1,473.9h0.6 M327.3,480.2h0.6 M323.7,466.5h0.6 M317.7,468.6h0.6 M317.3,490.5h0.6 M318.2,470.0h0.6 M319.8,485.4h0.6 M321.0,475.9h0.6 M316.4,466.0h0.6 M312.9,463.8h0.6 M316.5,486.7h0.6 M321.6,460.0h0.6 M320.7,460.4h0.6 M322.9,471.9h0.6 M329.0,465.3h0.6 M328.9,464.9h0.6 M331.6,478.8h0.6 M311.9,485.1h0.6 M316.8,469.0h0.6 M314.1,486.1h0.6 M312.9,482.6h0.6 M319.3,480.5h0.6 M317.2,458.8h0.6 M330.2,479.6h0.6 M314.6,491.1h0.6 M330.1,462.6h0.6 M311.4,478.0h0.6 M313.9,482.3h0.6 M320.8,481.5h0.6 M323.0,483.7h0.6 M328.3,477.7h0.6 M323.4,467.8h0.6 M313.8,459.3h0.6 M329.0,463.4h0.6 M320.0,467.4h0.6 M324.0,475.2h0.6 M329.0,471.7h0.6 M318.6,479.4h0.6 M326.6,489.3h0.6 M317.5,487.9h0.6 M331.6,491.4h0.6 M313.7,469.7h0.6 M327.3,485.9h0.6 M311.8,470.2h0.6 M326.2,483.3h0.6 M322.2,463.6h0.6 M319.5,458.1h0.6 M317.6,471.4h0.6 M328.3,477.2h0.6 M319.7,464.9h0.6 M317.6,480.1h0.6 M320.4,462.2h0.6 M328.3,476.7h0.6 M331.3,475.3h0.6 M324.1,471.4h0.6 M323.8,489.1h0.6 M331.6,479.8h0.6 M320.0,458.3h0.6 M328.6,470.1h0.6 M319.0,458.1h0.6 M311.7,470.1h0.6 M331.5,482.7h0.6 M325.9,480.1h0.6 M316.7,462.1h0.6 M323.6,458.3h0.6 M323.3,474.5h0.6 M322.4,460.4h0.6 M312.4,473.0h0.6 M314.1,479.1h0.6 M317.5,478.3h0.6 M326.8,477.8h0.6 M322.2,463.1h0.6 M318.3,491.2h0.6 M316.6,466.2h0.6 M321.4,475.7h0.6 M327.6,466.6h0.6 M331.2,456.8h0.6 M327.6,476.5h0.6 M329.9,461.5h0.6 M325.5,490.1h0.6 M325.0,460.0h0.6 M330.3,490.9h0.6 M313.3,485.8h0.6 M312.7,458.9h0.6 M327.7,481.9h0.6 M331.1,478.7h0.6 M321.7,465.8h0.6 M323.0,491.7h0.6 M324.6,487.5h0.6 M315.1,482.5h0.6 M326.4,458.6h0.6 M328.2,462.3h0.6 M315.6,458.2h0.6 M324.9,461.1h0.6 M331.5,456.0h0.6 M328.0,483.3h0.6 M323.0,476.6h0.6 M327.8,478.9h0.6 M313.9,484.7h0.6 M318.4,477.0h0.6 M321.8,488.5h0.6 M319.7,486.7h0.6 M312.7,467.7h0.6 M325.1,478.0h0.6 M328.5,463.5h0.6 M327.9,484.6h0.6 M314.0,461.0h0.6 M323.2,491.1h0.6 M323.9,471.4h0.6 M321.6,485.1h0.6 M322.0,475.3h0.6 M323.5,489.6h0.6 M327.8,486.2h0.6 M316.6,477.6h0.6 M328.3,481.9h0.6 M331.0,488.9h0.6 M313.7,474.3h0.6 M318.5,463.4h0.6 M321.5,491.4h0.6 M327.1,459.6h0.6 M316.2,469.3h0.6 M329.6,472.5h0.6 M314.3,475.8h0.6 M316.2,457.4h0.6 M323.4,491.7h0.6 M327.3,482.5h0.6 M314.2,476.2h0.6 M324.4,483.3h0.6 M320.4,457.9h0.6 M330.5,465.6h0.6 M326.5,472.7h0.6 M327.4,468.2h0.6 M312.9,471.4h0.6 M321.1,484.5h0.6 M319.5,480.0h0.6 M318.9,482.4h0.6 M314.7,487.7h0.6 M330.8,456.9h0.6 M329.0,484.0h0.6 M325.6,459.8h0.6 M326.4,483.8h0.6 M324.2,490.7h0.6 M330.9,478.8h0.6 M330.4,461.2h0.6 M317.3,475.1h0.6 M322.0,490.3h0.6 M324.4,478.4h0.6 M324.0,490.0h0.6 M319.4,482.6h0.6 M323.6,470.5h0.6 M318.1,461.5h0.6 M311.2,468.1h0.6 M317.3,458.9h0.6 M321.2,468.6h0.6 M330.4,484.1h0.6 M325.0,486.5h0.6 M316.8,460.2h0.6 M323.8,464.2h0.6 M331.7,471.3h0.6 M329.6,464.8h0.6 M313.0,478.6h0.6 M325.6,465.2h0.6 M330.5,491.0h0.6 M325.4,491.3h0.6 M331.6,461.3h0.6 M326.3,482.9h0.6 M326.4,468.2h0.6 M322.4,477.2h0.6 M328.8,457.9h0.6 M318.9,467.3h0.6 M327.6,460.2h0.6 M312.3,460.2h0.6 M313.4,471.7h0.6 M329.2,468.8h0.6 M313.1,480.1h0.6 M318.0,476.6h0.6 M326.7,472.4h0.6 M326.4,478.3h0.6 M328.9,483.4h0.6 M329.9,482.9h0.6 M316.9,474.2h0.6 M327.2,484.2h0.6 M326.3,486.4h0.6 M328.3,475.5h0.6 M324.5,457.6h0.6 M321.0,482.2h0.6" stroke="#555" stroke-width="0.64" stroke-opacity="0.75" fill="none"/>
<path d="M311.22,481.00 L311.16,483.26 L311.00,485.21 L310.72,487.03 L310.34,488.71 L309.87,490.27 L309.31,491.70 L308.68,493.00 L307.98,494.18 L307.22,495.24 L306.41,496.18 L305.54,497.00 L304.62,497.70 L303.65,498.29 L302.61,498.75 L301.50,499.08 L300.20,499.27 L298.89,499.29 L297.73,499.15 L296.64,498.83 L295.61,498.33 L294.64,497.65 L293.74,496.78 L292.93,495.75 L292.20,494.56 L291.56,493.23 L291.02,491.79 L290.57,490.24 L290.21,488.60 L289.94,486.88 L289.75,485.08 L289.65,483.17 L289.62,481.00 L290.10,478.83 L290.60,476.93 L291.13,475.14 L291.70,473.43 L292.30,471.80 L292.93,470.25 L293.58,468.81 L294.26,467.47 L294.95,466.28 L295.66,465.23 L296.38,464.35 L297.10,463.65 L297.83,463.13 L298.58,462.79 L299.34,462.64 L300.20,462.67 L301.05,462.85 L301.79,463.19 L302.50,463.67 L303.19,464.27 L303.88,465.00 L304.57,465.83 L305.27,466.79 L305.98,467.85 L306.70,469.03 L307.42,470.34 L308.13,471.76 L308.83,473.31 L309.50,474.99 L310.12,476.79 L310.69,478.74 Z" fill="#d2d2d2" stroke="#888" stroke-width="0.45"/>
<path d="M309.15,481.32 L309.06,483.15 L308.94,484.73 L308.78,486.24 L308.58,487.69 L308.31,489.09 L307.95,490.43 L307.50,491.66 L306.95,492.76 L306.30,493.70 L305.58,494.47 L304.79,495.06 L303.96,495.52 L303.10,495.86 L302.21,496.13 L301.28,496.33 L300.20,496.47 L299.11,496.53 L298.14,496.48 L297.22,496.27 L296.34,495.89 L295.53,495.31 L294.79,494.54 L294.14,493.60 L293.58,492.54 L293.09,491.39 L292.66,490.18 L292.27,488.92 L291.91,487.62 L291.60,486.25 L291.32,484.78 L291.12,483.19 L291.00,481.32 L291.39,479.42 L291.83,477.77 L292.35,476.25 L292.93,474.85 L293.55,473.57 L294.17,472.41 L294.78,471.33 L295.37,470.33 L295.94,469.37 L296.50,468.47 L297.06,467.64 L297.63,466.91 L298.21,466.33 L298.83,465.92 L299.47,465.72 L300.20,465.73 L300.92,465.92 L301.54,466.27 L302.13,466.73 L302.71,467.28 L303.29,467.88 L303.88,468.54 L304.49,469.27 L305.13,470.11 L305.77,471.06 L306.40,472.16 L307.00,473.41 L307.54,474.78 L308.03,476.26 L308.44,477.83 L308.80,479.47 Z" fill="#c4c4c4" stroke="#888" stroke-width="0.45"/>
<path d="M307.40,481.64 L307.39,483.12 L307.32,484.42 L307.20,485.65 L307.02,486.82 L306.77,487.94 L306.47,489.00 L306.09,489.98 L305.65,490.88 L305.15,491.68 L304.59,492.37 L303.98,492.95 L303.32,493.40 L302.61,493.73 L301.87,493.94 L301.09,494.04 L300.20,494.02 L299.32,493.90 L298.56,493.68 L297.86,493.38 L297.19,492.99 L296.57,492.52 L295.97,491.97 L295.41,491.34 L294.89,490.63 L294.41,489.83 L293.98,488.94 L293.60,487.97 L293.28,486.90 L293.03,485.75 L292.85,484.51 L292.74,483.18 L292.71,481.64 L293.08,480.11 L293.47,478.79 L293.90,477.57 L294.35,476.43 L294.82,475.38 L295.31,474.41 L295.80,473.53 L296.28,472.72 L296.76,471.99 L297.23,471.33 L297.70,470.75 L298.16,470.24 L298.63,469.82 L299.12,469.49 L299.62,469.26 L300.20,469.13 L300.79,469.12 L301.31,469.23 L301.81,469.47 L302.31,469.83 L302.80,470.32 L303.28,470.93 L303.76,471.65 L304.23,472.47 L304.69,473.38 L305.13,474.36 L305.56,475.40 L305.96,476.51 L306.35,477.66 L306.72,478.88 L307.06,480.16 Z" fill="#b8b8b8" stroke="#888" stroke-width="0.45"/>
<path d="M305.92,481.96 L305.86,483.13 L305.75,484.13 L305.59,485.05 L305.38,485.90 L305.13,486.69 L304.86,487.43 L304.56,488.13 L304.22,488.78 L303.86,489.39 L303.47,489.96 L303.04,490.46 L302.57,490.89 L302.05,491.24 L301.50,491.49 L300.89,491.62 L300.20,491.65 L299.51,491.56 L298.92,491.37 L298.38,491.09 L297.88,490.74 L297.41,490.32 L296.97,489.85 L296.56,489.34 L296.18,488.78 L295.81,488.17 L295.48,487.50 L295.18,486.77 L294.93,485.97 L294.72,485.10 L294.58,484.15 L294.50,483.13 L294.48,481.96 L294.78,480.79 L295.09,479.79 L295.42,478.87 L295.78,478.02 L296.14,477.23 L296.50,476.49 L296.85,475.79 L297.20,475.14 L297.55,474.53 L297.90,473.96 L298.25,473.46 L298.60,473.03 L298.97,472.68 L299.35,472.43 L299.75,472.30 L300.20,472.27 L300.65,472.36 L301.04,472.55 L301.41,472.83 L301.77,473.18 L302.12,473.60 L302.47,474.07 L302.83,474.58 L303.20,475.14 L303.57,475.75 L303.95,476.42 L304.33,477.15 L304.70,477.95 L305.05,478.82 L305.38,479.77 L305.66,480.79 Z" fill="#bcbcbc" stroke="#909090" stroke-width="0.45"/>
<path d="M304.16,482.28 L304.14,483.09 L304.06,483.79 L303.93,484.42 L303.77,485.00 L303.60,485.54 L303.42,486.07 L303.24,486.58 L303.03,487.07 L302.79,487.54 L302.52,487.95 L302.20,488.27 L301.85,488.51 L301.47,488.65 L301.08,488.72 L300.66,488.74 L300.20,488.74 L299.74,488.72 L299.33,488.69 L298.94,488.62 L298.56,488.48 L298.20,488.27 L297.88,487.96 L297.59,487.56 L297.35,487.10 L297.15,486.60 L296.97,486.07 L296.80,485.54 L296.64,484.99 L296.49,484.41 L296.36,483.78 L296.27,483.09 L296.24,482.28 L296.43,481.47 L296.65,480.77 L296.89,480.14 L297.15,479.56 L297.40,479.02 L297.64,478.49 L297.87,477.98 L298.09,477.49 L298.33,477.02 L298.57,476.61 L298.82,476.29 L299.09,476.05 L299.36,475.91 L299.63,475.84 L299.90,475.82 L300.20,475.82 L300.50,475.84 L300.77,475.87 L301.04,475.94 L301.31,476.08 L301.58,476.29 L301.84,476.60 L302.08,477.00 L302.32,477.46 L302.54,477.96 L302.77,478.49 L303.00,479.02 L303.24,479.57 L303.49,480.15 L303.73,480.78 L303.96,481.47 Z" fill="#cccccc" stroke="#999" stroke-width="0.45"/>
<path d="M302.37,482.60 L302.34,483.04 L302.29,483.42 L302.24,483.77 L302.17,484.10 L302.10,484.42 L302.01,484.73 L301.91,485.02 L301.79,485.30 L301.65,485.55 L301.49,485.76 L301.31,485.92 L301.11,486.05 L300.90,486.13 L300.69,486.17 L300.46,486.19 L300.20,486.19 L299.94,486.17 L299.72,486.14 L299.50,486.09 L299.30,486.02 L299.10,485.90 L298.91,485.75 L298.74,485.55 L298.60,485.32 L298.47,485.04 L298.37,484.75 L298.29,484.43 L298.22,484.10 L298.17,483.77 L298.12,483.41 L298.08,483.04 L298.05,482.60 L298.13,482.15 L298.22,481.76 L298.33,481.39 L298.45,481.04 L298.59,480.72 L298.74,480.44 L298.89,480.18 L299.04,479.96 L299.19,479.75 L299.33,479.57 L299.46,479.39 L299.60,479.23 L299.74,479.09 L299.88,478.98 L300.03,478.90 L300.20,478.87 L300.37,478.89 L300.53,478.95 L300.67,479.06 L300.81,479.20 L300.94,479.37 L301.08,479.56 L301.21,479.76 L301.35,479.97 L301.50,480.20 L301.65,480.46 L301.80,480.74 L301.94,481.05 L302.08,481.39 L302.19,481.76 L302.29,482.15 Z" fill="#eeeeee"/>
<ellipse cx="301.00" cy="477.00" rx="1.50" ry="6.00" fill="#fff" fill-opacity="0.8" filter="url(#bs)"/>
<path d="M304.5,504.2h0.6 M290.7,506.0h0.6 M291.0,502.4h0.6 M288.4,503.3h0.6 M289.9,502.8h0.6 M304.8,503.4h0.6 M297.5,504.5h0.6 M311.7,496.3h0.6 M299.4,505.5h0.6 M305.2,499.9h0.6 M293.9,505.5h0.6 M288.2,503.4h0.6 M307.9,496.7h0.6 M294.5,498.4h0.6 M300.1,499.0h0.6 M309.2,505.2h0.6 M294.2,504.8h0.6 M287.8,496.1h0.6 M303.3,503.8h0.6 M307.3,505.9h0.6 M308.4,497.9h0.6 M305.3,505.2h0.6 M288.4,500.4h0.6 M290.0,496.6h0.6 M298.5,502.4h0.6 M311.3,496.4h0.6 M299.1,506.0h0.6 M305.9,500.9h0.6 M292.3,501.9h0.6 M292.8,502.1h0.6 M302.9,499.3h0.6 M306.7,499.4h0.6 M298.2,504.1h0.6 M292.5,497.0h0.6 M300.9,499.8h0.6 M308.7,497.7h0.6 M295.7,495.6h0.6 M297.7,498.4h0.6 M297.7,503.4h0.6 M287.0,505.9h0.6" stroke="#999" stroke-width="0.60" stroke-opacity="0.6" fill="none"/>
</g>
<rect x="284.20" y="450.60" width="62.70" height="62.90" fill="none" stroke="#b0b0b0" stroke-width="0.7"/>
<line x1="312.10" y1="450.60" x2="312.10" y2="513.50" stroke="#555" stroke-width="0.8" />
<line x1="284.20" y1="494.20" x2="346.90" y2="494.20" stroke="#555" stroke-width="0.8" />
<text x="286.60" y="455.60" font-size="4.6" text-anchor="start" fill="#222" >Q1</text>
<text x="286.60" y="461.10" font-size="4.6" text-anchor="start" fill="#222" >91.5</text>
<text x="344.50" y="455.60" font-size="4.6" text-anchor="end" fill="#222" >Q2</text>
<text x="344.50" y="461.10" font-size="4.6" text-anchor="end" fill="#222" >4.80</text>
<text x="286.40" y="505.80" font-size="4.6" text-anchor="start" fill="#333" >Q4</text>
<text x="286.40" y="511.30" font-size="4.6" text-anchor="start" fill="#333" >3.66</text>
<text x="344.70" y="505.80" font-size="4.6" text-anchor="end" fill="#333" >Q3</text>
<text x="344.70" y="511.30" font-size="4.6" text-anchor="end" fill="#333" >0.012</text>
<line x1="284.20" y1="457.59" x2="285.20" y2="457.59" stroke="#777" stroke-width="0.4" />
<line x1="284.20" y1="464.58" x2="285.20" y2="464.58" stroke="#777" stroke-width="0.4" />
<line x1="284.20" y1="471.57" x2="285.20" y2="471.57" stroke="#777" stroke-width="0.4" />
<line x1="284.20" y1="478.56" x2="285.20" y2="478.56" stroke="#777" stroke-width="0.4" />
<line x1="284.20" y1="485.54" x2="285.20" y2="485.54" stroke="#777" stroke-width="0.4" />
<line x1="284.20" y1="492.53" x2="285.20" y2="492.53" stroke="#777" stroke-width="0.4" />
<line x1="284.20" y1="499.52" x2="285.20" y2="499.52" stroke="#777" stroke-width="0.4" />
<line x1="284.20" y1="506.51" x2="285.20" y2="506.51" stroke="#777" stroke-width="0.4" />
<ellipse cx="284.50" cy="497.40" rx="0.8" ry="1.3" fill="#111"/>
<rect x="293.20" y="512.30" width="4" height="1.1" fill="#222"/>
<text x="194.00" y="460.30" font-size="7.3" text-anchor="end" fill="#333">10<tspan font-size="5.26" dy="-2.77">5</tspan></text>
<text x="194.00" y="474.60" font-size="7.3" text-anchor="end" fill="#333">10<tspan font-size="5.26" dy="-2.77">4</tspan></text>
<text x="194.00" y="490.80" font-size="7.3" text-anchor="end" fill="#333">10<tspan font-size="5.26" dy="-2.77">3</tspan></text>
<text x="191.40" y="502.00" font-size="7.0" text-anchor="end" fill="#333" >0</text>
<text x="194.00" y="512.00" font-size="7.3" text-anchor="end" fill="#333">−10<tspan font-size="5.26" dy="-2.77">3</tspan></text>
<text x="208.50" y="526.20" font-size="7.0" text-anchor="middle" fill="#333" >0</text>
<text x="219.30" y="526.20" font-size="7.0" fill="#333">10<tspan font-size="5.0" dy="-2.7">3</tspan></text>
<text x="234.30" y="526.20" font-size="7.0" fill="#333">10<tspan font-size="5.0" dy="-2.7">4</tspan></text>
<text x="249.30" y="526.20" font-size="7.0" fill="#333">10<tspan font-size="5.0" dy="-2.7">5</tspan></text>
<text x="279.50" y="460.80" font-size="7.3" text-anchor="end" fill="#333">10<tspan font-size="5.26" dy="-2.77">5</tspan></text>
<text x="279.50" y="474.80" font-size="7.3" text-anchor="end" fill="#333">10<tspan font-size="5.26" dy="-2.77">4</tspan></text>
<text x="279.50" y="490.80" font-size="7.3" text-anchor="end" fill="#333">10<tspan font-size="5.26" dy="-2.77">3</tspan></text>
<text x="276.90" y="502.00" font-size="7.0" text-anchor="end" fill="#333" >0</text>
<text x="279.50" y="512.30" font-size="7.3" text-anchor="end" fill="#333">−10<tspan font-size="5.26" dy="-2.77">3</tspan></text>
<text x="295.50" y="526.20" font-size="7.0" text-anchor="middle" fill="#333" >0</text>
<text x="305.60" y="526.20" font-size="7.0" fill="#333">10<tspan font-size="5.0" dy="-2.7">3</tspan></text>
<text x="319.80" y="526.20" font-size="7.0" fill="#333">10<tspan font-size="5.0" dy="-2.7">4</tspan></text>
<text x="334.80" y="526.20" font-size="7.0" fill="#333">10<tspan font-size="5.0" dy="-2.7">5</tspan></text>
<path d="M175.00,527.70 L175.00,501.80 M175.00,527.70 L200.40,527.70" stroke="#222" stroke-width="1.4" fill="none"/>
<path d="M173.20,502.30 L175.00,498.80 L176.80,502.30 Z" fill="#222"/>
<path d="M199.90,525.90 L203.40,527.70 L199.90,529.50 Z" fill="#222"/>
<text transform="translate(170.40,515.70) rotate(-90)" font-size="6.2" text-anchor="middle" fill="#333" textLength="16" lengthAdjust="spacingAndGlyphs">CD71</text>
<text x="178.50" y="537.00" font-size="6.2" text-anchor="start" fill="#333" textLength="18.00" lengthAdjust="spacingAndGlyphs" >Ter119</text>
<text transform="translate(173.6,455.8) rotate(-90)" font-size="7.8" text-anchor="middle" fill="#222">TP53<tspan font-size="5.4" dy="-3.2">R248Q/−</tspan></text>
<text x="7.50" y="563.40" font-size="12.5" text-anchor="start" fill="#111" font-weight="bold" >J</text>
<text x="161.00" y="563.30" font-size="12.5" text-anchor="start" fill="#111" font-weight="bold" >K</text>
<text x="357.20" y="565.00" font-size="12.5" text-anchor="start" fill="#111" font-weight="bold" >L</text>
<text x="78.80" y="588.40" font-size="9.2" text-anchor="start" fill="#333" textLength="20.90" lengthAdjust="spacingAndGlyphs" >Tp53</text>
<text x="100.00" y="584.20" font-size="5.2" text-anchor="start" fill="#333" textLength="10.10" lengthAdjust="spacingAndGlyphs" >−/−</text>
<text transform="translate(15.30,654.80) rotate(-90)" font-size="7.8" text-anchor="middle" fill="#333" textLength="71" lengthAdjust="spacingAndGlyphs"># cells (fold increase)</text>
<line x1="35.00" y1="594.30" x2="35.00" y2="713.20" stroke="#3a3a3a" stroke-width="1.8" />
<line x1="32.20" y1="712.30" x2="150.00" y2="712.30" stroke="#3a3a3a" stroke-width="1.8" />
<line x1="32.00" y1="712.30" x2="35.00" y2="712.30" stroke="#3a3a3a" stroke-width="1.1" />
<text x="29.00" y="714.70" font-size="6.8" text-anchor="end" fill="#444" textLength="3.40" lengthAdjust="spacingAndGlyphs" >0</text>
<line x1="32.00" y1="673.97" x2="35.00" y2="673.97" stroke="#3a3a3a" stroke-width="1.1" />
<text x="29.00" y="676.37" font-size="6.8" text-anchor="end" fill="#444" textLength="3.40" lengthAdjust="spacingAndGlyphs" >5</text>
<line x1="32.00" y1="635.63" x2="35.00" y2="635.63" stroke="#3a3a3a" stroke-width="1.1" />
<text x="29.00" y="638.03" font-size="6.8" text-anchor="end" fill="#444" textLength="6.80" lengthAdjust="spacingAndGlyphs" >10</text>
<line x1="32.00" y1="597.30" x2="35.00" y2="597.30" stroke="#3a3a3a" stroke-width="1.1" />
<text x="29.00" y="599.70" font-size="6.8" text-anchor="end" fill="#444" textLength="6.80" lengthAdjust="spacingAndGlyphs" >15</text>
<line x1="49.50" y1="712.30" x2="49.50" y2="715.30" stroke="#3a3a3a" stroke-width="1.1" />
<text x="49.50" y="724.80" font-size="6.8" text-anchor="middle" fill="#444" textLength="3.40" lengthAdjust="spacingAndGlyphs" >0</text>
<line x1="79.00" y1="712.30" x2="79.00" y2="715.30" stroke="#3a3a3a" stroke-width="1.1" />
<text x="79.00" y="724.80" font-size="6.8" text-anchor="middle" fill="#444" textLength="3.40" lengthAdjust="spacingAndGlyphs" >2</text>
<line x1="108.50" y1="712.30" x2="108.50" y2="715.30" stroke="#3a3a3a" stroke-width="1.1" />
<text x="108.50" y="724.80" font-size="6.8" text-anchor="middle" fill="#444" textLength="3.40" lengthAdjust="spacingAndGlyphs" >4</text>
<line x1="138.00" y1="712.30" x2="138.00" y2="715.30" stroke="#3a3a3a" stroke-width="1.1" />
<text x="138.00" y="724.80" font-size="6.8" text-anchor="middle" fill="#444" textLength="3.40" lengthAdjust="spacingAndGlyphs" >6</text>
<text x="143.50" y="724.80" font-size="6.8" text-anchor="start" fill="#444" textLength="8.50" lengthAdjust="spacingAndGlyphs" >[d]</text>
<line x1="39.80" y1="606.40" x2="49.40" y2="606.40" stroke="#1d3f78" stroke-width="1.3" />
<circle cx="44.60" cy="606.40" r="1.7" fill="#1d3f78"/>
<text x="53.10" y="608.80" font-size="7.0" text-anchor="start" fill="#333" textLength="15.00" lengthAdjust="spacingAndGlyphs" >CTRL</text>
<line x1="39.80" y1="616.90" x2="49.40" y2="616.90" stroke="#c8102e" stroke-width="1.3" />
<circle cx="44.60" cy="616.90" r="1.7" fill="#c8102e"/>
<text x="53.10" y="619.30" font-size="7.0" text-anchor="start" fill="#333" textLength="33.00" lengthAdjust="spacingAndGlyphs" >NFIA-ETO2</text>
<polyline points="49.50,704.63 79.00,704.63 108.50,707.32 138.00,710.00" fill="none" stroke="#1d3f78" stroke-width="1.3"/>
<circle cx="49.50" cy="704.63" r="1.4" fill="#1d3f78"/>
<line x1="79.00" y1="700.80" x2="79.00" y2="708.47" stroke="#1d3f78" stroke-width="1.0" />
<line x1="77.60" y1="700.80" x2="80.40" y2="700.80" stroke="#1d3f78" stroke-width="1.0" />
<line x1="77.60" y1="708.47" x2="80.40" y2="708.47" stroke="#1d3f78" stroke-width="1.0" />
<circle cx="79.00" cy="704.63" r="1.4" fill="#1d3f78"/>
<line x1="108.50" y1="705.02" x2="108.50" y2="709.62" stroke="#1d3f78" stroke-width="1.0" />
<line x1="107.10" y1="705.02" x2="109.90" y2="705.02" stroke="#1d3f78" stroke-width="1.0" />
<line x1="107.10" y1="709.62" x2="109.90" y2="709.62" stroke="#1d3f78" stroke-width="1.0" />
<circle cx="108.50" cy="707.32" r="1.4" fill="#1d3f78"/>
<line x1="138.00" y1="708.47" x2="138.00" y2="711.53" stroke="#1d3f78" stroke-width="1.0" />
<line x1="136.60" y1="708.47" x2="139.40" y2="708.47" stroke="#1d3f78" stroke-width="1.0" />
<line x1="136.60" y1="711.53" x2="139.40" y2="711.53" stroke="#1d3f78" stroke-width="1.0" />
<circle cx="138.00" cy="710.00" r="1.4" fill="#1d3f78"/>
<polyline points="49.50,704.63 79.00,687.00 108.50,665.53 138.00,635.63" fill="none" stroke="#c8102e" stroke-width="1.3"/>
<circle cx="49.50" cy="704.63" r="1.4" fill="#c8102e"/>
<line x1="79.00" y1="672.82" x2="79.00" y2="701.18" stroke="#c8102e" stroke-width="1.0" />
<line x1="77.60" y1="672.82" x2="80.40" y2="672.82" stroke="#c8102e" stroke-width="1.0" />
<line x1="77.60" y1="701.18" x2="80.40" y2="701.18" stroke="#c8102e" stroke-width="1.0" />
<circle cx="79.00" cy="687.00" r="1.4" fill="#c8102e"/>
<line x1="108.50" y1="647.13" x2="108.50" y2="683.93" stroke="#c8102e" stroke-width="1.0" />
<line x1="107.10" y1="647.13" x2="109.90" y2="647.13" stroke="#c8102e" stroke-width="1.0" />
<line x1="107.10" y1="683.93" x2="109.90" y2="683.93" stroke="#c8102e" stroke-width="1.0" />
<circle cx="108.50" cy="665.53" r="1.4" fill="#c8102e"/>
<line x1="138.00" y1="606.88" x2="138.00" y2="664.38" stroke="#c8102e" stroke-width="1.0" />
<line x1="136.60" y1="606.88" x2="139.40" y2="606.88" stroke="#c8102e" stroke-width="1.0" />
<line x1="136.60" y1="664.38" x2="139.40" y2="664.38" stroke="#c8102e" stroke-width="1.0" />
<circle cx="138.00" cy="635.63" r="1.4" fill="#c8102e"/>
<text x="438.30" y="567.00" font-size="9.2" text-anchor="start" fill="#333" textLength="19.60" lengthAdjust="spacingAndGlyphs" >Tp53</text>
<text x="458.20" y="562.80" font-size="5.2" text-anchor="start" fill="#333" textLength="10.40" lengthAdjust="spacingAndGlyphs" >−/−</text>
<text transform="translate(364.60,631.95) rotate(-90)" font-size="8.4" text-anchor="middle" fill="#333" textLength="32.7" lengthAdjust="spacingAndGlyphs"># Colonies</text>
<line x1="392.80" y1="570.10" x2="392.80" y2="691.20" stroke="#2a2a2a" stroke-width="1.6" />
<line x1="392.00" y1="690.30" x2="512.20" y2="690.30" stroke="#2a2a2a" stroke-width="1.6" />
<line x1="389.80" y1="690.30" x2="392.80" y2="690.30" stroke="#2a2a2a" stroke-width="1.0" />
<text x="386.60" y="692.60" font-size="6.4" text-anchor="end" fill="#444" textLength="3.75" lengthAdjust="spacingAndGlyphs" >1</text>
<line x1="391.00" y1="678.59" x2="392.80" y2="678.59" stroke="#2a2a2a" stroke-width="0.7" />
<line x1="391.00" y1="671.74" x2="392.80" y2="671.74" stroke="#2a2a2a" stroke-width="0.7" />
<line x1="391.00" y1="666.88" x2="392.80" y2="666.88" stroke="#2a2a2a" stroke-width="0.7" />
<line x1="391.00" y1="663.11" x2="392.80" y2="663.11" stroke="#2a2a2a" stroke-width="0.7" />
<line x1="391.00" y1="660.03" x2="392.80" y2="660.03" stroke="#2a2a2a" stroke-width="0.7" />
<line x1="391.00" y1="657.43" x2="392.80" y2="657.43" stroke="#2a2a2a" stroke-width="0.7" />
<line x1="391.00" y1="655.17" x2="392.80" y2="655.17" stroke="#2a2a2a" stroke-width="0.7" />
<line x1="391.00" y1="653.18" x2="392.80" y2="653.18" stroke="#2a2a2a" stroke-width="0.7" />
<line x1="389.80" y1="651.40" x2="392.80" y2="651.40" stroke="#2a2a2a" stroke-width="1.0" />
<text x="386.60" y="653.70" font-size="6.4" text-anchor="end" fill="#444" textLength="7.50" lengthAdjust="spacingAndGlyphs" >10</text>
<line x1="391.00" y1="639.69" x2="392.80" y2="639.69" stroke="#2a2a2a" stroke-width="0.7" />
<line x1="391.00" y1="632.84" x2="392.80" y2="632.84" stroke="#2a2a2a" stroke-width="0.7" />
<line x1="391.00" y1="627.98" x2="392.80" y2="627.98" stroke="#2a2a2a" stroke-width="0.7" />
<line x1="391.00" y1="624.21" x2="392.80" y2="624.21" stroke="#2a2a2a" stroke-width="0.7" />
<line x1="391.00" y1="621.13" x2="392.80" y2="621.13" stroke="#2a2a2a" stroke-width="0.7" />
<line x1="391.00" y1="618.53" x2="392.80" y2="618.53" stroke="#2a2a2a" stroke-width="0.7" />
<line x1="391.00" y1="616.27" x2="392.80" y2="616.27" stroke="#2a2a2a" stroke-width="0.7" />
<line x1="391.00" y1="614.28" x2="392.80" y2="614.28" stroke="#2a2a2a" stroke-width="0.7" />
<line x1="389.80" y1="612.50" x2="392.80" y2="612.50" stroke="#2a2a2a" stroke-width="1.0" />
<text x="386.60" y="614.80" font-size="6.4" text-anchor="end" fill="#444" textLength="11.25" lengthAdjust="spacingAndGlyphs" >100</text>
<line x1="391.00" y1="600.79" x2="392.80" y2="600.79" stroke="#2a2a2a" stroke-width="0.7" />
<line x1="391.00" y1="593.94" x2="392.80" y2="593.94" stroke="#2a2a2a" stroke-width="0.7" />
<line x1="391.00" y1="589.08" x2="392.80" y2="589.08" stroke="#2a2a2a" stroke-width="0.7" />
<line x1="391.00" y1="585.31" x2="392.80" y2="585.31" stroke="#2a2a2a" stroke-width="0.7" />
<line x1="391.00" y1="582.23" x2="392.80" y2="582.23" stroke="#2a2a2a" stroke-width="0.7" />
<line x1="391.00" y1="579.63" x2="392.80" y2="579.63" stroke="#2a2a2a" stroke-width="0.7" />
<line x1="391.00" y1="577.37" x2="392.80" y2="577.37" stroke="#2a2a2a" stroke-width="0.7" />
<line x1="391.00" y1="575.38" x2="392.80" y2="575.38" stroke="#2a2a2a" stroke-width="0.7" />
<line x1="389.80" y1="573.60" x2="392.80" y2="573.60" stroke="#2a2a2a" stroke-width="1.0" />
<text x="386.60" y="575.90" font-size="6.4" text-anchor="end" fill="#444" textLength="15.00" lengthAdjust="spacingAndGlyphs" >1000</text>
<line x1="405.80" y1="690.30" x2="405.80" y2="692.80" stroke="#2a2a2a" stroke-width="0.8" />
<text x="406.70" y="703.10" font-size="7.0" text-anchor="middle" fill="#444" >1°</text>
<line x1="425.80" y1="690.30" x2="425.80" y2="692.80" stroke="#2a2a2a" stroke-width="0.8" />
<text x="426.70" y="703.10" font-size="7.0" text-anchor="middle" fill="#444" >2°</text>
<line x1="442.60" y1="690.30" x2="442.60" y2="692.80" stroke="#2a2a2a" stroke-width="0.8" />
<text x="443.50" y="703.10" font-size="7.0" text-anchor="middle" fill="#444" >3°</text>
<line x1="461.10" y1="690.30" x2="461.10" y2="692.80" stroke="#2a2a2a" stroke-width="0.8" />
<text x="462.00" y="703.10" font-size="7.0" text-anchor="middle" fill="#444" >4°</text>
<line x1="479.80" y1="690.30" x2="479.80" y2="692.80" stroke="#2a2a2a" stroke-width="0.8" />
<text x="480.70" y="703.10" font-size="7.0" text-anchor="middle" fill="#444" >5°</text>
<line x1="497.90" y1="690.30" x2="497.90" y2="692.80" stroke="#2a2a2a" stroke-width="0.8" />
<text x="498.80" y="703.10" font-size="7.0" text-anchor="middle" fill="#444" >6°</text>
<text x="453.00" y="716.10" font-size="8.4" text-anchor="middle" fill="#444" textLength="28.00" lengthAdjust="spacingAndGlyphs" >[Plating]</text>
<circle cx="398.00" cy="574.50" r="1.6" fill="#1d3f8a"/>
<text x="403.00" y="576.70" font-size="6.3" text-anchor="start" fill="#333" textLength="15.20" lengthAdjust="spacingAndGlyphs" >CTRL</text>
<circle cx="398.00" cy="585.30" r="1.6" fill="#b5122e"/>
<text x="403.00" y="587.50" font-size="6.3" text-anchor="start" fill="#333" textLength="32.00" lengthAdjust="spacingAndGlyphs" >NFIA-ETO2</text>
<rect x="398.80" y="638.39" width="5.20" height="51.91" fill="#7d95c6" stroke="#2b4a85" stroke-width="0.9"/>
<circle cx="401.40" cy="638.87" r="1.2" fill="#1f3a74"/>
<circle cx="401.40" cy="638.08" r="1.2" fill="#1f3a74"/>
<rect x="407.00" y="603.54" width="5.20" height="86.76" fill="#f28b8b" stroke="#c02a38" stroke-width="0.9"/>
<line x1="409.60" y1="597.71" x2="409.60" y2="610.89" stroke="#333" stroke-width="0.8" />
<line x1="408.40" y1="597.71" x2="410.80" y2="597.71" stroke="#333" stroke-width="0.8" />
<circle cx="409.60" cy="610.89" r="1.2" fill="#b01030"/>
<circle cx="409.60" cy="603.54" r="1.2" fill="#b01030"/>
<circle cx="409.60" cy="597.71" r="1.2" fill="#b01030"/>
<rect x="419.30" y="650.58" width="5.20" height="39.72" fill="#7d95c6" stroke="#2b4a85" stroke-width="0.9"/>
<line x1="421.90" y1="647.63" x2="421.90" y2="653.18" stroke="#333" stroke-width="0.8" />
<line x1="420.70" y1="647.63" x2="423.10" y2="647.63" stroke="#333" stroke-width="0.8" />
<circle cx="421.90" cy="653.18" r="1.2" fill="#1f3a74"/>
<circle cx="421.90" cy="650.58" r="1.2" fill="#1f3a74"/>
<circle cx="421.90" cy="647.63" r="1.2" fill="#1f3a74"/>
<rect x="427.40" y="621.13" width="5.20" height="69.17" fill="#f28b8b" stroke="#c02a38" stroke-width="0.9"/>
<line x1="430.00" y1="614.66" x2="430.00" y2="630.73" stroke="#333" stroke-width="0.8" />
<line x1="428.80" y1="614.66" x2="431.20" y2="614.66" stroke="#333" stroke-width="0.8" />
<circle cx="430.00" cy="630.73" r="1.2" fill="#b01030"/>
<circle cx="430.00" cy="621.13" r="1.2" fill="#b01030"/>
<circle cx="430.00" cy="614.66" r="1.2" fill="#b01030"/>
<rect x="445.60" y="635.92" width="5.20" height="54.38" fill="#f28b8b" stroke="#c02a38" stroke-width="0.9"/>
<circle cx="448.20" cy="636.26" r="1.2" fill="#b01030"/>
<circle cx="448.20" cy="635.59" r="1.2" fill="#b01030"/>
<rect x="463.70" y="601.66" width="5.20" height="88.64" fill="#f28b8b" stroke="#c02a38" stroke-width="0.9"/>
<line x1="466.30" y1="597.02" x2="466.30" y2="606.82" stroke="#333" stroke-width="0.8" />
<line x1="465.10" y1="597.02" x2="467.50" y2="597.02" stroke="#333" stroke-width="0.8" />
<circle cx="466.30" cy="606.82" r="1.2" fill="#b01030"/>
<circle cx="466.30" cy="601.66" r="1.2" fill="#b01030"/>
<circle cx="466.30" cy="597.02" r="1.2" fill="#b01030"/>
<rect x="481.90" y="604.56" width="5.20" height="85.74" fill="#f28b8b" stroke="#c02a38" stroke-width="0.9"/>
<circle cx="484.50" cy="605.65" r="1.2" fill="#b01030"/>
<circle cx="484.50" cy="604.77" r="1.2" fill="#b01030"/>
<circle cx="484.50" cy="604.04" r="1.2" fill="#b01030"/>
<rect x="499.90" y="604.56" width="5.20" height="85.74" fill="#f28b8b" stroke="#c02a38" stroke-width="0.9"/>
<line x1="502.50" y1="600.79" x2="502.50" y2="608.07" stroke="#333" stroke-width="0.8" />
<line x1="501.30" y1="600.79" x2="503.70" y2="600.79" stroke="#333" stroke-width="0.8" />
<circle cx="502.50" cy="608.07" r="1.2" fill="#b01030"/>
<circle cx="502.50" cy="604.56" r="1.2" fill="#b01030"/>
<circle cx="502.50" cy="600.79" r="1.2" fill="#b01030"/>
<text x="236.00" y="563.70" font-size="9.7" text-anchor="middle" fill="#222" textLength="22.00" lengthAdjust="spacingAndGlyphs" >CTRL</text>
<text x="306.30" y="563.70" font-size="9.7" text-anchor="middle" fill="#222" textLength="47.50" lengthAdjust="spacingAndGlyphs" >NFIA-ETO2</text>
<clipPath id="clip1224"><rect x="198.70" y="565.40" width="71.70" height="58.80"/></clipPath>
<rect x="198.70" y="565.40" width="71.70" height="58.80" fill="#fefefe"/>
<g clip-path="url(#clip1224)">
<path d="M234.90,589.60 L234.92,589.92 L234.92,590.24 L234.88,590.57 L234.80,590.89 L234.68,591.20 L234.51,591.50 L234.30,591.76 L234.04,592.00 L233.76,592.20 L233.45,592.36 L233.13,592.48 L232.81,592.58 L232.49,592.66 L232.16,592.72 L231.83,592.77 L231.50,592.81 L231.16,592.83 L230.82,592.82 L230.47,592.79 L230.13,592.71 L229.80,592.60 L229.49,592.44 L229.20,592.24 L228.96,592.00 L228.75,591.73 L228.58,591.44 L228.44,591.14 L228.34,590.84 L228.25,590.53 L228.19,590.22 L228.13,589.91 L228.10,589.60 L228.08,589.28 L228.08,588.96 L228.12,588.63 L228.20,588.31 L228.32,588.00 L228.49,587.70 L228.70,587.44 L228.96,587.20 L229.24,587.00 L229.55,586.84 L229.87,586.72 L230.19,586.62 L230.51,586.54 L230.84,586.48 L231.17,586.43 L231.50,586.39 L231.84,586.37 L232.18,586.38 L232.53,586.41 L232.87,586.49 L233.20,586.60 L233.51,586.76 L233.80,586.96 L234.04,587.20 L234.25,587.47 L234.42,587.76 L234.56,588.06 L234.66,588.36 L234.75,588.67 L234.81,588.98 L234.87,589.29 Z" fill="#eaa4c0" filter="url(#bc)"/>
<path d="M234.30,589.78 L234.26,590.00 L234.22,590.22 L234.19,590.44 L234.16,590.67 L234.11,590.90 L234.03,591.13 L233.91,591.35 L233.75,591.55 L233.55,591.70 L233.32,591.81 L233.07,591.88 L232.82,591.93 L232.58,591.96 L232.34,591.99 L232.11,592.02 L231.88,592.06 L231.63,592.10 L231.38,592.13 L231.12,592.13 L230.86,592.08 L230.63,591.98 L230.41,591.84 L230.24,591.66 L230.09,591.46 L229.97,591.25 L229.87,591.04 L229.77,590.84 L229.66,590.64 L229.55,590.44 L229.43,590.24 L229.33,590.01 L229.26,589.78 L229.24,589.53 L229.28,589.29 L229.36,589.06 L229.50,588.85 L229.66,588.66 L229.84,588.49 L230.02,588.34 L230.19,588.19 L230.35,588.03 L230.52,587.86 L230.69,587.69 L230.89,587.54 L231.11,587.41 L231.36,587.33 L231.62,587.29 L231.88,587.31 L232.13,587.37 L232.36,587.47 L232.58,587.58 L232.79,587.69 L233.00,587.79 L233.21,587.89 L233.43,587.99 L233.66,588.10 L233.87,588.23 L234.06,588.40 L234.21,588.60 L234.32,588.82 L234.37,589.06 L234.37,589.31 L234.35,589.55 Z" fill="#f4c6d6" filter="url(#b1)" opacity="0.85"/>
<ellipse cx="232.53" cy="588.42" rx="0.88" ry="0.53" fill="#b07b90" opacity="0.3" filter="url(#b1)"/>
<ellipse cx="233.35" cy="589.67" rx="0.89" ry="0.51" fill="#b07b90" opacity="0.3" filter="url(#b1)"/>
<ellipse cx="230.38" cy="591.17" rx="0.59" ry="0.96" fill="#b07b90" opacity="0.3" filter="url(#b1)"/>
<path d="M232.48,597.40 L232.41,597.72 L232.33,598.03 L232.23,598.33 L232.11,598.62 L231.98,598.91 L231.83,599.20 L231.66,599.48 L231.46,599.75 L231.23,600.00 L230.96,600.22 L230.66,600.41 L230.33,600.55 L229.98,600.65 L229.62,600.70 L229.26,600.71 L228.90,600.68 L228.55,600.62 L228.22,600.54 L227.89,600.45 L227.57,600.34 L227.25,600.22 L226.94,600.09 L226.63,599.93 L226.34,599.75 L226.06,599.53 L225.82,599.29 L225.62,599.01 L225.46,598.71 L225.35,598.39 L225.30,598.06 L225.29,597.73 L225.32,597.40 L225.39,597.08 L225.47,596.77 L225.57,596.47 L225.69,596.18 L225.82,595.89 L225.97,595.60 L226.14,595.32 L226.34,595.05 L226.57,594.80 L226.84,594.58 L227.14,594.39 L227.47,594.25 L227.82,594.15 L228.18,594.10 L228.54,594.09 L228.90,594.12 L229.25,594.18 L229.58,594.26 L229.91,594.35 L230.23,594.46 L230.55,594.58 L230.86,594.71 L231.17,594.87 L231.46,595.05 L231.74,595.27 L231.98,595.51 L232.18,595.79 L232.34,596.09 L232.45,596.41 L232.50,596.74 L232.51,597.07 Z" fill="#eaa4c0" filter="url(#bc)"/>
<path d="M231.76,597.02 L231.76,597.25 L231.75,597.47 L231.72,597.70 L231.67,597.93 L231.60,598.15 L231.50,598.37 L231.37,598.58 L231.21,598.78 L231.02,598.95 L230.81,599.10 L230.58,599.22 L230.33,599.31 L230.07,599.37 L229.81,599.39 L229.55,599.39 L229.29,599.37 L229.05,599.32 L228.81,599.26 L228.58,599.19 L228.35,599.10 L228.14,599.01 L227.92,598.91 L227.71,598.79 L227.51,598.66 L227.31,598.51 L227.13,598.35 L226.97,598.16 L226.82,597.96 L226.71,597.74 L226.63,597.51 L226.58,597.27 L226.57,597.02 L226.60,596.78 L226.67,596.54 L226.76,596.32 L226.88,596.11 L227.03,595.91 L227.19,595.73 L227.36,595.57 L227.55,595.42 L227.73,595.28 L227.93,595.15 L228.13,595.03 L228.34,594.92 L228.57,594.82 L228.80,594.73 L229.04,594.66 L229.29,594.61 L229.56,594.59 L229.82,594.60 L230.08,594.64 L230.34,594.71 L230.58,594.82 L230.80,594.95 L231.00,595.12 L231.18,595.30 L231.32,595.50 L231.44,595.71 L231.54,595.92 L231.61,596.14 L231.67,596.36 L231.71,596.58 L231.74,596.80 Z" fill="#f4c6d6" filter="url(#b1)" opacity="0.85"/>
<ellipse cx="227.83" cy="596.41" rx="0.78" ry="0.74" fill="#b07b90" opacity="0.3" filter="url(#b1)"/>
<ellipse cx="228.19" cy="598.68" rx="0.73" ry="0.66" fill="#b07b90" opacity="0.3" filter="url(#b1)"/>
<ellipse cx="228.91" cy="599.30" rx="0.72" ry="0.81" fill="#b07b90" opacity="0.3" filter="url(#b1)"/>
</g>
<rect x="198.70" y="565.40" width="71.70" height="58.80" fill="none" stroke="#c0c0c4" stroke-width="0.8"/>
<clipPath id="clip1239"><rect x="272.30" y="565.40" width="72.30" height="58.80"/></clipPath>
<rect x="272.30" y="565.40" width="72.30" height="58.80" fill="#f0f1f6"/>
<g clip-path="url(#clip1239)">
<ellipse cx="309.00" cy="596.00" rx="16.00" ry="20.00" fill="#8aa8e0" fill-opacity="0.45" filter="url(#b3)"/>
<path d="M301.18,581.00 L301.08,581.40 L300.98,581.79 L300.89,582.18 L300.80,582.57 L300.70,582.98 L300.56,583.38 L300.35,583.75 L300.07,584.07 L299.73,584.33 L299.35,584.52 L298.96,584.66 L298.56,584.77 L298.18,584.88 L297.79,585.00 L297.41,585.12 L297.00,585.22 L296.58,585.28 L296.15,585.26 L295.74,585.15 L295.36,584.96 L295.02,584.71 L294.71,584.43 L294.42,584.14 L294.13,583.87 L293.84,583.60 L293.54,583.31 L293.25,583.00 L293.01,582.65 L292.84,582.26 L292.76,581.84 L292.76,581.42 L292.82,581.00 L292.92,580.60 L293.02,580.21 L293.11,579.82 L293.20,579.43 L293.30,579.02 L293.44,578.62 L293.65,578.25 L293.93,577.93 L294.27,577.67 L294.65,577.48 L295.04,577.34 L295.44,577.23 L295.82,577.12 L296.21,577.00 L296.59,576.88 L297.00,576.78 L297.42,576.72 L297.85,576.74 L298.26,576.85 L298.64,577.04 L298.98,577.29 L299.29,577.57 L299.58,577.86 L299.87,578.13 L300.16,578.40 L300.46,578.69 L300.75,579.00 L300.99,579.35 L301.16,579.74 L301.24,580.16 L301.24,580.58 Z" fill="#3a62b8" filter="url(#bc)"/>
<path d="M300.38,580.58 L300.32,580.86 L300.28,581.14 L300.24,581.42 L300.20,581.71 L300.14,582.01 L300.05,582.31 L299.91,582.58 L299.72,582.83 L299.47,583.02 L299.19,583.17 L298.90,583.26 L298.60,583.32 L298.31,583.36 L298.02,583.39 L297.75,583.44 L297.46,583.49 L297.17,583.54 L296.87,583.57 L296.56,583.57 L296.25,583.51 L295.96,583.38 L295.71,583.20 L295.50,582.97 L295.32,582.72 L295.18,582.45 L295.06,582.18 L294.94,581.93 L294.81,581.68 L294.67,581.43 L294.53,581.16 L294.41,580.88 L294.33,580.58 L294.30,580.27 L294.35,579.96 L294.45,579.66 L294.61,579.40 L294.81,579.16 L295.02,578.95 L295.23,578.75 L295.44,578.55 L295.64,578.35 L295.83,578.14 L296.05,577.93 L296.29,577.73 L296.55,577.57 L296.84,577.46 L297.15,577.42 L297.46,577.44 L297.77,577.52 L298.05,577.64 L298.31,577.78 L298.57,577.92 L298.82,578.05 L299.07,578.17 L299.33,578.30 L299.60,578.44 L299.86,578.61 L300.09,578.82 L300.27,579.08 L300.39,579.36 L300.46,579.67 L300.46,579.98 L300.43,580.29 Z" fill="#6a88cc" filter="url(#b1)" opacity="0.85"/>
<ellipse cx="298.60" cy="581.62" rx="1.14" ry="1.04" fill="#2c4a8a" opacity="0.3" filter="url(#b1)"/>
<ellipse cx="298.45" cy="581.79" rx="1.02" ry="0.87" fill="#2c4a8a" opacity="0.3" filter="url(#b1)"/>
<ellipse cx="296.18" cy="583.14" rx="0.77" ry="0.86" fill="#2c4a8a" opacity="0.3" filter="url(#b1)"/>
<path d="M311.38,579.20 L311.28,579.75 L311.13,580.28 L310.93,580.79 L310.71,581.28 L310.47,581.75 L310.20,582.21 L309.92,582.66 L309.60,583.10 L309.25,583.52 L308.85,583.91 L308.40,584.25 L307.91,584.54 L307.38,584.75 L306.83,584.87 L306.26,584.92 L305.70,584.88 L305.15,584.78 L304.62,584.63 L304.11,584.43 L303.62,584.21 L303.15,583.97 L302.69,583.70 L302.24,583.42 L301.80,583.10 L301.38,582.75 L300.99,582.35 L300.65,581.90 L300.36,581.41 L300.15,580.88 L300.03,580.33 L299.98,579.76 L300.02,579.20 L300.12,578.65 L300.27,578.12 L300.47,577.61 L300.69,577.12 L300.93,576.65 L301.20,576.19 L301.48,575.74 L301.80,575.30 L302.15,574.88 L302.55,574.49 L303.00,574.15 L303.49,573.86 L304.02,573.65 L304.57,573.53 L305.14,573.48 L305.70,573.52 L306.25,573.62 L306.78,573.77 L307.29,573.97 L307.78,574.19 L308.25,574.43 L308.71,574.70 L309.16,574.98 L309.60,575.30 L310.02,575.65 L310.41,576.05 L310.75,576.50 L311.04,576.99 L311.25,577.52 L311.37,578.07 L311.42,578.64 Z" fill="#3a62b8" filter="url(#bc)"/>
<path d="M309.77,579.36 L309.78,579.74 L309.76,580.12 L309.72,580.51 L309.65,580.90 L309.53,581.28 L309.38,581.66 L309.17,582.01 L308.93,582.34 L308.63,582.64 L308.30,582.89 L307.94,583.09 L307.55,583.24 L307.15,583.34 L306.74,583.38 L306.34,583.38 L305.95,583.34 L305.56,583.26 L305.19,583.16 L304.83,583.04 L304.48,582.89 L304.14,582.74 L303.81,582.56 L303.48,582.36 L303.17,582.14 L302.86,581.89 L302.58,581.61 L302.32,581.30 L302.10,580.96 L301.92,580.58 L301.79,580.19 L301.72,579.78 L301.71,579.36 L301.75,578.95 L301.86,578.55 L302.00,578.17 L302.20,577.81 L302.42,577.48 L302.67,577.18 L302.94,576.90 L303.22,576.64 L303.52,576.41 L303.82,576.19 L304.14,575.98 L304.47,575.79 L304.81,575.62 L305.17,575.47 L305.55,575.36 L305.95,575.27 L306.35,575.24 L306.76,575.25 L307.17,575.32 L307.57,575.44 L307.94,575.62 L308.29,575.85 L308.60,576.13 L308.87,576.44 L309.10,576.78 L309.28,577.13 L309.43,577.50 L309.55,577.87 L309.64,578.24 L309.70,578.62 L309.75,578.99 Z" fill="#7a98d4" filter="url(#b1)" opacity="0.85"/>
<ellipse cx="308.49" cy="580.83" rx="0.86" ry="1.49" fill="#2c4a8a" opacity="0.3" filter="url(#b1)"/>
<ellipse cx="306.03" cy="580.32" rx="1.17" ry="1.58" fill="#2c4a8a" opacity="0.3" filter="url(#b1)"/>
<ellipse cx="308.34" cy="577.33" rx="1.54" ry="1.56" fill="#2c4a8a" opacity="0.3" filter="url(#b1)"/>
<path d="M327.20,588.70 L327.11,589.19 L327.02,589.68 L326.95,590.17 L326.87,590.67 L326.74,591.18 L326.55,591.67 L326.26,592.11 L325.89,592.49 L325.45,592.78 L324.97,593.00 L324.49,593.18 L324.02,593.34 L323.56,593.51 L323.09,593.70 L322.61,593.87 L322.10,594.00 L321.57,594.04 L321.05,593.98 L320.55,593.80 L320.09,593.54 L319.68,593.23 L319.29,592.90 L318.92,592.58 L318.53,592.27 L318.14,591.95 L317.75,591.61 L317.40,591.21 L317.13,590.76 L316.96,590.26 L316.90,589.73 L316.92,589.21 L317.00,588.70 L317.09,588.21 L317.18,587.72 L317.25,587.23 L317.33,586.73 L317.46,586.22 L317.65,585.73 L317.94,585.29 L318.31,584.91 L318.75,584.62 L319.23,584.40 L319.71,584.22 L320.18,584.06 L320.64,583.89 L321.11,583.70 L321.59,583.53 L322.10,583.40 L322.63,583.36 L323.15,583.42 L323.65,583.60 L324.11,583.86 L324.52,584.17 L324.91,584.50 L325.28,584.82 L325.67,585.13 L326.06,585.45 L326.45,585.79 L326.80,586.19 L327.07,586.64 L327.24,587.14 L327.30,587.67 L327.28,588.19 Z" fill="#3a62b8" filter="url(#bc)"/>
<path d="M325.95,589.40 L325.89,589.78 L325.77,590.14 L325.60,590.48 L325.41,590.80 L325.21,591.09 L324.99,591.37 L324.78,591.65 L324.56,591.92 L324.33,592.19 L324.08,592.46 L323.81,592.71 L323.50,592.94 L323.16,593.12 L322.80,593.25 L322.42,593.32 L322.03,593.32 L321.66,593.25 L321.29,593.13 L320.95,592.97 L320.64,592.78 L320.34,592.57 L320.06,592.36 L319.78,592.14 L319.51,591.92 L319.24,591.69 L318.97,591.44 L318.72,591.17 L318.49,590.86 L318.31,590.53 L318.18,590.16 L318.11,589.78 L318.12,589.40 L318.18,589.02 L318.30,588.65 L318.47,588.31 L318.66,588.00 L318.86,587.70 L319.08,587.42 L319.29,587.15 L319.51,586.87 L319.74,586.60 L319.99,586.34 L320.26,586.08 L320.57,585.86 L320.90,585.67 L321.27,585.54 L321.65,585.48 L322.03,585.48 L322.41,585.54 L322.78,585.66 L323.12,585.83 L323.43,586.02 L323.73,586.23 L324.01,586.44 L324.29,586.65 L324.56,586.87 L324.83,587.10 L325.10,587.35 L325.35,587.63 L325.57,587.93 L325.76,588.27 L325.89,588.63 L325.96,589.01 Z" fill="#7a98d4" filter="url(#b1)" opacity="0.85"/>
<ellipse cx="321.95" cy="586.20" rx="1.15" ry="0.99" fill="#2c4a8a" opacity="0.3" filter="url(#b1)"/>
<ellipse cx="320.73" cy="587.39" rx="1.26" ry="1.21" fill="#2c4a8a" opacity="0.3" filter="url(#b1)"/>
<ellipse cx="323.94" cy="590.44" rx="1.50" ry="1.25" fill="#2c4a8a" opacity="0.3" filter="url(#b1)"/>
<path d="M303.78,595.70 L303.68,596.27 L303.58,596.83 L303.47,597.39 L303.34,597.95 L303.18,598.52 L302.96,599.08 L302.67,599.61 L302.29,600.09 L301.83,600.49 L301.31,600.81 L300.75,601.04 L300.18,601.20 L299.60,601.31 L299.03,601.39 L298.47,601.46 L297.90,601.53 L297.32,601.58 L296.73,601.59 L296.13,601.54 L295.54,601.41 L294.97,601.18 L294.46,600.85 L294.01,600.44 L293.63,599.97 L293.31,599.46 L293.04,598.95 L292.79,598.43 L292.55,597.92 L292.31,597.40 L292.09,596.86 L291.90,596.29 L291.78,595.70 L291.74,595.09 L291.81,594.49 L291.98,593.91 L292.25,593.36 L292.59,592.86 L292.98,592.41 L293.39,592.00 L293.80,591.60 L294.22,591.22 L294.65,590.83 L295.10,590.46 L295.59,590.11 L296.12,589.83 L296.69,589.62 L297.29,589.52 L297.90,589.53 L298.50,589.63 L299.07,589.82 L299.61,590.06 L300.13,590.32 L300.63,590.59 L301.13,590.87 L301.62,591.16 L302.12,591.48 L302.59,591.85 L303.02,592.28 L303.37,592.78 L303.63,593.33 L303.79,593.91 L303.86,594.51 L303.85,595.11 Z" fill="#3a5ab0" filter="url(#bc)"/>
<path d="M302.17,594.88 L302.13,595.32 L301.98,595.75 L301.75,596.13 L301.49,596.48 L301.25,596.82 L301.04,597.16 L300.85,597.53 L300.66,597.91 L300.43,598.30 L300.14,598.63 L299.77,598.89 L299.35,599.04 L298.90,599.09 L298.46,599.06 L298.03,599.01 L297.63,598.98 L297.22,598.98 L296.81,599.00 L296.37,599.03 L295.92,599.00 L295.49,598.88 L295.10,598.66 L294.79,598.34 L294.55,597.96 L294.36,597.56 L294.20,597.17 L294.02,596.81 L293.80,596.46 L293.57,596.11 L293.34,595.73 L293.16,595.32 L293.08,594.88 L293.12,594.44 L293.28,594.02 L293.50,593.63 L293.76,593.28 L294.01,592.95 L294.22,592.60 L294.41,592.24 L294.60,591.85 L294.83,591.47 L295.12,591.13 L295.48,590.87 L295.90,590.72 L296.35,590.67 L296.80,590.70 L297.22,590.75 L297.63,590.79 L298.03,590.79 L298.45,590.76 L298.88,590.74 L299.33,590.77 L299.76,590.88 L300.15,591.11 L300.46,591.42 L300.71,591.80 L300.89,592.20 L301.06,592.59 L301.24,592.95 L301.45,593.30 L301.69,593.65 L301.92,594.03 L302.09,594.44 Z" fill="#6a80c8" filter="url(#b1)" opacity="0.85"/>
<ellipse cx="299.93" cy="593.16" rx="1.03" ry="1.04" fill="#2c4484" opacity="0.3" filter="url(#b1)"/>
<ellipse cx="295.92" cy="594.67" rx="0.98" ry="1.47" fill="#2c4484" opacity="0.3" filter="url(#b1)"/>
<ellipse cx="296.61" cy="594.48" rx="1.74" ry="1.11" fill="#2c4484" opacity="0.3" filter="url(#b1)"/>
<path d="M315.97,599.10 L315.95,599.61 L315.87,600.11 L315.73,600.59 L315.53,601.06 L315.27,601.49 L314.98,601.89 L314.64,602.25 L314.28,602.58 L313.90,602.87 L313.49,603.13 L313.08,603.36 L312.65,603.56 L312.20,603.73 L311.75,603.87 L311.28,603.97 L310.80,604.04 L310.31,604.07 L309.82,604.05 L309.32,603.97 L308.84,603.84 L308.37,603.65 L307.93,603.40 L307.52,603.10 L307.15,602.75 L306.84,602.35 L306.57,601.93 L306.35,601.48 L306.19,601.01 L306.07,600.53 L306.00,600.05 L305.96,599.58 L305.97,599.10 L306.00,598.63 L306.06,598.16 L306.16,597.69 L306.29,597.23 L306.46,596.78 L306.66,596.34 L306.91,595.91 L307.21,595.51 L307.55,595.14 L307.94,594.82 L308.36,594.54 L308.82,594.32 L309.30,594.16 L309.80,594.06 L310.30,594.02 L310.80,594.04 L311.29,594.12 L311.77,594.24 L312.23,594.40 L312.66,594.60 L313.08,594.83 L313.48,595.09 L313.86,595.37 L314.22,595.68 L314.57,596.01 L314.88,596.37 L315.17,596.76 L315.43,597.18 L315.64,597.63 L315.81,598.10 L315.92,598.60 Z" fill="#3a62b8" filter="url(#bc)"/>
<path d="M313.86,598.98 L313.75,599.33 L313.62,599.66 L313.49,599.97 L313.37,600.29 L313.26,600.61 L313.15,600.94 L313.01,601.27 L312.83,601.60 L312.61,601.89 L312.32,602.13 L312.00,602.31 L311.64,602.41 L311.27,602.45 L310.91,602.45 L310.56,602.42 L310.22,602.40 L309.88,602.38 L309.54,602.38 L309.19,602.37 L308.83,602.33 L308.47,602.26 L308.12,602.12 L307.81,601.91 L307.56,601.64 L307.36,601.33 L307.22,600.99 L307.12,600.64 L307.03,600.30 L306.95,599.97 L306.86,599.65 L306.76,599.32 L306.66,598.98 L306.59,598.62 L306.56,598.25 L306.60,597.88 L306.72,597.53 L306.91,597.21 L307.16,596.94 L307.44,596.70 L307.74,596.51 L308.04,596.32 L308.32,596.14 L308.60,595.96 L308.88,595.76 L309.18,595.56 L309.50,595.39 L309.85,595.26 L310.22,595.20 L310.59,595.22 L310.95,595.31 L311.28,595.48 L311.58,595.68 L311.86,595.91 L312.12,596.13 L312.38,596.34 L312.65,596.55 L312.93,596.76 L313.21,596.99 L313.47,597.25 L313.69,597.54 L313.84,597.88 L313.92,598.24 L313.93,598.62 Z" fill="#6a88cc" filter="url(#b1)" opacity="0.85"/>
<ellipse cx="311.62" cy="598.38" rx="1.47" ry="1.06" fill="#2c4a8a" opacity="0.3" filter="url(#b1)"/>
<ellipse cx="308.76" cy="598.56" rx="0.78" ry="1.43" fill="#2c4a8a" opacity="0.3" filter="url(#b1)"/>
<ellipse cx="313.37" cy="599.51" rx="0.76" ry="1.27" fill="#2c4a8a" opacity="0.3" filter="url(#b1)"/>
<path d="M305.57,607.00 L305.49,607.39 L305.36,607.77 L305.21,608.13 L305.03,608.48 L304.83,608.82 L304.62,609.15 L304.39,609.47 L304.13,609.79 L303.85,610.09 L303.53,610.37 L303.17,610.61 L302.78,610.81 L302.35,610.96 L301.91,611.05 L301.45,611.08 L301.00,611.06 L300.56,610.99 L300.13,610.88 L299.72,610.74 L299.33,610.58 L298.95,610.40 L298.58,610.22 L298.22,610.01 L297.87,609.79 L297.53,609.53 L297.21,609.25 L296.94,608.93 L296.71,608.58 L296.54,608.20 L296.44,607.81 L296.41,607.40 L296.43,607.00 L296.51,606.61 L296.64,606.23 L296.79,605.87 L296.97,605.52 L297.17,605.18 L297.38,604.85 L297.61,604.53 L297.87,604.21 L298.15,603.91 L298.47,603.63 L298.83,603.39 L299.22,603.19 L299.65,603.04 L300.09,602.95 L300.55,602.92 L301.00,602.94 L301.44,603.01 L301.87,603.12 L302.28,603.26 L302.67,603.42 L303.05,603.60 L303.42,603.78 L303.78,603.99 L304.13,604.21 L304.47,604.47 L304.79,604.75 L305.06,605.07 L305.29,605.42 L305.46,605.80 L305.56,606.19 L305.59,606.60 Z" fill="#3a6ab8" filter="url(#bc)"/>
<path d="M304.33,606.53 L304.24,606.80 L304.17,607.06 L304.13,607.33 L304.10,607.61 L304.06,607.91 L303.96,608.19 L303.80,608.45 L303.56,608.66 L303.27,608.82 L302.96,608.92 L302.64,608.99 L302.34,609.06 L302.06,609.15 L301.77,609.26 L301.48,609.37 L301.16,609.48 L300.83,609.53 L300.50,609.50 L300.18,609.40 L299.90,609.24 L299.66,609.04 L299.43,608.83 L299.21,608.64 L298.98,608.47 L298.73,608.31 L298.46,608.13 L298.22,607.93 L298.02,607.69 L297.91,607.41 L297.87,607.11 L297.92,606.81 L298.00,606.53 L298.08,606.26 L298.15,606.00 L298.19,605.73 L298.22,605.45 L298.27,605.15 L298.36,604.87 L298.53,604.61 L298.76,604.40 L299.05,604.24 L299.37,604.14 L299.68,604.07 L299.99,604.00 L300.27,603.91 L300.55,603.80 L300.85,603.69 L301.16,603.58 L301.50,603.53 L301.83,603.56 L302.14,603.66 L302.43,603.82 L302.67,604.02 L302.89,604.23 L303.11,604.42 L303.35,604.59 L303.60,604.75 L303.87,604.93 L304.11,605.13 L304.31,605.37 L304.42,605.65 L304.45,605.95 L304.41,606.25 Z" fill="#5a88c8" filter="url(#b1)" opacity="0.85"/>
<ellipse cx="301.46" cy="608.25" rx="0.95" ry="1.07" fill="#2c508a" opacity="0.3" filter="url(#b1)"/>
<ellipse cx="301.82" cy="608.83" rx="0.68" ry="0.86" fill="#2c508a" opacity="0.3" filter="url(#b1)"/>
<ellipse cx="300.46" cy="606.17" rx="1.12" ry="0.73" fill="#2c508a" opacity="0.3" filter="url(#b1)"/>
<path d="M326.02,605.20 L326.05,605.71 L325.98,606.21 L325.82,606.69 L325.57,607.15 L325.26,607.56 L324.90,607.93 L324.53,608.28 L324.15,608.61 L323.77,608.94 L323.39,609.26 L322.97,609.57 L322.52,609.86 L322.03,610.10 L321.51,610.27 L320.96,610.35 L320.40,610.34 L319.85,610.25 L319.33,610.09 L318.83,609.90 L318.36,609.68 L317.90,609.46 L317.44,609.23 L316.98,608.99 L316.53,608.72 L316.10,608.41 L315.71,608.05 L315.38,607.64 L315.15,607.18 L315.00,606.69 L314.95,606.19 L314.96,605.69 L315.02,605.20 L315.10,604.73 L315.19,604.26 L315.29,603.79 L315.41,603.32 L315.55,602.85 L315.76,602.38 L316.03,601.94 L316.38,601.54 L316.80,601.21 L317.27,600.95 L317.79,600.76 L318.31,600.62 L318.84,600.53 L319.36,600.46 L319.88,600.40 L320.40,600.34 L320.93,600.30 L321.48,600.28 L322.03,600.33 L322.57,600.44 L323.08,600.64 L323.55,600.91 L323.96,601.26 L324.31,601.65 L324.60,602.07 L324.85,602.50 L325.09,602.92 L325.31,603.35 L325.53,603.79 L325.73,604.24 L325.90,604.71 Z" fill="#2a70b8" filter="url(#bc)"/>
<path d="M324.87,605.76 L324.73,606.10 L324.58,606.43 L324.44,606.75 L324.34,607.07 L324.25,607.41 L324.16,607.77 L324.01,608.12 L323.79,608.43 L323.49,608.68 L323.12,608.85 L322.73,608.95 L322.33,609.00 L321.95,609.04 L321.58,609.10 L321.22,609.19 L320.85,609.30 L320.46,609.39 L320.05,609.43 L319.64,609.38 L319.26,609.24 L318.94,609.01 L318.66,608.74 L318.42,608.45 L318.19,608.17 L317.94,607.93 L317.67,607.69 L317.38,607.44 L317.10,607.17 L316.88,606.85 L316.76,606.50 L316.75,606.12 L316.83,605.76 L316.97,605.41 L317.12,605.08 L317.26,604.77 L317.36,604.44 L317.44,604.10 L317.54,603.75 L317.69,603.40 L317.91,603.08 L318.21,602.83 L318.58,602.66 L318.97,602.56 L319.37,602.51 L319.75,602.47 L320.12,602.41 L320.48,602.32 L320.85,602.21 L321.24,602.12 L321.65,602.08 L322.06,602.13 L322.43,602.28 L322.76,602.50 L323.04,602.78 L323.28,603.07 L323.51,603.34 L323.76,603.59 L324.03,603.82 L324.32,604.07 L324.60,604.35 L324.81,604.66 L324.94,605.02 L324.95,605.39 Z" fill="#4a88c8" filter="url(#b1)" opacity="0.85"/>
<ellipse cx="321.03" cy="603.87" rx="1.17" ry="1.17" fill="#20548a" opacity="0.3" filter="url(#b1)"/>
<ellipse cx="321.72" cy="603.84" rx="1.07" ry="0.79" fill="#20548a" opacity="0.3" filter="url(#b1)"/>
<ellipse cx="320.87" cy="603.28" rx="0.93" ry="1.49" fill="#20548a" opacity="0.3" filter="url(#b1)"/>
<path d="M316.14,610.40 L316.17,610.95 L316.13,611.50 L316.00,612.05 L315.79,612.58 L315.49,613.08 L315.11,613.56 L314.66,613.99 L314.15,614.37 L313.59,614.70 L312.99,614.98 L312.37,615.21 L311.73,615.39 L311.08,615.52 L310.42,615.62 L309.76,615.68 L309.10,615.71 L308.44,615.70 L307.77,615.66 L307.10,615.57 L306.44,615.44 L305.79,615.26 L305.16,615.03 L304.56,614.74 L304.01,614.40 L303.51,614.00 L303.08,613.56 L302.72,613.08 L302.44,612.57 L302.25,612.03 L302.14,611.49 L302.10,610.94 L302.14,610.40 L302.24,609.87 L302.40,609.35 L302.60,608.85 L302.85,608.37 L303.14,607.90 L303.47,607.44 L303.84,607.01 L304.25,606.59 L304.71,606.20 L305.22,605.83 L305.77,605.51 L306.37,605.22 L307.01,605.00 L307.69,604.83 L308.39,604.74 L309.10,604.71 L309.81,604.75 L310.50,604.87 L311.17,605.05 L311.80,605.28 L312.39,605.56 L312.94,605.88 L313.45,606.24 L313.91,606.62 L314.33,607.03 L314.72,607.45 L315.06,607.89 L315.38,608.36 L315.64,608.84 L315.87,609.34 L316.03,609.86 Z" fill="#2a78c0" filter="url(#bc)"/>
<path d="M314.75,610.91 L314.60,611.29 L314.42,611.65 L314.24,612.00 L314.08,612.35 L313.93,612.70 L313.78,613.07 L313.59,613.44 L313.34,613.80 L313.01,614.12 L312.61,614.38 L312.15,614.56 L311.65,614.67 L311.13,614.71 L310.63,614.71 L310.14,614.69 L309.66,614.66 L309.20,614.66 L308.72,614.65 L308.22,614.65 L307.71,614.61 L307.21,614.52 L306.73,614.36 L306.30,614.13 L305.95,613.83 L305.68,613.48 L305.48,613.11 L305.34,612.73 L305.22,612.36 L305.09,612.00 L304.96,611.65 L304.81,611.29 L304.67,610.91 L304.56,610.52 L304.53,610.11 L304.60,609.70 L304.77,609.32 L305.04,608.97 L305.40,608.67 L305.80,608.42 L306.21,608.20 L306.62,607.99 L307.01,607.79 L307.40,607.58 L307.79,607.35 L308.21,607.13 L308.66,606.94 L309.15,606.80 L309.66,606.74 L310.18,606.77 L310.68,606.89 L311.15,607.07 L311.57,607.30 L311.96,607.54 L312.33,607.78 L312.70,608.01 L313.08,608.23 L313.47,608.46 L313.86,608.71 L314.23,608.99 L314.53,609.33 L314.74,609.70 L314.84,610.10 L314.84,610.51 Z" fill="#3a90c8" filter="url(#b1)" opacity="0.85"/>
<ellipse cx="306.70" cy="612.72" rx="1.77" ry="1.46" fill="#205a90" opacity="0.3" filter="url(#b1)"/>
<ellipse cx="307.08" cy="610.52" rx="1.64" ry="0.90" fill="#205a90" opacity="0.3" filter="url(#b1)"/>
<ellipse cx="310.82" cy="611.79" rx="1.51" ry="1.32" fill="#205a90" opacity="0.3" filter="url(#b1)"/>
<path d="M323.13,614.70 L323.03,615.06 L322.90,615.42 L322.74,615.76 L322.56,616.11 L322.35,616.44 L322.11,616.78 L321.83,617.10 L321.49,617.42 L321.09,617.70 L320.64,617.96 L320.13,618.17 L319.57,618.33 L318.99,618.43 L318.39,618.49 L317.79,618.49 L317.20,618.46 L316.63,618.40 L316.07,618.31 L315.52,618.21 L314.98,618.09 L314.45,617.96 L313.92,617.81 L313.40,617.63 L312.91,617.42 L312.46,617.17 L312.06,616.88 L311.72,616.55 L311.47,616.20 L311.31,615.83 L311.22,615.45 L311.21,615.07 L311.27,614.70 L311.37,614.34 L311.50,613.98 L311.66,613.64 L311.84,613.29 L312.05,612.96 L312.29,612.62 L312.57,612.30 L312.91,611.98 L313.31,611.70 L313.76,611.44 L314.27,611.23 L314.83,611.07 L315.41,610.97 L316.01,610.91 L316.61,610.91 L317.20,610.94 L317.77,611.00 L318.33,611.09 L318.88,611.19 L319.42,611.31 L319.95,611.44 L320.48,611.59 L321.00,611.77 L321.49,611.98 L321.94,612.23 L322.34,612.52 L322.68,612.85 L322.93,613.20 L323.09,613.57 L323.18,613.95 L323.19,614.33 Z" fill="#2a80c0" filter="url(#bc)"/>
<path d="M320.86,615.25 L320.81,615.53 L320.69,615.80 L320.51,616.06 L320.29,616.29 L320.03,616.51 L319.76,616.71 L319.48,616.90 L319.20,617.08 L318.92,617.26 L318.63,617.44 L318.31,617.62 L317.97,617.78 L317.59,617.93 L317.18,618.04 L316.75,618.11 L316.31,618.13 L315.87,618.10 L315.44,618.03 L315.03,617.91 L314.66,617.77 L314.32,617.61 L314.00,617.43 L313.70,617.26 L313.41,617.08 L313.13,616.90 L312.84,616.72 L312.57,616.52 L312.31,616.30 L312.08,616.06 L311.91,615.80 L311.80,615.53 L311.76,615.25 L311.81,614.97 L311.92,614.70 L312.10,614.44 L312.33,614.20 L312.59,613.99 L312.86,613.79 L313.14,613.60 L313.41,613.42 L313.70,613.23 L313.99,613.05 L314.31,612.88 L314.65,612.71 L315.03,612.57 L315.43,612.46 L315.86,612.39 L316.31,612.37 L316.75,612.40 L317.18,612.47 L317.58,612.58 L317.96,612.73 L318.30,612.89 L318.62,613.06 L318.91,613.24 L319.20,613.42 L319.49,613.59 L319.78,613.78 L320.05,613.98 L320.31,614.20 L320.54,614.44 L320.71,614.69 L320.82,614.97 Z" fill="#3a98cc" filter="url(#b1)" opacity="0.85"/>
<ellipse cx="317.09" cy="613.87" rx="1.40" ry="0.97" fill="#206090" opacity="0.3" filter="url(#b1)"/>
<ellipse cx="318.76" cy="614.03" rx="1.16" ry="1.04" fill="#206090" opacity="0.3" filter="url(#b1)"/>
<ellipse cx="315.05" cy="614.24" rx="1.70" ry="1.06" fill="#206090" opacity="0.3" filter="url(#b1)"/>
<path d="M318.02,588.70 L318.01,589.41 L317.90,590.11 L317.71,590.80 L317.44,591.45 L317.09,592.06 L316.67,592.62 L316.20,593.13 L315.69,593.59 L315.15,594.00 L314.58,594.36 L313.99,594.67 L313.39,594.94 L312.76,595.17 L312.12,595.36 L311.47,595.50 L310.80,595.59 L310.12,595.63 L309.43,595.60 L308.74,595.50 L308.06,595.32 L307.40,595.06 L306.78,594.72 L306.20,594.30 L305.69,593.81 L305.24,593.27 L304.86,592.67 L304.55,592.04 L304.32,591.38 L304.16,590.72 L304.06,590.04 L304.01,589.37 L304.02,588.70 L304.07,588.04 L304.17,587.38 L304.31,586.73 L304.50,586.09 L304.74,585.46 L305.03,584.85 L305.38,584.25 L305.79,583.69 L306.27,583.18 L306.80,582.72 L307.39,582.32 L308.03,582.01 L308.70,581.77 L309.39,581.63 L310.10,581.57 L310.80,581.59 L311.49,581.70 L312.16,581.87 L312.80,582.10 L313.42,582.38 L314.00,582.71 L314.56,583.08 L315.09,583.48 L315.59,583.91 L316.06,584.39 L316.50,584.89 L316.90,585.44 L317.25,586.03 L317.55,586.65 L317.79,587.31 L317.95,588.00 Z" fill="#3a5ab0" filter="url(#bc)"/>
<path d="M315.55,589.01 L315.59,589.52 L315.55,590.04 L315.41,590.54 L315.20,591.01 L314.91,591.44 L314.56,591.82 L314.19,592.16 L313.80,592.45 L313.40,592.72 L313.00,592.98 L312.60,593.23 L312.20,593.47 L311.77,593.71 L311.33,593.92 L310.85,594.09 L310.35,594.21 L309.83,594.25 L309.31,594.21 L308.81,594.07 L308.34,593.85 L307.91,593.56 L307.53,593.22 L307.20,592.85 L306.90,592.45 L306.63,592.06 L306.38,591.66 L306.13,591.26 L305.88,590.86 L305.65,590.43 L305.43,589.98 L305.26,589.51 L305.14,589.01 L305.10,588.49 L305.15,587.97 L305.28,587.47 L305.50,587.00 L305.79,586.57 L306.13,586.19 L306.51,585.86 L306.90,585.56 L307.30,585.29 L307.69,585.03 L308.09,584.79 L308.50,584.54 L308.92,584.31 L309.37,584.09 L309.85,583.92 L310.35,583.80 L310.86,583.76 L311.38,583.81 L311.88,583.94 L312.36,584.16 L312.78,584.45 L313.16,584.79 L313.50,585.17 L313.80,585.56 L314.07,585.96 L314.32,586.35 L314.57,586.75 L314.81,587.16 L315.05,587.58 L315.26,588.03 L315.44,588.51 Z" fill="#9aaad8" filter="url(#b1)" opacity="0.85"/>
<ellipse cx="309.77" cy="590.04" rx="1.80" ry="1.90" fill="#2c4484" opacity="0.3" filter="url(#b1)"/>
<ellipse cx="309.30" cy="587.21" rx="1.33" ry="1.48" fill="#2c4484" opacity="0.3" filter="url(#b1)"/>
<ellipse cx="309.81" cy="586.22" rx="1.56" ry="2.06" fill="#2c4484" opacity="0.3" filter="url(#b1)"/>
<path d="M306.07,603.00 L306.06,603.20 L306.03,603.40 L305.97,603.60 L305.89,603.78 L305.79,603.96 L305.67,604.12 L305.54,604.26 L305.39,604.39 L305.24,604.51 L305.08,604.61 L304.91,604.70 L304.74,604.78 L304.56,604.85 L304.38,604.91 L304.19,604.95 L304.00,604.98 L303.80,604.99 L303.61,604.98 L303.41,604.95 L303.21,604.90 L303.03,604.82 L302.85,604.72 L302.69,604.60 L302.54,604.46 L302.41,604.30 L302.31,604.13 L302.22,603.95 L302.16,603.76 L302.11,603.57 L302.08,603.38 L302.07,603.19 L302.07,603.00 L302.08,602.81 L302.10,602.62 L302.14,602.44 L302.20,602.25 L302.26,602.07 L302.35,601.89 L302.45,601.72 L302.56,601.56 L302.70,601.42 L302.86,601.29 L303.03,601.18 L303.21,601.09 L303.40,601.02 L303.60,600.98 L303.80,600.97 L304.00,600.98 L304.20,601.01 L304.39,601.06 L304.57,601.12 L304.75,601.20 L304.91,601.29 L305.07,601.39 L305.22,601.51 L305.37,601.63 L305.51,601.76 L305.63,601.91 L305.75,602.07 L305.85,602.23 L305.94,602.41 L306.00,602.60 L306.05,602.80 Z" fill="#2a3a90" filter="url(#bc)"/>
<path d="M319.74,596.00 L319.76,596.17 L319.76,596.35 L319.75,596.53 L319.71,596.71 L319.64,596.88 L319.55,597.03 L319.43,597.17 L319.29,597.29 L319.13,597.38 L318.98,597.46 L318.82,597.54 L318.66,597.61 L318.51,597.67 L318.35,597.74 L318.18,597.79 L318.00,597.83 L317.82,597.84 L317.64,597.83 L317.46,597.78 L317.30,597.70 L317.15,597.60 L317.01,597.48 L316.89,597.36 L316.77,597.23 L316.66,597.10 L316.54,596.97 L316.43,596.84 L316.33,596.69 L316.24,596.53 L316.18,596.36 L316.15,596.18 L316.14,596.00 L316.17,595.82 L316.23,595.65 L316.30,595.48 L316.38,595.33 L316.47,595.18 L316.55,595.03 L316.64,594.89 L316.74,594.74 L316.85,594.60 L316.98,594.47 L317.12,594.36 L317.29,594.28 L317.46,594.23 L317.64,594.21 L317.82,594.21 L318.00,594.23 L318.17,594.26 L318.34,594.30 L318.51,594.33 L318.67,594.37 L318.84,594.42 L319.01,594.49 L319.17,594.57 L319.32,594.68 L319.44,594.82 L319.54,594.97 L319.61,595.14 L319.66,595.31 L319.69,595.49 L319.71,595.66 L319.73,595.83 Z" fill="#1a2a80" filter="url(#bc)"/>
<path d="M295.77,585.00 L295.76,585.22 L295.71,585.44 L295.62,585.64 L295.51,585.83 L295.38,586.01 L295.27,586.18 L295.15,586.35 L295.03,586.53 L294.90,586.71 L294.75,586.87 L294.57,587.01 L294.37,587.10 L294.15,587.15 L293.93,587.16 L293.71,587.15 L293.50,587.13 L293.29,587.11 L293.08,587.10 L292.87,587.09 L292.65,587.06 L292.43,587.00 L292.23,586.89 L292.06,586.75 L291.92,586.58 L291.81,586.39 L291.71,586.19 L291.63,586.00 L291.53,585.81 L291.44,585.63 L291.34,585.43 L291.27,585.22 L291.23,585.00 L291.24,584.78 L291.29,584.56 L291.38,584.36 L291.49,584.17 L291.62,583.99 L291.73,583.82 L291.85,583.65 L291.97,583.47 L292.10,583.29 L292.25,583.13 L292.43,582.99 L292.63,582.90 L292.85,582.85 L293.07,582.84 L293.29,582.85 L293.50,582.87 L293.71,582.89 L293.92,582.90 L294.13,582.91 L294.35,582.94 L294.57,583.00 L294.77,583.11 L294.94,583.25 L295.08,583.42 L295.19,583.61 L295.29,583.81 L295.37,584.00 L295.47,584.19 L295.56,584.37 L295.66,584.57 L295.73,584.78 Z" fill="#d080a8" filter="url(#bc)"/>
<path d="M293.02,578.50 L293.03,578.72 L293.02,578.94 L292.98,579.16 L292.90,579.37 L292.80,579.57 L292.66,579.75 L292.51,579.91 L292.34,580.04 L292.17,580.17 L291.99,580.28 L291.80,580.37 L291.61,580.46 L291.42,580.54 L291.22,580.62 L291.01,580.67 L290.80,580.72 L290.58,580.73 L290.36,580.72 L290.14,580.68 L289.93,580.60 L289.73,580.50 L289.55,580.36 L289.39,580.21 L289.26,580.04 L289.13,579.87 L289.02,579.69 L288.93,579.50 L288.84,579.31 L288.76,579.12 L288.68,578.92 L288.63,578.71 L288.58,578.50 L288.57,578.28 L288.58,578.06 L288.62,577.84 L288.70,577.63 L288.80,577.43 L288.94,577.25 L289.09,577.09 L289.26,576.96 L289.43,576.83 L289.61,576.72 L289.80,576.63 L289.99,576.54 L290.18,576.46 L290.38,576.38 L290.59,576.33 L290.80,576.28 L291.02,576.27 L291.24,576.28 L291.46,576.32 L291.67,576.40 L291.87,576.50 L292.05,576.64 L292.21,576.79 L292.34,576.96 L292.47,577.13 L292.58,577.31 L292.67,577.50 L292.76,577.69 L292.84,577.88 L292.92,578.08 L292.97,578.29 Z" fill="#c878a8" filter="url(#bc)"/>
</g>
<rect x="272.30" y="565.40" width="72.30" height="58.80" fill="none" stroke="#c0c0c4" stroke-width="0.8"/>
<clipPath id="fclip1299"><rect x="198.10" y="629.20" width="63.40" height="63.50"/></clipPath>
<rect x="198.10" y="629.20" width="63.40" height="63.50" fill="#fff"/>
<g clip-path="url(#fclip1299)">
<path d="M200,633 L258,633 L256,650 L253,673 L234,673 L229,662 L224,673 L201,673 Z" fill="#d8d8d8" stroke="#888" stroke-width="0.5"/>
<path d="M203.0,636.0 L205.0,670.0 L222.0,670.0 L223.0,638.0" fill="none" stroke="#a0a0a0" stroke-width="0.45"/>
<path d="M233.0,670.0 L252.0,670.0 L254.0,637.0" fill="none" stroke="#a0a0a0" stroke-width="0.45"/>
<path d="M203.8,637.6 L205.6,668.4 L221.0,668.4 L222.2,639.6" fill="none" stroke="#a0a0a0" stroke-width="0.45"/>
<path d="M233.8,668.4 L251.2,668.4 L253.2,638.6" fill="none" stroke="#a0a0a0" stroke-width="0.45"/>
<path d="M204.6,639.2 L206.3,666.8 L220.1,666.8 L221.4,641.2" fill="none" stroke="#a0a0a0" stroke-width="0.45"/>
<path d="M234.6,666.8 L250.4,666.8 L252.4,640.2" fill="none" stroke="#a0a0a0" stroke-width="0.45"/>
<path d="M205.4,640.8 L206.9,665.2 L219.1,665.2 L220.6,642.8" fill="none" stroke="#a0a0a0" stroke-width="0.45"/>
<path d="M235.4,665.2 L249.6,665.2 L251.6,641.8" fill="none" stroke="#a0a0a0" stroke-width="0.45"/>
<path d="M206.2,642.4 L207.6,663.6 L218.2,663.6 L219.8,644.4" fill="none" stroke="#a0a0a0" stroke-width="0.45"/>
<path d="M236.2,663.6 L248.8,663.6 L250.8,643.4" fill="none" stroke="#a0a0a0" stroke-width="0.45"/>
<ellipse cx="212.00" cy="652.00" rx="6.00" ry="12.00" fill="#c0c0c0" fill-opacity="0.5" filter="url(#b2)"/>
<path d="M225,642 L230,642 L232,668 L227,670 Z" fill="#e6e6e6" stroke="#999" stroke-width="0.4"/>
<rect x="204" y="633.3" width="46" height="2.8" fill="#606060" filter="url(#bs)"/>
<path d="M250,634 L251,657" stroke="#555" stroke-width="2.4" filter="url(#bs)"/>
<path d="M239.5,637 Q247,635.5 249,640 Q250,649 246,655 Q243.5,657 242,653 Q238,645 239.5,637 Z" fill="#f8f8f8" stroke="#555" stroke-width="1"/>
<path d="M235,636 Q234,650 240,660" fill="none" stroke="#777" stroke-width="0.8"/>
<path d="M213.4,657.9h0.8 M218.3,650.1h0.8 M215.0,663.6h0.8 M220.2,648.1h0.8 M215.0,657.6h0.8 M212.1,665.3h0.8 M212.6,653.8h0.8 M220.9,658.0h0.8 M208.0,650.8h0.8 M211.9,645.2h0.8 M214.2,660.2h0.8 M210.5,662.6h0.8 M220.6,656.2h0.8 M215.6,646.6h0.8 M203.1,665.6h0.8 M207.7,648.7h0.8 M219.9,660.5h0.8 M204.5,651.1h0.8 M206.9,650.0h0.8 M202.1,655.5h0.8 M208.1,652.7h0.8 M205.7,646.4h0.8 M202.7,663.2h0.8 M216.9,656.3h0.8 M204.5,647.3h0.8 M204.4,651.0h0.8 M203.2,650.1h0.8 M206.1,648.2h0.8 M215.1,654.1h0.8 M211.5,651.9h0.8 M212.8,661.3h0.8 M208.2,645.5h0.8 M211.6,652.3h0.8 M217.6,646.4h0.8 M219.5,644.3h0.8 M212.8,653.8h0.8 M208.3,663.6h0.8 M216.0,647.6h0.8 M211.9,657.5h0.8 M202.7,645.9h0.8 M214.0,660.0h0.8 M211.3,653.3h0.8 M212.1,649.7h0.8 M219.5,665.2h0.8 M211.6,644.5h0.8 M209.9,661.7h0.8 M208.5,646.3h0.8 M205.7,659.7h0.8 M214.4,650.3h0.8 M214.5,660.7h0.8" stroke="#f4f4f4" stroke-width="0.80" stroke-opacity="0.9" fill="none"/>
<path d="M201.7,677.6h0.6 M223.4,685.6h0.6 M208.9,677.6h0.6 M214.2,686.6h0.6 M209.4,686.4h0.6 M238.7,677.9h0.6 M231.5,682.3h0.6 M224.5,689.9h0.6 M206.3,676.3h0.6 M254.6,681.6h0.6 M212.3,680.6h0.6 M221.8,689.4h0.6 M213.0,679.0h0.6 M234.3,683.7h0.6 M255.4,687.7h0.6 M221.3,678.9h0.6 M248.7,689.8h0.6 M202.7,686.3h0.6 M250.5,685.1h0.6 M213.4,687.2h0.6 M242.6,678.7h0.6 M237.5,679.1h0.6 M203.4,680.7h0.6 M220.1,681.5h0.6 M237.9,687.7h0.6 M255.8,689.7h0.6 M257.6,687.1h0.6 M218.5,678.5h0.6 M236.6,683.6h0.6 M239.4,677.3h0.6 M212.0,688.9h0.6 M235.3,685.7h0.6 M206.5,681.6h0.6 M252.9,685.1h0.6 M257.5,678.8h0.6 M226.9,687.2h0.6 M226.3,687.0h0.6 M233.0,677.7h0.6 M206.6,689.8h0.6 M207.8,678.7h0.6" stroke="#aaa" stroke-width="0.60" stroke-opacity="0.6" fill="none"/>
</g>
<rect x="198.10" y="629.20" width="63.40" height="63.50" fill="none" stroke="#b0b0b0" stroke-width="0.7"/>
<line x1="226.50" y1="629.20" x2="226.50" y2="692.70" stroke="#555" stroke-width="0.8" />
<line x1="198.10" y1="675.40" x2="261.50" y2="675.40" stroke="#555" stroke-width="0.8" />
<text x="200.50" y="634.20" font-size="4.6" text-anchor="start" fill="#222" >Q5</text>
<text x="200.50" y="639.70" font-size="4.6" text-anchor="start" fill="#222" >47.0</text>
<text x="259.10" y="634.20" font-size="4.6" text-anchor="end" fill="#222" >Q6</text>
<text x="259.10" y="639.70" font-size="4.6" text-anchor="end" fill="#222" >49.5</text>
<text x="200.30" y="685.00" font-size="4.6" text-anchor="start" fill="#333" >Q8</text>
<text x="200.30" y="690.50" font-size="4.6" text-anchor="start" fill="#333" >2.02</text>
<text x="259.30" y="685.00" font-size="4.6" text-anchor="end" fill="#333" >Q7</text>
<text x="259.30" y="690.50" font-size="4.6" text-anchor="end" fill="#333" >1.32</text>
<line x1="198.10" y1="636.26" x2="199.10" y2="636.26" stroke="#777" stroke-width="0.4" />
<line x1="198.10" y1="643.31" x2="199.10" y2="643.31" stroke="#777" stroke-width="0.4" />
<line x1="198.10" y1="650.37" x2="199.10" y2="650.37" stroke="#777" stroke-width="0.4" />
<line x1="198.10" y1="657.42" x2="199.10" y2="657.42" stroke="#777" stroke-width="0.4" />
<line x1="198.10" y1="664.48" x2="199.10" y2="664.48" stroke="#777" stroke-width="0.4" />
<line x1="198.10" y1="671.53" x2="199.10" y2="671.53" stroke="#777" stroke-width="0.4" />
<line x1="198.10" y1="678.59" x2="199.10" y2="678.59" stroke="#777" stroke-width="0.4" />
<line x1="198.10" y1="685.64" x2="199.10" y2="685.64" stroke="#777" stroke-width="0.4" />
<ellipse cx="198.40" cy="678.60" rx="0.8" ry="1.3" fill="#111"/>
<rect x="207.10" y="691.50" width="4" height="1.1" fill="#222"/>
<clipPath id="fclip1343"><rect x="284.20" y="628.70" width="63.50" height="62.80"/></clipPath>
<rect x="284.20" y="628.70" width="63.50" height="62.80" fill="#fff"/>
<g clip-path="url(#fclip1343)">
<ellipse cx="320.00" cy="656.00" rx="9.00" ry="15.00" fill="#e2e2e2" fill-opacity="0.7" filter="url(#b2)"/>
<path d="M327.8,662.3h0.6 M314.1,675.9h0.6 M303.9,658.4h0.6 M331.0,666.4h0.6 M327.6,645.9h0.6 M336.8,651.6h0.6 M319.6,658.4h0.6 M320.2,650.9h0.6 M336.2,659.0h0.6 M329.6,642.7h0.6 M328.2,655.4h0.6 M325.8,661.4h0.6 M326.3,657.1h0.6 M321.4,660.4h0.6 M323.5,659.2h0.6 M315.4,664.4h0.6 M313.3,675.9h0.6 M328.5,673.7h0.6 M319.0,643.0h0.6 M305.2,650.0h0.6 M312.2,653.0h0.6 M315.5,666.7h0.6 M304.7,669.6h0.6 M315.5,660.3h0.6 M303.1,660.6h0.6 M305.0,663.6h0.6 M324.0,660.7h0.6 M317.8,654.3h0.6 M316.2,669.7h0.6 M321.3,661.6h0.6 M338.5,658.8h0.6 M313.0,639.9h0.6 M301.5,659.0h0.6 M329.7,646.0h0.6 M306.6,655.8h0.6 M321.8,670.1h0.6 M318.6,649.3h0.6 M328.0,646.4h0.6 M306.3,647.0h0.6 M315.7,652.1h0.6 M320.0,658.7h0.6 M338.3,661.3h0.6 M304.4,647.1h0.6 M322.0,647.0h0.6 M337.9,654.1h0.6 M314.7,659.6h0.6 M316.8,665.4h0.6 M316.4,662.3h0.6 M315.7,638.7h0.6 M324.1,675.1h0.6 M308.6,651.0h0.6 M329.7,651.2h0.6 M321.5,654.6h0.6 M327.9,656.2h0.6 M337.8,658.4h0.6 M317.2,641.8h0.6 M321.2,645.8h0.6 M328.1,665.4h0.6 M338.0,652.3h0.6 M321.6,671.2h0.6 M302.8,663.8h0.6 M337.3,658.6h0.6 M319.7,672.8h0.6 M323.8,662.2h0.6 M330.0,648.5h0.6 M337.4,654.7h0.6 M320.1,652.5h0.6 M304.0,647.4h0.6 M315.1,657.9h0.6 M327.5,676.2h0.6 M329.3,656.6h0.6 M313.3,673.4h0.6 M311.8,657.6h0.6 M334.9,656.5h0.6 M318.1,660.2h0.6 M303.6,656.9h0.6 M322.5,663.3h0.6 M317.0,639.1h0.6 M310.6,667.6h0.6 M311.0,647.1h0.6 M326.9,665.6h0.6 M322.3,666.5h0.6 M330.1,664.6h0.6 M323.4,676.1h0.6 M311.8,675.7h0.6 M323.7,648.4h0.6 M328.1,670.5h0.6 M306.3,660.4h0.6 M329.9,668.2h0.6 M320.7,644.7h0.6 M319.4,677.2h0.6 M314.6,677.1h0.6 M319.7,657.1h0.6 M313.1,660.5h0.6 M322.8,645.4h0.6 M335.9,668.0h0.6 M324.5,643.1h0.6 M315.3,655.8h0.6 M330.4,656.8h0.6 M306.9,655.9h0.6 M317.5,658.5h0.6 M330.4,649.3h0.6 M306.2,669.5h0.6 M330.3,644.9h0.6 M329.4,651.5h0.6 M328.9,665.2h0.6 M306.5,647.4h0.6 M318.5,642.2h0.6 M307.5,648.3h0.6 M317.9,656.9h0.6 M310.5,655.0h0.6 M333.4,664.9h0.6 M325.5,649.1h0.6 M312.8,644.1h0.6 M312.6,641.0h0.6 M318.2,652.7h0.6 M311.7,650.1h0.6 M306.5,666.2h0.6 M326.9,672.1h0.6 M324.9,655.9h0.6 M329.5,644.5h0.6 M306.3,667.9h0.6 M326.7,661.8h0.6 M335.0,657.8h0.6 M323.4,664.3h0.6 M306.7,662.8h0.6 M328.2,657.4h0.6 M311.7,648.0h0.6 M302.7,651.2h0.6 M332.8,670.4h0.6 M318.9,647.7h0.6 M332.0,669.8h0.6 M326.7,648.6h0.6 M329.2,669.4h0.6 M314.6,647.5h0.6 M314.8,661.4h0.6 M325.7,665.3h0.6 M320.3,651.0h0.6 M324.2,670.9h0.6 M322.3,667.5h0.6 M319.2,648.4h0.6 M314.9,655.8h0.6 M304.2,656.1h0.6 M312.2,660.8h0.6 M329.8,660.0h0.6 M314.9,661.4h0.6 M307.9,664.4h0.6 M334.2,664.4h0.6 M335.3,653.4h0.6 M303.5,663.7h0.6 M337.4,651.4h0.6 M335.9,652.8h0.6 M335.5,651.9h0.6 M316.8,664.5h0.6 M304.1,659.4h0.6 M318.6,669.9h0.6 M323.3,660.0h0.6 M319.0,676.4h0.6 M326.8,660.9h0.6 M304.9,669.6h0.6 M320.8,662.1h0.6 M330.6,661.5h0.6 M335.5,658.6h0.6 M327.7,661.3h0.6 M328.8,662.8h0.6 M326.5,662.3h0.6 M323.2,667.1h0.6 M312.3,648.9h0.6 M320.6,660.1h0.6 M331.6,644.2h0.6" stroke="#888" stroke-width="0.60" stroke-opacity="0.65" fill="none"/>
<path d="M311.63,667.00 L311.52,670.06 L311.36,672.56 L311.15,674.89 L310.89,677.11 L310.55,679.24 L310.09,681.25 L309.50,683.10 L308.78,684.73 L307.93,686.12 L306.96,687.24 L305.91,688.12 L304.80,688.77 L303.63,689.27 L302.41,689.66 L301.10,689.95 L299.50,690.16 L297.88,690.26 L296.52,690.19 L295.25,689.90 L294.07,689.34 L292.98,688.49 L292.00,687.35 L291.14,685.97 L290.40,684.39 L289.76,682.68 L289.20,680.86 L288.69,678.98 L288.23,677.00 L287.81,674.91 L287.46,672.65 L287.18,670.14 L287.03,667.00 L287.02,663.82 L287.17,661.21 L287.48,658.86 L287.93,656.73 L288.49,654.80 L289.14,653.06 L289.84,651.46 L290.58,649.96 L291.37,648.55 L292.21,647.21 L293.12,645.98 L294.13,644.90 L295.24,644.04 L296.47,643.44 L297.84,643.15 L299.50,643.16 L301.14,643.46 L302.46,643.98 L303.64,644.66 L304.74,645.47 L305.77,646.35 L306.75,647.32 L307.70,648.40 L308.60,649.62 L309.42,651.04 L310.15,652.67 L310.75,654.54 L311.20,656.62 L311.49,658.88 L311.65,661.30 L311.68,663.90 Z" fill="#cacaca" stroke="#888" stroke-width="0.45"/>
<path d="M309.63,667.00 L309.61,669.58 L309.53,671.70 L309.36,673.68 L309.12,675.54 L308.79,677.30 L308.38,678.95 L307.87,680.47 L307.28,681.86 L306.59,683.09 L305.82,684.15 L304.97,685.03 L304.05,685.72 L303.06,686.22 L302.01,686.53 L300.87,686.67 L299.50,686.63 L298.14,686.45 L297.04,686.12 L296.04,685.65 L295.11,685.06 L294.23,684.35 L293.41,683.51 L292.65,682.55 L291.93,681.46 L291.28,680.23 L290.69,678.86 L290.17,677.34 L289.74,675.67 L289.39,673.84 L289.15,671.86 L289.01,669.67 L288.97,667.00 L289.04,664.34 L289.21,662.17 L289.48,660.21 L289.83,658.42 L290.27,656.77 L290.78,655.27 L291.35,653.89 L291.99,652.65 L292.68,651.53 L293.43,650.52 L294.23,649.63 L295.09,648.86 L296.02,648.22 L297.02,647.71 L298.13,647.35 L299.50,647.15 L300.89,647.13 L302.03,647.30 L303.09,647.65 L304.07,648.21 L304.98,648.95 L305.81,649.89 L306.56,650.99 L307.22,652.25 L307.80,653.65 L308.29,655.18 L308.70,656.81 L309.03,658.54 L309.28,660.38 L309.47,662.32 L309.58,664.43 Z" fill="#c0c0c0" stroke="#909090" stroke-width="0.45"/>
<path d="M308.01,667.00 L307.94,669.15 L307.78,670.88 L307.54,672.44 L307.24,673.87 L306.89,675.18 L306.49,676.40 L306.05,677.54 L305.58,678.61 L305.06,679.61 L304.49,680.52 L303.86,681.35 L303.16,682.05 L302.40,682.61 L301.56,683.01 L300.63,683.23 L299.50,683.27 L298.38,683.12 L297.47,682.81 L296.65,682.36 L295.90,681.78 L295.22,681.11 L294.58,680.35 L293.98,679.52 L293.42,678.61 L292.90,677.62 L292.42,676.52 L291.99,675.32 L291.62,673.99 L291.33,672.53 L291.12,670.93 L291.00,669.16 L290.99,667.00 L291.06,664.85 L291.22,663.12 L291.46,661.56 L291.76,660.13 L292.11,658.82 L292.51,657.60 L292.95,656.46 L293.42,655.39 L293.94,654.39 L294.51,653.48 L295.14,652.65 L295.84,651.95 L296.60,651.39 L297.44,650.99 L298.37,650.77 L299.50,650.73 L300.62,650.88 L301.53,651.19 L302.35,651.64 L303.10,652.22 L303.78,652.89 L304.42,653.65 L305.02,654.48 L305.58,655.39 L306.10,656.38 L306.58,657.48 L307.01,658.68 L307.38,660.01 L307.67,661.47 L307.88,663.07 L308.00,664.84 Z" fill="#bcbcbc" stroke="#999" stroke-width="0.45"/>
<path d="M306.02,667.00 L305.98,668.65 L305.85,669.98 L305.65,671.16 L305.40,672.24 L305.13,673.23 L304.84,674.19 L304.54,675.12 L304.22,676.01 L303.84,676.85 L303.40,677.59 L302.89,678.17 L302.32,678.59 L301.70,678.84 L301.04,678.96 L300.34,678.99 L299.50,678.98 L298.67,678.95 L297.97,678.89 L297.32,678.77 L296.69,678.54 L296.11,678.16 L295.59,677.61 L295.14,676.90 L294.75,676.07 L294.43,675.16 L294.15,674.20 L293.88,673.23 L293.63,672.22 L293.39,671.14 L293.18,669.96 L293.04,668.65 L292.98,667.00 L293.02,665.35 L293.15,664.02 L293.35,662.84 L293.60,661.76 L293.87,660.77 L294.16,659.81 L294.46,658.88 L294.78,657.99 L295.16,657.15 L295.60,656.41 L296.11,655.83 L296.68,655.41 L297.30,655.16 L297.96,655.04 L298.66,655.01 L299.50,655.02 L300.33,655.05 L301.03,655.11 L301.68,655.23 L302.31,655.46 L302.89,655.84 L303.41,656.39 L303.86,657.10 L304.25,657.93 L304.57,658.84 L304.85,659.80 L305.12,660.77 L305.37,661.78 L305.61,662.86 L305.82,664.04 L305.96,665.35 Z" fill="#c2c2c2" stroke="#a0a0a0" stroke-width="0.45"/>
<path d="M303.95,667.00 L303.89,668.12 L303.79,669.01 L303.68,669.83 L303.55,670.60 L303.41,671.33 L303.24,672.03 L303.04,672.70 L302.81,673.32 L302.53,673.88 L302.21,674.35 L301.84,674.72 L301.44,674.99 L301.01,675.16 L300.56,675.26 L300.08,675.30 L299.50,675.30 L298.92,675.26 L298.45,675.20 L298.00,675.09 L297.57,674.92 L297.17,674.68 L296.80,674.34 L296.46,673.90 L296.17,673.37 L295.92,672.75 L295.73,672.08 L295.57,671.36 L295.43,670.61 L295.32,669.83 L295.23,669.00 L295.15,668.11 L295.09,667.00 L295.07,665.87 L295.09,664.93 L295.16,664.06 L295.28,663.26 L295.47,662.53 L295.70,661.88 L295.96,661.31 L296.26,660.81 L296.57,660.35 L296.90,659.94 L297.24,659.55 L297.60,659.20 L297.99,658.88 L298.42,658.62 L298.90,658.45 L299.50,658.38 L300.10,658.41 L300.58,658.56 L301.02,658.80 L301.41,659.13 L301.77,659.51 L302.11,659.93 L302.42,660.37 L302.72,660.85 L303.00,661.36 L303.27,661.93 L303.50,662.56 L303.70,663.27 L303.85,664.06 L303.94,664.92 L303.97,665.86 Z" fill="#d0d0d0" stroke="#aaa" stroke-width="0.45"/>
<path d="M301.94,667.00 L301.91,667.61 L301.87,668.11 L301.83,668.58 L301.78,669.03 L301.72,669.46 L301.63,669.86 L301.51,670.23 L301.35,670.54 L301.17,670.80 L300.97,671.00 L300.76,671.16 L300.55,671.30 L300.32,671.44 L300.09,671.56 L299.83,671.67 L299.50,671.74 L299.17,671.76 L298.89,671.71 L298.65,671.60 L298.43,671.42 L298.23,671.19 L298.05,670.94 L297.88,670.68 L297.71,670.41 L297.55,670.13 L297.40,669.82 L297.27,669.47 L297.16,669.08 L297.09,668.63 L297.05,668.15 L297.04,667.63 L297.06,667.00 L297.09,666.39 L297.13,665.89 L297.17,665.42 L297.22,664.97 L297.28,664.54 L297.37,664.14 L297.49,663.77 L297.65,663.46 L297.83,663.20 L298.03,663.00 L298.24,662.84 L298.45,662.70 L298.68,662.56 L298.91,662.44 L299.17,662.33 L299.50,662.26 L299.83,662.24 L300.11,662.29 L300.35,662.40 L300.57,662.58 L300.77,662.81 L300.95,663.06 L301.12,663.32 L301.29,663.59 L301.45,663.87 L301.60,664.18 L301.73,664.53 L301.84,664.92 L301.91,665.37 L301.95,665.85 L301.96,666.37 Z" fill="#ececec"/>
<path d="M312.80,667.00 L312.74,670.25 L312.58,672.92 L312.30,675.36 L311.92,677.63 L311.42,679.74 L310.83,681.70 L310.13,683.49 L309.34,685.13 L308.45,686.59 L307.48,687.87 L306.42,688.96 L305.27,689.87 L304.04,690.58 L302.71,691.09 L301.26,691.40 L299.50,691.50 L297.74,691.40 L296.29,691.09 L294.96,690.58 L293.73,689.87 L292.58,688.96 L291.52,687.87 L290.55,686.59 L289.66,685.13 L288.87,683.49 L288.17,681.70 L287.58,679.74 L287.08,677.63 L286.70,675.36 L286.42,672.92 L286.26,670.25 L286.20,667.00 L286.26,663.75 L286.42,661.08 L286.70,658.64 L287.08,656.37 L287.58,654.26 L288.17,652.30 L288.87,650.51 L289.66,648.87 L290.55,647.41 L291.52,646.13 L292.58,645.04 L293.73,644.13 L294.96,643.42 L296.29,642.91 L297.74,642.60 L299.50,642.50 L301.26,642.60 L302.71,642.91 L304.04,643.42 L305.27,644.13 L306.42,645.04 L307.48,646.13 L308.45,647.41 L309.34,648.87 L310.13,650.51 L310.83,652.30 L311.42,654.26 L311.92,656.37 L312.30,658.64 L312.58,661.08 L312.74,663.75 Z" fill="none" stroke="#555" stroke-width="0.6" stroke-dasharray="0.6 1"/>
<path d="M288,650 Q299.5,641 311,650" stroke="#fff" stroke-width="1.1" fill="none"/>
<ellipse cx="300.00" cy="662.00" rx="1.60" ry="6.00" fill="#fff" fill-opacity="0.9" filter="url(#bs)"/>
</g>
<rect x="284.20" y="628.70" width="63.50" height="62.80" fill="none" stroke="#b0b0b0" stroke-width="0.7"/>
<line x1="312.30" y1="628.70" x2="312.30" y2="691.50" stroke="#555" stroke-width="0.8" />
<line x1="284.20" y1="675.40" x2="347.70" y2="675.40" stroke="#555" stroke-width="0.8" />
<text x="286.60" y="633.70" font-size="4.6" text-anchor="start" fill="#222" >Q5</text>
<text x="286.60" y="639.20" font-size="4.6" text-anchor="start" fill="#222" >74.4</text>
<text x="345.30" y="633.70" font-size="4.6" text-anchor="end" fill="#222" >Q6</text>
<text x="345.30" y="639.20" font-size="4.6" text-anchor="end" fill="#222" >2.58</text>
<text x="286.40" y="683.80" font-size="4.6" text-anchor="start" fill="#333" >Q8</text>
<text x="286.40" y="689.30" font-size="4.6" text-anchor="start" fill="#333" >22.9</text>
<text x="345.50" y="683.80" font-size="4.6" text-anchor="end" fill="#333" >Q7</text>
<text x="345.50" y="689.30" font-size="4.6" text-anchor="end" fill="#333" >0.12</text>
<line x1="284.20" y1="635.68" x2="285.20" y2="635.68" stroke="#777" stroke-width="0.4" />
<line x1="284.20" y1="642.66" x2="285.20" y2="642.66" stroke="#777" stroke-width="0.4" />
<line x1="284.20" y1="649.63" x2="285.20" y2="649.63" stroke="#777" stroke-width="0.4" />
<line x1="284.20" y1="656.61" x2="285.20" y2="656.61" stroke="#777" stroke-width="0.4" />
<line x1="284.20" y1="663.59" x2="285.20" y2="663.59" stroke="#777" stroke-width="0.4" />
<line x1="284.20" y1="670.57" x2="285.20" y2="670.57" stroke="#777" stroke-width="0.4" />
<line x1="284.20" y1="677.54" x2="285.20" y2="677.54" stroke="#777" stroke-width="0.4" />
<line x1="284.20" y1="684.52" x2="285.20" y2="684.52" stroke="#777" stroke-width="0.4" />
<ellipse cx="284.50" cy="678.60" rx="0.8" ry="1.3" fill="#111"/>
<rect x="293.20" y="690.30" width="4" height="1.1" fill="#222"/>
<text x="194.00" y="644.20" font-size="7.3" text-anchor="end" fill="#333">10<tspan font-size="5.26" dy="-2.77">5</tspan></text>
<text x="194.00" y="656.90" font-size="7.3" text-anchor="end" fill="#333">10<tspan font-size="5.26" dy="-2.77">4</tspan></text>
<text x="194.00" y="671.20" font-size="7.3" text-anchor="end" fill="#333">10<tspan font-size="5.26" dy="-2.77">3</tspan></text>
<text x="191.40" y="683.00" font-size="7.0" text-anchor="end" fill="#333" >0</text>
<text x="194.00" y="691.10" font-size="7.3" text-anchor="end" fill="#333">−10<tspan font-size="5.26" dy="-2.77">3</tspan></text>
<text x="209.60" y="705.10" font-size="7.0" text-anchor="middle" fill="#333" >0</text>
<text x="219.30" y="705.10" font-size="7.0" fill="#333">10<tspan font-size="5.0" dy="-2.7">3</tspan></text>
<text x="234.30" y="705.10" font-size="7.0" fill="#333">10<tspan font-size="5.0" dy="-2.7">4</tspan></text>
<text x="249.30" y="705.10" font-size="7.0" fill="#333">10<tspan font-size="5.0" dy="-2.7">5</tspan></text>
<text x="279.50" y="644.30" font-size="7.3" text-anchor="end" fill="#333">10<tspan font-size="5.26" dy="-2.77">5</tspan></text>
<text x="279.50" y="657.30" font-size="7.3" text-anchor="end" fill="#333">10<tspan font-size="5.26" dy="-2.77">4</tspan></text>
<text x="279.50" y="671.30" font-size="7.3" text-anchor="end" fill="#333">10<tspan font-size="5.26" dy="-2.77">3</tspan></text>
<text x="276.90" y="683.00" font-size="7.0" text-anchor="end" fill="#333" >0</text>
<text x="279.50" y="691.30" font-size="7.3" text-anchor="end" fill="#333">−10<tspan font-size="5.26" dy="-2.77">3</tspan></text>
<text x="296.50" y="705.10" font-size="7.0" text-anchor="middle" fill="#333" >0</text>
<text x="306.30" y="705.10" font-size="7.0" fill="#333">10<tspan font-size="5.0" dy="-2.7">3</tspan></text>
<text x="320.30" y="705.10" font-size="7.0" fill="#333">10<tspan font-size="5.0" dy="-2.7">4</tspan></text>
<text x="335.30" y="705.10" font-size="7.0" fill="#333">10<tspan font-size="5.0" dy="-2.7">5</tspan></text>
<path d="M172.70,708.90 L172.70,683.50 M172.70,708.90 L199.00,708.90" stroke="#222" stroke-width="1.4" fill="none"/>
<path d="M170.90,684.00 L172.70,680.50 L174.50,684.00 Z" fill="#222"/>
<path d="M198.50,707.10 L202.00,708.90 L198.50,710.70 Z" fill="#222"/>
<text transform="translate(168.10,698.00) rotate(-90)" font-size="6.2" text-anchor="middle" fill="#333" textLength="16" lengthAdjust="spacingAndGlyphs">CD71</text>
<text x="177.30" y="717.50" font-size="6.2" text-anchor="start" fill="#333" textLength="18.00" lengthAdjust="spacingAndGlyphs" >Ter119</text>
<text transform="translate(172.8,634.9) rotate(-90)" font-size="10" text-anchor="middle" fill="#222">Tp53<tspan font-size="5.8" dy="-3.4">−/−</tspan></text>
<rect x="0.5" y="0.5" width="519" height="733" fill="none" stroke="#444" stroke-width="1"/>
</svg>
</body></html>
